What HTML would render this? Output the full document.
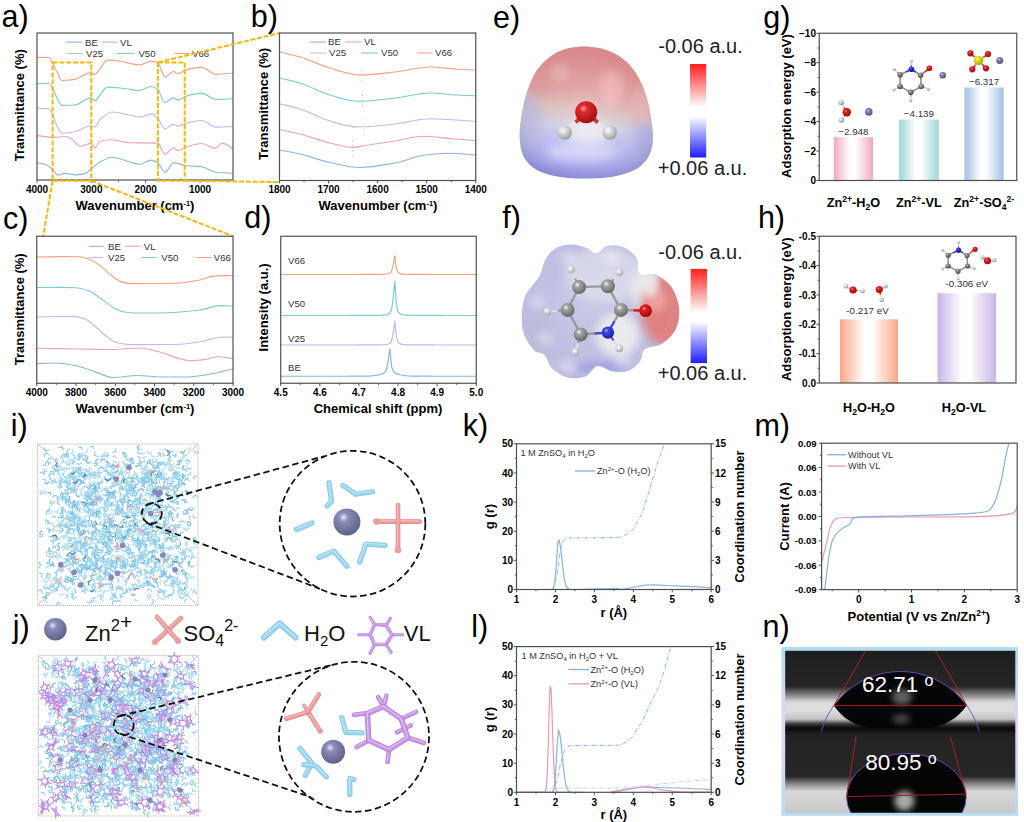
<!DOCTYPE html>
<html><head><meta charset="utf-8"><style>
html,body{margin:0;padding:0;background:#fff;}
svg{display:block;}
text{font-family:"Liberation Sans", sans-serif;}
</style></head><body>
<svg width="1024" height="822" viewBox="0 0 1024 822">
<defs><linearGradient id="eg" x1="0.1" y1="0" x2="0" y2="1"><stop offset="0" stop-color="#d88282"/><stop offset="0.3" stop-color="#dc9696"/><stop offset="0.45" stop-color="#d8bcbc"/><stop offset="0.56" stop-color="#cccce0"/><stop offset="0.7" stop-color="#b8b8f0"/><stop offset="0.86" stop-color="#a2a2ee"/><stop offset="1" stop-color="#8686de"/></linearGradient>
<radialGradient id="eshade" cx="0.5" cy="0.45" r="0.62"><stop offset="0" stop-color="#fff" stop-opacity="0.25"/><stop offset="0.65" stop-color="#fff" stop-opacity="0.05"/><stop offset="1" stop-color="#404060" stop-opacity="0.2"/></radialGradient>
<filter id="blur1" x="-30%" y="-30%" width="160%" height="160%"><feGaussianBlur stdDeviation="3"/></filter>
<filter id="soft" x="-5%" y="-5%" width="110%" height="110%"><feGaussianBlur stdDeviation="0.3"/></filter>
<filter id="blur2" x="-30%" y="-30%" width="160%" height="160%"><feGaussianBlur stdDeviation="5"/></filter>
<clipPath id="eclip"><path d="M584,46.5 C606,46.5 624,55 636,73 C646,89 650,108 652.5,128 C655,150 648,165 630,172 C614,178 600,178.5 585,178.5 C568,178.5 552,177 539,171 C524,164 518,150 520,128 C522,108 526,89 535,73 C547,55 562,46.5 584,46.5 Z"/></clipPath>
<radialGradient id="be4e4e49a9a9a" cx="0.38" cy="0.33" r="0.7"><stop offset="0" stop-color="#ffffff"/><stop offset="0.25" stop-color="#e4e4e4"/><stop offset="1" stop-color="#9a9a9a"/></radialGradient>
<radialGradient id="be02a2aa01010" cx="0.38" cy="0.33" r="0.7"><stop offset="0" stop-color="#ff9a9a"/><stop offset="0.25" stop-color="#e02a2a"/><stop offset="1" stop-color="#a01010"/></radialGradient>
<linearGradient id="cb1" x1="0" y1="0" x2="0" y2="1"><stop offset="0" stop-color="#ff1e1e"/><stop offset="0.4" stop-color="#ffe2e2"/><stop offset="0.46" stop-color="#ffffff"/><stop offset="0.56" stop-color="#ffffff"/><stop offset="0.62" stop-color="#e0e0ff"/><stop offset="1" stop-color="#1e1eff"/></linearGradient>
<clipPath id="fclip"><path d="M545.70,259.00 C548.25,254.58 551.07,250.92 555.30,248.50 C559.53,246.08 565.83,244.58 571.10,244.50 C576.37,244.42 582.75,246.50 586.90,248.00 C591.05,249.50 592.50,253.88 596.00,253.50 C599.50,253.12 603.28,246.75 607.90,245.70 C612.52,244.65 618.93,245.15 623.70,247.20 C628.47,249.25 633.87,253.45 636.50,258.00 C639.13,262.55 636.38,271.75 639.50,274.50 C642.62,277.25 649.95,272.50 655.20,274.50 C660.45,276.50 667.03,280.90 671.00,286.50 C674.97,292.10 678.23,301.00 679.00,308.10 C679.77,315.20 678.40,323.20 675.60,329.10 C672.80,335.00 667.38,340.10 662.20,343.50 C657.02,346.90 648.15,346.58 644.50,349.50 C640.85,352.42 642.90,357.50 640.30,361.00 C637.70,364.50 633.43,368.75 628.90,370.50 C624.37,372.25 618.35,372.25 613.10,371.50 C607.85,370.75 602.07,365.17 597.40,366.00 C592.73,366.83 590.07,374.58 585.10,376.50 C580.13,378.42 573.15,378.92 567.60,377.50 C562.05,376.08 555.65,371.75 551.80,368.00 C547.95,364.25 547.42,357.92 544.50,355.00 C541.58,352.08 537.62,353.65 534.30,350.50 C530.98,347.35 526.70,341.42 524.60,336.10 C522.50,330.78 521.70,325.02 521.70,318.60 C521.70,312.18 522.80,303.15 524.60,297.60 C526.40,292.05 529.93,289.07 532.50,285.30 C535.07,281.53 537.80,279.38 540.00,275.00 C542.20,270.62 543.15,263.42 545.70,259.00Z"/></clipPath>
<radialGradient id="fshade" cx="0.45" cy="0.45" r="0.62"><stop offset="0" stop-color="#fff" stop-opacity="0.15"/><stop offset="0.75" stop-color="#fff" stop-opacity="0.0"/><stop offset="1" stop-color="#505070" stop-opacity="0.18"/></radialGradient>
<radialGradient id="be8e8e8a8a8a8" cx="0.38" cy="0.33" r="0.7"><stop offset="0" stop-color="#ffffff"/><stop offset="0.25" stop-color="#e8e8e8"/><stop offset="1" stop-color="#a8a8a8"/></radialGradient>
<radialGradient id="ba6a6a6646464" cx="0.38" cy="0.33" r="0.7"><stop offset="0" stop-color="#ffffff"/><stop offset="0.25" stop-color="#a6a6a6"/><stop offset="1" stop-color="#646464"/></radialGradient>
<radialGradient id="b3a46e01a20a0" cx="0.38" cy="0.33" r="0.7"><stop offset="0" stop-color="#a8b0ff"/><stop offset="0.25" stop-color="#3a46e0"/><stop offset="1" stop-color="#1a20a0"/></radialGradient>
<radialGradient id="be02020a00808" cx="0.38" cy="0.33" r="0.7"><stop offset="0" stop-color="#ff9090"/><stop offset="0.25" stop-color="#e02020"/><stop offset="1" stop-color="#a00808"/></radialGradient>
<linearGradient id="cb2" x1="0" y1="0" x2="0" y2="1"><stop offset="0" stop-color="#ff1e1e"/><stop offset="0.4" stop-color="#ffe2e2"/><stop offset="0.46" stop-color="#ffffff"/><stop offset="0.56" stop-color="#ffffff"/><stop offset="0.62" stop-color="#e0e0ff"/><stop offset="1" stop-color="#1e1eff"/></linearGradient>
<linearGradient id="gb1" x1="0" y1="0" x2="1" y2="0"><stop offset="0" stop-color="#eeaabf"/><stop offset="0.42" stop-color="#ffffff"/><stop offset="0.55" stop-color="#ffffff"/><stop offset="1" stop-color="#eeaabf"/></linearGradient>
<linearGradient id="gb2" x1="0" y1="0" x2="1" y2="0"><stop offset="0" stop-color="#9ed6d8"/><stop offset="0.42" stop-color="#ffffff"/><stop offset="0.55" stop-color="#ffffff"/><stop offset="1" stop-color="#9ed6d8"/></linearGradient>
<linearGradient id="gb3" x1="0" y1="0" x2="1" y2="0"><stop offset="0" stop-color="#a2c0e2"/><stop offset="0.42" stop-color="#ffffff"/><stop offset="0.55" stop-color="#ffffff"/><stop offset="1" stop-color="#a2c0e2"/></linearGradient>
<radialGradient id="be0e0e0909090" cx="0.38" cy="0.33" r="0.7"><stop offset="0" stop-color="#fff"/><stop offset="0.25" stop-color="#e0e0e0"/><stop offset="1" stop-color="#909090"/></radialGradient>
<radialGradient id="b8486b4505080" cx="0.38" cy="0.33" r="0.7"><stop offset="0" stop-color="#d0d0f0"/><stop offset="0.25" stop-color="#8486b4"/><stop offset="1" stop-color="#505080"/></radialGradient>
<radialGradient id="bd8d8d8909090" cx="0.38" cy="0.33" r="0.7"><stop offset="0" stop-color="#ffffff"/><stop offset="0.25" stop-color="#d8d8d8"/><stop offset="1" stop-color="#909090"/></radialGradient>
<radialGradient id="b8a8a8a4a4a4a" cx="0.38" cy="0.33" r="0.7"><stop offset="0" stop-color="#dddddd"/><stop offset="0.25" stop-color="#8a8a8a"/><stop offset="1" stop-color="#4a4a4a"/></radialGradient>
<radialGradient id="b2a36e01010a0" cx="0.38" cy="0.33" r="0.7"><stop offset="0" stop-color="#9090ff"/><stop offset="0.25" stop-color="#2a36e0"/><stop offset="1" stop-color="#1010a0"/></radialGradient>
<radialGradient id="be8e020a0a000" cx="0.38" cy="0.33" r="0.7"><stop offset="0" stop-color="#ffffa0"/><stop offset="0.25" stop-color="#e8e020"/><stop offset="1" stop-color="#a0a000"/></radialGradient>
<linearGradient id="hb1" x1="0" y1="0" x2="1" y2="0"><stop offset="0" stop-color="#f6a888"/><stop offset="0.42" stop-color="#ffffff"/><stop offset="0.55" stop-color="#ffffff"/><stop offset="1" stop-color="#f6a888"/></linearGradient>
<linearGradient id="hb2" x1="0" y1="0" x2="1" y2="0"><stop offset="0" stop-color="#c8b6e6"/><stop offset="0.42" stop-color="#ffffff"/><stop offset="0.55" stop-color="#ffffff"/><stop offset="1" stop-color="#c8b6e6"/></linearGradient>
<radialGradient id="b8a8cb65e608a" cx="0.38" cy="0.33" r="0.7"><stop offset="0" stop-color="#e4e6f8"/><stop offset="0.25" stop-color="#8a8cb6"/><stop offset="1" stop-color="#5e608a"/></radialGradient>
<linearGradient id="nframe" x1="0" y1="0" x2="0" y2="1"><stop offset="0" stop-color="#b4dcf0"/><stop offset="0.5" stop-color="#e8d4f0"/><stop offset="1" stop-color="#b4dcf0"/></linearGradient>
<linearGradient id="n1bg" x1="0" y1="0" x2="0" y2="1"><stop offset="0" stop-color="#1e1e1e"/><stop offset="0.44" stop-color="#262626"/><stop offset="0.53" stop-color="#787878"/><stop offset="0.63" stop-color="#d8d8d8"/><stop offset="0.72" stop-color="#e0e0e0"/><stop offset="0.84" stop-color="#c4c4c4"/><stop offset="0.9" stop-color="#3a3a3a"/><stop offset="0.94" stop-color="#101010"/><stop offset="1" stop-color="#0c0c0c"/></linearGradient>
<linearGradient id="n2bg" x1="0" y1="0" x2="0" y2="1"><stop offset="0" stop-color="#1c1c1c"/><stop offset="0.1" stop-color="#242424"/><stop offset="0.55" stop-color="#262626"/><stop offset="0.67" stop-color="#a0a0a0"/><stop offset="0.74" stop-color="#d8d8d8"/><stop offset="1" stop-color="#c8c8c8"/></linearGradient></defs>
<path d="M37.00,162.90 C39.67,163.33 42.33,163.49 45.00,164.20 C47.53,164.87 50.07,167.36 52.60,169.50 C54.40,171.02 56.20,175.10 58.00,175.10 C60.33,175.10 62.67,173.30 65.00,173.30 C68.33,173.30 71.67,174.80 75.00,174.80 C78.33,174.80 81.67,174.33 85.00,173.60 C87.00,173.16 89.00,170.64 91.00,169.10 C94.00,166.80 97.00,163.62 100.00,162.00 C104.00,159.84 108.00,157.20 112.00,157.20 C118.00,157.20 124.00,160.51 130.00,162.00 C133.13,162.78 136.27,164.20 139.40,164.20 C143.50,164.20 147.60,160.10 151.70,160.10 C153.80,160.10 155.90,161.51 158.00,162.90 C160.33,164.44 162.67,172.30 165.00,172.30 C167.80,172.30 170.60,162.90 173.40,162.90 C177.77,162.90 182.13,165.25 186.50,165.70 C191.53,166.22 196.57,166.12 201.60,166.70 C206.33,167.24 211.07,171.81 215.80,172.30 C221.53,172.90 227.27,172.97 233.00,173.30" fill="none" stroke="#8cb6e0" stroke-width="1.15" />
<path d="M37.00,135.60 C43.00,136.20 49.00,137.40 55.00,137.40 C58.33,137.40 61.67,136.50 65.00,136.50 C67.33,136.50 69.67,138.02 72.00,139.30 C74.67,140.76 77.33,146.50 80.00,146.50 C82.50,146.50 85.00,144.48 87.50,144.00 C88.67,143.78 89.83,143.50 91.00,143.50 C92.33,143.50 93.67,147.80 95.00,147.80 C96.67,147.80 98.33,141.69 100.00,141.20 C103.33,140.21 106.67,139.70 110.00,139.70 C116.67,139.70 123.33,142.52 130.00,142.70 C139.33,142.96 148.67,142.77 158.00,143.10 C160.30,143.18 162.60,154.40 164.90,154.40 C167.73,154.40 170.57,147.80 173.40,147.80 C174.93,147.80 176.47,150.60 178.00,150.60 C180.83,150.60 183.67,147.77 186.50,146.90 C191.53,145.36 196.57,143.50 201.60,143.50 C206.33,143.50 211.07,148.40 215.80,148.40 C217.87,148.40 219.93,143.10 222.00,143.10 C225.67,143.10 229.33,146.90 233.00,148.80" fill="none" stroke="#f0a2b8" stroke-width="1.15" />
<path d="M37.00,108.20 C40.97,108.40 44.93,108.34 48.90,108.80 C50.13,108.94 51.37,112.37 52.60,114.80 C54.07,117.69 55.53,123.26 57.00,126.00 C58.67,129.11 60.33,133.30 62.00,133.30 C66.33,133.30 70.67,132.59 75.00,131.80 C79.17,131.04 83.33,127.56 87.50,126.50 C88.67,126.20 89.83,125.80 91.00,125.80 C92.33,125.80 93.67,127.10 95.00,127.10 C96.67,127.10 98.33,121.07 100.00,119.50 C104.00,115.74 108.00,112.00 112.00,112.00 C118.00,112.00 124.00,114.06 130.00,115.20 C133.13,115.80 136.27,117.10 139.40,117.10 C143.50,117.10 147.60,113.90 151.70,113.90 C153.80,113.90 155.90,116.51 158.00,118.60 C160.30,120.88 162.60,129.00 164.90,129.00 C167.73,129.00 170.57,124.30 173.40,124.30 C174.93,124.30 176.47,126.10 178.00,126.10 C180.83,126.10 183.67,123.99 186.50,123.30 C191.53,122.07 196.57,120.50 201.60,120.50 C206.33,120.50 211.07,127.10 215.80,127.10 C221.53,127.10 227.27,126.70 233.00,126.50" fill="none" stroke="#c6b8ec" stroke-width="1.15" />
<path d="M37.00,83.70 C40.97,83.53 44.93,83.20 48.90,83.20 C50.13,83.20 51.37,86.30 52.60,88.40 C54.07,90.89 55.53,95.40 57.00,98.00 C58.67,100.95 60.33,105.40 62.00,105.40 C66.33,105.40 70.67,105.25 75.00,105.00 C79.17,104.76 83.33,100.24 87.50,98.80 C88.67,98.40 89.83,97.80 91.00,97.80 C92.33,97.80 93.67,100.70 95.00,100.70 C96.67,100.70 98.33,96.85 100.00,95.00 C102.43,92.29 104.87,87.10 107.30,87.10 C111.53,87.10 115.77,87.60 120.00,88.00 C123.33,88.32 126.67,88.98 130.00,89.40 C133.13,89.80 136.27,90.50 139.40,90.50 C143.27,90.50 147.13,86.50 151.00,86.50 C153.33,86.50 155.67,87.78 158.00,89.40 C160.17,90.90 162.33,102.60 164.50,102.60 C167.47,102.60 170.43,97.90 173.40,97.90 C174.93,97.90 176.47,100.10 178.00,100.10 C180.83,100.10 183.67,96.81 186.50,96.00 C191.53,94.56 196.57,93.10 201.60,93.10 C206.33,93.10 211.07,99.40 215.80,99.40 C221.53,99.40 227.27,99.00 233.00,98.80" fill="none" stroke="#7ccccc" stroke-width="1.15" />
<path d="M37.00,57.30 C40.97,57.37 44.93,57.34 48.90,57.50 C50.13,57.55 51.37,60.89 52.60,63.00 C54.07,65.51 55.53,69.27 57.00,72.00 C58.67,75.10 60.33,80.50 62.00,80.50 C66.33,80.50 70.67,80.03 75.00,79.40 C79.17,78.80 83.33,74.61 87.50,73.40 C88.67,73.06 89.83,72.60 91.00,72.60 C92.33,72.60 93.67,74.30 95.00,74.30 C96.67,74.30 98.33,70.51 100.00,68.60 C102.43,65.81 104.87,60.20 107.30,60.20 C111.53,60.20 115.77,60.56 120.00,61.00 C123.33,61.34 126.67,62.88 130.00,63.50 C133.13,64.08 136.27,64.90 139.40,64.90 C143.50,64.90 147.60,61.10 151.70,61.10 C153.80,61.10 155.90,61.91 158.00,63.00 C160.30,64.20 162.60,77.10 164.90,77.10 C167.73,77.10 170.57,71.50 173.40,71.50 C174.93,71.50 176.47,73.70 178.00,73.70 C180.83,73.70 183.67,70.29 186.50,69.60 C191.53,68.38 196.57,67.30 201.60,67.30 C206.33,67.30 211.07,74.30 215.80,74.30 C221.53,74.30 227.27,73.43 233.00,73.00" fill="none" stroke="#f4a282" stroke-width="1.15" />
<line x1="66.00" y1="42.10" x2="82.00" y2="42.10" stroke="#8cb6e0" stroke-width="1.1"/>
<text x="85.00" y="45.50" font-size="9.60" text-anchor="start" font-weight="normal" fill="#333" >BE</text>
<line x1="102.00" y1="42.10" x2="117.50" y2="42.10" stroke="#f0a2b8" stroke-width="1.1"/>
<text x="120.00" y="45.50" font-size="9.60" text-anchor="start" font-weight="normal" fill="#333" >VL</text>
<line x1="66.00" y1="53.40" x2="82.00" y2="53.40" stroke="#c6b8ec" stroke-width="1.1"/>
<text x="86.00" y="56.80" font-size="9.60" text-anchor="start" font-weight="normal" fill="#333" >V25</text>
<line x1="117.00" y1="53.40" x2="134.60" y2="53.40" stroke="#7ccccc" stroke-width="1.1"/>
<text x="138.40" y="56.80" font-size="9.60" text-anchor="start" font-weight="normal" fill="#333" >V50</text>
<line x1="174.40" y1="53.40" x2="189.00" y2="53.40" stroke="#f4a282" stroke-width="1.1"/>
<text x="192.00" y="56.80" font-size="9.60" text-anchor="start" font-weight="normal" fill="#333" >V66</text>
<rect x="37.00" y="33.00" width="196.00" height="147.00" fill="none" stroke="#505050" stroke-width="1.2"/>
<line x1="37.00" y1="180.00" x2="37.00" y2="182.80" stroke="#505050" stroke-width="1"/>
<line x1="91.33" y1="180.00" x2="91.33" y2="182.80" stroke="#505050" stroke-width="1"/>
<line x1="145.67" y1="180.00" x2="145.67" y2="182.80" stroke="#505050" stroke-width="1"/>
<line x1="200.00" y1="180.00" x2="200.00" y2="182.80" stroke="#505050" stroke-width="1"/>
<line x1="64.17" y1="180.00" x2="64.17" y2="181.60" stroke="#505050" stroke-width="1"/>
<line x1="118.50" y1="180.00" x2="118.50" y2="181.60" stroke="#505050" stroke-width="1"/>
<line x1="172.83" y1="180.00" x2="172.83" y2="181.60" stroke="#505050" stroke-width="1"/>
<line x1="227.17" y1="180.00" x2="227.17" y2="181.60" stroke="#505050" stroke-width="1"/>
<text x="37.00" y="192.80" font-size="10.00" text-anchor="middle" font-weight="bold" fill="#000" >4000</text>
<text x="91.33" y="192.80" font-size="10.00" text-anchor="middle" font-weight="bold" fill="#000" >3000</text>
<text x="145.67" y="192.80" font-size="10.00" text-anchor="middle" font-weight="bold" fill="#000" >2000</text>
<text x="200.00" y="192.80" font-size="10.00" text-anchor="middle" font-weight="bold" fill="#000" >1000</text>
<text x="135.00" y="209.50" font-size="13.00" text-anchor="middle" font-weight="bold" fill="#000" >Wavenumber (cm<tspan font-size="7.5" dy="-4">-1</tspan><tspan dy="4">)</tspan></text>
<text x="0.00" y="0.00" font-size="13.00" text-anchor="middle" font-weight="bold" fill="#000" transform="translate(23.8,105.2) rotate(-90)">Transmittance (%)</text>
<text x="1.50" y="27.30" font-size="30.50" text-anchor="start" font-weight="normal" fill="#000" >a)</text>
<rect x="52.6" y="62.4" width="38.7" height="118.4" fill="none" stroke="#f2b80c" stroke-width="2" stroke-dasharray="5 1.8"/>
<rect x="157.9" y="62.4" width="26.8" height="118.4" fill="none" stroke="#f2b80c" stroke-width="2" stroke-dasharray="5 1.8"/>
<line x1="157.90" y1="62.40" x2="279.50" y2="33.00" stroke="#f2b80c" stroke-width="2.00" stroke-dasharray="5 1.8"/>
<line x1="184.70" y1="180.80" x2="279.50" y2="182.00" stroke="#f2b80c" stroke-width="2.00" stroke-dasharray="5 1.8"/>
<line x1="52.60" y1="180.80" x2="43.20" y2="236.20" stroke="#f2b80c" stroke-width="2.00" stroke-dasharray="5 1.8"/>
<line x1="91.30" y1="180.80" x2="233.00" y2="236.20" stroke="#f2b80c" stroke-width="2.00" stroke-dasharray="5 1.8"/>
<path d="M279.50,150.00 C286.33,151.33 293.17,152.44 300.00,154.00 C310.00,156.28 320.00,160.40 330.00,162.50 C340.00,164.60 350.00,167.50 360.00,167.50 C371.67,167.50 383.33,165.04 395.00,163.00 C405.00,161.25 415.00,156.17 425.00,155.00 C432.50,154.12 440.00,153.25 447.50,153.25 C456.92,153.25 466.33,154.42 475.75,155.00" fill="none" stroke="#8cb6e0" stroke-width="1.15" />
<path d="M279.50,129.50 C286.33,131.00 293.17,132.28 300.00,134.00 C310.00,136.51 320.00,140.62 330.00,143.00 C337.50,144.78 345.00,147.50 352.50,147.50 C356.67,147.50 360.83,146.15 365.00,145.50 C375.00,143.94 385.00,142.61 395.00,141.00 C404.17,139.53 413.33,136.25 422.50,136.25 C432.50,136.25 442.50,137.96 452.50,138.75 C460.25,139.36 468.00,139.92 475.75,140.50" fill="none" stroke="#f0a2b8" stroke-width="1.15" />
<path d="M279.50,103.75 C286.33,105.50 293.17,106.90 300.00,109.00 C310.00,112.08 320.00,118.19 330.00,121.00 C339.17,123.58 348.33,127.00 357.50,127.00 C370.00,127.00 382.50,125.31 395.00,124.00 C406.67,122.78 418.33,118.75 430.00,118.75 C438.33,118.75 446.67,119.54 455.00,120.00 C461.92,120.38 468.83,120.83 475.75,121.25" fill="none" stroke="#c6b8ec" stroke-width="1.15" />
<path d="M279.50,78.00 C286.33,79.67 293.17,80.96 300.00,83.00 C310.00,85.98 320.00,92.11 330.00,95.00 C339.17,97.65 348.33,101.25 357.50,101.25 C370.00,101.25 382.50,99.35 395.00,98.00 C406.67,96.74 418.33,93.00 430.00,93.00 C438.33,93.00 446.67,94.59 455.00,95.00 C461.92,95.34 468.83,95.50 475.75,95.75" fill="none" stroke="#7ccccc" stroke-width="1.15" />
<path d="M279.50,51.75 C286.33,53.50 293.17,54.96 300.00,57.00 C310.00,59.98 320.00,65.15 330.00,68.00 C340.00,70.85 350.00,75.00 360.00,75.00 C371.67,75.00 383.33,73.25 395.00,72.00 C406.67,70.75 418.33,67.00 430.00,67.00 C438.33,67.00 446.67,68.50 455.00,69.00 C461.92,69.41 468.83,69.67 475.75,70.00" fill="none" stroke="#f4a282" stroke-width="1.15" />
<line x1="361.75" y1="70.00" x2="361.75" y2="86.00" stroke="#f4a282" stroke-width="1" stroke-dasharray="1.2 4"/>
<line x1="362.50" y1="95.00" x2="362.50" y2="110.00" stroke="#7ccccc" stroke-width="1" stroke-dasharray="1.2 4"/>
<line x1="364.00" y1="118.00" x2="364.00" y2="136.00" stroke="#c6b8ec" stroke-width="1" stroke-dasharray="1.2 4"/>
<line x1="352.50" y1="140.00" x2="352.50" y2="157.00" stroke="#f0a2b8" stroke-width="1" stroke-dasharray="1.2 4"/>
<line x1="310.00" y1="42.00" x2="326.25" y2="42.00" stroke="#8cb6e0" stroke-width="1.1"/>
<text x="328.00" y="45.40" font-size="9.60" text-anchor="start" font-weight="normal" fill="#333" >BE</text>
<line x1="345.00" y1="42.00" x2="361.25" y2="42.00" stroke="#f0a2b8" stroke-width="1.1"/>
<text x="364.00" y="45.40" font-size="9.60" text-anchor="start" font-weight="normal" fill="#333" >VL</text>
<line x1="310.00" y1="53.00" x2="326.25" y2="53.00" stroke="#c6b8ec" stroke-width="1.1"/>
<text x="329.00" y="56.40" font-size="9.60" text-anchor="start" font-weight="normal" fill="#333" >V25</text>
<line x1="361.25" y1="53.00" x2="377.50" y2="53.00" stroke="#7ccccc" stroke-width="1.1"/>
<text x="381.00" y="56.40" font-size="9.60" text-anchor="start" font-weight="normal" fill="#333" >V50</text>
<line x1="417.50" y1="53.00" x2="432.50" y2="53.00" stroke="#f4a282" stroke-width="1.1"/>
<text x="435.00" y="56.40" font-size="9.60" text-anchor="start" font-weight="normal" fill="#333" >V66</text>
<rect x="279.50" y="33.00" width="196.25" height="147.50" fill="none" stroke="#505050" stroke-width="1.2"/>
<line x1="279.50" y1="180.50" x2="279.50" y2="183.30" stroke="#505050" stroke-width="1"/>
<line x1="328.56" y1="180.50" x2="328.56" y2="183.30" stroke="#505050" stroke-width="1"/>
<line x1="377.62" y1="180.50" x2="377.62" y2="183.30" stroke="#505050" stroke-width="1"/>
<line x1="426.69" y1="180.50" x2="426.69" y2="183.30" stroke="#505050" stroke-width="1"/>
<line x1="475.75" y1="180.50" x2="475.75" y2="183.30" stroke="#505050" stroke-width="1"/>
<line x1="304.03" y1="180.50" x2="304.03" y2="182.10" stroke="#505050" stroke-width="1"/>
<line x1="353.09" y1="180.50" x2="353.09" y2="182.10" stroke="#505050" stroke-width="1"/>
<line x1="402.16" y1="180.50" x2="402.16" y2="182.10" stroke="#505050" stroke-width="1"/>
<line x1="451.22" y1="180.50" x2="451.22" y2="182.10" stroke="#505050" stroke-width="1"/>
<text x="279.50" y="192.80" font-size="10.00" text-anchor="middle" font-weight="bold" fill="#000" >1800</text>
<text x="328.56" y="192.80" font-size="10.00" text-anchor="middle" font-weight="bold" fill="#000" >1700</text>
<text x="377.62" y="192.80" font-size="10.00" text-anchor="middle" font-weight="bold" fill="#000" >1600</text>
<text x="426.69" y="192.80" font-size="10.00" text-anchor="middle" font-weight="bold" fill="#000" >1500</text>
<text x="475.75" y="192.80" font-size="10.00" text-anchor="middle" font-weight="bold" fill="#000" >1400</text>
<text x="378.00" y="209.50" font-size="13.00" text-anchor="middle" font-weight="bold" fill="#000" >Wavenumber (cm<tspan font-size="7.5" dy="-4">-1</tspan><tspan dy="4">)</tspan></text>
<text x="0.00" y="0.00" font-size="13.00" text-anchor="middle" font-weight="bold" fill="#000" transform="translate(268,104) rotate(-90)">Transmittance (%)</text>
<text x="250.75" y="27.20" font-size="30.50" text-anchor="start" font-weight="normal" fill="#000" >b)</text>
<path d="M36.75,363.75 C42.83,363.50 48.92,363.00 55.00,363.00 C61.67,363.00 68.33,364.30 75.00,365.50 C80.00,366.40 85.00,368.32 90.00,370.00 C93.33,371.12 96.67,372.63 100.00,373.75 C104.17,375.14 108.33,377.50 112.50,377.50 C120.83,377.50 129.17,375.50 137.50,375.50 C145.83,375.50 154.17,377.00 162.50,377.00 C170.83,377.00 179.17,377.00 187.50,377.00 C195.83,377.00 204.17,375.18 212.50,373.75 C219.33,372.58 226.17,370.42 233.00,368.75" fill="none" stroke="#8cb6e0" stroke-width="1.15" />
<path d="M36.75,348.25 C51.17,348.50 65.58,348.77 80.00,349.00 C90.83,349.18 101.67,349.50 112.50,349.50 C121.67,349.50 130.83,348.00 140.00,348.00 C146.67,348.00 153.33,350.33 160.00,352.00 C166.67,353.67 173.33,357.12 180.00,358.75 C183.33,359.56 186.67,360.75 190.00,360.75 C195.00,360.75 200.00,360.10 205.00,359.50 C209.33,358.98 213.67,356.75 218.00,356.75 C223.00,356.75 228.00,358.08 233.00,358.75" fill="none" stroke="#f0a2b8" stroke-width="1.15" />
<path d="M36.75,317.00 C44.50,316.83 52.25,316.50 60.00,316.50 C65.33,316.50 70.67,316.53 76.00,316.60 C79.33,316.64 82.67,318.10 86.00,319.50 C89.67,321.04 93.33,325.01 97.00,328.00 C100.67,330.99 104.33,334.95 108.00,337.50 C111.00,339.59 114.00,342.10 117.00,342.80 C121.33,343.81 125.67,344.60 130.00,344.60 C145.00,344.60 160.00,344.57 175.00,344.50 C183.33,344.46 191.67,343.00 200.00,341.75 C206.67,340.75 213.33,337.38 220.00,337.20 C224.33,337.08 228.67,337.07 233.00,337.00" fill="none" stroke="#c6b8ec" stroke-width="1.15" />
<path d="M36.75,287.50 C44.50,287.47 52.25,287.40 60.00,287.40 C65.33,287.40 70.67,287.51 76.00,287.70 C80.00,287.84 84.00,289.15 88.00,290.50 C92.67,292.08 97.33,296.35 102.00,299.50 C106.00,302.20 110.00,305.91 114.00,308.00 C117.00,309.57 120.00,311.30 123.00,311.80 C127.00,312.47 131.00,313.00 135.00,313.00 C143.33,313.00 151.67,313.00 160.00,313.00 C173.33,313.00 186.67,311.58 200.00,310.00 C206.67,309.21 213.33,305.60 220.00,305.60 C224.33,305.60 228.67,306.03 233.00,306.25" fill="none" stroke="#7ccccc" stroke-width="1.15" />
<path d="M36.75,257.00 C44.50,256.87 52.25,256.60 60.00,256.60 C66.00,256.60 72.00,256.66 78.00,256.80 C81.33,256.88 84.67,257.83 88.00,258.80 C92.00,259.96 96.00,262.77 100.00,265.50 C104.00,268.23 108.00,273.11 112.00,276.00 C115.00,278.16 118.00,280.74 121.00,281.60 C124.67,282.65 128.33,283.60 132.00,283.60 C146.33,283.60 160.67,283.49 175.00,283.25 C183.33,283.11 191.67,281.51 200.00,280.00 C205.00,279.09 210.00,276.11 215.00,275.90 C221.00,275.65 227.00,275.63 233.00,275.50" fill="none" stroke="#f4a282" stroke-width="1.15" />
<line x1="88.75" y1="246.25" x2="103.75" y2="246.25" stroke="#8cb6e0" stroke-width="1.1"/>
<text x="108.00" y="249.65" font-size="9.60" text-anchor="start" font-weight="normal" fill="#333" >BE</text>
<line x1="125.00" y1="246.25" x2="140.00" y2="246.25" stroke="#f0a2b8" stroke-width="1.1"/>
<text x="143.75" y="249.65" font-size="9.60" text-anchor="start" font-weight="normal" fill="#333" >VL</text>
<line x1="88.75" y1="257.50" x2="103.75" y2="257.50" stroke="#c6b8ec" stroke-width="1.1"/>
<text x="108.00" y="260.90" font-size="9.60" text-anchor="start" font-weight="normal" fill="#333" >V25</text>
<line x1="141.25" y1="257.50" x2="156.25" y2="257.50" stroke="#7ccccc" stroke-width="1.1"/>
<text x="161.25" y="260.90" font-size="9.60" text-anchor="start" font-weight="normal" fill="#333" >V50</text>
<line x1="196.25" y1="257.50" x2="211.25" y2="257.50" stroke="#f4a282" stroke-width="1.1"/>
<text x="213.75" y="260.90" font-size="9.60" text-anchor="start" font-weight="normal" fill="#333" >V66</text>
<rect x="36.75" y="236.25" width="196.25" height="147.00" fill="none" stroke="#505050" stroke-width="1.2"/>
<line x1="36.75" y1="383.25" x2="36.75" y2="386.05" stroke="#505050" stroke-width="1"/>
<line x1="76.00" y1="383.25" x2="76.00" y2="386.05" stroke="#505050" stroke-width="1"/>
<line x1="115.25" y1="383.25" x2="115.25" y2="386.05" stroke="#505050" stroke-width="1"/>
<line x1="154.50" y1="383.25" x2="154.50" y2="386.05" stroke="#505050" stroke-width="1"/>
<line x1="193.75" y1="383.25" x2="193.75" y2="386.05" stroke="#505050" stroke-width="1"/>
<line x1="233.00" y1="383.25" x2="233.00" y2="386.05" stroke="#505050" stroke-width="1"/>
<line x1="56.38" y1="383.25" x2="56.38" y2="384.85" stroke="#505050" stroke-width="1"/>
<line x1="95.62" y1="383.25" x2="95.62" y2="384.85" stroke="#505050" stroke-width="1"/>
<line x1="134.88" y1="383.25" x2="134.88" y2="384.85" stroke="#505050" stroke-width="1"/>
<line x1="174.12" y1="383.25" x2="174.12" y2="384.85" stroke="#505050" stroke-width="1"/>
<line x1="213.38" y1="383.25" x2="213.38" y2="384.85" stroke="#505050" stroke-width="1"/>
<text x="36.75" y="396.00" font-size="10.00" text-anchor="middle" font-weight="bold" fill="#000" >4000</text>
<text x="76.00" y="396.00" font-size="10.00" text-anchor="middle" font-weight="bold" fill="#000" >3800</text>
<text x="115.25" y="396.00" font-size="10.00" text-anchor="middle" font-weight="bold" fill="#000" >3600</text>
<text x="154.50" y="396.00" font-size="10.00" text-anchor="middle" font-weight="bold" fill="#000" >3400</text>
<text x="193.75" y="396.00" font-size="10.00" text-anchor="middle" font-weight="bold" fill="#000" >3200</text>
<text x="233.00" y="396.00" font-size="10.00" text-anchor="middle" font-weight="bold" fill="#000" >3000</text>
<text x="135.00" y="413.00" font-size="13.00" text-anchor="middle" font-weight="bold" fill="#000" >Wavenumber (cm<tspan font-size="7.5" dy="-4">-1</tspan><tspan dy="4">)</tspan></text>
<text x="0.00" y="0.00" font-size="13.00" text-anchor="middle" font-weight="bold" fill="#000" transform="translate(23.8,309.3) rotate(-90)">Transmittance (%)</text>
<text x="3.10" y="228.70" font-size="30.50" text-anchor="start" font-weight="normal" fill="#000" >c)</text>
<path d="M280.75,274.50 L282.38,274.50 L284.01,274.50 L285.64,274.50 L287.27,274.50 L288.90,274.50 L290.52,274.50 L292.15,274.50 L293.78,274.50 L295.41,274.50 L297.04,274.50 L298.67,274.50 L300.30,274.50 L301.93,274.50 L303.56,274.50 L305.19,274.50 L306.82,274.50 L308.45,274.50 L310.07,274.50 L311.70,274.50 L313.33,274.50 L314.96,274.50 L316.59,274.49 L318.22,274.49 L319.85,274.49 L321.48,274.49 L323.11,274.49 L324.74,274.49 L326.37,274.49 L328.00,274.49 L329.62,274.49 L331.25,274.49 L332.88,274.49 L334.51,274.49 L336.14,274.49 L337.77,274.49 L339.40,274.49 L341.03,274.49 L342.66,274.49 L344.29,274.49 L345.92,274.49 L347.55,274.49 L349.18,274.48 L350.80,274.48 L352.43,274.48 L354.06,274.48 L355.69,274.48 L357.32,274.48 L358.95,274.48 L360.58,274.47 L362.21,274.47 L363.84,274.47 L365.47,274.46 L367.10,274.46 L368.73,274.45 L370.35,274.45 L371.98,274.44 L373.61,274.43 L375.24,274.42 L376.87,274.40 L378.50,274.38 L380.13,274.35 L381.76,274.31 L383.39,274.25 L385.02,274.16 L386.65,274.01 L388.27,273.72 L389.90,273.12 L391.53,271.48 L393.16,265.18 L394.79,255.53 L396.42,268.55 L398.05,272.29 L399.68,273.40 L401.31,273.85 L402.94,274.07 L404.57,274.20 L406.20,274.27 L407.82,274.33 L409.45,274.36 L411.08,274.39 L412.71,274.41 L414.34,274.42 L415.97,274.43 L417.60,274.44 L419.23,274.45 L420.86,274.46 L422.49,274.46 L424.12,274.46 L425.75,274.47 L427.38,274.47 L429.00,274.47 L430.63,274.48 L432.26,274.48 L433.89,274.48 L435.52,274.48 L437.15,274.48 L438.78,274.48 L440.41,274.49 L442.04,274.49 L443.67,274.49 L445.30,274.49 L446.93,274.49 L448.55,274.49 L450.18,274.49 L451.81,274.49 L453.44,274.49 L455.07,274.49 L456.70,274.49 L458.33,274.49 L459.96,274.49 L461.59,274.49 L463.22,274.49 L464.85,274.49 L466.48,274.49 L468.10,274.49 L469.73,274.49 L471.36,274.49 L472.99,274.49 L474.62,274.50 L476.25,274.50" fill="none" stroke="#f4a282" stroke-width="1.20" />
<text x="288.00" y="263.50" font-size="9.60" text-anchor="start" font-weight="normal" fill="#333" >V66</text>
<path d="M280.75,315.50 L282.38,315.50 L284.01,315.50 L285.64,315.50 L287.27,315.50 L288.90,315.49 L290.52,315.49 L292.15,315.49 L293.78,315.49 L295.41,315.49 L297.04,315.49 L298.67,315.49 L300.30,315.49 L301.93,315.49 L303.56,315.49 L305.19,315.49 L306.82,315.49 L308.45,315.49 L310.07,315.49 L311.70,315.49 L313.33,315.49 L314.96,315.49 L316.59,315.49 L318.22,315.49 L319.85,315.49 L321.48,315.49 L323.11,315.49 L324.74,315.49 L326.37,315.49 L328.00,315.49 L329.62,315.49 L331.25,315.49 L332.88,315.48 L334.51,315.48 L336.14,315.48 L337.77,315.48 L339.40,315.48 L341.03,315.48 L342.66,315.48 L344.29,315.48 L345.92,315.48 L347.55,315.47 L349.18,315.47 L350.80,315.47 L352.43,315.47 L354.06,315.47 L355.69,315.46 L357.32,315.46 L358.95,315.45 L360.58,315.45 L362.21,315.45 L363.84,315.44 L365.47,315.43 L367.10,315.42 L368.73,315.41 L370.35,315.40 L371.98,315.39 L373.61,315.37 L375.24,315.35 L376.87,315.32 L378.50,315.28 L380.13,315.23 L381.76,315.15 L383.39,315.04 L385.02,314.88 L386.65,314.60 L388.27,314.09 L389.90,312.99 L391.53,310.00 L393.16,298.48 L394.79,280.88 L396.42,304.64 L398.05,311.47 L399.68,313.49 L401.31,314.31 L402.94,314.72 L404.57,314.95 L406.20,315.09 L407.82,315.18 L409.45,315.25 L411.08,315.29 L412.71,315.33 L414.34,315.36 L415.97,315.38 L417.60,315.39 L419.23,315.41 L420.86,315.42 L422.49,315.43 L424.12,315.44 L425.75,315.44 L427.38,315.45 L429.00,315.45 L430.63,315.46 L432.26,315.46 L433.89,315.46 L435.52,315.47 L437.15,315.47 L438.78,315.47 L440.41,315.47 L442.04,315.47 L443.67,315.48 L445.30,315.48 L446.93,315.48 L448.55,315.48 L450.18,315.48 L451.81,315.48 L453.44,315.48 L455.07,315.48 L456.70,315.49 L458.33,315.49 L459.96,315.49 L461.59,315.49 L463.22,315.49 L464.85,315.49 L466.48,315.49 L468.10,315.49 L469.73,315.49 L471.36,315.49 L472.99,315.49 L474.62,315.49 L476.25,315.49" fill="none" stroke="#7ccccc" stroke-width="1.20" />
<text x="288.00" y="306.50" font-size="9.60" text-anchor="start" font-weight="normal" fill="#333" >V50</text>
<path d="M280.75,345.00 L282.38,345.00 L284.01,345.00 L285.64,345.00 L287.27,345.00 L288.90,345.00 L290.52,345.00 L292.15,345.00 L293.78,345.00 L295.41,345.00 L297.04,345.00 L298.67,345.00 L300.30,345.00 L301.93,345.00 L303.56,345.00 L305.19,345.00 L306.82,344.99 L308.45,344.99 L310.07,344.99 L311.70,344.99 L313.33,344.99 L314.96,344.99 L316.59,344.99 L318.22,344.99 L319.85,344.99 L321.48,344.99 L323.11,344.99 L324.74,344.99 L326.37,344.99 L328.00,344.99 L329.62,344.99 L331.25,344.99 L332.88,344.99 L334.51,344.99 L336.14,344.99 L337.77,344.99 L339.40,344.99 L341.03,344.99 L342.66,344.99 L344.29,344.98 L345.92,344.98 L347.55,344.98 L349.18,344.98 L350.80,344.98 L352.43,344.98 L354.06,344.98 L355.69,344.97 L357.32,344.97 L358.95,344.97 L360.58,344.97 L362.21,344.96 L363.84,344.96 L365.47,344.95 L367.10,344.95 L368.73,344.94 L370.35,344.93 L371.98,344.92 L373.61,344.91 L375.24,344.89 L376.87,344.87 L378.50,344.85 L380.13,344.81 L381.76,344.76 L383.39,344.68 L385.02,344.56 L386.65,344.37 L388.27,344.01 L389.90,343.24 L391.53,341.16 L393.16,333.11 L394.79,320.82 L396.42,337.41 L398.05,342.19 L399.68,343.60 L401.31,344.17 L402.94,344.45 L404.57,344.61 L406.20,344.71 L407.82,344.78 L409.45,344.82 L411.08,344.86 L412.71,344.88 L414.34,344.90 L415.97,344.91 L417.60,344.93 L419.23,344.94 L420.86,344.94 L422.49,344.95 L424.12,344.95 L425.75,344.96 L427.38,344.96 L429.00,344.97 L430.63,344.97 L432.26,344.97 L433.89,344.97 L435.52,344.98 L437.15,344.98 L438.78,344.98 L440.41,344.98 L442.04,344.98 L443.67,344.98 L445.30,344.98 L446.93,344.99 L448.55,344.99 L450.18,344.99 L451.81,344.99 L453.44,344.99 L455.07,344.99 L456.70,344.99 L458.33,344.99 L459.96,344.99 L461.59,344.99 L463.22,344.99 L464.85,344.99 L466.48,344.99 L468.10,344.99 L469.73,344.99 L471.36,344.99 L472.99,344.99 L474.62,344.99 L476.25,344.99" fill="none" stroke="#c6b8ec" stroke-width="1.20" />
<text x="288.00" y="341.50" font-size="9.60" text-anchor="start" font-weight="normal" fill="#333" >V25</text>
<path d="M280.75,376.25 L282.38,376.25 L284.01,376.25 L285.64,376.25 L287.27,376.25 L288.90,376.25 L290.52,376.25 L292.15,376.25 L293.78,376.25 L295.41,376.25 L297.04,376.24 L298.67,376.24 L300.30,376.24 L301.93,376.24 L303.56,376.24 L305.19,376.24 L306.82,376.24 L308.45,376.24 L310.07,376.24 L311.70,376.24 L313.33,376.24 L314.96,376.24 L316.59,376.24 L318.22,376.24 L319.85,376.24 L321.48,376.24 L323.11,376.24 L324.74,376.24 L326.37,376.24 L328.00,376.24 L329.62,376.24 L331.25,376.24 L332.88,376.24 L334.51,376.24 L336.14,376.23 L337.77,376.23 L339.40,376.23 L341.03,376.23 L342.66,376.23 L344.29,376.23 L345.92,376.23 L347.55,376.23 L349.18,376.22 L350.80,376.22 L352.43,376.22 L354.06,376.22 L355.69,376.21 L357.32,376.21 L358.95,376.20 L360.58,376.19 L362.21,376.18 L363.84,376.16 L365.47,376.13 L367.10,376.09 L368.73,376.03 L370.35,375.94 L371.98,375.81 L373.61,375.65 L375.24,375.43 L376.87,375.16 L378.50,374.82 L380.13,374.41 L381.76,373.90 L383.39,373.22 L385.02,372.09 L386.65,369.46 L388.27,359.75 L389.90,348.86 L391.53,366.28 L393.16,371.10 L394.79,372.74 L396.42,373.59 L398.05,374.17 L399.68,374.62 L401.31,375.00 L402.94,375.30 L404.57,375.55 L406.20,375.74 L407.82,375.88 L409.45,375.99 L411.08,376.06 L412.71,376.11 L414.34,376.15 L415.97,376.17 L417.60,376.19 L419.23,376.20 L420.86,376.20 L422.49,376.21 L424.12,376.21 L425.75,376.22 L427.38,376.22 L429.00,376.22 L430.63,376.22 L432.26,376.23 L433.89,376.23 L435.52,376.23 L437.15,376.23 L438.78,376.23 L440.41,376.23 L442.04,376.23 L443.67,376.24 L445.30,376.24 L446.93,376.24 L448.55,376.24 L450.18,376.24 L451.81,376.24 L453.44,376.24 L455.07,376.24 L456.70,376.24 L458.33,376.24 L459.96,376.24 L461.59,376.24 L463.22,376.24 L464.85,376.24 L466.48,376.24 L468.10,376.24 L469.73,376.24 L471.36,376.24 L472.99,376.24 L474.62,376.24 L476.25,376.24" fill="none" stroke="#8cb6e0" stroke-width="1.20" />
<text x="288.00" y="370.50" font-size="9.60" text-anchor="start" font-weight="normal" fill="#333" >BE</text>
<rect x="280.75" y="236.25" width="195.50" height="147.00" fill="none" stroke="#505050" stroke-width="1.2"/>
<line x1="280.75" y1="383.25" x2="280.75" y2="386.05" stroke="#505050" stroke-width="1"/>
<line x1="319.85" y1="383.25" x2="319.85" y2="386.05" stroke="#505050" stroke-width="1"/>
<line x1="358.95" y1="383.25" x2="358.95" y2="386.05" stroke="#505050" stroke-width="1"/>
<line x1="398.05" y1="383.25" x2="398.05" y2="386.05" stroke="#505050" stroke-width="1"/>
<line x1="437.15" y1="383.25" x2="437.15" y2="386.05" stroke="#505050" stroke-width="1"/>
<line x1="476.25" y1="383.25" x2="476.25" y2="386.05" stroke="#505050" stroke-width="1"/>
<line x1="300.30" y1="383.25" x2="300.30" y2="384.85" stroke="#505050" stroke-width="1"/>
<line x1="339.40" y1="383.25" x2="339.40" y2="384.85" stroke="#505050" stroke-width="1"/>
<line x1="378.50" y1="383.25" x2="378.50" y2="384.85" stroke="#505050" stroke-width="1"/>
<line x1="417.60" y1="383.25" x2="417.60" y2="384.85" stroke="#505050" stroke-width="1"/>
<line x1="456.70" y1="383.25" x2="456.70" y2="384.85" stroke="#505050" stroke-width="1"/>
<text x="280.75" y="396.00" font-size="10.00" text-anchor="middle" font-weight="bold" fill="#000" >4.5</text>
<text x="319.85" y="396.00" font-size="10.00" text-anchor="middle" font-weight="bold" fill="#000" >4.6</text>
<text x="358.95" y="396.00" font-size="10.00" text-anchor="middle" font-weight="bold" fill="#000" >4.7</text>
<text x="398.05" y="396.00" font-size="10.00" text-anchor="middle" font-weight="bold" fill="#000" >4.8</text>
<text x="437.15" y="396.00" font-size="10.00" text-anchor="middle" font-weight="bold" fill="#000" >4.9</text>
<text x="476.25" y="396.00" font-size="10.00" text-anchor="middle" font-weight="bold" fill="#000" >5.0</text>
<text x="378.00" y="413.00" font-size="13.00" text-anchor="middle" font-weight="bold" fill="#000" >Chemical shift (ppm)</text>
<text x="0.00" y="0.00" font-size="13.00" text-anchor="middle" font-weight="bold" fill="#000" transform="translate(268,307.4) rotate(-90)">Intensity (a.u.)</text>
<text x="244.30" y="228.40" font-size="30.50" text-anchor="start" font-weight="normal" fill="#000" >d)</text>
<text x="493.10" y="27.50" font-size="30.50" text-anchor="start" font-weight="normal" fill="#000" >e)</text>
<path d="M584,46.5 C606,46.5 624,55 636,73 C646,89 650,108 652.5,128 C655,150 648,165 630,172 C614,178 600,178.5 585,178.5 C568,178.5 552,177 539,171 C524,164 518,150 520,128 C522,108 526,89 535,73 C547,55 562,46.5 584,46.5 Z" fill="url(#eg)"/>
<g clip-path="url(#eclip)">
<ellipse cx="528" cy="120" rx="14" ry="26" fill="#b4b4d8" opacity="0.7" filter="url(#blur2)"/>
<ellipse cx="640" cy="108" rx="12" ry="22" fill="#e4b4b8" opacity="0.6" filter="url(#blur2)"/>
<ellipse cx="645" cy="140" rx="12" ry="18" fill="#a8a8e8" opacity="0.7" filter="url(#blur2)"/>
<ellipse cx="588" cy="132" rx="22" ry="12" fill="#f6f0f2" opacity="0.75" filter="url(#blur2)"/>
<ellipse cx="582" cy="152" rx="36" ry="10" fill="#e8e8fc" opacity="0.6" filter="url(#blur2)"/>
<ellipse cx="560" cy="72" rx="10" ry="9" fill="#ffffff" opacity="0.2" filter="url(#blur1)"/>
<ellipse cx="612" cy="88" rx="12" ry="18" fill="#ffc8c8" opacity="0.45" filter="url(#blur2)"/>
</g>
<path d="M584,46.5 C606,46.5 624,55 636,73 C646,89 650,108 652.5,128 C655,150 648,165 630,172 C614,178 600,178.5 585,178.5 C568,178.5 552,177 539,171 C524,164 518,150 520,128 C522,108 526,89 535,73 C547,55 562,46.5 584,46.5 Z" fill="url(#eshade)"/>
<line x1="586.20" y1="112.30" x2="575.45" y2="122.45" stroke="#d83030" stroke-width="3.80"/>
<line x1="575.45" y1="122.45" x2="564.70" y2="132.60" stroke="#e6e6e6" stroke-width="3.80"/>
<line x1="586.20" y1="112.30" x2="597.95" y2="122.45" stroke="#d83030" stroke-width="3.80"/>
<line x1="597.95" y1="122.45" x2="609.70" y2="132.60" stroke="#e6e6e6" stroke-width="3.80"/>
<circle cx="564.70" cy="132.60" r="7.20" fill="url(#be4e4e49a9a9a)"/>
<circle cx="609.70" cy="132.60" r="7.20" fill="url(#be4e4e49a9a9a)"/>
<circle cx="586.20" cy="112.30" r="11.00" fill="url(#be02a2aa01010)"/>
<rect x="690.00" y="64.00" width="16.20" height="93.50" fill="url(#cb1)"/>
<text x="700.50" y="52.80" font-size="20.00" text-anchor="middle" font-weight="normal" fill="#222" >-0.06 a.u.</text>
<text x="702.50" y="175.30" font-size="20.00" text-anchor="middle" font-weight="normal" fill="#222" >+0.06 a.u.</text>
<text x="502.30" y="228.10" font-size="30.50" text-anchor="start" font-weight="normal" fill="#000" >f)</text>
<path d="M545.70,259.00 C548.25,254.58 551.07,250.92 555.30,248.50 C559.53,246.08 565.83,244.58 571.10,244.50 C576.37,244.42 582.75,246.50 586.90,248.00 C591.05,249.50 592.50,253.88 596.00,253.50 C599.50,253.12 603.28,246.75 607.90,245.70 C612.52,244.65 618.93,245.15 623.70,247.20 C628.47,249.25 633.87,253.45 636.50,258.00 C639.13,262.55 636.38,271.75 639.50,274.50 C642.62,277.25 649.95,272.50 655.20,274.50 C660.45,276.50 667.03,280.90 671.00,286.50 C674.97,292.10 678.23,301.00 679.00,308.10 C679.77,315.20 678.40,323.20 675.60,329.10 C672.80,335.00 667.38,340.10 662.20,343.50 C657.02,346.90 648.15,346.58 644.50,349.50 C640.85,352.42 642.90,357.50 640.30,361.00 C637.70,364.50 633.43,368.75 628.90,370.50 C624.37,372.25 618.35,372.25 613.10,371.50 C607.85,370.75 602.07,365.17 597.40,366.00 C592.73,366.83 590.07,374.58 585.10,376.50 C580.13,378.42 573.15,378.92 567.60,377.50 C562.05,376.08 555.65,371.75 551.80,368.00 C547.95,364.25 547.42,357.92 544.50,355.00 C541.58,352.08 537.62,353.65 534.30,350.50 C530.98,347.35 526.70,341.42 524.60,336.10 C522.50,330.78 521.70,325.02 521.70,318.60 C521.70,312.18 522.80,303.15 524.60,297.60 C526.40,292.05 529.93,289.07 532.50,285.30 C535.07,281.53 537.80,279.38 540.00,275.00 C542.20,270.62 543.15,263.42 545.70,259.00Z" fill="#bebee2"/>
<g clip-path="url(#fclip)">
<ellipse cx="605" cy="275" rx="40" ry="28" fill="#dadaea" opacity="0.85" filter="url(#blur2)"/>
<ellipse cx="618" cy="335" rx="22" ry="22" fill="#eeeeee" opacity="0.9" filter="url(#blur2)"/>
<ellipse cx="645" cy="290" rx="14" ry="20" fill="#ececec" opacity="0.9" filter="url(#blur2)"/>
<ellipse cx="668" cy="311" rx="27" ry="36" fill="#e08080" filter="url(#blur2)"/>
<ellipse cx="657" cy="300" rx="10" ry="12" fill="#f2a8a8" opacity="0.7" filter="url(#blur1)"/>
<ellipse cx="600" cy="368" rx="24" ry="7" fill="#9a9ae8" opacity="0.7" filter="url(#blur1)"/>
<ellipse cx="540" cy="330" rx="12" ry="25" fill="#b8b8d8" opacity="0.6" filter="url(#blur1)"/>
<ellipse cx="568" cy="258" rx="9" ry="7" fill="#ffffff" opacity="0.3" filter="url(#blur1)"/>
<ellipse cx="612" cy="258" rx="9" ry="7" fill="#ffffff" opacity="0.3" filter="url(#blur1)"/>
<ellipse cx="538" cy="302" rx="9" ry="7" fill="#ffffff" opacity="0.3" filter="url(#blur1)"/>
<ellipse cx="545" cy="338" rx="9" ry="7" fill="#ffffff" opacity="0.3" filter="url(#blur1)"/>
<ellipse cx="568" cy="366" rx="9" ry="7" fill="#ffffff" opacity="0.3" filter="url(#blur1)"/>
<ellipse cx="622" cy="360" rx="9" ry="7" fill="#ffffff" opacity="0.3" filter="url(#blur1)"/>
<ellipse cx="650" cy="285" rx="9" ry="12" fill="#eeeeee" opacity="0.8" filter="url(#blur1)"/>
</g>
<path d="M545.70,259.00 C548.25,254.58 551.07,250.92 555.30,248.50 C559.53,246.08 565.83,244.58 571.10,244.50 C576.37,244.42 582.75,246.50 586.90,248.00 C591.05,249.50 592.50,253.88 596.00,253.50 C599.50,253.12 603.28,246.75 607.90,245.70 C612.52,244.65 618.93,245.15 623.70,247.20 C628.47,249.25 633.87,253.45 636.50,258.00 C639.13,262.55 636.38,271.75 639.50,274.50 C642.62,277.25 649.95,272.50 655.20,274.50 C660.45,276.50 667.03,280.90 671.00,286.50 C674.97,292.10 678.23,301.00 679.00,308.10 C679.77,315.20 678.40,323.20 675.60,329.10 C672.80,335.00 667.38,340.10 662.20,343.50 C657.02,346.90 648.15,346.58 644.50,349.50 C640.85,352.42 642.90,357.50 640.30,361.00 C637.70,364.50 633.43,368.75 628.90,370.50 C624.37,372.25 618.35,372.25 613.10,371.50 C607.85,370.75 602.07,365.17 597.40,366.00 C592.73,366.83 590.07,374.58 585.10,376.50 C580.13,378.42 573.15,378.92 567.60,377.50 C562.05,376.08 555.65,371.75 551.80,368.00 C547.95,364.25 547.42,357.92 544.50,355.00 C541.58,352.08 537.62,353.65 534.30,350.50 C530.98,347.35 526.70,341.42 524.60,336.10 C522.50,330.78 521.70,325.02 521.70,318.60 C521.70,312.18 522.80,303.15 524.60,297.60 C526.40,292.05 529.93,289.07 532.50,285.30 C535.07,281.53 537.80,279.38 540.00,275.00 C542.20,270.62 543.15,263.42 545.70,259.00Z" fill="url(#fshade)"/>
<line x1="579.00" y1="287.10" x2="593.45" y2="286.65" stroke="#9a9a9a" stroke-width="2.40"/>
<line x1="593.45" y1="286.65" x2="607.90" y2="286.20" stroke="#9a9a9a" stroke-width="2.40"/>
<line x1="607.90" y1="286.20" x2="614.45" y2="298.05" stroke="#9a9a9a" stroke-width="2.40"/>
<line x1="614.45" y1="298.05" x2="621.00" y2="309.90" stroke="#9a9a9a" stroke-width="2.40"/>
<line x1="621.00" y1="309.90" x2="614.45" y2="321.25" stroke="#9a9a9a" stroke-width="2.40"/>
<line x1="614.45" y1="321.25" x2="607.90" y2="332.60" stroke="#4048d8" stroke-width="2.40"/>
<line x1="607.90" y1="332.60" x2="594.30" y2="333.50" stroke="#4048d8" stroke-width="2.40"/>
<line x1="594.30" y1="333.50" x2="580.70" y2="334.40" stroke="#9a9a9a" stroke-width="2.40"/>
<line x1="580.70" y1="334.40" x2="574.15" y2="322.15" stroke="#9a9a9a" stroke-width="2.40"/>
<line x1="574.15" y1="322.15" x2="567.60" y2="309.90" stroke="#9a9a9a" stroke-width="2.40"/>
<line x1="567.60" y1="309.90" x2="573.30" y2="298.50" stroke="#9a9a9a" stroke-width="2.40"/>
<line x1="573.30" y1="298.50" x2="579.00" y2="287.10" stroke="#9a9a9a" stroke-width="2.40"/>
<line x1="621.00" y1="309.90" x2="633.30" y2="310.30" stroke="#9a9a9a" stroke-width="2.40"/>
<line x1="633.30" y1="310.30" x2="645.60" y2="310.70" stroke="#d02020" stroke-width="2.40"/>
<line x1="579.00" y1="287.10" x2="575.05" y2="278.30" stroke="#9a9a9a" stroke-width="2.00"/>
<line x1="575.05" y1="278.30" x2="571.10" y2="269.50" stroke="#dddddd" stroke-width="2.00"/>
<line x1="607.90" y1="286.20" x2="613.60" y2="279.20" stroke="#9a9a9a" stroke-width="2.00"/>
<line x1="613.60" y1="279.20" x2="619.30" y2="272.20" stroke="#dddddd" stroke-width="2.00"/>
<line x1="567.60" y1="309.90" x2="557.50" y2="310.75" stroke="#9a9a9a" stroke-width="2.00"/>
<line x1="557.50" y1="310.75" x2="547.40" y2="311.60" stroke="#dddddd" stroke-width="2.00"/>
<line x1="580.70" y1="334.40" x2="578.10" y2="343.15" stroke="#9a9a9a" stroke-width="2.00"/>
<line x1="578.10" y1="343.15" x2="575.50" y2="351.90" stroke="#dddddd" stroke-width="2.00"/>
<line x1="607.90" y1="332.60" x2="613.60" y2="340.50" stroke="#4048d8" stroke-width="2.00"/>
<line x1="613.60" y1="340.50" x2="619.30" y2="348.40" stroke="#dddddd" stroke-width="2.00"/>
<circle cx="571.10" cy="269.50" r="3.80" fill="url(#be8e8e8a8a8a8)"/>
<circle cx="619.30" cy="272.20" r="3.80" fill="url(#be8e8e8a8a8a8)"/>
<circle cx="547.40" cy="311.60" r="3.80" fill="url(#be8e8e8a8a8a8)"/>
<circle cx="575.50" cy="351.90" r="3.80" fill="url(#be8e8e8a8a8a8)"/>
<circle cx="619.30" cy="348.40" r="3.80" fill="url(#be8e8e8a8a8a8)"/>
<circle cx="579.00" cy="287.10" r="7.00" fill="url(#ba6a6a6646464)"/>
<circle cx="607.90" cy="286.20" r="7.00" fill="url(#ba6a6a6646464)"/>
<circle cx="621.00" cy="309.90" r="7.00" fill="url(#ba6a6a6646464)"/>
<circle cx="580.70" cy="334.40" r="7.00" fill="url(#ba6a6a6646464)"/>
<circle cx="567.60" cy="309.90" r="7.00" fill="url(#ba6a6a6646464)"/>
<circle cx="607.90" cy="332.60" r="6.20" fill="url(#b3a46e01a20a0)"/>
<circle cx="645.60" cy="310.70" r="6.40" fill="url(#be02020a00808)"/>
<rect x="690.60" y="268.90" width="16.40" height="94.20" fill="url(#cb2)"/>
<text x="700.50" y="258.80" font-size="20.00" text-anchor="middle" font-weight="normal" fill="#222" >-0.06 a.u.</text>
<text x="702.50" y="379.80" font-size="20.00" text-anchor="middle" font-weight="normal" fill="#222" >+0.06 a.u.</text>
<rect x="833.70" y="137.09" width="39.40" height="43.41" fill="url(#gb1)"/>
<text x="853.40" y="134.79" font-size="9.80" text-anchor="middle" font-weight="normal" fill="#333" >−2.948</text>
<rect x="899.10" y="119.55" width="39.65" height="60.95" fill="url(#gb2)"/>
<text x="918.92" y="117.25" font-size="9.80" text-anchor="middle" font-weight="normal" fill="#333" >−4.139</text>
<rect x="964.50" y="87.48" width="39.10" height="93.02" fill="url(#gb3)"/>
<text x="984.05" y="85.18" font-size="9.80" text-anchor="middle" font-weight="normal" fill="#333" >−6.317</text>
<rect x="819.25" y="33.25" width="197.50" height="147.25" fill="none" stroke="#505050" stroke-width="1.2"/>
<line x1="816.45" y1="180.50" x2="819.25" y2="180.50" stroke="#505050" stroke-width="1"/>
<line x1="816.45" y1="151.05" x2="819.25" y2="151.05" stroke="#505050" stroke-width="1"/>
<line x1="816.45" y1="121.60" x2="819.25" y2="121.60" stroke="#505050" stroke-width="1"/>
<line x1="816.45" y1="92.15" x2="819.25" y2="92.15" stroke="#505050" stroke-width="1"/>
<line x1="816.45" y1="62.70" x2="819.25" y2="62.70" stroke="#505050" stroke-width="1"/>
<line x1="816.45" y1="33.25" x2="819.25" y2="33.25" stroke="#505050" stroke-width="1"/>
<line x1="817.65" y1="165.78" x2="819.25" y2="165.78" stroke="#505050" stroke-width="1"/>
<line x1="817.65" y1="136.32" x2="819.25" y2="136.32" stroke="#505050" stroke-width="1"/>
<line x1="817.65" y1="106.88" x2="819.25" y2="106.88" stroke="#505050" stroke-width="1"/>
<line x1="817.65" y1="77.42" x2="819.25" y2="77.42" stroke="#505050" stroke-width="1"/>
<line x1="817.65" y1="47.97" x2="819.25" y2="47.97" stroke="#505050" stroke-width="1"/>
<text x="816.00" y="184.10" font-size="10.00" text-anchor="end" font-weight="bold" fill="#000" >0</text>
<text x="816.00" y="154.65" font-size="10.00" text-anchor="end" font-weight="bold" fill="#000" >−2</text>
<text x="816.00" y="125.20" font-size="10.00" text-anchor="end" font-weight="bold" fill="#000" >−4</text>
<text x="816.00" y="95.75" font-size="10.00" text-anchor="end" font-weight="bold" fill="#000" >−6</text>
<text x="816.00" y="66.30" font-size="10.00" text-anchor="end" font-weight="bold" fill="#000" >−8</text>
<text x="816.00" y="36.85" font-size="10.00" text-anchor="end" font-weight="bold" fill="#000" >−10</text>
<text x="0.00" y="0.00" font-size="13.00" text-anchor="middle" font-weight="bold" fill="#000" transform="translate(791,106) rotate(-90)">Adsorption energy (eV)</text>
<text x="763.30" y="27.50" font-size="30.50" text-anchor="start" font-weight="normal" fill="#000" >g)</text>
<text x="853.40" y="206.50" font-size="12.70" text-anchor="middle" font-weight="bold" fill="#000" >Zn<tspan font-size="8.6" dy="-4.8">2+</tspan><tspan dy="4.8">-H</tspan><tspan font-size="8.6" dy="3">2</tspan><tspan dy="-3">O</tspan></text>
<text x="918.90" y="206.50" font-size="12.70" text-anchor="middle" font-weight="bold" fill="#000" >Zn<tspan font-size="8.6" dy="-4.8">2+</tspan><tspan dy="4.8">-VL</tspan></text>
<text x="984.00" y="206.50" font-size="12.70" text-anchor="middle" font-weight="bold" fill="#000" >Zn<tspan font-size="8.6" dy="-4.8">2+</tspan><tspan dy="4.8">-SO</tspan><tspan font-size="8.6" dy="3">4</tspan><tspan font-size="8.6" dy="-7.8">2-</tspan></text>
<line x1="846.80" y1="112.30" x2="843.95" y2="107.40" stroke="#e02020" stroke-width="1.60"/>
<line x1="843.95" y1="107.40" x2="841.10" y2="102.50" stroke="#d8d8d8" stroke-width="1.60"/>
<line x1="846.80" y1="112.30" x2="844.15" y2="116.15" stroke="#e02020" stroke-width="1.60"/>
<line x1="844.15" y1="116.15" x2="841.50" y2="120.00" stroke="#d8d8d8" stroke-width="1.60"/>
<circle cx="841.10" cy="102.50" r="2.80" fill="url(#be0e0e0909090)"/>
<circle cx="841.50" cy="120.00" r="2.80" fill="url(#be0e0e0909090)"/>
<circle cx="846.80" cy="112.30" r="4.20" fill="url(#be02020a00808)"/>
<circle cx="868.80" cy="111.90" r="3.80" fill="url(#b8486b4505080)"/>
<line x1="911.40" y1="69.30" x2="916.00" y2="72.25" stroke="#3030d0" stroke-width="1.60"/>
<line x1="916.00" y1="72.25" x2="920.60" y2="75.20" stroke="#8a8a8a" stroke-width="1.60"/>
<line x1="920.60" y1="75.20" x2="920.90" y2="80.85" stroke="#8a8a8a" stroke-width="1.60"/>
<line x1="920.90" y1="80.85" x2="921.20" y2="86.50" stroke="#8a8a8a" stroke-width="1.60"/>
<line x1="921.20" y1="86.50" x2="916.00" y2="89.40" stroke="#8a8a8a" stroke-width="1.60"/>
<line x1="916.00" y1="89.40" x2="910.80" y2="92.30" stroke="#8a8a8a" stroke-width="1.60"/>
<line x1="910.80" y1="92.30" x2="905.45" y2="89.40" stroke="#8a8a8a" stroke-width="1.60"/>
<line x1="905.45" y1="89.40" x2="900.10" y2="86.50" stroke="#8a8a8a" stroke-width="1.60"/>
<line x1="900.10" y1="86.50" x2="900.10" y2="80.65" stroke="#8a8a8a" stroke-width="1.60"/>
<line x1="900.10" y1="80.65" x2="900.10" y2="74.80" stroke="#8a8a8a" stroke-width="1.60"/>
<line x1="900.10" y1="74.80" x2="905.75" y2="72.05" stroke="#8a8a8a" stroke-width="1.60"/>
<line x1="905.75" y1="72.05" x2="911.40" y2="69.30" stroke="#3030d0" stroke-width="1.60"/>
<line x1="920.60" y1="75.20" x2="925.00" y2="71.75" stroke="#8a8a8a" stroke-width="1.60"/>
<line x1="925.00" y1="71.75" x2="929.40" y2="68.30" stroke="#e02020" stroke-width="1.60"/>
<line x1="911.40" y1="69.30" x2="911.40" y2="65.15" stroke="#3030d0" stroke-width="1.10"/>
<line x1="911.40" y1="65.15" x2="911.40" y2="61.00" stroke="#cccccc" stroke-width="1.10"/>
<line x1="900.10" y1="74.80" x2="897.15" y2="72.05" stroke="#8a8a8a" stroke-width="1.10"/>
<line x1="897.15" y1="72.05" x2="894.20" y2="69.30" stroke="#cccccc" stroke-width="1.10"/>
<line x1="900.10" y1="86.50" x2="896.95" y2="88.15" stroke="#8a8a8a" stroke-width="1.10"/>
<line x1="896.95" y1="88.15" x2="893.80" y2="89.80" stroke="#cccccc" stroke-width="1.10"/>
<line x1="910.80" y1="92.30" x2="910.80" y2="96.40" stroke="#8a8a8a" stroke-width="1.10"/>
<line x1="910.80" y1="96.40" x2="910.80" y2="100.50" stroke="#cccccc" stroke-width="1.10"/>
<line x1="921.20" y1="86.50" x2="924.80" y2="87.85" stroke="#8a8a8a" stroke-width="1.10"/>
<line x1="924.80" y1="87.85" x2="928.40" y2="89.20" stroke="#cccccc" stroke-width="1.10"/>
<circle cx="911.40" cy="61.00" r="1.60" fill="url(#bd8d8d8909090)"/>
<circle cx="894.20" cy="69.30" r="1.60" fill="url(#bd8d8d8909090)"/>
<circle cx="893.80" cy="89.80" r="1.60" fill="url(#bd8d8d8909090)"/>
<circle cx="910.80" cy="100.50" r="1.60" fill="url(#bd8d8d8909090)"/>
<circle cx="928.40" cy="89.20" r="1.60" fill="url(#bd8d8d8909090)"/>
<circle cx="920.60" cy="75.20" r="2.80" fill="url(#b8a8a8a4a4a4a)"/>
<circle cx="921.20" cy="86.50" r="2.80" fill="url(#b8a8a8a4a4a4a)"/>
<circle cx="910.80" cy="92.30" r="2.80" fill="url(#b8a8a8a4a4a4a)"/>
<circle cx="900.10" cy="86.50" r="2.80" fill="url(#b8a8a8a4a4a4a)"/>
<circle cx="900.10" cy="74.80" r="2.80" fill="url(#b8a8a8a4a4a4a)"/>
<circle cx="911.40" cy="69.30" r="2.80" fill="url(#b2a36e01010a0)"/>
<circle cx="929.40" cy="68.30" r="2.80" fill="url(#be02020a00808)"/>
<circle cx="942.70" cy="75.20" r="3.30" fill="url(#b8486b4505080)"/>
<line x1="978.60" y1="60.50" x2="974.50" y2="56.90" stroke="#d8d820" stroke-width="1.60"/>
<line x1="974.50" y1="56.90" x2="970.40" y2="53.30" stroke="#e02020" stroke-width="1.60"/>
<line x1="978.60" y1="60.50" x2="983.30" y2="57.30" stroke="#d8d820" stroke-width="1.60"/>
<line x1="983.30" y1="57.30" x2="988.00" y2="54.10" stroke="#e02020" stroke-width="1.60"/>
<line x1="978.60" y1="60.50" x2="975.45" y2="64.90" stroke="#d8d820" stroke-width="1.60"/>
<line x1="975.45" y1="64.90" x2="972.30" y2="69.30" stroke="#e02020" stroke-width="1.60"/>
<line x1="978.60" y1="60.50" x2="982.30" y2="64.40" stroke="#d8d820" stroke-width="1.60"/>
<line x1="982.30" y1="64.40" x2="986.00" y2="68.30" stroke="#e02020" stroke-width="1.60"/>
<circle cx="978.60" cy="60.50" r="4.60" fill="url(#be8e020a0a000)"/>
<circle cx="970.40" cy="53.30" r="3.10" fill="url(#be02020a00808)"/>
<circle cx="988.00" cy="54.10" r="3.10" fill="url(#be02020a00808)"/>
<circle cx="972.30" cy="69.30" r="3.10" fill="url(#be02020a00808)"/>
<circle cx="986.00" cy="68.30" r="3.10" fill="url(#be02020a00808)"/>
<circle cx="999.70" cy="60.50" r="3.50" fill="url(#b8486b4505080)"/>
<rect x="840.00" y="319.31" width="58.00" height="63.69" fill="url(#hb1)"/>
<rect x="937.50" y="293.19" width="58.50" height="89.81" fill="url(#hb2)"/>
<text x="867.50" y="313.50" font-size="9.80" text-anchor="middle" font-weight="normal" fill="#333" >-0.217 eV</text>
<text x="966.75" y="286.50" font-size="9.80" text-anchor="middle" font-weight="normal" fill="#333" >-0.306 eV</text>
<rect x="819.25" y="236.25" width="196.75" height="146.75" fill="none" stroke="#505050" stroke-width="1.2"/>
<line x1="816.45" y1="383.00" x2="819.25" y2="383.00" stroke="#505050" stroke-width="1"/>
<line x1="816.45" y1="353.65" x2="819.25" y2="353.65" stroke="#505050" stroke-width="1"/>
<line x1="816.45" y1="324.30" x2="819.25" y2="324.30" stroke="#505050" stroke-width="1"/>
<line x1="816.45" y1="294.95" x2="819.25" y2="294.95" stroke="#505050" stroke-width="1"/>
<line x1="816.45" y1="265.60" x2="819.25" y2="265.60" stroke="#505050" stroke-width="1"/>
<line x1="816.45" y1="236.25" x2="819.25" y2="236.25" stroke="#505050" stroke-width="1"/>
<line x1="817.65" y1="368.32" x2="819.25" y2="368.32" stroke="#505050" stroke-width="1"/>
<line x1="817.65" y1="338.98" x2="819.25" y2="338.98" stroke="#505050" stroke-width="1"/>
<line x1="817.65" y1="309.62" x2="819.25" y2="309.62" stroke="#505050" stroke-width="1"/>
<line x1="817.65" y1="280.27" x2="819.25" y2="280.27" stroke="#505050" stroke-width="1"/>
<line x1="817.65" y1="250.92" x2="819.25" y2="250.92" stroke="#505050" stroke-width="1"/>
<text x="816.00" y="386.60" font-size="10.00" text-anchor="end" font-weight="bold" fill="#000" >0.0</text>
<text x="816.00" y="357.25" font-size="10.00" text-anchor="end" font-weight="bold" fill="#000" >-0.1</text>
<text x="816.00" y="327.90" font-size="10.00" text-anchor="end" font-weight="bold" fill="#000" >-0.2</text>
<text x="816.00" y="298.55" font-size="10.00" text-anchor="end" font-weight="bold" fill="#000" >-0.3</text>
<text x="816.00" y="269.20" font-size="10.00" text-anchor="end" font-weight="bold" fill="#000" >-0.4</text>
<text x="816.00" y="239.85" font-size="10.00" text-anchor="end" font-weight="bold" fill="#000" >-0.5</text>
<text x="0.00" y="0.00" font-size="13.00" text-anchor="middle" font-weight="bold" fill="#000" transform="translate(790.5,309.2) rotate(-90)">Adsorption energy (eV)</text>
<text x="757.90" y="228.10" font-size="30.50" text-anchor="start" font-weight="normal" fill="#000" >h)</text>
<text x="869.00" y="411.50" font-size="12.70" text-anchor="middle" font-weight="bold" fill="#000" >H<tspan font-size="8.6" dy="3">2</tspan><tspan dy="-3">O-H</tspan><tspan font-size="8.6" dy="3">2</tspan><tspan dy="-3">O</tspan></text>
<text x="964.00" y="411.50" font-size="12.70" text-anchor="middle" font-weight="bold" fill="#000" >H<tspan font-size="8.6" dy="3">2</tspan><tspan dy="-3">O-VL</tspan></text>
<line x1="853.00" y1="290.00" x2="849.50" y2="288.12" stroke="#e02020" stroke-width="1.40"/>
<line x1="849.50" y1="288.12" x2="846.00" y2="286.25" stroke="#d8d8d8" stroke-width="1.40"/>
<line x1="853.00" y1="290.00" x2="857.75" y2="290.62" stroke="#e02020" stroke-width="1.40"/>
<line x1="857.75" y1="290.62" x2="862.50" y2="291.25" stroke="#d8d8d8" stroke-width="1.40"/>
<circle cx="846.00" cy="286.25" r="2.30" fill="url(#be0e0e0909090)"/>
<circle cx="862.50" cy="291.25" r="2.30" fill="url(#be0e0e0909090)"/>
<circle cx="853.00" cy="290.00" r="3.60" fill="url(#be02020a00808)"/>
<line x1="879.25" y1="289.50" x2="882.38" y2="287.88" stroke="#e02020" stroke-width="1.40"/>
<line x1="882.38" y1="287.88" x2="885.50" y2="286.25" stroke="#d8d8d8" stroke-width="1.40"/>
<line x1="879.25" y1="289.50" x2="880.50" y2="294.75" stroke="#e02020" stroke-width="1.40"/>
<line x1="880.50" y1="294.75" x2="881.75" y2="300.00" stroke="#d8d8d8" stroke-width="1.40"/>
<circle cx="885.50" cy="286.25" r="2.30" fill="url(#be0e0e0909090)"/>
<circle cx="881.75" cy="300.00" r="2.30" fill="url(#be0e0e0909090)"/>
<circle cx="879.25" cy="289.50" r="3.60" fill="url(#be02020a00808)"/>
<line x1="987.50" y1="260.75" x2="985.00" y2="259.12" stroke="#e02020" stroke-width="1.40"/>
<line x1="985.00" y1="259.12" x2="982.50" y2="257.50" stroke="#d8d8d8" stroke-width="1.40"/>
<line x1="987.50" y1="260.75" x2="990.88" y2="260.38" stroke="#e02020" stroke-width="1.40"/>
<line x1="990.88" y1="260.38" x2="994.25" y2="260.00" stroke="#d8d8d8" stroke-width="1.40"/>
<circle cx="982.50" cy="257.50" r="2.30" fill="url(#be0e0e0909090)"/>
<circle cx="994.25" cy="260.00" r="2.30" fill="url(#be0e0e0909090)"/>
<circle cx="987.50" cy="260.75" r="3.60" fill="url(#be02020a00808)"/>
<line x1="958.55" y1="250.20" x2="962.78" y2="252.91" stroke="#3030d0" stroke-width="1.47"/>
<line x1="962.78" y1="252.91" x2="967.02" y2="255.62" stroke="#8a8a8a" stroke-width="1.47"/>
<line x1="967.02" y1="255.62" x2="967.29" y2="260.82" stroke="#8a8a8a" stroke-width="1.47"/>
<line x1="967.29" y1="260.82" x2="967.57" y2="266.02" stroke="#8a8a8a" stroke-width="1.47"/>
<line x1="967.57" y1="266.02" x2="962.78" y2="268.69" stroke="#8a8a8a" stroke-width="1.47"/>
<line x1="962.78" y1="268.69" x2="958.00" y2="271.36" stroke="#8a8a8a" stroke-width="1.47"/>
<line x1="958.00" y1="271.36" x2="953.08" y2="268.69" stroke="#8a8a8a" stroke-width="1.47"/>
<line x1="953.08" y1="268.69" x2="948.16" y2="266.02" stroke="#8a8a8a" stroke-width="1.47"/>
<line x1="948.16" y1="266.02" x2="948.16" y2="260.64" stroke="#8a8a8a" stroke-width="1.47"/>
<line x1="948.16" y1="260.64" x2="948.16" y2="255.26" stroke="#8a8a8a" stroke-width="1.47"/>
<line x1="948.16" y1="255.26" x2="953.35" y2="252.73" stroke="#8a8a8a" stroke-width="1.47"/>
<line x1="953.35" y1="252.73" x2="958.55" y2="250.20" stroke="#3030d0" stroke-width="1.47"/>
<line x1="967.02" y1="255.62" x2="971.06" y2="252.45" stroke="#8a8a8a" stroke-width="1.47"/>
<line x1="971.06" y1="252.45" x2="975.11" y2="249.28" stroke="#e02020" stroke-width="1.47"/>
<line x1="958.55" y1="250.20" x2="958.55" y2="246.38" stroke="#3030d0" stroke-width="1.01"/>
<line x1="958.55" y1="246.38" x2="958.55" y2="242.56" stroke="#cccccc" stroke-width="1.01"/>
<line x1="948.16" y1="255.26" x2="945.44" y2="252.73" stroke="#8a8a8a" stroke-width="1.01"/>
<line x1="945.44" y1="252.73" x2="942.73" y2="250.20" stroke="#cccccc" stroke-width="1.01"/>
<line x1="948.16" y1="266.02" x2="945.26" y2="267.54" stroke="#8a8a8a" stroke-width="1.01"/>
<line x1="945.26" y1="267.54" x2="942.36" y2="269.06" stroke="#cccccc" stroke-width="1.01"/>
<line x1="958.00" y1="271.36" x2="958.00" y2="275.13" stroke="#8a8a8a" stroke-width="1.01"/>
<line x1="958.00" y1="275.13" x2="958.00" y2="278.90" stroke="#cccccc" stroke-width="1.01"/>
<line x1="967.57" y1="266.02" x2="970.88" y2="267.26" stroke="#8a8a8a" stroke-width="1.01"/>
<line x1="970.88" y1="267.26" x2="974.19" y2="268.50" stroke="#cccccc" stroke-width="1.01"/>
<circle cx="958.55" cy="242.56" r="1.47" fill="url(#bd8d8d8909090)"/>
<circle cx="942.73" cy="250.20" r="1.47" fill="url(#bd8d8d8909090)"/>
<circle cx="942.36" cy="269.06" r="1.47" fill="url(#bd8d8d8909090)"/>
<circle cx="958.00" cy="278.90" r="1.47" fill="url(#bd8d8d8909090)"/>
<circle cx="974.19" cy="268.50" r="1.47" fill="url(#bd8d8d8909090)"/>
<circle cx="967.02" cy="255.62" r="2.58" fill="url(#b8a8a8a4a4a4a)"/>
<circle cx="967.57" cy="266.02" r="2.58" fill="url(#b8a8a8a4a4a4a)"/>
<circle cx="958.00" cy="271.36" r="2.58" fill="url(#b8a8a8a4a4a4a)"/>
<circle cx="948.16" cy="266.02" r="2.58" fill="url(#b8a8a8a4a4a4a)"/>
<circle cx="948.16" cy="255.26" r="2.58" fill="url(#b8a8a8a4a4a4a)"/>
<circle cx="958.55" cy="250.20" r="2.58" fill="url(#b2a36e01010a0)"/>
<circle cx="975.11" cy="249.28" r="2.58" fill="url(#be02020a00808)"/>
<text x="10.80" y="436.00" font-size="30.50" text-anchor="start" font-weight="normal" fill="#000" >i)</text>
<rect x="37.60" y="444.00" width="160.40" height="161.50" fill="none" stroke="#9a9a9a" stroke-width="0.8" stroke-dasharray="1 1"/>
<line x1="37.6" y1="444.0" x2="63.6" y2="469.0" stroke="#b0b0b0" stroke-width="0.8"/>
<line x1="198.0" y1="444.0" x2="172.0" y2="469.0" stroke="#b0b0b0" stroke-width="0.8"/>
<line x1="37.6" y1="605.5" x2="63.6" y2="580.5" stroke="#b0b0b0" stroke-width="0.8"/>
<line x1="198.0" y1="605.5" x2="172.0" y2="580.5" stroke="#b0b0b0" stroke-width="0.8"/>
<g fill="none" stroke-width="1.1" stroke-linecap="round" stroke-linejoin="round" filter="url(#soft)"><path stroke="#8ccdee" d="M69.1 532.4L67.4 534.1 65.4 532.9M115.0 479.1L114.8 482.3 111.7 482.9M127.8 566.3L125.7 567.0 124.5 565.0M148.0 478.3L146.8 475.8 149.0 474.0M45.6 595.0L46.7 592.5 49.4 592.9M96.2 546.1L97.3 549.0 94.8 550.7M149.9 575.3L150.7 572.4 153.7 572.4M170.9 547.0L169.4 549.0 167.1 548.0M180.2 535.3L180.8 532.3 183.8 532.3M77.5 547.7L76.4 550.7 73.3 550.3M62.1 510.1L61.7 507.9 63.8 507.0M150.4 552.3L153.1 550.9 155.0 553.2M179.4 452.8L181.9 452.0 183.2 454.2M153.5 462.3L151.2 464.6 148.3 462.9M65.4 461.7L67.3 462.7 66.8 464.8M153.5 539.7L155.9 540.7 155.5 543.2M151.0 473.2L151.1 470.7 153.5 470.1M95.8 517.2L98.7 516.5 100.1 519.2M83.3 487.1L85.4 485.8 87.2 487.6M133.8 539.8L135.4 542.6 133.1 544.9M53.0 590.5L49.8 590.0 49.4 586.8M127.7 543.4L129.4 545.5 127.8 547.7M45.5 520.0L48.2 520.6 48.2 523.3M96.3 563.0L94.8 565.5 91.9 564.7M175.8 453.9L174.5 455.9 172.2 455.1M90.4 484.0L89.9 486.8 87.0 487.0M43.9 474.3L44.3 471.5 47.1 471.2M164.3 593.5L164.5 591.1 166.8 590.7M183.9 481.1L186.2 478.9 188.9 480.5M168.4 464.8L165.4 465.1 164.4 462.3M192.9 497.6L194.7 495.2 197.5 496.4M119.0 488.0L121.6 487.9 122.3 490.3M76.9 505.3L77.8 507.9 75.4 509.4M74.9 477.3L71.9 478.3 70.3 475.6M122.8 565.6L125.4 567.0 124.7 569.9M107.2 506.5L108.2 509.2 105.9 510.8M130.5 489.9L127.4 490.7 125.8 487.9M84.5 556.4L87.1 555.7 88.4 558.1M101.4 539.9L104.2 539.4 105.4 542.0M65.9 594.5L67.8 595.9 66.8 598.1M84.2 574.5L86.1 575.8 85.3 577.9M186.9 546.1L185.4 543.8 187.3 541.8M86.6 560.8L88.3 558.5 91.0 559.6M58.2 546.3L58.0 543.8 60.3 543.0M105.5 534.2L106.4 537.1 103.8 538.6M72.7 546.6L72.2 543.8 74.8 542.6M158.1 566.8L158.8 569.9 155.9 571.3M162.9 480.2L160.7 478.5 161.8 476.0M137.2 546.5L139.9 547.8 139.3 550.7M68.8 481.0L70.6 483.4 68.7 485.8M144.4 500.5L141.3 501.0 140.1 498.2M122.8 519.5L125.9 519.6 126.6 522.6M178.2 528.0L177.9 525.7 180.1 524.8M67.3 505.2L65.2 502.6 67.2 500.0M65.1 543.3L65.4 546.5 62.3 547.6M83.2 495.3L80.7 494.2 81.2 491.5M87.4 537.0L90.1 537.6 90.0 540.4M143.3 481.3L141.0 482.5 139.2 480.6M108.7 559.6L107.0 561.9 104.4 560.9M91.4 532.8L94.0 530.9 96.5 533.0M101.6 582.9L102.7 585.6 100.4 587.4M116.1 563.7L115.6 566.8 112.4 567.1M118.7 501.1L116.1 501.3 115.3 498.8M111.0 580.5L111.6 578.0 114.3 578.0M60.1 482.0L62.0 479.4 65.0 480.7M95.8 592.3L93.8 590.4 95.2 588.0M73.4 589.1L75.9 590.3 75.3 593.1M137.2 524.3L136.6 522.0 138.6 520.9M171.1 555.2L169.1 557.0 166.9 555.5M95.6 494.9L93.9 492.8 95.5 490.7M108.1 518.9L110.9 518.9 111.5 521.5M119.0 567.6L121.0 566.3 122.7 567.8M177.1 479.7L180.0 479.0 181.3 481.6M68.7 580.1L65.9 580.0 65.3 577.3M140.7 543.3L138.5 542.8 138.4 540.5M169.1 574.5L169.9 576.8 167.9 578.2M51.8 516.9L54.2 515.7 56.1 517.8M131.8 585.0L133.8 586.6 132.8 589.0M118.5 477.3L116.4 478.7 114.6 477.1M144.0 480.0L142.6 481.9 140.3 481.0M125.8 564.5L125.0 566.6 122.8 566.4M94.2 526.4L96.4 528.1 95.3 530.6M122.3 503.5L120.3 501.7 121.7 499.3M175.9 495.6L177.1 498.3 174.7 500.1M54.3 588.2L56.9 588.2 57.5 590.7M60.5 457.9L61.9 455.6 64.5 456.5M155.8 491.2L155.9 494.2 153.0 495.1M178.7 562.1L176.8 560.1 178.3 557.8M134.7 519.5L133.4 516.9 135.6 515.0M66.0 452.8L67.2 455.3 65.0 457.1M131.5 503.0L133.9 502.8 134.7 505.1M104.5 470.7L106.8 470.0 108.1 472.1M59.8 498.8L62.0 498.6 62.7 500.8M59.4 569.6L61.6 570.3 61.5 572.6M78.7 471.1L78.5 468.3 81.2 467.4M188.4 478.5L185.3 478.0 185.0 474.9M96.0 533.7L94.5 530.9 96.9 528.7M163.3 542.5L162.8 545.6 159.6 545.9M178.5 495.1L178.8 497.5 176.5 498.4M97.5 505.5L96.3 502.5 98.9 500.6M100.5 524.0L98.2 524.8 96.8 522.8M127.0 558.8L128.2 561.2 126.1 562.9M114.2 494.1L113.2 496.5 110.7 496.1M158.1 490.3L159.6 492.8 157.5 495.0M188.9 594.2L187.0 596.2 184.5 594.8M129.8 470.3L129.2 473.0 126.5 472.9M84.3 551.3L87.2 551.7 87.5 554.6M76.2 469.0L76.7 471.5 74.3 472.5M106.5 541.1L106.3 543.9 103.5 544.3M112.3 532.5L109.2 532.1 108.9 528.9M142.7 515.9L144.9 517.0 144.4 519.3M156.5 491.9L156.5 488.9 159.3 488.2M150.3 541.1L147.6 540.2 147.9 537.3M98.6 535.9L100.9 537.4 100.1 540.0M104.9 523.0L106.9 521.5 108.8 523.0M55.2 540.9L57.4 538.5 60.2 540.0M47.8 461.5L48.3 458.6 51.2 458.5M84.1 483.8L82.8 480.9 85.3 479.0M132.8 584.7L135.5 583.8 137.1 586.2M173.8 532.8L171.1 533.1 170.2 530.5M97.6 550.9L95.3 549.0 96.6 546.3M148.9 561.9L148.6 564.5 146.0 564.8M174.2 582.8L176.6 582.2 177.9 584.4M97.3 456.4L94.4 454.9 95.1 451.7M133.4 485.7L132.6 488.7 129.5 488.6M69.3 548.2L70.9 545.8 73.5 546.8M77.0 494.6L75.2 492.5 76.8 490.3M158.7 560.3L160.2 563.2 157.7 565.3M93.6 483.1L93.3 485.5 90.8 485.8"/><path stroke="#a8dcf4" d="M155.1 456.8L152.3 456.8 151.5 454.1M142.1 475.4L141.5 478.3 138.5 478.3M176.5 468.4L178.4 467.1 180.1 468.6M103.1 592.6L104.8 590.4 107.4 591.5M176.0 511.3L173.3 510.4 173.5 507.6M137.1 531.8L136.8 528.8 139.7 527.7M106.5 511.8L103.9 511.5 103.6 508.8M77.6 506.5L75.1 507.2 73.8 504.9M174.7 559.6L176.7 560.6 176.2 562.8M132.9 501.6L133.1 504.1 130.7 505.0M110.9 525.2L110.9 522.7 113.3 522.0M115.5 472.4L118.4 471.3 120.2 473.7M108.0 550.8L107.3 554.0 104.1 554.1M113.1 492.6L113.7 495.4 111.2 496.7M99.9 498.8L97.7 498.0 98.0 495.6M95.2 557.6L96.8 555.3 99.4 556.2M146.3 482.7L145.2 479.7 147.9 477.9M175.6 539.3L175.4 536.5 178.0 535.5M75.3 481.9L75.3 484.5 72.8 485.1M50.4 556.2L47.5 556.6 46.3 553.8M126.4 525.0L125.2 527.6 122.4 527.0M76.6 508.2L79.3 509.5 78.6 512.4M59.9 521.0L61.5 523.3 59.7 525.4M111.5 547.6L109.4 546.4 110.1 544.0M81.8 525.4L79.0 524.4 79.2 521.4M112.4 456.6L114.6 455.7 115.9 457.6M47.1 587.4L45.0 586.0 45.9 583.6M138.7 568.0L136.1 568.4 134.9 566.0M154.8 517.3L156.3 519.4 154.6 521.3M153.5 560.5L152.4 557.8 154.7 556.1M162.7 475.5L164.7 476.6 164.1 478.7M123.6 475.7L121.1 473.7 122.5 470.8M172.0 582.8L171.1 586.0 167.9 585.9M62.3 468.8L59.9 470.0 58.1 467.9M144.8 561.3L144.9 563.6 142.7 564.2M141.3 529.7L139.2 531.2 137.2 529.5M177.0 491.8L174.5 491.9 173.8 489.4M84.8 523.9L86.9 525.1 86.2 527.4M129.5 516.1L126.6 514.7 127.3 511.5M47.8 523.8L45.2 522.3 46.1 519.4M119.3 571.0L116.7 571.4 115.7 568.9M160.9 584.3L159.7 582.1 161.6 580.4M166.9 541.7L164.1 540.5 164.6 537.5M107.5 579.8L105.5 578.8 106.0 576.7M95.8 548.2L97.1 550.1 95.5 551.8M158.9 488.2L158.6 490.9 155.9 491.3M79.2 516.0L80.3 518.0 78.7 519.5M149.7 480.1L152.6 481.5 152.0 484.7M74.0 532.3L74.1 529.0 77.3 528.3M115.8 512.7L115.9 515.0 113.7 515.6M137.3 534.5L138.5 536.4 136.9 538.0M58.0 471.9L57.0 468.8 59.7 467.1M71.9 591.1L73.1 593.3 71.2 595.0M101.9 588.7L100.3 591.5 97.2 590.6M143.1 532.8L139.9 533.0 139.0 530.0M109.3 549.1L108.7 551.9 105.9 552.0M117.4 525.5L120.1 526.5 119.8 529.4M135.2 588.6L133.3 587.1 134.3 584.9M177.0 533.9L176.3 536.0 174.1 535.8M95.6 569.9L97.9 568.8 99.5 570.8M106.0 534.1L108.4 534.8 108.3 537.3M99.1 538.0L100.3 540.1 98.6 541.8M130.4 574.9L130.4 571.7 133.5 571.0M151.0 472.0L149.7 474.6 146.9 473.9M60.7 537.5L62.1 535.6 64.2 536.4M159.1 587.8L160.1 590.2 158.0 591.8M140.4 555.0L141.1 557.6 138.7 558.9M138.6 479.4L141.2 477.4 143.6 479.5M74.8 516.1L74.0 518.4 71.5 518.2M188.3 514.8L190.6 516.6 189.4 519.3"/><path stroke="#a8dcf4" d="M68.7 529.2L68.5 526.6 70.9 525.8M183.3 583.3L180.5 583.2 179.9 580.4M122.7 561.4L120.4 560.0 121.3 557.4M141.2 516.6L144.1 517.7 143.6 520.8M108.9 526.0L106.4 526.6 105.2 524.2M141.7 584.7L143.7 582.5 146.4 583.9M97.6 501.5L96.5 499.1 98.6 497.5M188.5 573.7L190.4 575.8 188.8 578.2M152.2 475.4L150.0 474.0 150.9 471.6M81.8 512.2L79.0 512.3 78.2 509.5M47.4 563.2L48.5 566.3 45.8 568.0M144.5 504.6L147.4 503.3 149.3 505.8M65.3 563.0L66.3 559.9 69.6 560.2M154.9 494.1L153.3 496.3 150.8 495.3M76.1 506.1L75.0 503.4 77.5 501.7M158.0 562.1L158.6 559.8 161.0 559.8M70.0 562.6L68.3 561.1 69.3 559.1M160.2 497.1L158.4 499.0 156.0 497.7M103.6 524.2L104.3 527.2 101.5 528.6M77.8 481.9L75.1 480.9 75.4 478.0M178.4 594.3L177.6 591.5 180.2 590.0M133.5 494.9L135.4 492.6 138.1 493.9M76.2 541.3L78.4 542.4 77.9 544.9M44.4 490.5L46.2 492.3 44.9 494.5M70.1 536.8L71.5 539.6 69.1 541.7M165.8 597.6L163.4 599.8 160.7 598.0M123.6 558.5L126.5 558.5 127.2 561.3M144.0 543.9L146.7 545.2 146.1 548.1M110.3 466.9L107.0 466.9 106.2 463.8M174.7 486.7L171.9 486.3 171.6 483.6M92.3 504.2L94.5 503.2 96.0 505.1M64.4 471.5L63.7 473.9 61.2 473.8M147.3 482.8L148.7 484.7 147.1 486.5M68.4 547.4L67.3 544.6 69.7 542.8M145.8 547.7L147.0 550.6 144.4 552.3M73.1 560.8L74.4 563.2 72.4 565.0M141.4 570.4L139.7 572.6 137.1 571.5M88.3 539.1L85.4 540.3 83.6 537.8M137.1 495.3L133.8 495.3 133.0 492.1M79.7 485.1L78.2 486.9 76.1 485.9M73.8 525.5L76.3 524.2 78.2 526.4M113.9 561.3L115.9 559.8 117.9 561.3M142.9 575.3L140.4 575.0 140.2 572.5M181.8 527.2L178.8 527.3 178.0 524.4M39.8 490.4L41.8 492.5 40.3 494.9M106.4 559.6L105.4 562.6 102.2 562.3M87.8 526.7L90.4 526.0 91.7 528.3M157.9 547.9L160.1 546.9 161.5 548.8M88.1 477.9L86.9 475.4 89.0 473.7M122.6 495.3L125.6 494.0 127.6 496.6M164.0 574.0L162.4 571.5 164.5 569.3M174.2 477.8L172.9 475.6 174.8 473.8M75.2 506.0L77.3 508.0 75.8 510.5M123.0 537.8L121.0 538.9 119.4 537.2M68.4 460.1L70.5 462.2 69.0 464.8M68.8 496.5L69.0 498.9 66.7 499.6M141.1 563.1L142.4 560.4 145.3 560.9M60.3 585.6L63.4 585.0 64.7 587.9M143.8 484.0L141.8 481.4 143.7 478.8M146.5 472.1L143.7 473.8 141.3 471.6M173.9 545.2L174.1 548.2 171.3 549.1M149.5 496.2L151.2 494.0 153.7 495.1M155.2 458.2L157.1 460.0 155.9 462.2M74.5 489.2L74.7 491.8 72.2 492.7M187.7 464.9L186.7 462.3 188.9 460.7M150.1 517.8L151.9 516.3 153.9 517.7M105.7 467.5L107.3 465.1 110.0 466.0M143.5 552.4L145.9 554.5 144.4 557.5M54.6 585.9L51.8 587.3 49.9 584.9M121.4 474.1L123.9 472.1 126.4 474.1"/><path stroke="#4a7896" d="M125.5 537.3L122.9 537.6 122.0 535.2M95.0 521.1L96.7 523.9 94.4 526.2M116.0 533.7L115.4 536.7 112.2 536.9M173.2 563.7L174.6 561.4 177.1 562.3"/><path stroke="#6eb6dc" d="M73.2 514.3L70.6 513.9 70.4 511.3M89.0 496.5L86.4 497.2 85.1 494.8M106.7 547.1L105.2 545.5 106.4 543.6M79.4 570.6L81.8 571.3 81.7 573.8M184.9 586.3L184.6 589.6 181.4 590.1M96.6 501.8L96.6 504.1 94.3 504.7M149.3 572.9L146.2 573.3 145.1 570.4M132.4 561.1L135.0 561.6 135.1 564.2M126.6 522.6L124.0 522.9 123.0 520.4M116.7 543.5L118.5 545.4 117.2 547.6M151.1 557.9L151.9 555.6 154.2 555.9M109.9 519.8L108.2 517.2 110.3 515.0M169.7 578.3L167.4 578.8 166.3 576.6M144.8 560.3L143.5 563.2 140.3 562.5M161.0 500.4L158.2 499.1 158.8 496.1M94.2 569.2L96.6 567.3 99.0 569.2M109.0 562.1L111.5 559.9 114.2 561.8M184.5 510.3L187.6 510.6 188.0 513.7M80.0 495.9L77.8 496.7 76.5 494.7M82.3 530.3L84.2 531.8 83.2 534.0M109.9 551.7L107.3 550.8 107.5 548.1M125.0 567.6L123.3 566.0 124.5 564.0M158.0 452.9L160.4 453.7 160.2 456.3M150.3 463.4L149.0 461.3 150.7 459.6M128.3 535.2L125.9 536.2 124.4 534.1M159.7 538.8L159.6 541.5 156.9 542.0M169.0 559.1L168.1 557.0 169.9 555.6M106.9 496.2L106.5 493.1 109.4 491.9"/><path stroke="#4a7896" d="M68.9 553.0L68.7 555.3 66.4 555.7M95.9 490.1L94.2 488.4 95.4 486.3M107.7 502.0L107.2 499.1 109.9 497.9M103.3 525.9L106.1 526.0 106.7 528.7"/><path stroke="#a8dcf4" d="M147.1 595.5L149.2 597.6 147.7 600.2M164.2 475.5L164.7 473.2 167.1 473.2M160.2 569.0L159.6 566.5 161.9 565.4M150.2 472.0L150.4 474.3 148.2 475.1M117.0 506.3L118.2 508.5 116.4 510.2M69.5 485.7L66.4 486.1 65.2 483.3M95.4 583.1L93.8 585.6 91.0 584.7M90.9 560.1L92.0 562.8 89.6 564.5M90.9 558.2L93.8 556.8 95.8 559.3M172.3 496.5L169.7 497.7 167.9 495.4M73.5 480.4L73.8 477.4 76.8 476.9M133.9 504.8L136.4 504.2 137.6 506.5M156.8 456.5L159.4 455.0 161.5 457.1M95.7 516.4L93.0 515.3 93.4 512.4M116.0 526.3L117.8 524.7 119.8 526.0M192.7 548.3L194.7 546.4 197.0 547.9M90.8 562.6L89.7 560.0 91.9 558.4M139.7 523.1L140.6 520.5 143.4 520.7M111.1 476.1L111.9 478.3 110.0 479.6M96.0 475.9L95.3 478.1 93.0 477.9M121.8 470.4L121.5 473.1 118.8 473.4M159.6 480.1L159.6 482.9 156.9 483.6M131.1 519.7L133.6 521.2 132.8 524.0M128.7 553.9L131.2 552.2 133.4 554.1M74.6 519.3L75.0 522.5 72.0 523.6M107.0 468.1L106.8 470.8 104.2 471.4M130.0 508.8L132.0 511.2 130.2 513.7M70.2 525.8L68.2 527.6 66.0 526.1M51.8 506.7L51.6 503.5 54.7 502.5M159.1 474.5L157.4 471.9 159.5 469.6M82.7 568.4L81.3 571.0 78.4 570.3M82.8 487.5L82.0 489.9 79.5 489.7M99.6 533.3L102.2 533.9 102.3 536.5M127.9 592.4L126.7 590.3 128.5 588.6M179.0 463.0L180.1 460.6 182.6 461.1M154.5 563.2L157.1 561.3 159.6 563.4M81.8 575.1L79.5 576.5 77.5 574.6M117.6 556.4L115.6 557.8 113.7 556.2M87.2 543.9L84.1 543.9 83.4 540.9M56.3 530.9L59.2 530.2 60.6 532.9M188.6 592.3L186.2 592.1 185.8 589.7M88.1 473.3L91.0 474.3 90.8 477.4M134.2 528.3L136.5 530.3 135.1 533.0M70.0 543.6L73.2 543.5 74.1 546.5M115.1 483.7L115.7 480.6 118.8 480.4M183.6 590.1L180.7 589.0 181.1 585.9M153.3 472.6L150.8 472.3 150.4 469.8M180.5 571.0L178.1 571.2 177.3 569.0M129.0 578.6L127.2 581.1 124.2 579.9M103.1 557.6L101.1 559.0 99.2 557.5M115.5 520.4L113.3 520.6 112.5 518.6M177.8 501.2L178.3 503.6 176.2 504.6M147.0 512.5L146.1 509.8 148.5 508.2M160.3 507.6L157.5 508.4 156.0 506.0M142.0 482.2L143.3 485.1 140.8 487.1M105.9 519.2L105.1 516.2 107.8 514.6M181.0 586.7L179.2 588.2 177.4 586.9M87.7 562.7L87.9 560.0 90.5 559.5M160.2 551.6L162.7 550.6 164.3 552.8M63.5 593.9L61.1 595.7 58.8 593.8M123.4 511.7L125.6 512.4 125.5 514.8M157.0 497.4L155.3 499.7 152.6 498.6M120.6 489.7L121.9 487.9 124.0 488.7M167.3 506.7L167.4 509.1 165.0 509.8M140.5 540.5L138.4 539.3 139.0 537.0M112.0 547.2L109.2 547.3 108.5 544.6M165.5 478.9L168.0 478.6 169.0 481.0M136.2 558.6L135.3 560.7 132.9 560.3M138.4 532.3L139.3 530.1 141.7 530.5"/><path stroke="#6eb6dc" d="M146.6 475.4L145.7 477.9 143.0 477.6M129.3 536.6L127.3 534.3 129.1 531.7M146.2 580.5L148.2 582.1 147.2 584.5M93.4 524.5L91.0 523.0 91.9 520.3M52.2 551.3L49.7 551.1 49.3 548.6M116.9 465.4L115.1 466.8 113.3 465.4M47.8 492.5L50.1 492.5 50.7 494.7M78.0 532.8L77.6 530.3 79.9 529.3M152.6 551.3L155.4 550.3 157.2 552.8M127.0 538.8L124.6 539.1 123.7 536.9M151.7 464.7L153.9 465.5 153.7 467.8M163.6 547.7L160.7 548.2 159.5 545.5M135.4 514.1L134.2 516.0 132.1 515.3M169.1 515.2L168.3 512.5 170.7 511.0M74.0 525.3L71.9 526.1 70.6 524.1M63.4 482.4L66.4 481.6 67.9 484.3M96.3 512.2L97.9 514.3 96.2 516.5M162.2 574.6L161.3 577.1 158.7 576.8M166.9 561.6L167.0 559.1 169.4 558.5M108.8 497.5L110.3 494.6 113.4 495.4M58.3 545.7L59.5 548.8 56.9 550.7M82.3 563.5L81.3 565.8 78.9 565.4M181.8 567.2L178.9 565.8 179.5 562.7M108.0 532.6L105.7 532.2 105.6 529.8M154.2 538.1L155.2 540.4 153.2 541.9M135.1 594.6L133.1 595.6 131.6 594.0M113.5 549.8L110.3 549.9 109.5 546.8M143.9 543.4L146.8 544.7 146.2 547.8"/><path stroke="#4a7896" d="M122.9 524.9L122.1 527.2 119.7 527.0M189.4 564.9L188.2 563.0 189.7 561.4M85.1 554.7L85.7 557.5 83.1 558.8M75.9 505.4L73.4 503.8 74.3 501.0M113.4 526.4L115.3 524.4 117.7 525.7"/><path stroke="#8ccdee" d="M159.0 467.5L158.2 464.6 160.8 463.0M102.6 561.5L100.4 561.8 99.6 559.6M185.9 556.6L185.5 559.8 182.3 560.2M184.4 596.9L182.1 598.5 180.1 596.7M77.4 509.0L79.7 509.2 80.0 511.5M134.6 568.9L137.2 567.1 139.5 569.1M80.2 479.3L78.0 480.7 76.1 478.9M93.3 552.2L95.9 554.2 94.5 557.2M144.2 461.5L141.4 462.7 139.5 460.3M173.9 502.3L170.7 501.8 170.3 498.5M76.2 597.0L73.4 598.9 71.0 596.7M89.9 510.8L88.4 512.8 86.1 511.8M80.8 548.0L80.6 551.2 77.4 551.8M143.9 479.2L144.3 482.4 141.3 483.6M155.5 497.4L157.5 494.8 160.4 496.1M104.1 572.5L106.0 575.2 103.9 577.6M86.3 570.8L85.6 568.5 87.6 567.1M117.6 529.8L117.4 527.3 119.8 526.5M152.3 485.4L153.3 487.7 151.3 489.2M173.6 590.3L173.9 593.3 171.1 594.2M153.9 518.9L155.6 520.9 154.0 523.0M174.7 586.7L173.0 584.9 174.4 582.8M142.6 551.5L141.2 553.3 139.1 552.4M89.7 557.7L90.4 560.4 87.9 561.7M132.8 463.1L130.8 461.0 132.3 458.6M59.2 475.6L61.6 477.8 60.0 480.6M107.5 494.3L105.4 496.0 103.2 494.5M169.3 507.4L171.5 506.8 172.6 508.8M111.4 488.9L111.9 486.5 114.3 486.4M152.6 491.7L154.8 493.7 153.4 496.4M79.8 551.0L82.4 551.9 82.1 554.6M147.3 464.2L147.6 461.3 150.5 461.0M169.0 526.7L169.0 529.9 165.9 530.6M141.8 453.3L138.5 453.6 137.5 450.5M51.7 483.9L52.9 481.9 55.1 482.6M93.2 483.9L92.0 486.1 89.6 485.5M77.0 566.9L78.4 568.9 76.9 570.7M160.4 557.6L160.4 554.7 163.2 553.9M92.2 506.1L92.0 503.0 94.9 502.0M134.8 525.4L135.8 523.2 138.2 523.7M97.3 564.6L96.3 561.7 98.9 560.1M95.4 539.6L97.8 540.6 97.3 543.2M124.2 532.5L125.6 530.1 128.2 530.9M61.9 486.8L59.4 488.3 57.3 486.1M173.9 476.0L172.9 473.6 175.1 472.1M137.7 519.2L135.2 519.1 134.8 516.6M56.2 466.8L57.7 465.0 59.7 466.0M148.2 477.9L146.1 476.4 147.0 474.0M64.9 489.9L65.7 492.9 63.0 494.4M73.8 569.3L76.4 568.4 77.9 570.7M123.4 566.1L122.6 568.5 120.1 568.3M148.1 527.8L148.4 525.0 151.1 524.6M120.9 471.0L120.7 473.9 117.8 474.5M74.2 480.7L72.3 479.1 73.3 476.9M145.7 472.6L148.6 471.8 150.1 474.5M129.7 478.5L132.4 477.1 134.4 479.5M123.7 562.3L125.6 563.8 124.6 566.0M132.2 463.2L130.0 465.5 127.1 463.9M153.4 522.8L155.8 525.0 154.3 527.8M182.6 569.7L184.6 572.1 182.7 574.6M157.3 486.9L158.6 488.9 156.9 490.6M164.3 568.6L163.0 571.1 160.2 570.5M84.6 526.2L81.5 526.7 80.3 523.8M156.6 534.8L155.7 531.6 158.6 530.0M91.9 534.9L92.7 537.9 90.0 539.3M134.2 501.6L135.1 498.5 138.3 498.6M170.8 510.4L170.0 513.0 167.3 512.9M77.5 527.6L77.2 530.0 74.8 530.2M143.8 569.8L146.1 570.0 146.5 572.4M127.4 572.2L128.8 569.7 131.5 570.5M105.1 501.0L106.3 502.9 104.7 504.6M158.6 520.7L159.5 517.8 162.5 518.0M169.4 462.6L170.7 464.7 169.1 466.5M39.3 572.8L42.2 574.1 41.6 577.2M52.4 522.8L49.4 523.9 47.5 521.2M83.2 469.9L85.9 469.2 87.2 471.6M103.9 488.8L106.4 487.7 108.0 489.9M158.1 584.0L157.8 586.8 155.0 587.2M79.9 550.2L81.3 547.8 84.0 548.5M186.6 512.4L185.3 514.4 183.0 513.7M112.7 586.9L112.1 589.9 109.2 590.0M49.6 474.9L52.0 473.2 54.2 475.2M160.7 504.8L157.9 506.3 155.8 504.0M82.7 478.2L83.2 475.1 86.3 474.9M137.3 561.2L138.3 563.9 135.9 565.6M105.1 461.7L107.7 461.7 108.4 464.3M120.9 541.8L122.1 539.4 124.7 540.0M130.3 501.0L127.7 499.0 129.0 496.0M141.9 505.7L141.6 503.4 143.8 502.6M61.0 477.2L61.4 480.3 58.5 481.4M59.7 483.3L61.3 481.5 63.4 482.7M69.1 580.9L72.2 581.3 72.6 584.4M174.1 489.3L171.5 490.9 169.4 488.7M145.4 478.6L142.6 480.4 140.2 478.2M162.5 531.5L164.5 530.2 166.1 531.8M84.4 592.5L85.4 589.8 88.3 590.1M134.2 484.3L131.8 486.5 129.2 484.7M80.9 582.9L83.1 582.3 84.2 584.2M134.7 552.5L132.0 553.4 130.4 551.1M79.1 566.8L81.5 567.6 81.3 570.2M187.2 511.0L189.3 508.7 192.1 510.3M116.4 505.3L113.2 504.9 112.9 501.7M138.6 465.1L137.2 466.9 135.2 465.9M162.1 489.7L161.7 487.2 164.1 486.2M144.6 483.6L145.4 481.1 148.0 481.2M90.3 525.1L92.5 525.5 92.7 527.8M94.0 543.0L96.1 544.6 95.1 547.0M59.8 505.3L57.4 503.1 59.0 500.3M163.3 576.3L162.8 573.4 165.5 572.1M52.4 535.0L51.4 536.9 49.3 536.4M114.0 485.9L116.4 483.8 119.0 485.6M70.0 507.3L68.8 504.7 71.1 503.0M98.6 552.1L95.7 552.2 95.0 549.4M158.1 530.8L156.9 527.9 159.4 526.1M77.8 488.7L75.6 490.0 73.8 488.2M158.9 508.9L156.0 510.4 153.9 508.0M92.1 540.9L91.6 544.0 88.5 544.2M123.6 555.0L122.5 557.0 120.3 556.4M75.3 505.9L74.9 503.7 76.9 502.7M93.7 511.7L94.6 514.2 92.3 515.7M54.5 572.2L57.0 574.2 55.6 577.0M125.7 564.9L128.4 564.1 129.8 566.6M50.6 558.7L51.4 556.6 53.6 557.0M56.2 605.1L57.9 602.4 61.0 603.5M153.7 518.6L154.8 520.8 153.0 522.4M184.7 594.0L181.7 594.1 180.9 591.3M154.1 585.5L151.1 585.1 150.7 582.2M93.6 570.9L94.5 568.6 96.9 568.9M178.9 593.1L178.3 590.0 181.2 588.8"/><path stroke="#a8dcf4" d="M51.0 537.5L53.7 537.8 54.1 540.5M137.9 565.8L135.7 565.1 135.9 562.8M116.3 497.0L114.1 496.0 114.6 493.7M81.8 584.8L80.2 582.9 81.6 580.9M82.0 538.1L80.8 535.5 83.1 533.6M120.0 598.5L121.0 595.9 123.9 596.2M104.7 466.9L105.6 469.7 103.2 471.4M57.7 499.8L58.4 497.0 61.3 497.0M85.8 546.2L83.3 547.4 81.6 545.2M63.2 550.1L65.7 548.2 68.1 550.2M148.2 480.4L148.7 482.8 146.4 483.8M161.3 532.6L163.2 531.1 165.2 532.5M84.5 476.8L82.3 475.5 83.0 473.1M155.6 534.5L156.4 537.2 153.9 538.6M98.2 578.1L99.5 575.7 102.1 576.4M158.0 584.3L155.4 582.4 156.7 579.5M81.9 517.0L85.0 517.8 85.0 521.0M85.5 560.0L83.1 560.8 81.7 558.7M167.9 578.3L167.7 581.1 164.9 581.7M152.7 532.1L151.8 529.0 154.5 527.4M129.0 485.8L132.1 486.9 131.8 490.1M119.3 476.2L119.3 474.0 121.5 473.4M81.9 589.7L84.4 587.6 87.0 589.5M141.1 482.0L138.1 482.2 137.1 479.4M173.5 476.6L173.3 479.5 170.5 480.0M59.1 517.1L61.1 514.9 63.7 516.3M172.0 470.2L169.7 470.8 168.6 468.6M105.8 506.0L108.5 504.3 110.8 506.6M91.9 492.3L91.3 494.5 88.9 494.5M43.8 601.1L46.3 601.1 46.8 603.6M164.8 530.4L167.0 530.6 167.4 532.9M127.9 514.3L127.5 517.0 124.8 517.3M168.3 595.2L165.7 597.0 163.3 594.9M102.5 457.1L104.4 455.6 106.4 457.0M147.1 531.7L148.2 533.7 146.5 535.2M133.6 512.9L132.7 516.1 129.5 516.0M107.9 558.3L106.1 559.9 104.1 558.5M110.4 513.2L113.4 514.3 113.1 517.5M113.5 501.9L111.7 503.8 109.4 502.5M69.4 566.3L70.8 564.0 73.4 564.8M62.4 557.6L59.4 556.3 59.9 553.2M75.3 503.7L77.7 502.3 79.7 504.3M175.0 540.6L177.5 538.8 179.9 540.8M136.7 563.9L135.2 565.9 132.9 564.8M88.0 506.3L89.8 508.5 88.2 510.8M149.5 566.1L146.7 566.7 145.4 564.1M107.8 561.5L105.5 562.6 103.8 560.6M146.3 578.0L149.0 578.7 149.1 581.5M122.3 481.3L122.9 478.6 125.6 478.6M173.6 580.7L171.4 579.3 172.2 576.8M152.6 475.1L151.2 477.2 148.8 476.3M173.4 565.2L171.1 566.1 169.7 564.0M58.3 484.3L61.4 484.9 61.5 488.0M116.5 563.2L117.7 566.1 115.2 568.0M113.6 543.8L111.6 542.2 112.7 539.9M168.1 595.1L171.1 593.9 173.0 596.5M108.0 455.4L105.1 454.9 104.9 451.9M46.4 469.0L44.6 470.3 42.9 468.9M96.7 560.7L97.4 558.2 100.0 558.4M137.7 600.2L135.6 600.8 134.4 598.9M75.8 518.2L78.0 518.6 78.2 520.8M150.1 540.6L147.3 541.3 146.0 538.8M110.0 564.7L107.3 562.8 108.4 559.8M127.8 486.4L130.3 487.2 130.2 489.8M104.3 490.7L106.3 489.3 108.2 490.9M123.2 536.9L120.8 535.6 121.5 533.0M66.7 527.6L64.1 526.7 64.4 524.0M85.0 575.5L84.3 572.9 86.7 571.7M139.4 542.5L136.6 543.2 135.2 540.7M63.7 539.1L64.3 536.9 66.5 536.9"/><path stroke="#8ccdee" d="M137.5 466.0L140.3 464.4 142.6 466.7M133.9 495.5L130.8 495.8 129.7 492.9M185.3 460.7L188.0 459.5 189.9 461.9M118.3 538.1L120.1 535.6 123.0 536.7M102.8 530.2L105.4 529.0 107.2 531.2M185.9 513.6L183.6 513.4 183.3 511.1M129.8 591.4L130.9 589.2 133.3 589.8M133.5 492.6L136.0 491.7 137.4 493.9M137.1 474.3L137.7 477.2 135.0 478.4M108.4 526.7L108.5 529.2 106.1 529.9M73.0 483.9L75.6 485.9 74.2 488.8M100.6 507.9L103.0 506.9 104.5 508.9M74.3 550.7L75.3 553.1 73.2 554.7M56.6 496.1L58.4 498.0 57.0 500.2M120.2 510.9L118.2 509.5 119.1 507.3M147.8 555.0L148.3 551.9 151.5 551.6M46.7 514.8L46.8 511.5 49.9 510.9M140.7 533.2L143.8 532.3 145.4 535.1M86.2 526.3L83.0 526.2 82.3 523.1M131.0 568.3L130.3 565.3 133.0 563.9M112.5 505.8L110.6 504.6 111.2 502.4M104.5 531.6L106.3 533.4 104.9 535.6M71.1 581.5L74.2 582.3 74.1 585.5M168.2 503.9L169.2 505.9 167.4 507.3M80.3 549.4L82.2 551.1 81.1 553.3M181.2 553.9L183.1 552.2 185.2 553.6M158.9 544.0L160.7 545.7 159.5 547.8M141.4 585.1L139.4 586.5 137.6 584.9M179.7 522.5L181.9 520.6 184.3 522.3M78.6 563.4L78.0 561.2 80.0 560.1M174.0 451.2L171.1 452.6 169.1 450.1M120.1 491.2L119.4 488.3 122.0 487.0M73.8 475.2L74.6 477.4 72.6 478.6M81.0 550.5L79.8 547.9 82.1 546.1M136.5 503.6L136.8 506.6 133.9 507.6M165.6 487.0L167.6 489.4 165.8 491.9M110.0 570.0L110.4 567.1 113.3 566.7M140.6 492.8L141.5 495.4 139.1 496.9M38.6 562.5L40.8 564.8 39.1 567.4M82.1 472.5L81.3 475.3 78.4 475.3M119.6 492.1L121.4 494.0 120.0 496.2M125.0 477.7L123.7 479.5 121.6 478.7M103.2 550.3L101.6 553.1 98.4 552.2M70.9 564.5L72.3 562.2 74.9 563.0M155.2 534.5L152.3 535.3 150.8 532.6M178.8 581.8L176.4 579.6 178.0 576.8M123.9 559.7L122.5 562.5 119.5 561.8M174.3 527.9L173.9 525.2 176.4 524.3M92.6 471.7L93.8 474.2 91.7 476.0M131.7 530.7L128.9 529.9 129.1 527.0M69.9 533.0L67.5 532.1 67.8 529.6M66.6 560.1L65.8 562.4 63.3 562.2M160.1 472.1L162.3 474.4 160.6 477.2M126.8 551.5L128.0 549.1 130.7 549.7M70.8 567.4L69.5 569.3 67.4 568.6M152.2 521.1L153.6 523.2 152.0 525.1M129.2 488.1L127.8 485.7 129.8 483.9M54.3 584.1L53.0 586.1 50.8 585.3M127.4 481.3L125.9 479.7 127.1 477.8M69.4 489.8L71.6 489.8 72.2 491.9M169.2 538.6L172.3 537.9 173.7 540.7M102.4 528.4L105.6 528.7 106.2 531.8M107.4 453.2L108.5 455.5 106.5 457.1M144.2 534.4L146.8 532.9 148.9 535.1M72.2 518.9L71.8 516.5 74.1 515.5M140.9 569.0L141.7 571.1 139.9 572.3M53.6 552.4L55.8 551.8 56.9 553.8M164.4 486.5L163.9 489.1 161.3 489.3M118.0 537.3L117.1 534.6 119.6 533.0M72.2 507.2L73.3 504.7 76.0 505.1M66.4 515.5L66.7 518.2 64.1 519.1M71.9 488.7L74.4 489.8 74.0 492.5M127.1 490.4L128.2 492.6 126.4 494.2M145.7 580.2L147.0 582.2 145.4 583.9M100.7 482.5L98.8 484.2 96.6 482.9M65.8 500.9L68.6 499.5 70.7 501.9M131.0 561.6L133.3 559.9 135.5 561.8M120.1 549.6L120.3 546.5 123.4 545.9M140.6 462.6L139.5 465.5 136.4 465.2M102.5 600.6L100.2 598.6 101.6 595.8M86.0 479.5L84.7 477.0 86.7 475.1M66.8 501.8L66.3 499.7 68.3 498.7M80.1 525.8L77.9 525.1 78.1 522.8M108.9 474.5L112.1 474.9 112.5 478.1M112.5 604.5L112.4 601.2 115.6 600.4M104.1 525.0L100.9 524.7 100.5 521.5M82.4 457.6L81.1 455.5 82.8 453.7M188.6 494.6L188.7 492.2 191.0 491.6M96.5 490.3L94.0 492.4 91.4 490.4M178.5 547.5L175.9 546.7 176.1 544.0M168.4 486.5L169.1 488.9 166.9 490.1M173.4 470.3L176.1 472.1 175.0 475.1M103.2 530.9L100.6 531.7 99.2 529.5M178.0 474.2L180.0 476.2 178.5 478.6M77.1 545.6L76.7 548.8 73.5 549.2M114.7 572.4L113.8 569.4 116.5 567.8M102.6 547.6L104.9 546.3 106.7 548.3M75.3 506.3L78.1 507.6 77.5 510.6M162.1 502.4L162.1 505.0 159.7 505.6M187.3 512.5L186.7 510.0 189.1 508.9M55.9 536.8L56.4 540.0 53.4 541.2M145.7 511.7L144.2 509.9 145.6 507.9M104.2 565.0L107.1 563.6 109.2 566.1M118.0 586.0L120.8 586.6 120.9 589.5M82.3 525.0L85.4 525.0 86.1 528.0M124.2 539.5L122.7 541.9 120.0 540.9M128.6 499.0L128.8 501.2 126.7 502.0M62.4 458.3L63.8 461.0 61.6 463.0M120.1 547.2L117.7 549.4 115.0 547.6M175.9 529.9L175.6 527.6 177.8 526.8M101.3 501.1L101.0 498.9 103.2 498.0M185.5 549.5L188.3 548.6 189.8 551.1M171.8 561.2L173.2 563.2 171.6 565.1M114.1 565.8L115.9 567.8 114.4 570.0M115.8 496.5L114.0 498.3 111.8 496.9M152.1 599.2L153.9 601.9 151.7 604.3M136.4 494.3L135.4 496.3 133.2 495.8M114.0 533.9L116.0 531.9 118.5 533.3M153.6 513.1L153.5 510.8 155.7 510.0M99.5 511.0L99.2 513.5 96.7 513.8M165.3 456.0L163.1 455.4 163.1 453.1M141.5 469.1L144.5 468.3 146.0 471.0M167.3 482.5L168.2 485.0 166.0 486.4M116.3 484.6L113.8 485.7 112.1 483.6M109.3 580.2L111.5 581.1 111.1 583.4M181.0 483.6L183.6 482.6 185.3 485.0M117.3 578.4L119.1 580.2 117.8 582.4M146.3 529.6L148.4 528.4 150.1 530.2M134.7 560.2L137.4 559.9 138.3 562.5"/><path stroke="#a8dcf4" d="M118.8 545.4L120.8 546.8 119.8 549.2M137.8 509.1L137.3 506.2 140.0 505.1M137.0 529.1L139.5 528.3 140.8 530.6M95.5 485.9L95.8 488.8 93.0 489.7M87.1 586.9L84.7 587.3 83.8 585.1M127.9 591.1L128.2 588.3 131.0 587.9M78.4 509.2L80.6 507.9 82.5 509.7M91.2 563.0L91.8 565.6 89.5 566.8M61.0 548.2L62.8 546.0 65.4 547.2M54.4 500.9L53.4 503.3 50.9 502.9M154.6 536.2L157.3 537.3 156.9 540.2M78.5 518.8L76.1 517.3 76.9 514.7M149.0 570.8L146.8 571.6 145.4 569.6M110.1 464.4L108.0 466.1 105.9 464.6M115.3 529.9L112.9 529.3 112.9 526.9M99.1 456.4L99.2 459.6 96.1 460.5M166.2 553.5L168.5 553.7 168.9 556.0M56.2 458.8L58.1 461.1 56.4 463.4M85.3 516.5L88.0 515.1 90.0 517.4M170.1 567.5L167.1 567.3 166.6 564.3M189.2 528.3L188.6 525.7 191.0 524.4M135.9 566.4L135.9 569.3 133.1 570.0M109.6 544.7L106.7 545.6 105.2 543.0M143.4 461.5L146.2 462.5 145.9 465.4M55.4 588.7L55.7 591.3 53.3 592.3M92.3 468.8L90.1 469.4 88.9 467.4M99.8 487.6L98.3 489.9 95.7 489.0M81.1 539.7L78.7 537.8 80.0 535.0M150.7 576.4L148.5 577.9 146.5 576.2M164.9 467.1L164.2 469.2 162.0 469.1M99.6 498.7L98.0 496.5 99.8 494.3M88.4 491.8L88.8 489.5 91.2 489.3M105.3 532.4L104.7 529.9 107.0 528.7M110.1 536.2L110.7 533.0 114.0 532.8M130.0 521.1L133.1 520.7 134.1 523.6M116.7 546.7L116.6 544.2 118.9 543.5M146.2 556.8L147.0 554.1 149.8 554.3M161.2 462.4L160.6 465.5 157.4 465.7M190.6 578.8L191.9 576.7 194.3 577.5M142.9 475.0L141.9 472.2 144.4 470.5M158.9 487.0L159.5 490.1 156.7 491.5M128.0 562.9L125.4 564.2 123.6 562.0M176.5 502.9L173.6 502.9 172.9 500.0M144.7 460.6L143.5 458.0 145.8 456.3M92.6 578.3L91.2 575.8 93.3 573.9M104.2 520.0L106.2 518.5 108.2 520.1M96.0 554.9L98.3 553.7 100.1 555.7M67.2 575.4L67.3 577.8 64.9 578.4M185.2 575.4L186.5 573.4 188.7 574.1M95.3 501.9L97.6 503.1 97.0 505.6M175.0 496.6L172.8 496.0 172.9 493.8M58.7 509.8L57.1 512.4 54.2 511.5M103.6 559.6L104.5 562.7 101.7 564.3M88.5 508.7L88.1 511.7 85.1 512.0M89.7 542.9L89.0 545.0 86.8 544.9M143.2 541.6L141.1 543.9 138.3 542.3M118.9 541.5L121.4 539.9 123.6 541.9M172.4 468.4L171.3 465.5 173.8 463.6M68.7 516.0L67.9 513.4 70.2 512.0M117.6 492.0L120.6 493.0 120.3 496.1M134.5 471.2L135.6 473.4 133.8 475.0M97.1 472.5L96.4 474.7 94.1 474.6M163.7 570.2L166.3 570.5 166.7 573.1M87.3 553.2L85.8 555.8 82.9 555.0M122.8 472.3L120.7 469.8 122.6 467.2M111.3 551.8L109.6 553.3 107.8 552.0M101.6 493.1L101.7 490.0 104.8 489.4M146.3 522.8L145.2 524.9 142.9 524.3M142.6 512.3L144.5 511.3 146.0 512.8M115.4 477.9L113.8 476.3 115.0 474.3"/><path stroke="#6eb6dc" d="M131.2 468.8L129.1 466.7 130.6 464.2M160.4 477.1L157.4 475.9 157.8 472.8M84.8 534.0L83.3 532.3 84.5 530.5M112.6 463.7L112.6 466.3 110.0 466.9M168.4 496.2L167.0 493.8 169.0 491.9M169.2 455.2L170.3 457.7 168.0 459.4M147.2 540.6L144.1 541.5 142.4 538.6M97.9 558.6L94.9 558.2 94.7 555.2M107.5 532.1L110.0 531.8 111.0 534.2M146.5 581.6L149.3 583.0 148.6 586.0M184.9 450.4L183.7 452.6 181.3 451.9M154.5 469.8L156.1 467.1 159.1 468.0M140.3 495.1L141.1 497.9 138.5 499.4M126.3 513.8L125.6 516.4 122.9 516.4M163.2 517.3L166.0 518.6 165.4 521.6M79.0 457.9L77.9 455.2 80.2 453.5M74.6 514.8L75.8 517.3 73.7 519.1M135.2 486.9L135.7 484.7 137.9 484.6M98.6 468.5L101.3 466.7 103.7 468.8M182.5 572.8L181.3 570.8 183.0 569.2M179.9 484.8L178.1 482.1 180.2 479.7M146.8 481.8L144.4 481.8 143.7 479.4M171.4 558.2L173.4 559.9 172.2 562.3M159.7 514.1L157.7 516.5 154.8 515.2M92.0 488.5L95.2 489.4 95.1 492.6M172.3 541.7L170.6 539.9 172.0 537.9M148.4 531.2L148.5 533.9 145.9 534.7M187.6 521.9L190.0 522.0 190.5 524.3"/><path stroke="#6eb6dc" d="M151.9 556.9L154.9 556.8 155.7 559.7M72.3 515.4L71.6 512.9 73.7 511.6M110.3 562.3L111.8 564.2 110.3 566.1M101.1 541.6L103.2 542.4 102.9 544.6M95.8 572.1L93.3 570.7 94.0 567.9M69.5 496.3L69.8 498.9 67.4 499.8M104.3 574.7L105.8 572.3 108.4 573.2M74.3 541.8L76.4 543.2 75.5 545.5M67.5 579.8L67.9 577.4 70.3 577.2M95.5 561.0L97.3 563.3 95.5 565.6M157.7 466.0L157.8 462.9 160.9 462.2M186.2 576.3L184.8 574.1 186.5 572.3M144.7 487.6L142.8 485.0 144.8 482.4M132.2 457.6L131.8 460.1 129.3 460.3M110.0 526.6L112.0 524.8 114.1 526.3M102.6 544.8L104.6 542.3 107.5 543.7M129.5 490.9L131.8 491.1 132.2 493.4M85.9 520.4L84.8 522.4 82.6 521.8M158.1 503.5L159.6 505.7 157.8 507.8M122.5 452.9L124.9 452.8 125.5 455.0M83.9 532.0L82.3 534.7 79.2 533.8M87.8 457.6L86.1 460.5 83.0 459.6M153.8 474.1L156.5 475.0 156.3 477.8M69.1 562.7L67.0 560.6 68.4 558.1M138.7 449.7L137.2 447.3 139.1 445.3M123.4 538.9L124.0 536.4 126.6 536.5M157.3 582.6L155.5 580.5 157.2 578.2M81.6 571.0L82.5 568.7 84.9 569.0"/><path stroke="#a8dcf4" d="M72.7 511.4L72.6 508.1 75.7 507.2M74.3 466.6L76.7 468.2 75.8 470.9M165.6 537.4L164.9 534.7 167.3 533.3M119.3 531.6L116.8 530.6 117.1 528.0M111.6 471.0L112.8 468.5 115.5 469.0M129.0 546.4L126.6 547.6 124.8 545.5M72.6 449.4L73.3 452.4 70.6 453.9M85.8 509.6L84.0 507.7 85.3 505.4M119.1 484.4L116.4 482.9 117.2 479.9M114.8 497.9L112.3 495.8 113.8 492.9M118.1 507.1L120.9 507.2 121.6 510.0M89.7 502.2L92.1 500.6 94.2 502.5M74.0 546.8L75.4 548.9 73.6 550.8M169.9 575.5L168.0 577.9 165.3 576.6M57.5 544.1L55.4 546.3 52.8 544.8M121.8 503.0L123.4 505.1 121.6 507.1M128.1 539.4L126.3 537.7 127.5 535.5M95.6 510.7L98.2 510.7 98.8 513.2M102.1 532.9L104.1 532.0 105.4 533.8M77.4 481.0L80.2 480.4 81.5 483.0M125.8 468.3L126.2 471.1 123.5 472.2M75.3 477.6L77.4 475.5 79.9 477.0M115.5 478.4L112.7 478.4 112.0 475.7M155.3 543.4L156.6 540.6 159.6 541.2M137.2 484.0L134.1 483.7 133.6 480.7M99.7 580.6L96.7 579.4 97.1 576.2M86.5 511.6L84.4 509.2 86.2 506.6M111.9 493.6L112.2 496.8 109.2 497.9M149.3 537.6L147.4 536.5 148.1 534.3M190.9 552.0L192.9 553.7 191.7 556.2M125.9 535.2L127.2 532.6 130.1 533.3M144.4 499.1L146.3 501.4 144.5 503.8M74.4 574.7L73.9 572.4 76.1 571.5M97.4 493.2L97.1 496.0 94.4 496.4M70.4 533.6L73.6 533.3 74.6 536.4M163.1 566.7L164.2 569.2 162.0 570.8M163.5 567.1L162.7 564.2 165.3 562.7M106.3 537.4L104.1 537.6 103.3 535.5M147.7 516.3L150.0 514.9 151.9 516.8M57.3 521.0L59.0 522.8 57.7 524.9M82.7 579.0L85.0 579.5 85.1 582.0M70.9 504.5L71.4 506.7 69.4 507.7M107.8 567.7L105.3 566.2 106.1 563.4M80.8 479.0L77.7 479.3 76.6 476.3M190.8 546.9L192.2 549.8 189.8 551.9M113.7 527.9L115.8 527.3 116.9 529.2M60.3 482.3L61.2 484.6 59.2 486.0M77.5 532.1L80.4 531.6 81.6 534.3M59.7 470.4L62.4 469.0 64.4 471.2M138.9 539.7L140.6 541.7 139.1 543.8M105.5 565.9L102.8 566.3 101.7 563.9M85.9 520.7L83.9 522.0 82.2 520.3M107.8 515.0L105.1 514.1 105.3 511.2M148.3 496.1L148.3 493.3 151.0 492.6M97.2 543.4L97.0 546.5 94.0 547.0M154.4 553.9L154.3 551.6 156.5 550.9M87.2 449.1L87.4 451.8 84.8 452.7M89.5 482.6L89.7 485.4 87.1 486.3M110.5 544.4L108.4 545.2 107.1 543.3M137.7 524.5L135.2 525.4 133.8 523.2M119.6 577.2L122.0 575.9 123.9 577.9M147.6 491.8L146.0 490.0 147.5 488.0M101.0 517.2L98.4 515.6 99.4 512.7M146.2 528.3L145.2 530.6 142.7 530.1M136.3 573.2L138.8 571.3 141.3 573.2M168.5 549.2L170.0 546.4 173.1 547.1M73.9 599.8L72.1 597.9 73.5 595.7M89.6 493.1L87.5 492.4 87.6 490.1M118.1 461.7L115.3 463.0 113.4 460.6M157.1 594.4L159.1 596.5 157.5 599.0"/><path stroke="#6eb6dc" d="M73.5 563.3L76.0 562.7 77.2 564.9M115.9 479.1L113.5 478.5 113.6 476.1M145.6 544.3L142.3 544.1 141.7 540.9M157.8 486.8L160.8 486.9 161.5 489.9M109.5 463.2L107.2 462.8 107.2 460.5M40.3 534.7L39.8 532.3 42.0 531.1M86.3 562.8L84.9 565.6 81.8 565.0M80.3 531.3L82.1 533.7 80.1 535.9M152.6 478.9L150.0 480.3 148.0 478.0M108.8 540.1L108.8 537.1 111.6 536.4M87.4 475.9L84.8 475.7 84.4 473.1M99.7 530.8L97.1 530.8 96.4 528.3M66.7 582.5L64.7 581.3 65.4 579.1M59.2 447.3L61.9 446.7 63.2 449.3M90.4 462.1L88.0 463.3 86.3 461.3M142.8 557.5L140.0 558.4 138.4 555.8M49.6 559.0L49.6 562.1 46.7 562.8M89.7 565.9L87.9 568.5 84.9 567.4M179.7 461.6L179.9 464.2 177.4 465.1M164.1 525.3L163.6 522.8 165.9 521.7M175.4 536.5L172.5 536.1 172.1 533.2M76.4 576.6L73.4 577.0 72.3 574.1M62.7 515.1L61.5 518.0 58.5 517.5M182.5 473.5L184.2 475.5 182.7 477.6M175.1 474.8L176.5 472.5 179.2 473.4M109.6 584.1L112.2 584.2 112.7 586.6M67.3 453.4L65.4 455.3 63.1 454.0M177.9 517.4L176.8 515.4 178.5 513.8"/><path stroke="#8ccdee" d="M151.0 498.6L150.3 495.7 153.0 494.3M91.8 601.2L89.5 603.4 86.8 601.6M152.8 471.9L151.3 474.2 148.7 473.3M107.1 507.5L107.9 505.2 110.3 505.4M144.6 538.0L142.8 535.7 144.6 533.4M93.1 566.4L93.4 563.3 96.4 562.8M176.3 487.7L177.4 490.3 175.1 492.0M86.0 493.0L88.3 494.9 87.0 497.6M160.6 550.4L163.1 550.0 164.1 552.4M97.8 538.9L95.4 538.2 95.4 535.7M164.4 485.8L163.4 483.5 165.4 482.0M101.1 481.3L101.2 483.5 99.1 484.2M93.3 486.5L90.5 485.9 90.5 483.1M165.8 505.8L164.2 507.8 161.9 506.7M67.6 452.8L67.1 450.2 69.5 449.1M154.0 505.6L154.8 502.8 157.6 502.8M56.7 573.1L57.0 570.3 59.8 570.0M158.5 524.2L156.8 522.8 157.8 520.8M131.0 534.6L128.4 532.9 129.5 530.0M129.3 464.6L127.4 467.2 124.4 466.1M159.4 500.4L162.0 499.3 163.7 501.5M175.8 535.9L177.8 537.5 176.8 539.9M106.3 511.5L104.4 510.1 105.3 507.9M81.7 544.5L80.2 542.6 81.6 540.7M69.5 502.5L66.4 501.9 66.2 498.8M73.0 513.5L73.5 516.4 70.9 517.6M90.2 446.6L92.7 446.2 93.7 448.5M173.7 488.0L174.9 485.2 177.9 485.6M158.6 537.0L159.8 539.1 158.1 540.8M149.9 571.3L152.8 570.5 154.3 573.2M152.7 549.4L153.1 552.1 150.6 553.3M109.4 587.8L111.9 587.3 113.0 589.7M74.4 478.8L76.1 480.8 74.5 483.0M129.3 512.5L128.7 510.2 130.7 509.1M84.1 539.3L85.5 536.5 88.5 537.2M136.5 487.4L133.7 488.6 131.9 486.1M55.1 530.0L52.8 531.4 50.8 529.6M141.9 534.6L139.1 534.8 138.2 532.2M143.9 473.6L146.4 474.1 146.6 476.7M90.8 547.9L93.3 549.1 92.7 551.9M156.8 474.5L158.4 472.5 160.6 473.6M109.1 490.2L107.2 491.5 105.4 490.0M155.2 504.3L155.4 501.3 158.3 500.8M52.9 497.6L53.8 495.5 56.0 495.9M196.0 544.3L193.6 542.5 194.8 539.7M90.8 496.9L88.9 498.3 87.2 496.7M154.4 476.6L155.6 478.5 154.0 480.1M109.9 530.8L111.5 533.5 109.3 535.7M148.8 552.4L151.4 551.1 153.3 553.3M72.6 579.2L72.6 581.6 70.3 582.1M139.0 500.1L140.1 502.8 137.8 504.5M95.5 528.1L93.2 527.2 93.5 524.8M112.5 574.3L110.3 574.7 109.4 572.6M174.1 528.1L173.7 530.5 171.2 530.7M88.9 502.7L88.6 505.0 86.4 505.2M82.2 524.1L82.5 521.8 84.8 521.6M71.6 467.0L74.0 469.2 72.5 472.0M106.5 584.8L108.5 583.5 110.2 585.2M98.7 483.8L98.7 486.7 95.9 487.3M53.7 563.3L50.9 564.9 48.6 562.6M108.3 529.0L109.6 526.7 112.1 527.4M98.8 496.4L96.1 498.3 93.6 496.2M104.9 552.4L107.6 552.4 108.3 555.1M76.3 542.7L79.1 541.7 80.7 544.1M118.7 549.4L117.9 551.7 115.5 551.5M85.0 495.4L88.2 496.0 88.4 499.2M190.7 559.9L191.9 556.9 195.0 557.4M153.7 561.9L151.0 560.5 151.7 557.6M131.4 505.6L129.1 507.4 126.8 505.6M161.6 590.0L164.5 591.4 163.7 594.6M140.8 545.2L141.1 547.4 139.0 548.3M156.5 480.7L157.3 477.6 160.5 477.6M106.3 516.9L103.7 515.8 104.1 513.1M128.9 547.8L131.2 549.7 129.9 552.4M119.9 557.6L118.3 560.3 115.3 559.4M121.6 535.6L121.4 538.7 118.3 539.3M111.6 576.1L112.6 578.3 110.7 579.8M127.0 552.3L128.7 553.8 127.7 555.8M82.4 569.5L83.0 567.0 85.5 566.9M74.9 579.7L72.4 580.7 70.7 578.4M151.2 543.3L154.2 542.6 155.7 545.4M181.4 500.4L183.8 499.3 185.5 501.3M110.8 465.5L113.9 464.6 115.5 467.3M102.4 499.8L104.9 500.6 104.7 503.1M38.9 590.1L41.7 590.3 42.2 593.1M145.9 506.7L147.7 504.6 150.2 505.9M79.4 477.0L81.1 474.9 83.5 476.0M198.6 452.1L195.7 453.1 194.0 450.5M93.2 516.2L90.4 515.1 90.8 512.0M97.7 469.9L99.8 471.9 98.4 474.4M94.8 539.5L92.4 539.9 91.5 537.7M78.1 501.8L81.3 501.6 82.4 504.6M152.2 506.2L150.9 508.8 148.1 508.2M176.2 529.6L174.3 528.3 175.1 526.1M144.1 556.3L143.5 559.3 140.4 559.4M158.1 544.2L159.7 546.7 157.7 548.9M120.2 511.8L119.8 514.4 117.2 514.7M170.7 583.1L172.4 580.3 175.5 581.3M143.3 484.5L144.7 481.6 147.8 482.3M91.7 498.4L90.1 496.4 91.6 494.3M140.8 481.2L142.2 479.0 144.6 479.8M176.0 539.3L174.6 541.9 171.8 541.2M167.4 562.2L166.4 560.0 168.3 558.4M144.4 582.8L143.8 585.8 140.8 586.0M50.6 540.9L52.9 541.1 53.3 543.4M80.7 471.2L79.3 468.9 81.1 467.1M156.1 490.5L158.8 492.3 157.7 495.4M128.4 507.7L129.9 505.2 132.6 506.0M92.8 500.1L90.0 498.7 90.6 495.7M149.7 477.5L152.3 478.9 151.5 481.7M87.8 470.2L90.1 472.0 89.0 474.6M176.1 548.7L178.7 547.2 180.7 549.5M170.7 486.3L170.8 483.6 173.4 483.1M122.6 513.8L120.9 511.6 122.7 509.5M122.2 474.0L124.1 476.4 122.2 478.9M141.8 553.7L143.9 555.3 142.9 557.8M118.0 509.6L120.2 509.2 121.1 511.2M82.5 545.6L79.8 544.3 80.4 541.4M87.6 565.3L86.0 563.3 87.6 561.4M181.7 562.6L179.8 564.2 177.8 562.7M174.8 499.2L172.8 501.4 170.1 500.1M168.0 562.3L164.9 561.7 164.7 558.5M124.0 501.0L121.0 501.6 119.7 498.8M100.0 583.3L101.4 586.1 99.1 588.2M112.8 472.3L111.4 475.1 108.4 474.4M126.0 457.0L123.6 456.0 124.0 453.4M119.6 523.8L121.9 521.6 124.5 523.3M190.7 472.3L189.7 475.0 186.8 474.7M89.3 517.1L89.5 520.3 86.5 521.3"/><path stroke="#6eb6dc" d="M104.4 579.2L102.2 579.3 101.6 577.2M140.4 541.9L139.5 544.3 136.9 543.9M154.6 493.5L153.1 495.3 151.0 494.3M137.1 502.3L139.4 501.8 140.4 503.8M173.5 520.8L171.9 519.2 173.0 517.3M117.9 470.0L117.0 472.3 114.5 472.0M110.6 540.9L107.7 539.9 107.9 536.8M116.3 597.9L114.1 595.8 115.5 593.1M147.7 559.8L147.9 562.7 145.1 563.6M183.8 469.5L182.5 467.5 184.1 465.8M153.6 527.1L150.4 527.3 149.4 524.3M87.1 570.3L88.0 568.1 90.4 568.4M94.6 471.7L95.8 474.3 93.7 476.0M124.5 499.3L124.1 496.8 126.5 495.7M130.9 504.4L133.0 506.3 131.6 508.9M71.8 559.2L70.2 556.4 72.6 554.1M167.5 495.7L169.6 494.9 170.9 496.8M133.0 525.6L130.3 526.6 128.8 524.2M62.4 528.0L63.0 530.4 60.8 531.5M86.0 562.2L83.9 561.3 84.3 559.1M180.2 542.0L180.6 545.1 177.7 546.2M183.5 495.8L181.5 494.1 182.6 491.8M161.5 472.8L160.6 475.1 158.1 474.9M49.0 481.6L47.4 483.8 44.8 482.8M71.6 557.1L73.7 558.9 72.4 561.4M83.3 568.1L86.2 566.8 88.2 569.2M131.7 536.8L133.5 539.1 131.7 541.5M71.3 488.5L68.3 489.3 66.8 486.6"/><path stroke="#8ccdee" d="M140.8 540.9L141.9 543.0 140.2 544.5M81.1 591.9L83.4 590.5 85.3 592.4M195.4 517.5L193.2 517.3 192.9 515.0M75.3 551.9L75.1 554.2 72.9 554.6M66.7 519.5L68.0 517.5 70.2 518.2M106.6 546.4L106.1 544.2 108.2 543.2M105.0 571.6L108.1 572.5 108.0 575.7M91.6 533.9L93.1 532.2 95.1 533.3M75.7 473.9L75.0 470.7 77.9 469.3M156.9 496.7L157.2 494.0 159.9 493.7M150.7 538.3L151.4 536.2 153.6 536.3M175.9 476.0L174.5 478.2 172.0 477.5M114.1 474.8L113.9 472.3 116.4 471.4M91.0 476.2L90.4 474.0 92.4 472.9M48.4 589.0L49.7 586.6 52.3 587.2M171.8 576.7L174.9 577.3 175.0 580.5M155.6 570.9L153.9 568.2 156.1 565.9M46.4 575.1L47.4 577.6 45.2 579.1M149.3 505.6L147.4 507.1 145.5 505.7M66.8 531.4L68.5 529.0 71.3 529.9M74.3 550.9L76.9 549.1 79.3 551.1M157.6 511.8L158.9 509.1 161.8 509.6M159.2 496.8L160.7 498.5 159.4 500.4M107.6 520.2L110.8 520.6 111.2 523.8M84.0 522.3L81.0 523.0 79.5 520.2M143.8 554.2L146.5 554.9 146.5 557.8M147.3 590.2L150.1 589.0 151.9 591.5M87.5 506.6L85.8 503.9 87.9 501.6M56.7 462.7L54.8 460.6 56.4 458.3M184.4 577.7L187.0 577.9 187.4 580.4M178.2 504.8L177.1 502.7 178.7 501.2M145.7 548.5L145.3 550.8 143.0 550.8M89.9 565.3L91.1 567.5 89.3 569.2M167.9 478.5L165.6 480.0 163.7 478.2M149.5 480.0L152.3 481.5 151.5 484.5M107.0 546.4L109.7 546.4 110.4 549.0M70.7 521.1L70.9 523.4 68.8 524.2M153.6 472.3L155.2 470.6 157.2 471.7M79.2 517.8L79.6 520.1 77.4 521.0M99.6 574.1L100.5 576.3 98.6 577.7M68.8 565.0L72.0 564.2 73.4 567.2M92.9 555.8L92.5 552.8 95.4 551.7M126.9 485.5L126.1 482.8 128.5 481.3M93.7 526.3L93.2 523.4 95.9 522.3M178.6 479.0L176.3 479.1 175.6 476.9M56.5 590.8L56.1 588.0 58.6 586.9M150.5 540.3L153.8 540.4 154.5 543.6M164.2 449.1L167.3 449.7 167.4 452.8M132.6 489.2L130.9 487.7 132.0 485.7M94.3 527.2L96.3 529.1 95.0 531.5M121.1 501.9L123.2 503.2 122.4 505.6M42.6 479.3L45.7 479.8 46.0 483.0M99.2 512.6L96.9 511.0 97.9 508.4M109.3 527.8L109.3 524.9 112.1 524.2M163.7 465.1L161.9 463.5 162.9 461.4M110.2 522.2L111.4 520.0 113.8 520.7M151.0 562.3L148.1 560.9 148.7 557.7M63.1 517.0L64.0 520.1 61.2 521.7M123.2 481.2L122.3 483.3 120.1 482.9M137.9 497.6L137.8 500.6 134.9 501.3M75.5 579.5L78.1 578.3 79.9 580.5M72.2 580.8L69.7 581.4 68.5 579.1M57.8 578.0L55.5 579.3 53.7 577.4M70.6 479.1L68.2 478.3 68.4 475.7M188.9 562.8L189.8 565.0 187.8 566.3M95.5 487.0L96.8 489.8 94.5 491.8M72.2 464.4L72.8 462.1 75.2 462.0M99.0 499.8L98.4 496.9 101.1 495.7M152.4 572.1L151.2 570.0 153.0 568.3M55.9 583.8L55.8 580.9 58.5 580.1M108.5 580.2L110.1 578.2 112.4 579.3M116.5 590.7L117.4 588.2 120.1 588.4M186.8 579.2L187.5 581.4 185.6 582.6M90.4 502.0L92.9 502.1 93.4 504.6M135.6 560.0L134.4 557.0 137.0 555.1M111.1 562.7L112.4 564.7 110.8 566.5M154.1 510.7L156.7 509.5 158.5 511.7M147.9 559.8L150.4 559.1 151.7 561.3M139.2 537.9L138.7 540.5 136.2 540.6M62.8 510.4L65.4 510.5 65.9 513.1M68.4 527.4L70.0 529.6 68.2 531.6M149.8 482.4L148.6 480.1 150.5 478.4M44.5 456.8L44.3 454.3 46.7 453.5M89.8 569.9L92.1 569.3 93.2 571.3M144.1 468.6L145.1 466.3 147.6 466.8M48.1 464.9L49.0 462.7 51.4 463.0M111.9 543.7L110.4 541.6 112.1 539.7M177.4 461.8L179.4 460.0 181.6 461.5M81.3 481.2L81.4 483.8 78.9 484.6M71.8 538.9L70.4 541.1 67.9 540.4M63.5 513.9L62.2 511.9 63.9 510.2M106.2 583.1L104.4 585.3 101.8 584.0M69.1 525.7L68.1 527.8 65.8 527.4M101.6 534.6L104.6 534.7 105.2 537.7M88.3 538.4L90.6 538.3 91.2 540.5M179.4 573.7L176.8 574.2 175.7 571.8M129.4 554.7L131.6 553.5 133.3 555.3M145.3 575.0L146.3 577.2 144.5 578.7M72.5 454.8L75.0 456.3 74.1 459.1M124.3 498.4L125.5 501.1 123.2 503.0M160.9 524.8L157.9 523.9 158.0 520.8M88.8 530.3L86.2 531.8 84.1 529.7M193.0 538.5L195.5 539.1 195.5 541.6M151.5 538.9L154.6 539.8 154.5 543.1M62.6 500.3L62.9 497.0 66.2 496.5M106.7 571.9L104.9 569.3 107.0 566.9M92.9 572.6L92.9 575.6 90.1 576.4M163.2 505.7L161.5 507.6 159.2 506.4M80.2 539.9L77.7 541.8 75.3 539.8M45.6 462.2L45.5 464.9 42.9 465.4M104.6 470.6L107.1 471.0 107.4 473.6M173.6 488.4L175.9 487.3 177.5 489.2M168.2 576.5L165.8 576.0 165.7 573.5M66.6 582.2L68.8 580.3 71.2 581.9M91.6 560.0L93.1 562.8 90.7 564.9M94.4 576.0L95.5 574.0 97.7 574.6M100.4 496.3L100.8 499.0 98.2 500.0M144.5 476.0L144.7 473.6 147.2 473.2M119.8 594.2L121.5 596.1 120.1 598.2M48.9 450.0L45.8 450.7 44.3 447.8M182.7 500.3L185.3 499.8 186.4 502.3M182.2 470.1L185.2 469.1 187.0 471.7M120.9 502.6L120.0 499.5 122.8 497.9M95.1 564.9L97.4 565.4 97.5 567.7M70.7 516.7L69.4 519.4 66.6 518.8M62.2 587.1L64.7 587.5 65.0 590.0M141.2 544.8L144.0 544.8 144.7 547.5M83.2 548.2L80.9 546.1 82.4 543.4M72.0 474.4L69.9 475.8 67.9 474.1M80.9 457.1L79.3 459.7 76.4 458.8"/><path stroke="#4a7896" d="M151.3 475.9L151.0 472.8 154.0 471.7M82.3 502.1L84.9 502.6 85.1 505.3M57.4 467.0L55.6 465.3 56.9 463.2M124.2 483.0L123.2 481.0 124.9 479.5"/><path stroke="#8ccdee" d="M66.7 482.5L69.3 484.1 68.5 487.1M149.4 540.8L147.7 538.0 149.9 535.8M148.2 479.6L146.7 477.4 148.5 475.4M152.4 467.7L153.9 465.3 156.5 466.3M140.2 511.9L138.0 509.7 139.7 507.1M143.6 531.0L145.4 532.7 144.1 534.8M176.9 485.0L179.5 485.1 180.0 487.7M163.4 560.8L164.2 558.3 166.8 558.5M93.3 508.2L91.4 510.9 88.3 509.8M90.6 509.4L87.5 508.3 87.8 505.1M119.3 513.7L117.2 514.5 115.9 512.6M156.8 560.5L159.4 559.9 160.5 562.3M49.1 507.0L49.4 509.7 46.9 510.7M58.0 555.6L55.6 557.0 53.7 555.0M116.2 514.0L115.3 511.3 117.7 509.8M92.7 492.7L92.7 495.7 89.8 496.4M186.1 584.6L187.3 587.1 185.2 588.8M72.7 459.9L74.4 461.6 73.1 463.7M128.4 477.9L131.2 477.8 132.0 480.6M103.9 519.4L104.9 522.5 102.1 524.2M70.5 480.4L68.5 482.6 65.9 481.1M163.6 526.6L164.6 524.6 166.7 525.1M131.3 486.5L130.4 484.0 132.6 482.6M146.6 513.1L144.2 514.5 142.2 512.5M75.1 557.1L72.6 556.8 72.4 554.4M135.0 538.5L132.2 537.7 132.3 534.8M64.1 508.6L62.1 509.6 60.6 507.9M113.7 491.2L113.2 493.4 110.9 493.4M167.6 463.6L168.7 460.5 171.9 460.9M101.4 472.5L99.3 473.8 97.5 472.1M164.6 532.0L162.4 533.6 160.3 531.9M154.7 545.5L154.0 542.7 156.7 541.4M194.2 541.5L193.2 538.8 195.5 537.2M156.2 583.3L155.2 580.4 157.8 578.8M129.2 483.8L126.0 483.2 125.9 479.9M113.5 490.0L115.9 491.4 115.1 493.9M133.0 566.3L131.3 564.3 132.9 562.1M68.4 454.0L68.5 456.7 65.9 457.5M81.1 462.9L79.2 464.7 77.0 463.2M163.2 529.8L161.8 528.0 163.2 526.2M179.7 581.5L179.8 584.3 177.0 585.1M161.4 548.1L162.0 545.9 164.3 545.9M85.7 455.1L87.9 456.6 87.0 459.2M191.1 468.3L188.6 469.5 186.8 467.3M136.9 479.5L139.0 481.8 137.3 484.4M116.6 512.8L118.8 510.7 121.4 512.3M135.0 509.5L137.1 507.4 139.7 508.9M93.5 564.9L95.5 566.7 94.3 569.1M132.5 524.9L135.1 526.5 134.2 529.5M70.5 593.5L72.9 594.5 72.5 597.1M90.9 486.9L89.2 488.8 87.0 487.5M136.4 499.4L135.1 502.0 132.2 501.4M74.7 519.5L76.0 516.8 79.0 517.4M137.7 492.4L137.6 490.1 139.8 489.4M83.5 498.6L86.4 497.9 87.8 500.5M125.4 489.7L124.7 486.6 127.6 485.2M134.8 577.4L136.6 575.3 139.1 576.5M150.9 487.2L150.5 484.5 153.0 483.5M86.5 474.5L85.1 472.5 86.8 470.6M177.1 555.6L177.5 558.4 174.9 559.4M78.7 534.7L78.8 531.6 81.9 531.0M113.7 526.6L111.8 524.1 113.8 521.6M122.2 533.4L120.0 534.5 118.4 532.7M181.1 474.7L183.3 476.5 182.0 479.1M51.0 478.3L48.6 476.1 50.2 473.2M94.6 562.9L96.0 560.2 99.0 560.8M104.4 455.6L102.7 457.2 100.8 455.9M69.8 476.5L72.4 476.1 73.4 478.6M119.7 484.7L122.6 486.0 122.1 489.2M85.6 549.4L82.6 548.3 83.0 545.2M172.0 577.6L170.0 576.5 170.6 574.3M163.2 548.7L161.6 546.1 163.7 544.0M106.2 499.2L108.2 500.7 107.3 503.0M70.9 488.0L72.6 490.4 70.8 492.6M102.2 514.5L100.0 513.5 100.5 511.1M151.2 573.9L153.4 574.2 153.7 576.4M99.8 569.6L100.1 566.7 102.9 566.3M100.7 497.6L97.7 498.8 95.8 496.3M144.6 569.3L146.1 571.6 144.3 573.6M125.0 562.8L122.5 560.9 123.7 557.9M141.7 528.5L141.5 526.2 143.6 525.5M110.3 579.5L112.5 579.7 112.8 581.9M45.9 461.8L48.4 462.1 48.7 464.7M51.9 561.8L53.0 564.5 50.7 566.2M52.5 525.0L54.4 526.4 53.5 528.5M108.1 568.6L110.6 568.4 111.3 570.8M125.2 563.8L123.9 562.0 125.3 560.3M74.3 523.0L72.7 521.4 73.9 519.4M189.1 528.6L186.4 530.4 183.9 528.2M111.9 465.0L113.7 467.5 111.6 469.8M78.9 565.0L81.1 564.6 82.0 566.7M59.0 582.6L61.5 583.3 61.4 586.0M79.0 447.4L81.7 447.3 82.3 449.9M52.9 553.2L50.0 554.2 48.4 551.6M121.7 480.3L120.6 482.7 118.0 482.2M92.1 499.3L89.2 499.2 88.6 496.3M64.4 526.6L62.5 525.2 63.3 523.0M110.7 573.1L109.4 575.3 107.1 574.5M123.2 591.1L121.4 589.4 122.6 587.2M64.1 559.6L66.8 558.5 68.5 560.9M108.6 475.0L108.7 472.5 111.1 472.0M106.1 536.6L103.4 538.3 101.1 536.1M182.7 553.2L183.1 550.3 186.0 550.0M129.3 531.7L129.4 529.5 131.6 529.1M91.7 600.9L92.6 598.0 95.6 598.2M126.6 464.4L123.3 463.9 123.0 460.7M154.4 541.8L156.6 544.2 154.8 546.9M175.3 453.8L176.4 455.9 174.7 457.4M70.1 571.7L73.0 572.1 73.4 575.0M93.6 502.1L93.1 499.6 95.4 498.5M95.9 587.4L93.2 585.6 94.3 582.5M119.6 466.4L117.8 464.5 119.2 462.3M144.9 585.6L142.9 587.9 140.3 586.6M170.4 484.2L171.7 481.2 174.9 481.8M116.4 601.4L118.6 600.0 120.5 601.9M107.3 567.5L107.0 570.5 104.1 571.0M50.1 472.0L52.8 470.9 54.5 473.2M98.3 578.4L100.9 580.3 99.8 583.2M151.2 481.0L151.9 483.8 149.3 485.2M165.3 505.7L167.1 508.0 165.3 510.3M103.7 504.0L105.5 505.3 104.8 507.4M97.6 463.0L97.2 465.6 94.5 465.9M140.1 512.4L137.4 512.9 136.3 510.4M138.1 456.7L140.1 457.9 139.5 460.1M130.5 525.2L129.0 522.5 131.2 520.5M61.7 568.8L62.2 566.4 64.6 566.3M92.4 512.7L93.2 510.6 95.4 510.8M181.3 559.2L183.0 561.7 181.0 564.0M167.7 480.7L168.2 477.9 171.1 477.8"/><path stroke="#a8dcf4" d="M147.6 487.4L149.8 486.5 151.2 488.4M100.8 537.0L98.5 535.6 99.4 533.0M138.5 543.4L138.3 546.6 135.3 547.2M168.3 461.7L168.2 459.0 170.8 458.2M115.6 509.1L113.1 510.8 110.8 508.8M78.7 514.4L76.4 515.4 74.9 513.4M96.7 533.9L96.3 536.7 93.4 537.1M166.5 561.3L163.5 561.8 162.3 559.0M159.4 535.0L160.2 532.5 162.8 532.6M110.3 537.0L110.2 533.9 113.3 533.1M154.0 516.3L151.7 514.2 153.2 511.4M120.5 528.2L122.0 531.1 119.6 533.3M172.6 531.8L174.5 530.3 176.4 531.8M163.5 510.5L165.7 512.2 164.5 514.7M142.9 543.2L144.3 544.9 143.0 546.7M136.6 492.4L137.9 490.1 140.5 490.8M65.4 468.0L63.2 469.5 61.2 467.7M69.5 462.7L69.6 464.9 67.4 465.5M97.6 598.3L98.3 595.4 101.3 595.4M82.1 585.8L84.5 586.0 84.9 588.4M75.6 544.1L78.1 542.8 80.0 544.9M139.9 515.8L136.9 516.1 135.8 513.2M152.9 526.3L152.7 524.0 154.8 523.3M161.2 490.3L158.8 488.2 160.3 485.4M120.0 571.1L117.7 572.3 116.0 570.3M90.8 526.1L88.6 526.1 88.1 523.9M66.6 590.2L64.6 589.0 65.3 586.8M177.9 551.5L180.6 552.7 180.1 555.6M128.3 526.7L125.7 525.7 126.0 522.9M167.5 527.6L166.8 530.1 164.1 530.0M64.4 492.6L67.1 492.6 67.7 495.3M143.2 559.3L140.5 559.2 139.9 556.6M57.9 478.2L60.9 478.3 61.6 481.2M168.0 519.8L165.6 521.9 163.0 520.0M71.7 478.7L73.9 478.0 75.1 480.0M135.2 503.9L133.6 506.7 130.5 505.7M51.3 581.2L53.1 579.5 55.1 580.9M163.6 494.0L161.3 495.2 159.6 493.4M157.6 538.2L158.9 540.3 157.2 542.0M109.4 505.7L107.3 503.3 109.2 500.6M69.1 459.7L71.7 459.5 72.4 462.0M175.7 510.4L177.1 507.6 180.2 508.3M183.4 454.3L183.3 456.9 180.6 457.5M115.5 561.4L117.0 563.8 115.1 565.8M130.6 528.2L128.3 528.8 127.2 526.7M157.1 514.4L155.9 516.8 153.3 516.1M131.0 531.4L133.7 532.4 133.3 535.2M80.8 476.1L78.8 474.4 80.0 472.0M55.3 573.6L57.1 575.3 55.9 577.4M170.9 467.0L171.4 469.6 168.9 470.7M116.7 555.0L119.7 556.1 119.4 559.3M67.0 527.6L69.7 527.5 70.5 530.0M112.4 526.6L110.1 527.9 108.4 526.0M108.5 583.7L111.0 582.9 112.3 585.2M85.3 542.8L85.2 545.5 82.5 546.1M49.9 578.3L47.4 577.5 47.6 574.9M150.6 540.6L147.4 541.1 146.2 538.1M168.7 517.4L168.3 520.5 165.2 521.0M133.4 474.5L135.9 474.3 136.7 476.7M126.7 512.4L126.6 515.6 123.4 516.3M110.2 492.2L112.4 494.0 111.3 496.6M72.9 516.0L70.0 517.5 67.8 515.1M104.3 457.2L102.7 455.2 104.4 453.2M95.5 487.1L95.9 484.6 98.4 484.5M55.3 581.5L54.7 584.1 52.0 584.2M168.2 567.9L169.0 565.0 171.9 565.1M68.3 493.7L66.3 494.8 64.7 493.1M86.0 476.3L89.2 476.9 89.3 480.1M128.5 483.7L130.0 486.3 127.8 488.4M151.5 452.3L148.7 453.5 147.0 451.0"/><path stroke="#8ccdee" d="M108.7 531.8L110.4 534.2 108.5 536.3M135.9 513.9L134.0 512.4 135.0 510.1M70.1 512.0L73.1 511.2 74.6 513.9M84.8 519.7L81.7 520.5 80.2 517.7M156.6 496.2L159.2 497.5 158.6 500.3M110.6 480.7L110.9 478.1 113.5 477.7M149.9 488.7L148.1 490.6 145.9 489.3M69.2 564.7L66.6 565.3 65.3 562.9M91.7 579.2L91.5 576.2 94.3 575.3M122.7 516.9L121.7 514.1 124.2 512.5M117.3 483.4L116.1 480.8 118.3 479.0M75.1 521.9L73.1 519.7 74.9 517.3M98.7 500.2L99.6 497.7 102.2 497.9M95.6 492.7L97.4 491.0 99.5 492.4M80.6 483.1L82.5 481.8 84.1 483.3M81.2 573.3L78.8 573.1 78.4 570.8M74.1 502.8L72.4 504.3 70.5 502.9M94.7 512.4L97.1 513.6 96.5 516.2M56.6 582.4L58.9 583.6 58.3 586.2M48.5 547.7L49.2 551.0 46.3 552.4M69.4 468.5L67.1 469.6 65.4 467.7M55.0 479.3L52.3 481.1 49.9 479.0M115.5 509.4L116.5 506.6 119.6 506.9M107.6 496.7L110.5 495.7 112.1 498.3M81.4 472.9L78.7 474.0 76.9 471.6M140.0 554.5L142.7 555.1 142.8 557.8M125.9 591.9L124.3 594.0 121.9 593.0M116.7 510.5L115.3 508.7 116.7 506.9M108.1 539.3L110.5 540.3 110.1 542.8M110.2 551.6L110.8 553.9 108.7 555.0M84.4 491.4L86.0 492.9 84.8 494.8M172.3 576.0L170.3 578.0 168.0 576.5M168.9 522.3L167.6 524.2 165.5 523.4M138.0 572.9L140.2 572.1 141.5 574.1M91.0 502.7L90.3 505.7 87.1 505.8M68.0 527.0L65.6 526.5 65.5 524.1M79.6 505.8L77.1 504.6 77.6 502.0M104.5 567.5L106.1 569.4 104.7 571.4M85.7 553.7L84.8 551.0 87.3 549.5M123.2 563.7L121.6 565.4 119.7 564.2M138.5 544.7L136.9 546.3 134.9 545.0M122.6 502.8L122.7 499.6 125.8 499.0M179.7 478.9L182.3 480.8 181.1 483.8M150.7 491.7L153.1 490.1 155.2 492.0M109.1 488.2L110.6 485.8 113.3 486.8M175.9 474.2L177.8 476.6 176.0 479.0M115.1 571.0L112.8 571.9 111.3 569.8M146.9 531.7L149.2 532.6 148.9 535.0M143.1 526.3L145.9 527.3 145.6 530.2M113.4 596.3L112.9 598.9 110.3 599.1M135.7 490.2L133.2 490.6 132.2 488.4M139.8 513.5L142.0 513.8 142.2 516.1M129.2 461.6L128.9 459.0 131.4 458.1M74.1 550.6L72.0 551.7 70.5 549.9M79.0 525.5L80.1 523.0 82.8 523.5M97.5 463.8L95.3 461.6 96.9 459.0M66.0 576.1L68.7 577.8 67.7 580.7M87.0 531.5L84.4 532.3 83.0 530.0M127.1 549.6L129.3 550.9 128.6 553.3M164.8 574.0L163.0 576.8 159.9 575.7M46.4 573.6L49.6 573.9 50.0 577.1M67.9 592.0L67.5 589.0 70.3 587.8M71.8 483.2L74.2 481.4 76.5 483.2M77.3 467.9L80.5 467.8 81.4 470.9M193.9 479.1L194.1 476.5 196.7 476.1M93.9 491.0L91.9 492.6 89.8 491.0M69.5 474.1L71.5 472.8 73.2 474.4M137.2 478.3L134.2 478.2 133.5 475.3M55.2 469.5L52.5 467.7 53.6 464.7M59.7 474.6L57.8 473.2 58.6 471.1M137.8 539.4L140.3 541.0 139.3 543.8M162.9 542.8L162.4 545.3 159.8 545.4M187.4 502.3L185.2 502.9 184.1 500.8M175.4 474.7L176.3 471.8 179.4 472.0M75.4 560.2L73.7 557.9 75.6 555.7M179.2 486.8L177.6 488.5 175.6 487.3M65.0 501.3L67.3 499.3 69.9 501.1M184.5 558.6L182.4 559.2 181.2 557.3M49.9 500.0L51.2 501.8 49.8 503.6M131.0 511.2L133.0 513.5 131.2 516.0M61.7 486.6L59.7 485.3 60.4 483.0M79.5 459.2L78.8 456.9 80.8 455.7M93.3 463.7L95.4 462.8 96.8 464.6M177.0 527.8L177.9 524.8 181.1 525.0M70.2 560.2L70.5 557.7 73.0 557.4M135.1 578.5L133.2 577.1 134.0 574.8M95.8 590.9L92.8 590.3 92.7 587.2M168.2 483.1L170.9 483.5 171.2 486.2M100.5 488.9L98.7 487.5 99.6 485.4M130.3 493.3L127.2 493.3 126.3 490.3M67.0 565.9L64.7 567.1 63.0 565.1M124.0 542.8L121.9 541.4 122.7 539.0M84.0 547.1L85.2 545.2 87.3 546.0M104.4 479.5L107.1 480.1 107.2 482.8M56.7 526.4L58.9 524.9 60.9 526.6M85.4 506.5L83.1 506.4 82.7 504.2M121.8 562.8L123.2 565.2 121.2 567.2M132.6 459.9L134.2 461.4 133.2 463.4M166.2 541.4L166.4 539.1 168.7 538.7M60.6 528.3L58.9 526.6 60.1 524.5M135.1 481.7L132.1 480.6 132.5 477.4M109.7 502.6L111.5 504.7 109.9 507.0M140.5 542.6L137.9 542.8 137.1 540.2M160.6 589.0L160.7 592.1 157.7 592.8M67.4 536.9L69.6 538.2 68.8 540.7M178.0 483.3L177.9 485.8 175.5 486.3M145.7 521.7L146.1 524.5 143.5 525.6M182.7 584.3L184.8 582.8 186.7 584.5M167.8 534.4L168.9 532.4 171.2 533.0M69.5 528.5L72.7 528.6 73.4 531.7M87.8 568.2L86.2 566.6 87.3 564.7M76.9 537.8L74.2 539.3 72.1 537.0M79.7 583.8L78.8 586.0 76.5 585.7M193.5 509.3L190.6 510.5 188.8 508.1M153.3 544.3L150.4 543.7 150.3 540.8M168.4 490.1L167.5 487.9 169.4 486.4M120.0 488.3L123.0 487.9 124.1 490.8M116.0 531.8L118.6 529.9 121.1 531.9M128.4 575.6L128.5 578.3 125.9 579.1M46.3 597.8L46.3 595.0 49.1 594.4M117.6 514.2L118.4 511.1 121.7 511.1M57.6 482.1L55.2 482.1 54.7 479.7M65.0 478.4L66.8 479.9 65.7 482.0M162.8 591.4L159.8 592.8 157.7 590.3M155.0 505.5L152.5 505.4 152.0 503.0M193.6 566.4L190.9 567.2 189.5 564.8M159.5 547.0L162.0 546.1 163.5 548.2M107.8 479.0L105.5 479.4 104.6 477.2M110.2 562.9L112.7 561.9 114.2 564.1M67.3 523.1L68.8 520.3 71.8 521.1"/><path stroke="#6eb6dc" d="M177.5 474.2L175.1 474.8 174.0 472.6M157.0 482.3L154.4 483.5 152.6 481.3M132.8 479.7L131.9 482.1 129.4 481.7M108.7 542.1L109.5 539.5 112.2 539.6M92.5 531.9L93.9 534.1 92.1 536.0M115.3 524.9L113.0 526.6 110.7 524.8M88.8 548.6L90.3 546.7 92.6 547.7M133.2 556.2L131.3 558.3 128.8 557.0M125.8 572.2L123.2 573.7 121.2 571.5M177.8 556.2L175.8 557.7 174.0 556.1M154.1 564.8L155.0 562.5 157.4 562.7M123.8 511.9L121.8 509.7 123.5 507.2M80.2 483.7L82.1 482.0 84.2 483.3M87.4 500.4L88.1 503.2 85.6 504.5M137.8 538.1L136.9 540.6 134.1 540.3M151.9 531.4L153.9 530.3 155.5 532.1M150.9 586.0L153.1 585.7 153.9 587.7M94.2 484.8L96.2 487.0 94.6 489.4M139.3 489.5L142.4 488.6 144.0 491.4M58.2 470.4L55.6 471.1 54.3 468.7M167.0 540.3L167.2 537.9 169.7 537.5M155.0 485.5L156.4 488.0 154.3 489.9M154.1 492.8L152.6 490.6 154.3 488.6M72.0 508.4L73.1 505.5 76.2 505.8M108.2 532.5L110.7 533.0 110.9 535.6M181.8 485.5L183.2 483.5 185.4 484.4M113.8 495.8L112.6 493.1 115.0 491.2M100.8 461.9L102.2 459.0 105.4 459.7"/><path stroke="#8ccdee" d="M70.8 487.5L73.0 486.7 74.3 488.5M148.8 594.2L150.8 595.6 150.0 598.0M129.2 475.4L129.2 477.7 127.1 478.2M196.7 593.5L194.5 592.0 195.4 589.4M128.6 492.7L127.3 490.7 129.0 488.9M145.0 495.4L146.8 493.1 149.4 494.3M75.2 561.2L76.4 559.0 78.8 559.6M102.8 549.2L100.9 551.0 98.8 549.7M127.5 460.4L125.3 458.0 127.1 455.3M80.8 571.1L78.8 572.5 76.9 570.9M72.4 503.0L73.3 500.7 75.7 501.0M74.1 545.1L76.3 545.6 76.3 547.9M77.4 520.9L77.0 523.7 74.2 524.1M147.2 534.1L148.1 532.0 150.4 532.4M143.6 509.2L143.7 512.1 141.0 512.8M139.2 554.8L141.3 556.4 140.2 558.8M119.8 586.7L117.9 588.4 115.9 587.0M125.9 588.4L127.2 591.3 124.8 593.2M136.0 528.6L134.9 531.6 131.7 531.3M119.6 501.0L121.9 498.8 124.6 500.5M67.4 502.8L68.5 500.7 70.8 501.3M169.2 527.6L171.2 525.2 174.0 526.6M77.2 570.5L79.9 570.6 80.3 573.3M101.4 549.9L98.2 549.5 97.7 546.3M125.1 503.0L127.4 502.0 128.9 504.0M118.1 509.4L116.6 506.5 119.0 504.3M133.2 529.1L133.7 526.2 136.5 526.0M174.4 502.6L176.9 501.6 178.5 503.7M150.2 566.5L152.2 568.2 151.0 570.6M143.1 500.0L145.1 498.9 146.7 500.5M155.0 564.3L156.4 566.9 154.3 568.9M55.6 538.9L53.6 537.6 54.4 535.4M150.9 513.1L148.1 511.6 148.9 508.6M64.6 566.3L61.8 564.9 62.5 561.9M126.6 548.4L125.4 551.1 122.4 550.5M40.0 472.7L42.7 472.0 44.0 474.4M181.1 554.3L183.8 554.3 184.4 556.9M65.5 523.1L67.5 525.4 65.6 527.9M67.2 496.1L67.3 493.9 69.5 493.5M113.1 566.6L112.5 563.6 115.1 562.3M81.5 547.6L81.3 544.7 84.1 543.8M171.5 514.4L171.2 516.7 168.9 516.9M82.1 543.7L85.2 542.8 86.8 545.5M114.9 535.9L113.3 537.6 111.3 536.5M93.6 512.8L91.6 515.0 89.0 513.6M137.4 545.6L139.8 545.2 140.8 547.5M173.6 562.5L172.7 565.2 169.8 565.0M109.2 523.8L110.1 521.5 112.5 521.8M140.8 461.6L139.6 463.8 137.2 463.2M149.7 581.2L149.8 584.4 146.7 585.2M133.2 561.2L134.1 563.6 132.0 565.0M63.0 496.9L60.4 495.4 61.2 492.5M126.4 491.4L128.3 493.6 126.5 495.9M137.0 579.9L139.2 580.8 138.8 583.1M119.5 504.9L117.1 504.0 117.4 501.4M106.9 492.1L109.2 492.4 109.4 494.7M106.8 479.9L104.4 478.5 105.2 475.8M163.4 471.9L160.3 472.8 158.7 470.0M166.2 585.5L164.0 583.2 165.7 580.4M87.7 493.1L89.8 493.8 89.7 496.1M164.0 476.4L162.8 479.2 159.9 478.7M52.0 548.7L53.6 546.7 56.0 547.7M48.0 587.6L45.4 589.1 43.4 586.9M86.8 577.2L83.7 578.3 81.9 575.5M147.3 501.9L149.8 501.0 151.3 503.3M144.1 533.6L142.7 530.7 145.1 528.7M124.0 518.8L125.3 516.2 128.1 516.8M88.9 505.4L90.0 503.3 92.2 503.9M164.0 488.6L166.8 487.3 168.7 489.6M99.4 556.5L96.6 555.5 96.9 552.5M103.7 523.3L106.2 521.6 108.5 523.7M172.7 502.8L170.3 501.3 171.2 498.6M151.7 509.3L152.6 512.2 150.1 513.8M144.9 484.1L143.8 486.5 141.2 486.0M58.1 566.6L59.3 569.2 57.1 571.0M85.2 548.0L87.9 549.4 87.2 552.3M61.5 498.5L64.0 497.3 65.7 499.3M104.3 524.5L106.1 521.7 109.2 522.7M185.1 557.6L186.8 555.5 189.2 556.6M96.3 522.0L95.5 525.2 92.2 525.2M88.6 524.6L87.9 522.2 90.1 520.8M129.0 553.4L126.2 552.8 126.1 549.9M73.9 507.3L76.0 506.7 77.1 508.6M83.2 472.0L80.5 473.7 78.3 471.5M134.3 517.0L134.9 520.2 132.0 521.5M107.1 574.0L104.0 574.7 102.6 572.0M91.2 533.8L88.5 533.7 88.0 531.1M125.5 545.9L128.5 547.2 128.0 550.4M173.3 579.8L173.7 583.1 170.6 584.2M101.9 481.0L100.2 483.0 97.9 481.8M148.3 508.9L146.1 507.9 146.6 505.5M87.4 501.6L85.8 499.9 87.1 498.0M69.7 570.5L71.7 572.0 70.8 574.4M73.6 559.5L75.6 558.1 77.4 559.7M163.7 463.1L161.0 464.9 158.7 462.8M43.1 533.6L41.9 536.5 38.8 536.1M72.4 521.6L71.0 519.4 72.8 517.4M189.8 525.5L187.4 525.2 187.2 522.9M67.4 476.6L64.2 476.9 63.1 473.8M167.8 597.7L168.9 595.1 171.7 595.5M65.9 496.6L66.0 498.8 63.9 499.5M100.8 568.0L101.9 570.8 99.5 572.5M148.8 523.9L151.1 522.1 153.4 523.9M101.7 542.7L99.0 543.1 98.0 540.5M65.3 489.4L67.8 490.8 67.1 493.6M102.9 560.9L101.5 558.8 103.2 556.8M86.1 555.7L88.3 557.0 87.5 559.5M183.2 550.7L185.4 551.9 184.8 554.3M125.0 580.7L126.8 582.7 125.3 585.0M154.2 562.6L156.1 565.1 154.1 567.6M92.5 499.5L90.0 499.6 89.4 497.2M91.5 579.3L93.9 579.5 94.3 581.8M139.2 560.9L138.7 558.0 141.4 556.7M83.1 455.0L85.8 456.0 85.5 458.7M111.5 592.1L113.3 594.7 111.2 597.0M63.9 498.7L66.4 499.7 66.0 502.5M156.2 461.5L153.5 462.0 152.4 459.5M164.1 479.4L165.3 481.5 163.5 483.2M100.7 503.1L99.6 500.5 101.9 498.8M74.5 471.8L72.8 473.3 71.0 472.0M71.7 556.7L68.4 556.7 67.6 553.5M94.7 552.0L94.0 554.6 91.3 554.4M123.7 571.0L121.1 572.8 118.7 570.8M125.2 498.9L123.6 496.9 125.2 495.0M112.4 560.5L114.0 562.8 112.3 564.9M115.4 448.6L115.7 451.6 112.8 452.6M83.5 545.7L82.9 543.3 85.0 542.0M58.5 525.4L60.7 524.6 62.0 526.6M125.7 532.1L127.9 533.7 127.0 536.3"/><path stroke="#4a7896" d="M130.1 517.3L127.8 518.1 126.5 516.1M138.1 525.9L135.4 525.6 135.0 522.9M93.6 590.2L92.1 591.9 90.1 590.8M155.4 559.3L158.2 558.8 159.3 561.4"/><path stroke="#6eb6dc" d="M164.2 574.8L161.3 574.3 161.0 571.4M72.0 547.8L71.2 545.6 73.1 544.3M103.9 559.5L102.5 557.1 104.6 555.1M128.0 504.2L128.1 500.9 131.3 500.2M115.5 541.1L115.7 538.6 118.2 538.2M117.5 563.8L116.1 561.8 117.7 560.0M134.3 491.4L133.3 488.7 135.6 487.0M99.5 570.7L99.1 568.0 101.6 566.9M139.9 551.1L138.4 549.2 139.9 547.3M47.2 528.1L49.9 529.7 49.0 532.7M93.7 505.8L91.1 504.0 92.3 501.0M176.7 495.1L174.3 493.8 175.0 491.3M183.8 478.8L181.9 477.0 183.2 474.8M96.5 514.8L95.8 512.3 98.2 511.0M149.5 524.7L152.1 524.9 152.6 527.4M62.0 510.5L61.9 513.0 59.3 513.5M169.6 515.2L170.6 513.0 173.0 513.4M61.1 492.5L63.3 494.1 62.3 496.7M70.6 581.5L71.1 578.9 73.8 578.7M42.8 597.4L45.2 596.7 46.4 598.8M127.5 532.5L128.0 529.4 131.1 529.2M161.8 571.6L164.8 572.0 165.1 575.0M108.6 495.5L109.3 492.4 112.4 492.4M135.3 564.3L133.8 567.1 130.7 566.3M76.0 526.6L79.0 527.1 79.2 530.2M76.8 481.5L78.9 479.3 81.5 480.9M164.6 524.6L165.0 527.0 162.7 528.0M50.6 565.3L52.9 564.4 54.3 566.4"/><path stroke="#4a7896" d="M134.4 590.4L136.1 588.0 138.8 589.1M110.2 478.4L108.3 480.7 105.6 479.5M169.8 495.3L167.0 495.9 165.7 493.4M84.9 474.0L85.0 476.2 82.9 476.9"/><path stroke="#4a7896" d="M52.5 536.0L55.6 535.1 57.2 537.8M74.1 472.6L72.8 474.4 70.7 473.6M185.2 490.7L187.8 492.0 187.2 494.8M77.4 481.5L75.8 483.4 73.6 482.4"/><path stroke="#4a7896" d="M88.7 585.0L88.1 581.8 91.0 580.4M167.6 450.6L169.5 453.0 167.6 455.4M165.5 533.5L168.6 533.0 169.9 535.9M74.8 552.6L72.3 554.4 69.8 552.4"/><path stroke="#a8dcf4" d="M195.1 507.4L192.9 508.6 191.3 506.7M151.6 537.9L150.4 535.9 152.1 534.2M173.9 589.6L171.8 587.8 173.0 585.4M99.0 473.8L100.2 476.7 97.7 478.6M139.8 494.0L142.6 494.5 142.8 497.3M50.7 483.2L52.0 481.2 54.2 481.9M51.4 583.0L52.6 585.0 51.0 586.6M149.8 546.7L150.2 544.1 152.8 543.8M119.9 533.1L118.6 535.4 116.0 534.7M178.1 593.9L180.0 595.6 178.9 597.9M190.8 588.8L193.4 590.4 192.6 593.3M190.7 447.4L189.3 449.8 186.6 449.0M162.3 571.2L159.8 569.7 160.7 566.9M147.0 564.3L144.6 562.7 145.6 560.0M43.3 490.9L43.1 493.4 40.6 493.8M68.6 465.9L69.5 463.7 71.8 464.0M170.7 498.0L168.5 500.2 165.8 498.6M149.6 537.0L149.5 540.2 146.4 540.9M87.6 511.4L85.3 512.0 84.3 509.9M63.7 538.5L64.3 535.3 67.5 535.1M52.1 509.8L52.0 512.9 48.9 513.6M110.2 533.7L113.3 533.1 114.7 536.0M176.1 471.1L176.2 474.3 173.1 475.2M166.8 526.8L163.9 527.2 162.7 524.5M68.2 476.4L68.8 474.1 71.3 474.1M144.4 452.5L142.8 454.2 140.8 453.1M75.8 550.4L73.6 549.6 73.9 547.3M134.8 528.1L136.2 525.9 138.7 526.8M100.3 530.3L99.5 532.6 97.0 532.4M80.7 550.9L80.9 548.5 83.3 548.0M67.3 543.8L69.0 546.2 67.1 548.5M142.0 449.5L139.5 449.6 138.8 447.2M92.4 483.0L94.7 482.1 96.2 484.2M111.4 559.4L110.8 556.9 113.0 555.7M128.1 514.1L125.1 514.5 124.0 511.6M156.6 484.4L154.4 482.0 156.1 479.3M109.4 544.9L108.4 541.9 111.1 540.2M145.3 468.7L147.6 469.5 147.4 472.0M165.1 590.3L163.3 592.7 160.6 591.5M171.7 550.2L169.2 549.0 169.6 546.3M166.3 516.4L166.7 518.7 164.6 519.7M169.2 568.1L171.3 566.2 173.6 567.8M75.8 571.8L74.8 569.4 76.9 567.9M66.8 518.3L69.7 517.1 71.6 519.7M165.5 554.8L168.2 556.1 167.7 559.0M91.8 602.7L93.6 600.5 96.2 601.6M145.6 519.1L143.6 516.8 145.3 514.2M87.1 498.4L84.7 498.4 84.1 496.2M162.8 462.7L165.8 463.6 165.7 466.7M95.5 585.7L92.8 587.1 90.8 584.9M184.8 603.0L184.6 600.2 187.3 599.3M109.3 500.4L108.2 497.6 110.6 495.8M113.1 551.0L110.4 551.0 109.8 548.3M94.4 532.3L92.4 534.0 90.3 532.4M155.8 550.7L155.0 548.2 157.3 546.8M67.2 513.3L68.5 510.8 71.2 511.4M164.3 549.9L166.3 548.0 168.6 549.4M143.6 469.5L140.9 468.7 141.1 465.9M103.5 597.8L101.9 595.0 104.3 592.8M168.7 516.4L166.5 517.0 165.3 515.0M107.1 560.4L108.4 558.5 110.6 559.3M100.9 510.2L98.9 509.1 99.5 506.9M48.7 579.5L46.5 582.0 43.6 580.4M102.3 479.0L103.1 482.2 100.1 483.7M77.3 563.3L78.6 560.4 81.7 561.1M57.9 554.3L59.6 557.0 57.4 559.2M99.2 476.2L96.0 476.2 95.1 473.1M128.9 504.6L128.9 502.1 131.3 501.6M186.1 455.8L183.7 454.9 184.0 452.3M111.5 467.7L114.0 468.6 113.8 471.2"/></g>
<path stroke="#ec9a9a" stroke-width="1.1" fill="none" d="M117.5 468.3L114.6 465.5M117.5 468.3L117.3 464.3M117.5 468.3L118.6 464.5M163.5 489.2L167.2 487.8M163.5 489.2L163.2 485.2M163.5 489.2L167.0 487.3M158.4 512.2L162.3 512.9M158.4 512.2L154.5 513.1M158.4 512.2L162.1 510.8M61.3 568.4L58.9 565.2M61.3 568.4L64.5 566.1M61.3 568.4L64.3 571.0M120.0 558.2L116.1 559.0M120.0 558.2L120.1 562.2M120.0 558.2L116.1 557.1M153.3 578.6L149.7 576.8M153.3 578.6L157.3 578.9M153.3 578.6L154.1 582.5M127.7 507.0L127.0 510.9M127.7 507.0L131.2 505.0M127.7 507.0L128.1 503.0M85.0 540.0L87.2 543.4M85.0 540.0L86.2 536.2M85.0 540.0L87.6 543.1M140.0 530.0L137.0 527.3M140.0 530.0L142.8 532.9M140.0 530.0L144.0 530.0M110.0 520.0L112.8 517.1M110.0 520.0L111.0 523.9M110.0 520.0L110.9 523.9M95.0 500.0L99.0 499.5M95.0 500.0L97.8 497.1M95.0 500.0L94.0 503.9M170.0 530.0L173.9 529.0M170.0 530.0L166.1 529.0M170.0 530.0L168.2 526.4M75.0 560.0L76.1 563.8M75.0 560.0L78.7 558.5M75.0 560.0L73.5 556.3M130.0 575.0L133.9 574.2M130.0 575.0L133.1 572.5M130.0 575.0L128.8 578.8M150.0 470.0L147.4 473.1M150.0 470.0L152.0 473.5M150.0 470.0L152.4 473.2M100.0 585.0L103.7 586.6M100.0 585.0L98.7 588.8M100.0 585.0L96.8 582.6M165.0 560.0L169.0 560.1M165.0 560.0L163.2 556.4M165.0 560.0L162.9 563.4M60.0 580.0L58.5 583.7M60.0 580.0L61.7 576.4M60.0 580.0L56.0 580.5M118.0 546.0L116.4 549.7M118.0 546.0L114.0 546.5M118.0 546.0L116.9 542.2"/>
<circle cx="129.0" cy="467.5" r="2.8" fill="#8a86ba" filter="url(#soft)"/>
<circle cx="158.4" cy="494.3" r="2.8" fill="#8a86ba" filter="url(#soft)"/>
<circle cx="150.7" cy="513.5" r="2.8" fill="#8a86ba" filter="url(#soft)"/>
<circle cx="60.8" cy="564.6" r="2.8" fill="#8a86ba" filter="url(#soft)"/>
<circle cx="74.1" cy="572.2" r="2.8" fill="#8a86ba" filter="url(#soft)"/>
<circle cx="80.5" cy="585.0" r="2.8" fill="#8a86ba" filter="url(#soft)"/>
<circle cx="111.1" cy="577.3" r="2.8" fill="#8a86ba" filter="url(#soft)"/>
<circle cx="117.5" cy="573.5" r="2.8" fill="#8a86ba" filter="url(#soft)"/>
<circle cx="163.0" cy="555.1" r="2.8" fill="#8a86ba" filter="url(#soft)"/>
<circle cx="175.0" cy="569.7" r="2.8" fill="#8a86ba" filter="url(#soft)"/>
<circle cx="122.6" cy="545.4" r="2.8" fill="#8a86ba" filter="url(#soft)"/>
<circle cx="116.2" cy="479.0" r="2.8" fill="#8a86ba" filter="url(#soft)"/>
<circle cx="155.0" cy="492.0" r="2.8" fill="#8a86ba" filter="url(#soft)"/>
<circle cx="160.0" cy="492.5" r="2.8" fill="#8a86ba" filter="url(#soft)"/>
<circle cx="151.8" cy="513.5" r="10" stroke="#111" stroke-width="1.8" stroke-dasharray="6.5 3.5" fill="none"/>
<line x1="147.5" y1="504.3" x2="325" y2="456" stroke="#111" stroke-width="1.8" stroke-dasharray="6.5 3.5" fill="none"/>
<line x1="146.5" y1="522.8" x2="320" y2="588.8" stroke="#111" stroke-width="1.8" stroke-dasharray="6.5 3.5" fill="none"/>
<circle cx="352.5" cy="523.7" r="72.8" stroke="#111" stroke-width="1.8" stroke-dasharray="6.5 3.5" fill="none"/>
<circle cx="352.5" cy="523.7" r="71.5" fill="#fff"/>
<path d="M329.0,482.8 L331.5,501.4 L327.0,506.0" stroke="#86c6e4" stroke-width="5.2" stroke-linecap="round" stroke-linejoin="round" fill="none"/>
<path d="M329.0,482.8 L331.5,501.4 L327.0,506.0" stroke="#9ad6f0" stroke-width="3.7" stroke-linecap="round" stroke-linejoin="round" fill="none"/>
<path d="M329.0,482.8 L331.5,501.4 L327.0,506.0" stroke="#d8f2ff" stroke-width="1.1" stroke-linecap="round" stroke-linejoin="round" fill="none" opacity="0.6" transform="translate(-0.4,-0.8)"/>
<path d="M343.0,485.4 L355.8,494.3 L372.4,491.7" stroke="#86c6e4" stroke-width="5.2" stroke-linecap="round" stroke-linejoin="round" fill="none"/>
<path d="M343.0,485.4 L355.8,494.3 L372.4,491.7" stroke="#9ad6f0" stroke-width="3.7" stroke-linecap="round" stroke-linejoin="round" fill="none"/>
<path d="M343.0,485.4 L355.8,494.3 L372.4,491.7" stroke="#d8f2ff" stroke-width="1.1" stroke-linecap="round" stroke-linejoin="round" fill="none" opacity="0.6" transform="translate(-0.4,-0.8)"/>
<path d="M296.5,529.5 L312.0,523.0" stroke="#86c6e4" stroke-width="5.2" stroke-linecap="round" stroke-linejoin="round" fill="none"/>
<path d="M296.5,529.5 L312.0,523.0" stroke="#9ad6f0" stroke-width="3.7" stroke-linecap="round" stroke-linejoin="round" fill="none"/>
<path d="M296.5,529.5 L312.0,523.0" stroke="#d8f2ff" stroke-width="1.1" stroke-linecap="round" stroke-linejoin="round" fill="none" opacity="0.6" transform="translate(-0.4,-0.8)"/>
<path d="M318.8,557.6 L334.0,551.2 L346.9,566.3" stroke="#86c6e4" stroke-width="5.2" stroke-linecap="round" stroke-linejoin="round" fill="none"/>
<path d="M318.8,557.6 L334.0,551.2 L346.9,566.3" stroke="#9ad6f0" stroke-width="3.7" stroke-linecap="round" stroke-linejoin="round" fill="none"/>
<path d="M318.8,557.6 L334.0,551.2 L346.9,566.3" stroke="#d8f2ff" stroke-width="1.1" stroke-linecap="round" stroke-linejoin="round" fill="none" opacity="0.6" transform="translate(-0.4,-0.8)"/>
<path d="M359.6,562.0 L366.0,544.1 L385.2,545.4" stroke="#86c6e4" stroke-width="5.2" stroke-linecap="round" stroke-linejoin="round" fill="none"/>
<path d="M359.6,562.0 L366.0,544.1 L385.2,545.4" stroke="#9ad6f0" stroke-width="3.7" stroke-linecap="round" stroke-linejoin="round" fill="none"/>
<path d="M359.6,562.0 L366.0,544.1 L385.2,545.4" stroke="#d8f2ff" stroke-width="1.1" stroke-linecap="round" stroke-linejoin="round" fill="none" opacity="0.6" transform="translate(-0.4,-0.8)"/>
<path d="M376.2,521.6 L419.7,521.6" stroke="#de8a8a" stroke-width="4.6" stroke-linecap="round" stroke-linejoin="round" fill="none"/>
<path d="M376.2,521.6 L419.7,521.6" stroke="#ee9c9c" stroke-width="3.3" stroke-linecap="round" stroke-linejoin="round" fill="none"/>
<path d="M376.2,521.6 L419.7,521.6" stroke="#ffd8d8" stroke-width="1.0" stroke-linecap="round" stroke-linejoin="round" fill="none" opacity="0.6" transform="translate(-0.4,-0.8)"/>
<path d="M398.0,505.0 L398.0,550.5" stroke="#de8a8a" stroke-width="4.6" stroke-linecap="round" stroke-linejoin="round" fill="none"/>
<path d="M398.0,505.0 L398.0,550.5" stroke="#ee9c9c" stroke-width="3.3" stroke-linecap="round" stroke-linejoin="round" fill="none"/>
<path d="M398.0,505.0 L398.0,550.5" stroke="#ffd8d8" stroke-width="1.0" stroke-linecap="round" stroke-linejoin="round" fill="none" opacity="0.6" transform="translate(-0.4,-0.8)"/>
<circle cx="376.5" cy="521.6" r="3.3" fill="#ee9c9c"/>
<circle cx="398" cy="550" r="3.3" fill="#ee9c9c"/>
<circle cx="346.90" cy="521.90" r="13.50" fill="url(#b8a8cb65e608a)"/>
<text x="12.80" y="637.00" font-size="30.50" text-anchor="start" font-weight="normal" fill="#000" >j)</text>
<circle cx="55.40" cy="629.20" r="11.30" fill="url(#b8a8cb65e608a)"/>
<text x="85.00" y="640.50" font-size="22.00" text-anchor="start" font-weight="normal" fill="#111" >Zn<tspan font-size="16.5" dy="-9.5">2</tspan><tspan font-size="21" dy="-2">+</tspan></text>
<path d="M155.0,642.0 L181.0,618.0" stroke="#de8a8a" stroke-width="4.6" stroke-linecap="round" stroke-linejoin="round" fill="none"/>
<path d="M155.0,642.0 L181.0,618.0" stroke="#ee9c9c" stroke-width="3.3" stroke-linecap="round" stroke-linejoin="round" fill="none"/>
<path d="M155.0,642.0 L181.0,618.0" stroke="#ffd8d8" stroke-width="1.0" stroke-linecap="round" stroke-linejoin="round" fill="none" opacity="0.6" transform="translate(-0.4,-0.8)"/>
<path d="M157.0,617.0 L178.0,641.0" stroke="#de8a8a" stroke-width="4.6" stroke-linecap="round" stroke-linejoin="round" fill="none"/>
<path d="M157.0,617.0 L178.0,641.0" stroke="#ee9c9c" stroke-width="3.3" stroke-linecap="round" stroke-linejoin="round" fill="none"/>
<path d="M157.0,617.0 L178.0,641.0" stroke="#ffd8d8" stroke-width="1.0" stroke-linecap="round" stroke-linejoin="round" fill="none" opacity="0.6" transform="translate(-0.4,-0.8)"/>
<circle cx="155" cy="642" r="3" fill="#ee9c9c"/>
<circle cx="178" cy="641" r="3" fill="#ee9c9c"/>
<text x="183.50" y="640.50" font-size="22.00" text-anchor="start" font-weight="normal" fill="#111" >SO<tspan font-size="16" dy="5">4</tspan><tspan font-size="16" dy="-15">2-</tspan></text>
<path d="M264.0,637.5 L279.6,623.5 L295.5,637.5" stroke="#86c6e4" stroke-width="6.0" stroke-linecap="round" stroke-linejoin="round" fill="none"/>
<path d="M264.0,637.5 L279.6,623.5 L295.5,637.5" stroke="#9ad6f0" stroke-width="4.3" stroke-linecap="round" stroke-linejoin="round" fill="none"/>
<path d="M264.0,637.5 L279.6,623.5 L295.5,637.5" stroke="#d8f2ff" stroke-width="1.3" stroke-linecap="round" stroke-linejoin="round" fill="none" opacity="0.6" transform="translate(-0.4,-0.8)"/>
<text x="304.00" y="640.50" font-size="22.00" text-anchor="start" font-weight="normal" fill="#111" >H<tspan font-size="15" dy="5">2</tspan><tspan dy="-5">O</tspan></text>
<path d="M374.5,624.3 L370.0,617.3" stroke="#b47cd8" stroke-width="3.0" stroke-linecap="round" stroke-linejoin="round" fill="none"/>
<path d="M374.5,624.3 L370.0,617.3" stroke="#c896e8" stroke-width="2.2" stroke-linecap="round" stroke-linejoin="round" fill="none"/>
<path d="M374.5,624.3 L370.0,617.3" stroke="#f0d8ff" stroke-width="0.7" stroke-linecap="round" stroke-linejoin="round" fill="none" opacity="0.6" transform="translate(-0.4,-0.8)"/>
<path d="M386.0,625.2 L390.3,618.2" stroke="#b47cd8" stroke-width="3.0" stroke-linecap="round" stroke-linejoin="round" fill="none"/>
<path d="M386.0,625.2 L390.3,618.2" stroke="#c896e8" stroke-width="2.2" stroke-linecap="round" stroke-linejoin="round" fill="none"/>
<path d="M386.0,625.2 L390.3,618.2" stroke="#f0d8ff" stroke-width="0.7" stroke-linecap="round" stroke-linejoin="round" fill="none" opacity="0.6" transform="translate(-0.4,-0.8)"/>
<path d="M392.0,634.8 L402.6,634.8" stroke="#b47cd8" stroke-width="3.0" stroke-linecap="round" stroke-linejoin="round" fill="none"/>
<path d="M392.0,634.8 L402.6,634.8" stroke="#c896e8" stroke-width="2.2" stroke-linecap="round" stroke-linejoin="round" fill="none"/>
<path d="M392.0,634.8 L402.6,634.8" stroke="#f0d8ff" stroke-width="0.7" stroke-linecap="round" stroke-linejoin="round" fill="none" opacity="0.6" transform="translate(-0.4,-0.8)"/>
<path d="M386.0,644.5 L391.2,652.4" stroke="#b47cd8" stroke-width="3.0" stroke-linecap="round" stroke-linejoin="round" fill="none"/>
<path d="M386.0,644.5 L391.2,652.4" stroke="#c896e8" stroke-width="2.2" stroke-linecap="round" stroke-linejoin="round" fill="none"/>
<path d="M386.0,644.5 L391.2,652.4" stroke="#f0d8ff" stroke-width="0.7" stroke-linecap="round" stroke-linejoin="round" fill="none" opacity="0.6" transform="translate(-0.4,-0.8)"/>
<path d="M374.5,644.5 L370.0,653.3" stroke="#b47cd8" stroke-width="3.0" stroke-linecap="round" stroke-linejoin="round" fill="none"/>
<path d="M374.5,644.5 L370.0,653.3" stroke="#c896e8" stroke-width="2.2" stroke-linecap="round" stroke-linejoin="round" fill="none"/>
<path d="M374.5,644.5 L370.0,653.3" stroke="#f0d8ff" stroke-width="0.7" stroke-linecap="round" stroke-linejoin="round" fill="none" opacity="0.6" transform="translate(-0.4,-0.8)"/>
<path d="M370.1,634.8 L358.7,634.8" stroke="#b47cd8" stroke-width="3.0" stroke-linecap="round" stroke-linejoin="round" fill="none"/>
<path d="M370.1,634.8 L358.7,634.8" stroke="#c896e8" stroke-width="2.2" stroke-linecap="round" stroke-linejoin="round" fill="none"/>
<path d="M370.1,634.8 L358.7,634.8" stroke="#f0d8ff" stroke-width="0.7" stroke-linecap="round" stroke-linejoin="round" fill="none" opacity="0.6" transform="translate(-0.4,-0.8)"/>
<path d="M374.5,624.3 L386.0,625.2 L392.0,634.8 L386.0,644.5 L374.5,644.5 L370.1,634.8 L374.5,624.3" stroke="#b47cd8" stroke-width="3.4" stroke-linecap="round" stroke-linejoin="round" fill="none"/>
<path d="M374.5,624.3 L386.0,625.2 L392.0,634.8 L386.0,644.5 L374.5,644.5 L370.1,634.8 L374.5,624.3" stroke="#c896e8" stroke-width="2.4" stroke-linecap="round" stroke-linejoin="round" fill="none"/>
<path d="M374.5,624.3 L386.0,625.2 L392.0,634.8 L386.0,644.5 L374.5,644.5 L370.1,634.8 L374.5,624.3" stroke="#f0d8ff" stroke-width="0.7" stroke-linecap="round" stroke-linejoin="round" fill="none" opacity="0.6" transform="translate(-0.4,-0.8)"/>
<text x="403.80" y="640.50" font-size="22.00" text-anchor="start" font-weight="normal" fill="#111" >VL</text>
<rect x="38.30" y="655.40" width="160.20" height="160.60" fill="none" stroke="#9a9a9a" stroke-width="0.8" stroke-dasharray="1 1"/>
<line x1="38.3" y1="655.4" x2="64.3" y2="680.4" stroke="#b0b0b0" stroke-width="0.8"/>
<line x1="198.5" y1="655.4" x2="172.5" y2="680.4" stroke="#b0b0b0" stroke-width="0.8"/>
<line x1="38.3" y1="816.0" x2="64.3" y2="791.0" stroke="#b0b0b0" stroke-width="0.8"/>
<line x1="198.5" y1="816.0" x2="172.5" y2="791.0" stroke="#b0b0b0" stroke-width="0.8"/>
<g fill="none" stroke-width="1.1" stroke-linecap="round" stroke-linejoin="round" filter="url(#soft)"><path stroke="#8ccdee" d="M90.9 787.4L90.8 785.2 93.0 784.5M148.7 730.0L149.6 732.6 147.2 734.1M196.3 809.7L193.6 811.2 191.5 809.0M119.2 781.0L119.5 784.2 116.4 785.2M99.5 708.9L98.9 706.7 100.9 705.6M116.9 754.5L119.3 755.3 119.2 757.8M91.2 707.8L94.0 707.4 95.1 710.0M93.5 778.6L93.8 781.1 91.4 781.9M79.4 743.6L76.5 742.1 77.2 739.0M128.8 764.5L126.3 765.7 124.6 763.6M149.4 680.2L150.5 683.1 148.0 684.9M62.7 789.4L63.5 786.7 66.2 786.8M148.9 738.0L150.6 735.2 153.7 736.2M91.5 706.2L89.1 704.4 90.2 701.7M70.8 746.3L73.2 747.2 72.8 749.8M132.8 694.3L135.4 695.3 135.1 698.1M142.9 791.4L142.5 793.6 140.3 793.7M140.4 723.5L140.2 720.4 143.1 719.4M144.1 721.9L144.0 724.2 141.7 724.7M84.7 748.8L84.3 746.6 86.3 745.7M89.4 733.9L88.7 736.2 86.2 736.1M135.0 709.8L136.8 707.1 139.9 708.3M62.8 732.4L63.6 735.1 61.3 736.5M63.9 746.0L61.6 748.1 59.1 746.3M177.6 744.4L179.3 742.8 181.4 744.0M108.2 715.1L111.1 716.2 110.7 719.3M183.1 671.8L180.8 672.7 179.4 670.6M146.7 747.6L146.3 745.2 148.6 744.2M106.1 800.0L104.5 798.2 105.9 796.2M112.4 765.0L115.5 764.1 117.1 766.9M87.1 741.4L88.4 743.7 86.5 745.6M144.2 666.1L145.9 668.5 143.9 670.7M164.1 729.5L166.6 729.3 167.4 731.6M69.5 750.5L72.3 749.5 74.0 751.9M182.8 751.8L185.4 750.6 187.2 752.8M51.8 711.3L51.0 713.6 48.6 713.4M139.1 770.1L141.2 770.7 141.2 772.9M96.1 701.4L95.8 703.6 93.5 703.9M178.9 708.7L181.3 706.9 183.6 708.8M135.1 759.5L134.3 756.5 137.0 754.9M126.3 732.3L127.2 729.3 130.3 729.4M96.0 677.5L94.4 675.2 96.1 673.2M115.7 804.4L117.8 803.7 119.1 805.5M152.4 713.8L150.0 713.0 150.2 710.6M159.9 684.4L157.1 683.1 157.7 680.0M159.2 671.9L159.5 669.0 162.5 668.5M116.0 717.0L116.3 714.7 118.7 714.4M54.9 778.2L56.4 776.2 58.7 777.2M158.6 695.4L156.1 695.6 155.3 693.2M146.0 774.1L149.0 774.2 149.8 777.2M164.7 757.1L166.9 756.7 167.9 758.8M96.0 779.1L94.1 777.0 95.8 774.7M75.2 711.6L78.1 711.7 78.7 714.5M176.7 804.3L178.8 803.5 180.2 805.4M112.4 681.4L114.4 682.9 113.4 685.2M142.5 735.9L140.4 738.5 137.4 737.1M178.1 694.5L177.8 692.1 180.1 691.3M96.7 726.8L95.0 724.3 97.1 722.1M124.5 698.0L124.1 700.2 121.9 700.4M85.7 753.5L84.4 751.5 86.0 749.8M150.5 761.1L149.0 762.9 146.9 761.9M85.5 788.8L86.1 791.0 84.1 792.1M94.7 672.5L97.7 673.7 97.3 677.0M70.3 781.1L68.8 783.5 66.1 782.6M189.6 672.7L187.1 673.7 185.5 671.5M88.5 773.3L85.8 772.4 86.0 769.5M138.6 786.9L136.7 784.4 138.7 781.9M51.1 716.6L49.4 714.3 51.3 712.2M166.3 742.2L168.3 740.8 170.0 742.4M150.6 693.0L153.5 692.8 154.4 695.6M115.4 749.4L114.8 746.8 117.1 745.6M155.0 778.6L158.0 779.6 157.8 782.8M160.2 757.2L161.9 755.1 164.4 756.2M137.4 682.1L138.7 680.0 140.9 680.7M126.9 707.8L127.2 710.0 125.1 710.8M73.3 756.1L75.3 754.1 77.7 755.5M112.0 777.6L112.5 780.0 110.2 781.0M161.7 768.3L160.6 770.5 158.2 770.0M100.0 799.5L98.9 802.7 95.6 802.4"/><path stroke="#a8dcf4" d="M116.3 767.8L113.5 768.4 112.3 765.9M154.1 774.2L155.1 772.0 157.5 772.5M156.9 710.5L154.6 710.6 154.0 708.4M191.0 811.8L189.8 809.7 191.6 808.1M116.6 719.2L118.6 720.3 118.0 722.5M47.7 805.4L45.2 806.3 43.8 804.0M119.2 765.9L121.1 764.4 123.0 765.9M104.1 717.9L105.2 715.7 107.6 716.2M130.8 663.1L133.4 661.4 135.8 663.4M68.3 704.8L65.6 704.9 64.8 702.3M167.8 798.1L168.5 795.8 170.9 795.9M150.5 718.9L150.2 716.1 152.9 715.2M91.3 789.9L89.7 787.3 91.9 785.2M111.1 699.8L110.2 697.4 112.3 696.0M159.5 742.7L158.5 744.7 156.2 744.2M178.7 705.1L177.3 702.5 179.6 700.5M178.4 684.3L175.9 682.2 177.4 679.3M122.2 722.0L119.6 722.9 118.1 720.5M128.8 729.0L127.6 725.9 130.2 724.0M148.9 805.8L146.7 805.4 146.6 803.1M39.9 760.1L41.4 762.5 39.3 764.4M135.2 707.1L137.6 706.5 138.7 708.7M54.8 689.3L57.4 688.6 58.7 690.9M54.7 673.0L52.7 674.2 51.0 672.6M136.1 798.0L137.3 795.7 139.8 796.4M145.8 759.9L142.9 758.9 143.1 755.9M118.8 721.0L121.5 720.4 122.8 722.9M89.8 720.1L86.6 720.4 85.6 717.3M120.9 699.3L122.1 702.1 119.6 703.9M141.7 700.1L142.1 703.1 139.2 704.2M168.4 728.1L165.8 729.3 164.0 727.1M106.3 716.9L104.6 714.2 106.9 711.9M137.6 716.3L138.9 714.1 141.4 714.8M53.7 767.7L53.4 764.9 55.9 763.9M138.5 761.9L141.5 760.5 143.5 763.0M63.9 756.2L61.3 757.2 59.7 754.9M149.9 734.3L148.9 731.3 151.6 729.7M85.0 687.1L87.3 687.0 88.0 689.3M186.6 782.7L186.8 785.3 184.4 786.1M115.0 705.1L115.9 707.2 114.1 708.6"/><path stroke="#a8dcf4" d="M76.7 701.0L77.5 703.6 75.1 705.1M145.5 702.9L144.7 700.1 147.2 698.7M128.3 698.4L126.2 696.1 128.0 693.6M189.0 794.8L190.7 793.0 192.8 794.2M138.2 751.7L140.0 750.0 142.1 751.3M66.8 704.9L65.6 702.8 67.3 701.0M87.2 771.6L88.3 769.4 90.7 770.0M81.5 735.6L80.8 738.8 77.5 738.9M104.9 785.1L107.6 786.0 107.3 788.8M129.2 704.7L131.6 706.4 130.6 709.2M97.8 694.7L95.1 696.4 92.8 694.3M168.5 685.3L166.1 687.3 163.5 685.5M79.0 806.2L80.3 808.5 78.5 810.4M76.7 696.6L79.4 698.2 78.6 701.2M136.8 761.4L136.1 759.1 138.2 757.8M161.0 753.3L162.4 755.6 160.5 757.6M100.4 714.6L97.2 713.7 97.3 710.5M128.6 703.9L126.3 706.1 123.6 704.4M101.8 662.8L104.4 662.4 105.5 664.7M146.3 693.7L144.0 691.5 145.7 688.7M111.7 761.8L109.3 760.8 109.7 758.2M167.7 757.9L165.2 759.8 162.8 757.9M145.6 760.1L145.9 763.2 143.0 764.2M168.2 766.4L167.4 768.9 164.7 768.8M142.0 761.9L140.0 759.6 141.8 757.0M192.0 766.7L193.1 768.8 191.4 770.4M145.7 704.3L146.5 701.1 149.7 701.1M171.8 658.8L171.6 661.3 169.1 661.6M115.2 742.1L113.7 743.9 111.7 743.0M133.2 710.0L132.0 712.4 129.4 711.7M98.0 781.8L101.2 781.4 102.4 784.5M151.2 710.0L151.9 707.1 154.8 707.0M78.5 703.8L78.7 700.7 81.8 700.1M175.0 759.5L172.3 758.0 173.2 755.1M92.0 775.3L93.7 773.5 95.9 774.7M116.9 658.5L115.6 661.0 112.9 660.4M128.7 734.9L128.6 732.4 131.0 731.7M146.7 660.4L143.6 660.3 142.9 657.2M167.8 730.9L169.1 733.0 167.5 734.7M118.0 759.0L120.0 761.4 118.1 764.0M132.8 755.2L130.0 756.0 128.6 753.5"/><path stroke="#6eb6dc" d="M51.8 763.6L49.9 761.2 51.8 758.7M117.4 743.7L119.8 742.7 121.4 744.8M84.2 692.7L86.8 694.6 85.6 697.6M141.8 799.7L139.7 800.8 138.1 798.9M176.3 718.1L177.9 715.6 180.7 716.5M100.5 740.8L98.3 742.8 95.9 741.1M58.8 758.1L60.9 760.4 59.2 763.0M167.8 694.2L169.1 691.9 171.6 692.6M100.0 781.7L100.5 784.4 98.1 785.6M181.2 737.7L182.0 735.1 184.8 735.3M59.4 748.6L61.6 749.4 61.3 751.8M173.9 703.7L176.0 704.5 175.7 706.7M81.0 789.5L78.0 789.7 77.1 786.9M124.5 684.1L122.8 681.4 125.0 679.1M113.8 688.3L113.0 690.5 110.7 690.2M75.6 760.5L78.0 760.5 78.6 762.8M150.3 762.2L153.0 760.6 155.3 762.9"/><path stroke="#a8dcf4" d="M183.0 764.6L180.1 765.1 179.0 762.4M141.0 724.2L143.5 724.8 143.6 727.4M168.3 788.2L165.3 788.8 164.0 786.1M107.8 695.3L108.9 693.4 111.1 694.0M62.7 710.5L62.4 712.8 60.1 713.1M175.5 669.6L177.2 667.3 179.8 668.4M157.7 789.7L156.2 787.4 158.1 785.4M69.2 754.4L69.0 752.3 71.1 751.5M90.4 744.4L92.2 742.4 94.6 743.7M64.4 690.9L66.7 691.7 66.5 694.3M57.5 658.9L55.3 659.4 54.3 657.5M72.8 771.4L72.7 773.9 70.2 774.4M189.3 776.4L186.7 774.3 188.1 771.4M97.0 666.0L99.2 666.5 99.2 668.7M146.1 779.1L148.5 780.1 148.1 782.8M160.4 751.2L162.2 753.2 160.7 755.3M118.3 756.4L119.8 754.7 121.8 755.8M110.5 732.0L112.2 730.0 114.6 731.1M143.3 800.8L141.2 799.4 142.1 797.0M56.3 663.6L53.5 663.0 53.4 660.1M117.1 748.3L117.6 751.3 114.8 752.5M153.8 670.1L155.5 667.6 158.3 668.7M148.9 806.8L146.1 805.7 146.5 802.7M119.0 660.2L117.2 658.1 118.8 655.9M128.8 725.6L129.3 723.2 131.8 723.2M82.6 728.9L83.0 731.7 80.3 732.7M100.6 691.7L100.8 688.6 103.9 688.0M79.8 698.8L80.9 696.3 83.5 696.7M164.8 693.5L164.2 691.0 166.5 689.8M68.4 693.9L70.9 693.3 72.1 695.5M163.2 718.4L164.2 720.4 162.4 721.8M155.4 769.3L156.5 771.6 154.6 773.3M47.7 781.9L46.9 779.6 48.8 778.2M69.5 727.2L72.3 726.6 73.5 729.2M115.6 737.1L117.5 738.4 116.7 740.6M104.9 693.4L107.0 692.8 108.1 694.6M123.7 774.7L123.1 772.4 125.2 771.3M126.4 779.2L124.1 780.7 122.1 778.8M153.7 694.3L152.5 696.4 150.3 695.7M137.5 767.2L137.5 770.3 134.5 771.0M124.3 683.8L126.0 686.1 124.2 688.3"/><path stroke="#a8dcf4" d="M151.3 752.0L152.4 749.9 154.8 750.5M144.5 724.0L145.1 727.2 142.1 728.5M159.3 744.2L158.9 746.6 156.5 746.7M159.6 700.3L156.9 701.6 155.0 699.3M161.2 718.2L162.6 715.9 165.3 716.7M111.0 749.8L113.7 749.0 115.2 751.4M152.0 729.5L148.8 730.1 147.4 727.2M87.7 792.0L85.5 793.3 83.7 791.5M66.1 692.7L64.6 690.7 66.1 688.8M160.7 759.5L163.1 759.7 163.5 762.1M117.0 777.4L116.2 774.6 118.6 773.2M144.3 691.0L144.3 688.0 147.1 687.3M133.9 701.2L133.1 704.3 129.9 704.3M88.2 767.4L87.1 764.6 89.5 762.8M64.4 808.9L62.2 807.5 63.0 804.9M147.2 737.3L150.3 736.1 152.1 738.8M86.8 728.1L87.5 725.5 90.1 725.5M77.1 710.5L74.7 710.8 73.8 708.6M114.5 754.6L116.8 755.1 116.8 757.4M154.1 695.5L152.3 698.1 149.4 696.9M118.0 698.0L121.2 698.4 121.6 701.6M85.9 788.1L86.5 785.8 89.0 785.7M110.3 804.1L112.5 802.7 114.4 804.4M105.3 735.2L107.8 736.0 107.6 738.6M139.6 740.6L140.0 743.4 137.5 744.4M150.1 773.3L152.6 771.3 155.2 773.3M130.5 700.4L129.2 698.1 131.1 696.3M132.2 659.7L132.9 662.5 130.4 663.8M95.4 681.6L92.5 681.2 92.2 678.1M181.0 684.3L179.9 687.2 176.8 686.7M124.5 720.0L127.0 719.1 128.4 721.4M84.3 709.6L82.7 707.3 84.5 705.2M159.2 755.4L161.3 753.0 164.1 754.5M102.5 669.4L104.5 670.4 104.0 672.6M77.0 768.5L76.5 766.2 78.6 765.1M116.2 701.1L118.2 703.1 116.7 705.5M91.4 773.6L89.9 771.2 91.9 769.3M107.8 726.3L110.2 728.4 108.8 731.2M127.1 771.6L128.3 769.0 131.2 769.6M137.1 703.3L134.7 703.2 134.2 700.9M99.7 786.6L101.7 787.5 101.3 789.7"/><path stroke="#a8dcf4" d="M182.1 688.9L182.7 686.0 185.7 685.9M85.2 747.4L82.8 747.1 82.5 744.7M170.3 702.8L172.6 700.4 175.4 702.0M46.2 786.7L45.3 783.8 47.9 782.2M69.8 748.6L73.0 748.0 74.4 751.0M144.6 684.3L142.6 685.4 141.0 683.7M69.7 670.6L67.3 669.5 67.8 666.9M117.5 723.4L115.8 721.2 117.5 719.0M157.6 777.2L159.0 779.2 157.3 781.0M175.1 784.9L174.9 782.0 177.6 781.1M113.4 740.1L115.7 741.7 114.7 744.2M96.5 739.5L96.4 741.8 94.1 742.3M159.6 706.5L158.7 703.8 161.1 702.3M89.9 779.3L90.0 776.7 92.5 776.2M129.3 766.0L127.7 767.8 125.5 766.7M139.5 760.9L138.2 763.5 135.4 762.8M164.7 774.1L166.3 776.7 164.2 778.9M157.8 728.2L154.7 727.3 154.9 724.1M95.1 703.7L93.8 706.5 90.9 705.9M161.0 708.1L158.1 707.0 158.4 703.9M108.4 713.1L105.5 713.1 104.8 710.3M128.4 799.5L126.5 801.3 124.2 799.9M114.1 756.4L116.2 757.8 115.4 760.1M78.8 706.9L80.7 704.3 83.7 705.4M94.2 811.3L96.3 812.3 95.8 814.6M149.4 744.2L147.9 746.1 145.6 745.1M151.3 670.1L149.8 667.3 152.1 665.2M195.7 658.7L192.8 658.0 192.8 655.1M129.2 717.9L128.2 715.6 130.2 714.1M93.5 756.8L96.1 756.5 97.0 759.0M102.5 677.8L104.3 679.2 103.5 681.3M51.5 762.9L53.7 761.0 56.1 762.8M107.3 682.6L104.9 684.4 102.5 682.6M48.9 708.4L48.4 705.8 50.8 704.6M114.9 764.3L112.8 766.3 110.4 764.8M127.9 757.9L127.5 761.0 124.4 761.4M125.0 767.1L124.3 769.3 122.0 769.1M103.7 764.5L106.1 765.8 105.5 768.5M95.3 753.7L96.7 751.6 99.1 752.5M151.4 789.5L150.4 787.5 152.1 786.0"/><path stroke="#4a7896" d="M166.3 745.7L163.8 745.4 163.4 742.9"/><path stroke="#4a7896" d="M151.3 705.4L153.1 703.3 155.6 704.6"/><path stroke="#4a7896" d="M66.7 796.6L65.0 794.4 66.7 792.2"/><path stroke="#6eb6dc" d="M54.2 731.7L52.2 730.4 53.0 728.1M164.1 695.5L163.1 692.5 165.8 690.8M110.5 738.4L108.3 738.5 107.7 736.4M106.9 727.4L109.1 725.9 111.1 727.7M92.7 746.0L95.4 747.1 94.9 750.0M93.7 803.1L93.7 805.7 91.1 806.4M143.2 719.9L144.0 717.3 146.7 717.3M94.9 800.5L93.8 802.6 91.5 802.1M170.0 761.7L167.2 760.3 167.9 757.2M114.8 800.4L118.1 800.1 119.1 803.2M78.3 669.2L75.0 668.9 74.5 665.6M175.0 789.2L172.1 789.5 171.2 786.8M107.9 684.0L105.3 685.7 103.1 683.5M135.0 766.0L135.7 768.4 133.6 769.7M151.5 746.2L152.6 748.1 151.0 749.7M78.7 677.6L77.0 676.1 78.1 674.0M134.6 769.5L133.8 771.7 131.5 771.4"/><path stroke="#6eb6dc" d="M93.8 760.2L96.8 759.4 98.4 762.1M65.8 795.9L62.7 796.6 61.3 793.8M138.2 685.4L135.6 686.5 133.9 684.3M68.3 721.3L69.9 718.6 72.9 719.4M143.5 773.8L145.7 776.1 144.1 778.8M159.3 681.4L157.1 679.5 158.4 677.0M67.2 698.8L65.2 700.3 63.3 698.6M112.9 742.3L115.2 741.2 116.9 743.2M134.3 683.4L131.9 683.1 131.6 680.8M90.9 718.5L88.0 719.5 86.3 716.9M107.3 773.2L105.7 775.6 103.0 774.5M106.1 752.3L103.3 753.7 101.2 751.4M151.2 779.6L148.5 778.6 148.8 775.7M66.9 778.4L64.3 778.9 63.2 776.4M112.4 708.1L112.9 705.5 115.6 705.3M124.1 718.5L124.0 715.4 126.9 714.5M131.9 738.3L132.6 741.0 130.2 742.3"/><path stroke="#4a7896" d="M140.1 753.1L142.4 751.5 144.5 753.3M78.5 739.7L75.4 739.3 75.0 736.3"/><path stroke="#8ccdee" d="M98.2 749.7L97.9 747.0 100.4 746.0M70.0 763.1L72.1 764.1 71.7 766.3M109.6 707.1L106.9 707.0 106.3 704.4M72.2 786.1L72.8 783.3 75.6 783.3M107.1 793.2L106.7 796.2 103.7 796.5M120.5 782.3L119.7 784.3 117.5 784.0M179.5 757.4L178.2 754.7 180.5 752.8M149.2 761.4L146.5 760.1 147.2 757.2M164.1 682.4L162.8 680.3 164.5 678.5M118.2 753.6L115.8 752.1 116.6 749.4M126.1 756.3L123.8 758.2 121.4 756.4M130.5 732.0L131.7 734.8 129.3 736.7M59.3 690.8L60.0 688.2 62.7 688.2M47.9 743.2L50.4 745.0 49.2 747.8M153.4 778.9L155.4 780.7 154.2 783.1M66.9 713.4L65.5 715.4 63.1 714.5M134.8 672.2L134.6 675.0 131.8 675.4M94.6 772.6L93.4 770.5 95.1 768.8M62.1 762.7L61.3 764.9 59.0 764.7M67.7 778.4L68.4 775.7 71.2 775.7M71.7 694.6L72.0 697.3 69.5 698.2M81.6 771.2L79.7 772.3 78.1 770.8M170.7 752.4L168.6 753.9 166.7 752.3M113.1 767.0L114.3 769.7 112.0 771.5M194.8 673.3L192.3 673.2 191.7 670.7M134.7 718.1L135.0 715.6 137.5 715.2M102.9 790.1L104.7 791.7 103.6 793.8M156.4 753.8L155.3 751.6 157.2 750.1M111.5 711.3L110.9 714.4 107.7 714.5M138.0 690.8L138.0 688.5 140.2 688.1M119.3 667.8L121.6 666.7 123.1 668.6M121.4 734.7L124.0 733.2 126.2 735.4M91.2 715.6L92.6 717.5 91.1 719.3M123.0 751.8L126.0 752.2 126.3 755.2M100.2 732.6L100.0 729.8 102.6 728.9M157.2 690.1L159.9 689.9 160.8 692.5M147.3 728.8L145.0 729.5 143.8 727.4M106.7 727.9L107.5 729.9 105.8 731.2M102.6 735.2L103.3 737.5 101.2 738.8M134.5 722.3L136.7 723.4 136.1 725.8M48.9 752.9L46.2 753.7 44.7 751.3M84.4 735.3L82.5 738.0 79.4 736.8M182.5 794.3L180.3 794.4 179.7 792.2M150.8 743.9L151.5 746.2 149.4 747.5M60.2 800.0L58.0 799.3 58.1 797.0M154.5 758.3L156.5 757.1 158.2 758.8M145.1 753.5L146.8 752.0 148.7 753.3M132.9 792.3L131.7 794.2 129.6 793.4M119.2 732.7L118.3 730.0 120.6 728.5M84.4 689.9L83.0 692.7 79.9 692.0M141.9 748.2L143.3 745.4 146.3 746.0M84.9 767.7L82.7 765.3 84.5 762.6M140.6 669.8L142.4 672.0 140.7 674.4M138.2 741.1L140.7 740.3 142.2 742.6M182.0 789.8L179.0 789.9 178.1 787.0M75.3 756.9L77.4 758.8 76.1 761.2M153.9 673.6L153.8 676.6 150.8 677.1M108.8 766.3L108.7 769.4 105.6 770.1M151.6 733.9L152.1 736.9 149.2 738.0M95.3 736.6L98.2 736.3 99.3 739.0M149.9 712.4L147.3 712.1 147.0 709.6M168.2 779.4L171.0 779.9 171.2 782.8M148.9 791.1L146.4 790.5 146.4 787.9M123.9 659.0L126.6 660.0 126.2 662.9M81.3 718.2L83.2 715.6 86.1 716.8M164.1 811.7L161.6 810.9 161.8 808.2M107.2 799.5L105.3 797.2 107.1 794.9M73.8 764.7L73.0 767.0 70.6 766.8M76.7 743.2L76.4 740.6 78.9 739.6M145.5 754.5L147.7 756.9 145.9 759.6M143.3 762.7L141.3 761.1 142.3 758.7M103.5 763.3L105.8 764.2 105.6 766.6M125.9 784.4L123.1 785.0 121.8 782.5M95.3 685.1L93.8 683.2 95.4 681.3M72.2 776.4L69.9 775.1 70.6 772.6M189.3 753.4L186.9 754.6 185.1 752.5M72.1 706.1L74.5 705.0 76.2 707.0M78.9 767.6L77.7 765.0 79.9 763.3M146.2 707.7L143.1 708.0 142.0 705.1"/><path stroke="#4a7896" d="M193.2 664.5L191.5 666.5 189.0 665.3"/><path stroke="#6eb6dc" d="M89.6 798.3L86.8 798.1 86.3 795.4M100.8 748.7L102.3 747.0 104.3 748.0M145.5 769.4L148.1 770.1 148.1 772.7M72.5 715.0L74.1 712.9 76.6 713.9M173.4 731.7L170.2 732.0 169.1 728.9M116.5 756.1L115.4 753.5 117.7 751.9M177.9 765.4L180.5 763.5 182.9 765.6M171.1 763.9L169.3 766.6 166.2 765.5M77.8 737.5L78.9 735.3 81.2 735.8M57.7 697.1L55.4 698.2 53.7 696.2M104.6 706.5L103.3 704.7 104.8 703.0M136.0 717.6L136.2 714.9 138.8 714.5M90.4 760.5L88.1 760.6 87.5 758.5M63.8 695.6L66.4 694.5 68.1 696.7M40.5 732.1L41.4 734.2 39.6 735.6M150.0 707.6L147.2 708.5 145.6 706.0M135.3 747.8L137.3 750.2 135.4 752.7"/><path stroke="#4a7896" d="M177.1 744.7L177.5 747.7 174.6 748.8M130.1 791.4L132.3 789.9 134.3 791.7"/><path stroke="#4a7896" d="M115.1 690.3L112.5 689.8 112.4 687.2M98.6 748.3L100.6 746.4 102.9 747.8"/><path stroke="#6eb6dc" d="M55.6 732.1L53.0 733.4 51.1 731.2M96.9 697.4L96.7 700.2 94.0 700.6M113.6 728.4L111.4 726.4 112.8 723.8M111.0 688.4L112.8 690.6 111.2 692.9M105.8 753.1L104.8 750.4 107.2 748.8M107.9 803.9L107.3 806.7 104.3 806.8M106.8 704.8L109.1 703.1 111.3 704.9M143.8 679.5L146.2 680.0 146.3 682.5M116.9 713.7L117.7 711.0 120.6 711.2M177.6 684.6L180.2 682.7 182.7 684.7M185.1 750.8L183.8 753.1 181.2 752.4M114.5 782.4L112.2 782.0 112.1 779.7M126.2 739.7L127.2 737.4 129.7 737.8M149.9 782.7L151.1 785.7 148.5 787.7M151.7 737.7L154.8 737.1 156.1 740.0M112.8 778.3L109.8 779.0 108.5 776.3"/><path stroke="#8ccdee" d="M107.0 740.6L106.1 737.7 108.7 736.1M94.1 746.3L92.2 745.0 93.0 742.9M135.1 708.6L132.7 708.6 132.1 706.2M167.3 713.6L164.8 712.8 164.9 710.2M100.6 710.8L103.2 710.5 104.1 712.9M81.3 780.3L82.5 778.3 84.7 779.0M146.0 706.4L146.6 709.0 144.2 710.3M164.5 769.1L166.2 767.6 168.0 768.8M135.3 720.4L137.2 721.8 136.3 724.0M78.4 774.8L76.5 776.8 74.2 775.5M121.7 744.0L120.5 741.9 122.3 740.2M123.7 735.9L121.2 734.7 121.7 731.9M168.4 777.2L165.4 778.3 163.6 775.7M109.7 725.9L111.4 723.9 113.7 725.1M144.4 732.7L145.6 729.8 148.6 730.3M84.2 698.2L85.0 700.9 82.6 702.4M124.0 764.0L126.0 762.8 127.7 764.4M91.4 732.4L90.4 735.2 87.5 734.9M110.7 755.3L108.4 753.4 109.7 750.7M58.4 684.3L59.7 681.7 62.6 682.3M51.3 791.5L53.7 793.0 52.9 795.7M96.4 677.9L94.4 680.3 91.6 678.9M153.9 696.8L151.7 696.5 151.5 694.3M115.4 666.0L114.4 668.6 111.7 668.3M164.8 725.6L164.5 723.0 167.0 722.1M79.8 695.0L81.2 696.9 79.7 698.8M115.1 722.6L117.0 721.1 119.0 722.6M76.6 656.8L77.3 659.5 74.8 660.8M133.0 660.3L130.5 661.2 129.0 659.0M145.9 721.4L146.9 718.7 149.8 719.1M183.4 761.5L183.3 759.0 185.7 758.4M78.0 675.6L76.6 672.8 79.0 670.8M114.2 724.5L116.7 725.8 116.1 728.6M140.0 715.5L138.2 713.3 139.9 710.9M174.4 712.6L172.5 713.8 170.9 712.3M158.5 680.8L157.8 677.9 160.4 676.6M69.5 739.3L72.3 738.7 73.5 741.3M86.7 772.0L89.3 771.2 90.6 773.6M166.6 733.8L164.0 733.5 163.7 730.9M117.0 688.1L114.6 689.9 112.4 688.0M163.3 731.0L160.6 731.7 159.2 729.2M166.7 720.4L167.7 717.4 170.8 717.7M82.8 662.6L83.9 664.8 82.0 666.5M77.5 727.1L78.7 729.4 76.7 731.1M149.2 691.4L147.2 690.2 147.9 688.0M123.3 698.1L124.5 695.4 127.4 695.8M102.9 712.4L104.4 714.6 102.6 716.6M73.5 748.8L72.3 751.4 69.4 750.8M92.2 784.5L90.1 786.2 87.9 784.6M126.5 779.6L127.1 777.4 129.4 777.5M91.7 701.2L91.3 703.9 88.6 704.2M154.5 762.9L153.8 760.5 156.0 759.3M72.6 762.3L72.6 759.4 75.4 758.7M99.7 706.8L99.2 704.6 101.2 703.6M71.3 715.4L68.8 714.4 69.1 711.7M173.7 773.4L171.6 771.9 172.6 769.6M63.8 672.8L61.5 672.1 61.6 669.6M147.6 680.2L150.0 680.4 150.5 682.8M137.0 686.9L139.2 686.4 140.1 688.4M164.3 740.8L165.6 738.7 168.0 739.4M171.8 663.4L169.4 661.9 170.3 659.3M189.7 664.7L187.5 665.3 186.3 663.3M164.0 717.3L164.3 720.1 161.6 721.1M140.5 768.3L138.5 770.1 136.1 768.6M196.5 691.8L194.7 693.7 192.5 692.4M104.5 759.1L104.8 756.2 107.8 755.8M113.2 704.0L115.2 703.0 116.6 704.7M61.6 709.8L59.2 708.5 59.8 705.8M81.2 699.5L83.0 702.2 80.9 704.6M166.1 784.1L168.9 785.8 168.0 788.9M74.9 714.5L72.6 714.6 72.0 712.4M174.2 663.8L177.4 664.5 177.4 667.8M147.5 679.1L148.1 681.4 146.0 682.6M93.9 717.8L96.1 716.0 98.3 717.6M165.6 734.9L168.3 735.9 168.0 738.7M84.6 746.4L82.8 749.1 79.7 748.0M80.4 672.7L77.9 670.6 79.3 667.7M93.3 751.2L95.7 752.4 95.0 755.0M120.8 701.4L120.0 698.3 122.8 696.7"/><path stroke="#8ccdee" d="M87.9 782.2L87.9 779.2 90.9 778.5M100.0 720.8L100.8 723.1 98.7 724.4M105.1 787.9L107.1 786.3 109.1 787.8M95.5 670.9L93.1 671.9 91.5 669.8M166.4 694.8L166.3 697.5 163.6 698.0M189.0 698.1L186.0 698.0 185.3 695.0M167.9 683.1L168.4 685.8 166.0 687.0M72.1 665.4L74.8 665.8 75.1 668.5M85.4 730.6L83.3 728.4 84.9 725.8M74.2 724.9L73.4 727.8 70.4 727.6M135.7 684.3L133.8 682.6 135.0 680.4M127.6 768.6L125.7 766.5 127.3 764.2M129.0 768.6L131.4 770.1 130.5 772.8M60.2 755.1L62.5 754.3 63.8 756.4M94.0 762.0L96.4 763.5 95.6 766.3M114.4 716.2L116.2 718.1 114.9 720.3M126.3 770.1L127.4 767.2 130.5 767.5M95.9 729.1L93.3 728.7 93.1 726.0M135.3 675.9L132.7 676.9 131.1 674.6M52.1 754.1L51.4 756.4 49.0 756.2M152.5 760.2L152.2 763.3 149.0 763.8M182.0 732.2L181.6 729.9 183.8 729.0M49.0 782.3L47.8 784.4 45.4 783.7M124.1 713.4L123.4 715.9 120.7 715.8M159.6 730.1L157.6 731.6 155.6 730.0M122.7 722.0L121.0 724.0 118.7 722.8M184.4 796.9L185.5 794.0 188.6 794.3M85.1 675.7L85.3 677.9 83.2 678.7M147.2 729.8L150.3 729.7 151.1 732.6M135.4 795.7L137.7 794.2 139.8 796.1M81.8 753.6L79.1 755.3 76.8 753.2M146.3 697.9L144.2 695.7 145.8 693.0M71.5 727.6L73.6 729.7 72.1 732.3M168.4 719.2L170.8 718.1 172.5 720.1M116.4 751.8L115.5 749.4 117.6 748.0M112.1 681.3L114.1 680.2 115.6 681.9M125.2 669.3L126.7 667.1 129.2 668.0M101.4 698.9L98.6 698.2 98.6 695.4M121.8 715.5L120.9 713.4 122.7 712.0M160.2 748.4L160.4 750.7 158.3 751.5M128.3 721.2L131.4 720.8 132.5 723.7M169.3 713.5L167.1 714.2 165.9 712.2M73.5 746.8L72.3 749.7 69.3 749.2M177.9 693.5L179.4 695.9 177.5 698.0M134.0 792.5L131.5 792.8 130.7 790.5M72.8 770.4L71.0 768.3 72.7 766.0M60.3 779.0L63.0 778.1 64.5 780.6M86.0 667.0L86.5 670.1 83.6 671.3M155.0 705.2L154.7 708.2 151.8 708.6M197.8 714.7L195.2 713.7 195.5 711.0M92.1 771.0L89.3 769.3 90.3 766.3M113.4 662.7L114.6 664.9 112.8 666.6M188.5 728.2L187.1 726.3 188.6 724.6M91.8 717.9L94.9 718.0 95.4 721.0M152.0 758.3L151.0 761.0 148.2 760.7M63.5 758.3L63.1 761.1 60.4 761.4M130.9 755.0L133.1 757.3 131.3 760.0M137.6 783.6L135.0 784.6 133.4 782.3M171.7 760.3L172.1 763.3 169.2 764.4M165.7 758.8L168.2 757.8 169.7 760.0M88.6 698.5L87.6 696.0 89.7 694.4M48.5 699.3L51.0 698.5 52.3 700.8M116.9 808.4L114.1 807.5 114.3 804.6M133.6 713.5L130.9 714.0 129.8 711.4M159.7 703.2L159.7 700.2 162.7 699.4M130.7 692.5L128.1 690.9 129.0 687.9M42.8 806.5L40.8 803.8 42.9 801.3M108.5 718.9L110.7 718.1 112.0 720.2M139.3 722.6L136.8 721.7 137.1 719.1M61.8 678.5L62.8 676.3 65.2 676.8M67.3 801.7L64.6 803.2 62.5 800.9M124.6 671.9L124.5 674.3 122.2 674.8M70.2 689.5L70.3 692.3 67.6 693.0M41.5 792.4L43.8 792.7 44.1 795.0M61.7 751.1L59.4 748.9 61.1 746.2M137.7 769.4L139.0 771.7 137.0 773.5M98.7 810.3L95.6 809.8 95.3 806.6M87.0 703.4L84.2 704.6 82.2 702.1"/><path stroke="#a8dcf4" d="M50.6 719.7L49.0 722.6 45.9 721.7M127.1 756.2L124.1 755.0 124.6 751.7M173.7 667.1L173.6 670.2 170.6 670.8M173.0 789.0L172.0 786.5 174.2 784.9M169.4 709.6L167.0 711.2 164.8 709.3M95.1 718.7L96.0 716.0 98.8 716.2M122.5 711.9L122.3 708.9 125.2 707.9M169.0 793.0L170.6 795.2 168.9 797.3M130.0 769.8L132.8 770.7 132.5 773.7M139.2 761.8L141.8 763.1 141.2 766.0M126.9 772.9L124.2 772.7 123.8 770.0M182.5 781.3L182.7 778.3 185.6 777.7M114.6 696.5L116.9 695.9 117.9 698.0M104.2 798.9L104.4 796.3 106.9 795.9M95.3 674.7L97.0 673.1 99.0 674.4M93.3 782.4L91.5 781.1 92.3 779.1M122.3 754.6L123.4 757.2 121.1 759.0M146.6 723.3L145.5 721.2 147.3 719.7M100.1 698.3L100.6 700.8 98.3 702.0M130.1 744.1L131.4 746.4 129.5 748.3M152.7 685.6L150.2 687.1 148.1 685.0M84.5 717.1L81.9 717.1 81.3 714.6M161.5 739.3L163.3 737.6 165.3 738.9M80.8 727.0L83.5 725.4 85.8 727.6M138.6 761.0L140.7 759.3 142.9 761.0M158.4 690.0L156.8 688.2 158.1 686.2M92.7 733.5L93.4 730.3 96.6 730.2M122.7 755.4L124.0 752.9 126.8 753.6M107.0 667.8L108.1 665.9 110.3 666.6M63.0 712.2L62.6 709.7 65.0 708.8M181.0 723.0L180.0 726.1 176.7 725.9M107.5 784.7L110.1 785.5 110.0 788.1M160.3 750.8L157.4 749.9 157.5 746.8M164.0 716.4L162.9 719.5 159.7 719.1M122.2 730.8L121.2 733.2 118.6 732.7M190.4 673.2L192.0 675.0 190.6 677.0M99.4 762.8L101.9 762.2 103.1 764.4M100.4 755.6L101.3 753.0 104.0 753.3M101.2 711.9L99.6 714.8 96.5 713.9M98.9 680.2L99.4 683.0 96.9 684.2M125.2 768.2L123.2 766.5 124.3 764.3"/><path stroke="#a8dcf4" d="M54.9 728.2L57.5 729.9 56.6 732.9M131.8 800.1L129.3 798.5 130.2 795.7M46.3 800.8L48.6 802.7 47.3 805.4M77.7 676.8L79.0 679.3 77.0 681.1M148.5 710.9L146.9 712.8 144.7 711.6M103.4 710.8L102.0 712.6 99.9 711.6M96.2 744.1L96.6 746.8 94.1 747.9M67.6 676.3L69.1 674.1 71.7 675.1M145.1 696.7L147.9 696.3 148.9 698.9M88.2 801.6L90.9 801.1 92.0 803.7M147.5 704.6L150.7 705.4 150.6 708.7M67.0 784.7L65.2 786.6 62.8 785.3M120.8 775.2L118.2 776.0 116.8 773.7M78.8 772.7L80.9 771.4 82.7 773.2M159.7 692.9L158.6 690.9 160.3 689.4M162.2 698.5L164.1 699.8 163.3 702.0M86.2 685.8L83.7 687.4 81.6 685.3M61.8 807.3L64.7 807.6 65.1 810.5M104.2 772.8L106.2 774.6 104.9 776.9M92.0 671.2L91.6 669.0 93.7 668.1M70.0 726.0L70.5 728.5 68.3 729.6M95.9 684.4L96.3 682.2 98.5 682.1M135.5 805.0L136.9 802.8 139.3 803.7M149.1 721.8L146.2 721.2 146.0 718.1M117.3 698.2L116.7 701.3 113.6 701.4M132.1 778.1L132.0 780.8 129.2 781.3M88.7 684.3L87.3 682.5 88.7 680.7M182.1 781.6L182.8 778.4 186.1 778.4M107.4 665.9L104.8 664.8 105.3 662.1M125.9 696.4L127.8 694.4 130.2 695.7M128.4 710.6L128.7 712.8 126.6 713.7M71.5 725.3L72.3 722.7 75.0 722.8M152.5 771.2L153.4 768.9 155.8 769.2M154.0 774.5L150.8 774.1 150.4 771.0M86.5 660.1L88.9 662.1 87.5 664.9M51.2 803.0L48.1 803.3 47.1 800.3M136.2 772.3L134.0 772.6 133.1 770.6M175.8 761.8L178.5 763.6 177.3 766.7M157.4 794.2L155.1 795.7 153.0 793.8M84.6 665.2L81.9 665.4 81.1 662.9M152.7 715.6L152.2 718.7 149.1 719.0"/><path stroke="#a8dcf4" d="M126.1 740.5L128.1 742.2 126.8 744.6M140.5 703.1L140.5 705.9 137.8 706.5M157.5 679.8L155.3 681.3 153.3 679.5M105.1 711.6L104.5 708.4 107.4 707.2M113.6 772.7L116.8 772.8 117.5 776.0M169.3 790.0L166.5 790.8 165.0 788.3M86.4 722.2L88.8 720.1 91.4 721.9M99.5 694.6L102.8 694.8 103.3 698.1M110.6 714.6L108.2 713.7 108.4 711.3M124.3 681.8L126.0 684.6 123.7 687.0M129.8 745.4L129.5 742.9 131.8 742.1M81.9 729.9L79.3 728.3 80.2 725.4M184.5 767.0L182.8 765.5 183.9 763.5M51.7 700.9L49.7 703.4 46.7 702.0M55.6 660.7L55.0 663.2 52.4 663.3M75.7 781.7L74.6 779.1 76.9 777.5M91.8 773.6L91.7 771.0 94.3 770.3M86.4 682.4L85.7 679.6 88.3 678.2M57.6 708.3L59.1 711.1 56.7 713.3M77.4 697.7L74.7 696.5 75.3 693.6M82.6 696.2L83.8 698.6 81.7 700.4M139.4 696.7L138.2 699.3 135.4 698.8M125.9 744.5L123.8 742.4 125.3 739.8M73.1 778.1L74.0 775.2 77.0 775.4M85.4 744.6L86.5 741.8 89.5 742.1M78.9 735.3L80.2 732.6 83.2 733.2M107.0 765.3L104.2 763.8 105.0 760.7M90.1 713.0L87.8 714.6 85.7 712.7M129.5 681.0L129.1 683.8 126.3 684.1M148.7 787.0L151.0 784.8 153.7 786.5M113.4 733.5L112.8 735.8 110.4 735.8M122.9 737.0L124.8 738.4 123.9 740.6M117.0 766.7L114.6 766.0 114.6 763.5M150.7 752.4L152.8 753.1 152.7 755.3M88.3 715.2L86.8 712.8 88.8 710.7M75.5 679.1L74.4 676.1 77.1 674.4M167.4 669.7L164.8 668.2 165.6 665.3M81.2 745.1L80.9 742.3 83.6 741.3M133.2 733.5L135.0 731.9 137.0 733.2M129.0 736.6L127.9 739.2 125.1 738.8M71.8 731.6L73.3 728.8 76.5 729.5"/><path stroke="#8ccdee" d="M80.8 746.9L83.3 747.1 83.7 749.6M159.1 763.4L161.7 762.8 162.8 765.2M159.5 743.6L158.7 741.2 160.9 739.9M186.5 800.7L189.0 800.7 189.5 803.1M94.3 744.8L92.3 746.8 89.8 745.3M120.6 695.3L120.3 692.5 123.0 691.5M184.8 681.6L187.4 680.9 188.7 683.3M97.9 728.9L98.9 726.2 101.8 726.5M76.3 758.4L77.3 760.6 75.3 762.2M136.4 719.4L139.7 719.5 140.4 722.6M138.3 729.5L137.8 731.9 135.3 732.0M101.5 798.6L103.7 800.5 102.4 803.2M154.4 674.3L154.0 677.5 150.7 677.8M126.5 745.2L126.5 747.6 124.1 748.2M53.7 741.2L53.8 738.3 56.6 737.7M138.6 761.3L136.1 761.6 135.3 759.3M103.0 758.4L102.0 760.7 99.5 760.2M135.9 792.1L138.6 790.8 140.5 793.0M80.4 808.6L77.6 807.9 77.5 805.0M71.1 791.5L69.5 789.0 71.5 786.9M103.3 761.5L105.5 759.1 108.4 760.6M71.9 676.6L74.4 674.5 77.0 676.4M95.3 699.6L97.1 698.2 98.8 699.6M109.2 751.5L108.7 748.5 111.5 747.3M159.9 689.9L157.3 690.1 156.5 687.6M153.8 724.8L151.6 726.4 149.5 724.7M143.4 762.7L145.5 764.3 144.6 766.7M145.9 754.7L143.6 755.5 142.2 753.5M116.2 796.3L116.4 798.5 114.3 799.3M99.4 766.2L99.3 768.9 96.7 769.5M161.2 767.2L159.1 768.0 157.8 766.2M55.6 723.4L55.7 720.7 58.3 720.1M86.7 741.3L84.5 741.9 83.4 739.9M62.9 797.7L64.9 799.6 63.5 802.1M128.6 727.2L131.0 728.5 130.3 731.1M66.8 691.6L69.0 693.3 67.8 695.9M119.3 749.3L121.9 751.0 120.8 754.0M70.6 696.0L71.8 699.0 69.2 701.0M102.8 776.0L102.0 778.1 99.7 777.8M104.7 713.0L102.5 713.9 101.0 712.0M156.9 684.6L154.6 686.1 152.7 684.3M142.0 782.1L142.2 779.3 145.0 778.8M141.7 687.8L144.0 687.3 145.1 689.3M73.6 767.2L72.0 765.1 73.7 763.1M136.3 801.8L138.1 799.1 141.2 800.2M63.2 671.5L64.4 674.4 61.8 676.3M95.8 760.2L94.5 758.3 96.0 756.6M54.0 728.6L53.8 725.8 56.5 724.9M125.0 748.9L121.8 749.0 120.9 745.9M148.7 734.6L151.1 734.3 152.0 736.5M110.0 778.3L107.4 777.6 107.4 774.8M91.8 746.1L94.8 744.8 96.8 747.4M92.9 749.5L92.7 752.6 89.6 753.1M81.9 743.9L84.2 743.2 85.4 745.3M117.6 729.4L116.1 727.8 117.3 725.9M131.5 676.6L130.5 674.6 132.2 673.1M145.3 783.5L147.0 786.4 144.6 788.7M69.3 786.9L72.5 787.5 72.7 790.8M91.7 795.3L91.1 797.6 88.8 797.5M131.6 737.9L131.8 734.8 134.9 734.3M85.7 765.0L84.9 761.9 87.6 760.3M187.7 793.0L186.9 795.9 183.8 795.9M187.0 772.7L184.7 770.5 186.3 767.7M195.5 791.1L192.9 791.3 192.1 788.8M166.2 788.2L163.7 787.4 163.8 784.8M148.0 799.7L151.1 798.9 152.7 801.7M80.2 755.2L83.1 755.9 83.1 758.9M81.8 740.1L82.2 742.4 80.1 743.3M188.0 695.9L186.5 697.6 184.5 696.6M159.6 730.0L158.8 727.7 160.8 726.5M111.7 667.1L109.4 668.6 107.4 666.8M99.2 720.5L98.2 718.0 100.4 716.4M191.7 695.0L193.5 693.5 195.5 695.0M72.9 675.0L74.5 672.5 77.2 673.5M112.9 792.2L110.0 791.7 109.7 788.8M78.5 795.0L76.3 793.8 76.9 791.3M162.2 741.8L163.4 743.8 161.7 745.4M153.5 747.2L154.3 749.3 152.5 750.6"/><path stroke="#4a7896" d="M160.8 769.9L161.0 767.0 163.8 766.5"/><path stroke="#8ccdee" d="M153.4 788.3L150.8 787.2 151.2 784.3M86.5 671.3L83.7 671.4 83.0 668.7M118.9 740.8L120.7 742.4 119.5 744.4M147.6 716.8L144.4 716.3 144.1 713.1M165.3 677.6L163.7 675.5 165.3 673.5M121.5 692.0L124.1 693.9 122.8 696.9M137.1 684.3L134.5 685.5 132.7 683.3M69.5 695.4L71.7 693.9 73.8 695.7M107.9 794.1L110.9 793.9 111.9 796.8M45.6 692.7L48.2 694.5 47.0 697.4M79.0 712.2L81.2 710.3 83.7 712.0M162.9 743.9L165.3 741.7 168.0 743.4M150.4 748.1L151.9 750.2 150.2 752.2M129.3 693.0L131.9 691.4 134.1 693.6M95.3 810.9L93.9 808.7 95.6 806.8M190.2 721.3L189.4 724.2 186.3 724.0M92.0 706.6L89.1 706.8 88.2 704.1M117.0 791.5L115.8 794.1 112.9 793.7M172.5 778.3L170.8 776.4 172.3 774.3M51.3 809.0L53.7 809.5 53.7 811.9M94.7 705.9L91.9 707.1 90.0 704.6M123.3 749.2L123.9 751.7 121.7 752.9M142.9 745.8L143.9 743.3 146.6 743.7M94.2 678.4L96.1 675.8 99.2 677.0M81.5 762.3L82.1 764.6 80.1 765.8M102.3 766.8L105.2 766.8 105.9 769.6M160.2 729.9L159.4 732.2 156.9 732.0M142.7 718.0L140.8 716.9 141.4 714.8M112.5 695.5L115.1 697.3 114.0 700.2M81.7 789.1L79.2 790.5 77.2 788.5M112.4 780.7L109.9 780.2 109.7 777.7M70.9 698.8L68.8 696.8 70.2 694.4M167.1 780.2L165.0 779.1 165.6 776.8M168.0 696.3L168.6 693.8 171.1 693.7M142.7 728.5L145.2 729.1 145.3 731.8M178.4 781.3L176.2 780.7 176.3 778.3M138.9 696.2L140.4 698.2 138.9 700.1M166.4 708.3L164.8 710.7 162.1 709.9M64.7 800.4L61.8 799.3 62.2 796.2M58.4 692.9L60.3 695.2 58.6 697.6M118.5 753.8L119.9 750.9 123.0 751.5M150.7 682.8L147.6 682.4 147.2 679.4M94.0 692.1L91.5 692.0 90.9 689.5M154.7 807.0L153.9 804.6 156.0 803.2M101.7 717.9L104.6 719.4 103.9 722.6M132.0 704.8L134.9 706.0 134.5 709.1M165.7 781.6L165.6 779.0 168.1 778.3M73.1 778.8L70.1 777.6 70.6 774.4M74.6 722.3L73.3 724.5 70.9 723.8M176.5 800.7L177.2 803.5 174.7 804.8M160.6 780.8L158.8 778.4 160.7 776.1M45.3 664.0L48.1 663.9 48.8 666.6M69.1 686.4L68.8 688.7 66.4 689.0M116.9 775.3L115.0 773.4 116.4 771.1M156.7 748.8L157.8 751.2 155.8 752.9M160.1 756.1L157.8 753.9 159.3 751.1M110.5 746.1L109.9 748.7 107.2 748.8M174.5 671.6L175.3 669.5 177.6 669.8M154.2 787.5L153.9 790.4 151.0 790.7M134.5 755.7L131.8 756.3 130.5 753.8M92.2 735.8L91.9 733.5 94.1 732.6M150.4 696.0L153.4 695.8 154.4 698.7M95.4 749.0L95.8 746.8 98.0 746.6M55.2 670.0L53.8 667.0 56.3 664.9M110.6 723.8L111.1 726.6 108.4 727.8M122.3 701.1L120.0 700.4 120.1 698.1M144.8 780.0L142.6 779.2 142.8 776.9M112.0 741.1L109.8 740.4 110.0 738.1M171.5 699.1L173.6 696.8 176.4 698.2M105.6 760.8L103.5 759.2 104.6 756.8M136.3 766.0L138.1 768.4 136.2 770.8M152.5 754.2L149.4 753.9 148.9 750.8M83.5 685.5L84.0 687.8 81.9 688.9M66.5 728.0L64.2 727.3 64.4 724.9M87.8 715.3L89.0 718.0 86.6 719.8M164.8 719.8L165.6 722.6 163.0 724.1M92.4 773.2L89.7 774.3 88.0 772.0M98.4 759.3L97.8 761.8 95.2 761.8"/><path stroke="#8ccdee" d="M121.3 679.8L123.1 677.8 125.5 679.1M109.2 799.2L106.2 798.5 106.1 795.4M156.2 722.5L155.6 719.4 158.6 718.1M60.4 785.8L57.6 787.0 55.9 784.5M139.5 752.8L137.3 754.7 135.0 753.1M75.1 768.7L73.4 770.2 71.6 769.0M165.2 726.1L167.5 727.9 166.4 730.6M63.6 726.4L63.8 723.4 66.8 722.9M171.6 788.3L169.2 789.3 167.6 787.2M93.2 709.9L91.9 707.8 93.7 706.0M135.3 776.9L137.3 775.4 139.2 777.0M162.0 795.5L163.2 792.7 166.2 793.2M136.6 714.7L138.3 712.6 140.8 713.9M191.9 785.0L189.9 783.4 190.9 781.1M57.1 722.8L60.3 722.6 61.4 725.7M172.3 708.6L173.9 710.2 172.7 712.1M175.9 782.6L177.3 784.6 175.7 786.4M140.6 755.1L139.5 752.3 141.8 750.5M182.0 685.7L180.9 683.4 182.9 681.7M69.2 779.6L69.8 777.1 72.2 777.1M145.6 665.5L144.8 663.4 146.7 662.1M166.4 754.8L164.2 756.7 161.8 755.1M84.4 682.6L86.7 685.0 84.8 687.8M117.7 743.3L117.9 741.1 120.1 740.8M195.8 723.1L194.0 725.1 191.6 723.8M80.4 733.9L78.3 731.4 80.2 728.7M181.3 714.3L183.1 716.8 181.1 719.2M68.9 719.6L71.7 719.3 72.6 721.9M160.4 746.3L160.8 749.5 157.8 750.6M145.3 744.7L144.7 742.0 147.2 740.7M68.6 802.1L71.2 802.3 71.6 804.9M162.5 684.1L161.6 680.9 164.4 679.3M121.9 711.3L124.1 712.7 123.2 715.2M127.5 716.4L124.9 718.2 122.5 716.1M122.9 714.7L126.0 715.9 125.5 719.2M94.2 758.3L93.5 761.0 90.7 761.0M115.0 694.3L118.2 694.8 118.5 698.0M151.6 720.1L151.3 722.5 148.9 722.9M176.1 712.1L177.5 709.8 180.2 710.6M191.0 682.2L194.2 681.9 195.3 685.0M142.0 716.1L144.3 714.3 146.7 716.1M105.1 759.3L103.5 761.7 100.7 760.7M65.0 788.5L65.0 785.8 67.6 785.1M92.6 688.1L94.3 686.5 96.3 687.9M154.4 791.0L151.5 790.6 151.1 787.7M74.0 803.2L74.1 806.3 71.1 807.0M96.4 691.4L96.8 689.1 99.1 688.8M74.7 795.0L77.2 795.1 77.7 797.6M40.4 734.6L42.8 734.1 44.0 736.3M140.3 703.4L140.5 706.3 137.8 707.2M164.8 776.9L163.3 779.6 160.3 778.7M155.1 789.8L154.1 792.2 151.4 791.8M156.9 746.5L156.6 744.0 159.0 743.1M124.0 710.8L122.3 708.7 123.9 706.5M171.1 782.1L168.2 782.6 167.0 779.9M59.1 782.9L60.0 785.4 57.8 786.8M157.1 721.6L154.4 722.6 152.7 720.3M88.7 693.9L91.2 693.7 92.0 696.0M179.8 769.1L179.3 771.8 176.6 772.0M124.9 756.7L123.9 759.3 121.1 759.0M147.6 714.0L149.0 715.9 147.6 717.7M105.1 698.7L102.2 699.2 101.0 696.5M150.3 769.4L152.5 770.8 151.7 773.3M91.1 793.2L91.4 790.4 94.3 790.1M51.7 753.4L52.4 755.9 50.2 757.2M90.5 787.6L90.7 790.3 88.1 791.2M148.3 737.4L146.8 734.8 148.9 732.7M86.1 686.5L87.0 688.9 84.9 690.3M162.4 671.0L161.7 673.9 158.7 673.9M86.8 716.1L89.1 715.2 90.5 717.3M99.9 767.8L101.6 770.1 99.8 772.4M61.4 700.1L64.0 699.6 65.1 702.1M113.7 768.5L114.6 770.7 112.6 772.2M165.8 681.4L167.9 680.3 169.4 682.1M137.1 774.3L137.8 771.9 140.3 771.9M64.4 703.5L63.5 706.1 60.8 705.8M116.3 739.0L115.4 737.0 117.2 735.6M63.3 801.7L64.3 798.8 67.4 799.0M95.9 685.7L96.0 683.0 98.6 682.4"/><path stroke="#6eb6dc" d="M129.3 760.3L132.3 760.4 132.9 763.4M172.4 764.6L172.1 767.2 169.6 767.5M90.4 764.4L92.3 766.8 90.4 769.2M54.6 777.6L53.3 780.6 50.1 780.0M110.7 765.4L111.2 763.2 113.5 763.1M145.1 729.7L146.8 731.9 145.0 734.1M153.1 766.7L150.9 768.7 148.4 767.0M89.6 786.4L91.9 788.2 90.7 790.9M63.2 780.7L59.9 780.8 59.0 777.6M133.1 695.4L131.3 693.9 132.3 691.7M47.9 697.6L49.4 699.3 48.2 701.2M146.6 805.1L149.6 806.0 149.4 809.1M99.6 751.9L98.0 749.3 100.1 747.1M174.0 771.1L172.4 768.7 174.2 766.5M104.3 758.7L106.0 760.4 104.7 762.4M161.5 699.7L163.7 701.7 162.4 704.3M162.5 770.4L161.2 768.3 162.9 766.5"/><path stroke="#6eb6dc" d="M53.9 694.8L55.8 696.2 54.8 698.4M166.2 701.2L167.7 703.2 166.1 705.2M151.5 700.6L154.3 700.1 155.4 702.7M150.9 750.2L150.9 747.5 153.6 746.9M174.9 756.8L176.0 753.8 179.3 754.1M56.8 779.2L56.1 782.3 53.0 782.3M84.0 719.9L81.3 718.2 82.2 715.2M85.2 693.4L87.5 691.9 89.6 693.8M120.0 750.8L119.5 754.0 116.3 754.3M109.7 687.5L107.8 686.1 108.8 683.9M82.1 702.3L84.8 701.5 86.3 703.9M113.4 719.1L116.4 720.0 116.3 723.1M103.9 740.8L103.7 738.5 105.9 737.8M121.5 686.7L119.8 684.9 121.2 682.8M157.4 694.8L157.8 692.2 160.5 691.9M139.1 741.4L139.9 743.8 137.8 745.3M58.4 767.1L58.1 764.3 60.7 763.4"/><path stroke="#6eb6dc" d="M81.2 788.4L80.8 790.6 78.6 790.8M121.8 736.8L120.9 739.6 118.0 739.5M43.2 772.6L45.4 770.3 48.2 771.9M136.3 784.4L135.3 786.5 133.0 786.0M120.3 670.7L121.9 668.7 124.2 669.8M169.4 769.0L171.8 768.0 173.5 770.1M69.6 764.3L70.0 767.4 67.0 768.5M95.8 681.9L94.5 680.0 96.0 678.3M130.4 720.6L133.0 720.7 133.6 723.2M90.6 774.2L88.2 774.9 86.9 772.7M171.4 688.4L172.9 685.6 175.9 686.4M110.6 739.3L113.3 739.0 114.2 741.5M75.6 686.1L76.3 689.2 73.4 690.6M144.4 814.4L143.5 811.4 146.1 809.8M61.8 677.6L64.4 677.2 65.4 679.6M85.7 760.7L88.0 762.2 87.0 764.8M49.0 770.4L51.6 769.9 52.7 772.4"/><path stroke="#8ccdee" d="M58.9 739.6L56.5 740.2 55.3 738.1M168.7 700.3L166.4 700.6 165.6 698.4M84.6 700.9L82.3 701.9 80.7 699.9M65.1 705.8L62.8 704.1 63.8 701.4M138.8 705.6L139.9 703.5 142.3 703.9M134.0 743.5L131.1 744.5 129.4 741.9M54.9 770.4L54.7 772.6 52.4 772.9M162.4 667.6L159.6 666.9 159.6 664.0M176.1 680.9L175.5 678.6 177.6 677.5M131.6 663.1L130.2 666.1 127.0 665.5M62.1 702.5L60.1 703.8 58.4 702.2M121.7 681.8L122.9 683.8 121.2 685.4M90.8 670.2L90.5 667.6 92.9 666.6M83.0 810.9L85.1 809.2 87.3 810.9M191.7 687.8L190.8 685.1 193.1 683.6M38.8 746.8L40.8 745.6 42.4 747.2M148.1 761.8L150.1 760.5 151.9 762.1M100.1 767.1L97.8 767.3 97.0 765.1M141.4 787.1L138.7 788.3 136.8 785.9M194.0 664.8L194.3 667.6 191.6 668.6M94.2 756.3L96.7 755.4 98.1 757.6M66.2 713.8L68.2 715.8 66.8 718.3M154.8 763.5L151.9 763.4 151.2 760.5M53.0 672.9L53.8 670.4 56.4 670.7M107.6 698.9L105.3 699.5 104.1 697.5M126.1 728.2L123.8 728.1 123.2 725.8M140.1 799.4L138.1 798.1 138.8 795.8M77.7 757.5L79.7 759.1 78.7 761.4M100.6 750.6L102.8 751.2 102.8 753.4M96.5 767.4L99.0 768.7 98.4 771.4M103.3 752.3L102.9 755.1 100.0 755.4M87.9 720.2L90.4 721.6 89.6 724.4M100.6 762.7L102.7 760.3 105.6 761.8M73.6 798.4L76.0 796.3 78.6 798.2M134.1 780.6L136.4 778.9 138.7 780.7M87.2 711.8L88.7 714.6 86.3 716.6M78.0 760.6L75.7 761.4 74.4 759.3M106.4 740.0L109.0 738.4 111.2 740.5M67.2 735.6L70.1 734.9 71.5 737.5M86.8 762.0L89.0 761.8 89.7 763.9M123.7 765.4L121.1 766.1 119.8 763.7M134.7 705.2L132.1 705.9 130.7 703.5M52.3 696.8L54.0 699.0 52.2 701.2M127.7 768.3L125.9 766.0 127.6 763.7M158.9 775.0L159.3 777.7 156.7 778.7M144.4 778.7L147.1 777.4 149.0 779.7M90.8 697.8L88.8 696.2 89.9 693.9M114.4 728.8L112.7 726.7 114.3 724.6M177.1 762.3L175.7 764.2 173.6 763.2M182.6 772.9L184.8 771.4 186.9 773.2M116.7 750.3L113.5 749.9 113.0 746.7M158.5 739.2L156.9 741.7 154.1 740.8M84.8 693.8L86.3 691.3 89.1 692.1M187.6 770.8L188.9 772.7 187.4 774.5M73.7 728.6L71.6 726.6 73.1 724.0M125.4 771.3L124.2 768.5 126.7 766.7M98.4 748.8L95.8 748.4 95.6 745.8M164.3 689.4L161.9 689.4 161.2 687.1M165.7 730.3L163.0 729.9 162.8 727.2M65.3 765.3L66.6 767.2 65.1 768.9M63.9 718.4L65.4 715.8 68.4 716.6M109.4 719.8L107.2 718.5 107.9 716.0M86.8 695.2L86.6 692.8 88.9 692.0M118.5 683.8L116.7 685.3 114.8 683.9M81.2 692.7L78.8 691.1 79.8 688.4M44.0 667.5L42.4 664.6 44.9 662.4M158.9 723.9L161.1 726.3 159.4 729.1M81.4 674.8L80.5 677.2 77.9 677.0M159.4 795.6L161.9 793.6 164.4 795.5M158.4 789.1L158.0 786.0 160.9 784.9M125.8 777.1L128.6 777.6 128.8 780.5M117.0 689.3L116.1 692.1 113.1 691.9M133.8 760.0L133.2 762.4 130.8 762.4M72.3 672.1L75.3 670.9 77.1 673.6M63.3 736.9L61.8 734.2 64.0 732.1M156.4 694.0L157.3 697.1 154.5 698.7M113.1 789.2L110.0 788.6 109.8 785.5M178.5 808.1L180.4 805.6 183.3 806.9"/></g>
<g fill="none" stroke="#c584e4" stroke-width="1.15" stroke-linecap="round" stroke-linejoin="round" filter="url(#soft)"><path d="M116.1,718.7 L116.7,714.6 L113.5,712.0 L109.6,713.5 L109.0,717.6 L112.2,720.3ZM116.1,718.7L118.5,720.7M116.7,714.6L119.6,713.5M113.5,712.0L114.0,708.9M109.6,713.5L107.2,711.6M109.0,717.6L106.0,718.7M112.2,720.3L111.7,723.3M57.4,742.4 L55.1,741.1 L53.7,744.2 L51.3,745.2 L53.6,746.5 L55.0,743.4ZM57.4,742.4L59.6,741.2M55.1,741.1L55.8,739.1M53.7,744.2L53.2,744.4M51.3,745.2L49.1,746.4M53.6,746.5L52.9,748.5M55.0,743.4L55.5,743.2M155.7,685.2 L152.7,685.7 L149.8,684.7 L150.1,680.9 L153.2,680.4 L156.0,681.4ZM155.7,685.2L157.8,686.7M152.7,685.7L152.5,687.7M149.8,684.7L147.5,685.9M150.1,680.9L148.0,679.4M153.2,680.4L153.4,678.4M156.0,681.4L158.3,680.2M159.8,717.0 L158.1,719.8 L160.9,721.1 L161.1,718.4 L162.8,715.6 L160.0,714.3ZM159.8,717.0L159.2,716.4M158.1,719.8L156.4,721.4M160.9,721.1L161.2,723.6M161.1,718.4L161.7,719.0M162.8,715.6L164.5,714.0M160.0,714.3L159.7,711.8M105.9,673.4 L105.2,669.8 L108.3,669.3 L107.1,671.4 L107.8,675.1 L104.8,675.6ZM105.9,673.4L105.3,674.1M105.2,669.8L104.4,667.8M108.3,669.3L109.4,666.9M107.1,671.4L107.7,670.7M107.8,675.1L108.7,677.0M104.8,675.6L103.6,678.0M180.8,791.6 L180.8,795.5 L177.6,797.0 L174.4,795.5 L174.4,791.6 L177.6,790.0ZM180.8,791.6L183.2,790.1M180.8,795.5L183.2,796.9M177.6,797.0L177.6,799.7M174.4,795.5L172.1,797.0M174.4,791.6L172.0,790.2M177.6,790.0L177.6,787.4M180.8,673.9 L183.9,675.1 L183.1,678.7 L180.6,678.4 L177.4,677.2 L178.3,673.6ZM180.8,673.9L180.9,672.1M183.9,675.1L186.3,674.3M183.1,678.7L184.9,680.6M180.6,678.4L180.5,680.2M177.4,677.2L175.0,678.0M178.3,673.6L176.5,671.7M186.4,721.4 L182.5,720.1 L179.8,720.8 L179.4,725.2 L183.3,726.5 L186.0,725.7ZM186.4,721.4L189.0,720.0M182.5,720.1L182.3,717.6M179.8,720.8L177.5,719.0M179.4,725.2L176.8,726.6M183.3,726.5L183.5,728.9M186.0,725.7L188.3,727.5M137.4,803.5 L138.0,807.7 L137.2,808.0 L132.9,807.7 L132.3,803.5 L133.1,803.2ZM137.4,803.5L139.0,802.0M138.0,807.7L140.2,809.2M137.2,808.0L138.7,809.9M132.9,807.7L131.3,809.2M132.3,803.5L130.1,802.1M133.1,803.2L131.6,801.4M191.5,813.4 L194.5,810.2 L198.1,811.4 L196.9,810.0 L194.0,813.2 L190.4,812.0ZM191.5,813.4L189.5,814.5M194.5,810.2L194.7,809.3M198.1,811.4L200.9,811.0M196.9,810.0L199.0,808.9M194.0,813.2L193.7,814.1M190.4,812.0L187.5,812.4M129.0,779.2 L132.5,781.2 L134.8,778.6 L135.7,775.8 L132.1,773.8 L129.8,776.4ZM129.0,779.2L126.5,780.5M132.5,781.2L132.6,784.0M134.8,778.6L136.7,779.5M135.7,775.8L138.1,774.5M132.1,773.8L132.0,771.0M129.8,776.4L127.9,775.5M47.2,779.0 L44.5,777.6 L41.2,780.1 L42.5,783.6 L45.2,785.1 L48.4,782.5ZM47.2,779.0L49.0,777.3M44.5,777.6L44.1,774.8M41.2,780.1L38.5,779.1M42.5,783.6L40.7,785.3M45.2,785.1L45.5,787.8M48.4,782.5L51.1,783.5M57.3,753.8 L59.4,756.8 L58.2,755.3 L53.9,756.8 L51.7,753.8 L53.0,755.3ZM57.3,753.8L58.5,752.9M59.4,756.8L62.3,757.8M58.2,755.3L60.1,755.5M53.9,756.8L52.6,757.8M51.7,753.8L48.8,752.8M53.0,755.3L51.0,755.1M114.2,768.5 L115.9,769.4 L118.5,765.7 L122.0,766.6 L120.2,765.7 L117.7,769.4ZM114.2,768.5L111.3,769.4M115.9,769.4L114.3,770.6M118.5,765.7L118.8,764.5M122.0,766.6L124.9,765.7M120.2,765.7L121.9,764.5M117.7,769.4L117.3,770.6M101.8,714.6 L100.9,713.2 L104.6,713.5 L104.9,717.5 L105.8,718.9 L102.1,718.7ZM101.8,714.6L100.5,713.6M100.9,713.2L99.2,711.0M104.6,713.5L105.4,711.6M104.9,717.5L106.2,718.5M105.8,718.9L107.5,721.1M102.1,718.7L101.3,720.5M132.2,663.0 L133.9,663.4 L137.6,662.5 L137.4,658.6 L135.7,658.2 L132.0,659.1ZM132.2,663.0L130.2,664.6M133.9,663.4L133.3,665.4M137.6,662.5L139.7,663.7M137.4,658.6L139.5,657.0M135.7,658.2L136.3,656.2M132.0,659.1L129.9,657.9M93.8,682.3 L96.7,684.0 L99.6,681.5 L98.6,678.8 L95.8,677.0 L92.9,679.5ZM93.8,682.3L92.0,683.6M96.7,684.0L97.1,686.6M99.6,681.5L102.1,682.3M98.6,678.8L100.5,677.4M95.8,677.0L95.4,674.4M92.9,679.5L90.4,678.7M157.2,715.4 L159.2,714.1 L158.4,716.9 L160.6,719.8 L158.7,721.1 L159.5,718.3ZM157.2,715.4L156.1,713.7M159.2,714.1L159.2,711.6M158.4,716.9L158.1,716.4M160.6,719.8L161.8,721.5M158.7,721.1L158.6,723.6M159.5,718.3L159.8,718.8M121.0,676.2 L119.3,673.3 L117.9,670.3 L114.3,672.2 L115.9,675.1 L117.4,678.1ZM121.0,676.2L123.4,677.7M119.3,673.3L120.7,672.5M117.9,670.3L118.0,667.5M114.3,672.2L111.9,670.6M115.9,675.1L114.6,675.8M117.4,678.1L117.3,680.9M164.6,694.6 L164.1,690.8 L161.2,690.1 L158.2,691.4 L158.6,695.3 L161.5,696.0ZM164.6,694.6L167.0,695.8M164.1,690.8L166.2,689.2M161.2,690.1L161.0,687.9M158.2,691.4L155.8,690.3M158.6,695.3L156.5,696.9M161.5,696.0L161.7,698.2M72.1,731.4 L71.5,734.8 L68.1,736.7 L64.9,734.1 L65.5,730.7 L68.9,728.8ZM72.1,731.4L74.7,730.3M71.5,734.8L73.7,736.4M68.1,736.7L67.8,739.6M64.9,734.1L62.2,735.2M65.5,730.7L63.2,729.1M68.9,728.8L69.2,725.9M174.7,741.6 L177.2,738.4 L181.1,740.1 L181.3,743.0 L178.8,746.1 L174.9,744.4ZM174.7,741.6L172.2,741.0M177.2,738.4L176.7,735.6M181.1,740.1L183.4,738.5M181.3,743.0L183.8,743.6M178.8,746.1L179.4,749.0M174.9,744.4L172.6,746.1M122.7,701.6 L121.5,704.6 L125.5,705.7 L127.2,708.3 L128.4,705.3 L124.4,704.2ZM122.7,701.6L120.9,699.2M121.5,704.6L119.0,704.3M125.5,705.7L125.9,706.4M127.2,708.3L129.0,710.7M128.4,705.3L130.9,705.6M124.4,704.2L124.0,703.5M115.2,755.3 L117.5,752.5 L120.8,755.1 L118.8,757.6 L116.5,760.3 L113.2,757.7ZM115.2,755.3L113.7,754.3M117.5,752.5L117.9,749.7M120.8,755.1L123.6,754.0M118.8,757.6L120.3,758.5M116.5,760.3L116.1,763.2M113.2,757.7L110.5,758.8M164.5,771.5 L167.8,774.7 L171.7,772.0 L171.4,769.7 L168.1,766.6 L164.2,769.2ZM164.5,771.5L161.9,772.3M167.8,774.7L167.7,777.6M171.7,772.0L174.4,773.2M171.4,769.7L174.0,769.0M168.1,766.6L168.1,763.7M164.2,769.2L161.4,768.1M144.1,718.1 L145.8,720.5 L149.0,721.7 L147.4,724.3 L145.6,722.0 L142.5,720.8ZM144.1,718.1L142.8,715.9M145.8,720.5L146.0,719.8M149.0,721.7L151.3,722.1M147.4,724.3L148.7,726.5M145.6,722.0L145.5,722.7M142.5,720.8L140.2,720.3M98.7,730.7 L96.6,727.8 L96.3,728.4 L93.8,731.2 L96.0,734.1 L96.3,733.5ZM98.7,730.7L100.4,730.4M96.6,727.8L96.9,725.5M96.3,728.4L96.2,726.5M93.8,731.2L92.1,731.5M96.0,734.1L95.6,736.4M96.3,733.5L96.4,735.4M58.0,715.8 L58.3,711.6 L55.7,709.2 L58.5,708.9 L58.2,713.1 L60.8,715.5ZM58.0,715.8L57.9,718.4M58.3,711.6L58.1,711.1M55.7,709.2L54.0,706.8M58.5,708.9L58.6,706.4M58.2,713.1L58.4,713.6M60.8,715.5L62.6,717.9M101.1,774.8 L101.7,770.6 L101.1,769.6 L96.8,769.9 L96.3,774.2 L96.9,775.2ZM101.1,774.8L102.7,776.6M101.7,770.6L103.7,769.3M101.1,769.6L102.6,767.5M96.8,769.9L95.3,768.2M96.3,774.2L94.2,775.4M96.9,775.2L95.4,777.3M84.8,739.4 L82.0,741.7 L78.5,740.9 L77.6,737.0 L80.4,734.7 L83.9,735.6ZM84.8,739.4L87.5,740.3M82.0,741.7L82.6,744.3M78.5,740.9L76.5,742.9M77.6,737.0L74.9,736.2M80.4,734.7L79.8,732.1M83.9,735.6L85.9,733.6M162.1,664.4 L163.7,667.7 L167.9,668.6 L166.7,671.2 L165.1,668.0 L160.9,667.0ZM162.1,664.4L160.3,662.0M163.7,667.7L163.3,667.4M167.9,668.6L170.4,669.4M166.7,671.2L168.4,673.7M165.1,668.0L165.5,668.3M160.9,667.0L158.4,666.3M82.9,700.7 L87.4,702.1 L86.8,705.9 L85.3,709.2 L80.8,707.7 L81.4,703.9ZM82.9,700.7L82.2,697.5M87.4,702.1L89.9,700.0M86.8,705.9L88.9,706.7M85.3,709.2L86.0,712.3M80.8,707.7L78.3,709.9M81.4,703.9L79.3,703.1M54.3,705.0 L52.6,708.7 L54.6,708.9 L58.6,710.2 L60.3,706.5 L58.3,706.3ZM54.3,705.0L52.7,703.2M52.6,708.7L49.7,709.3M54.6,708.9L53.3,709.9M58.6,710.2L60.2,712.0M60.3,706.5L63.2,705.9M58.3,706.3L59.6,705.3M104.7,694.5 L106.9,690.9 L104.6,688.3 L101.4,687.5 L99.2,691.0 L101.6,693.6ZM104.7,694.5L106.0,697.1M106.9,690.9L109.8,690.9M104.6,688.3L105.7,686.3M101.4,687.5L100.2,684.9M99.2,691.0L96.3,691.0M101.6,693.6L100.4,695.6M71.2,721.2 L67.6,721.5 L67.6,718.5 L69.8,719.9 L73.4,719.6 L73.4,722.6ZM71.2,721.2L71.7,721.8M67.6,721.5L65.5,722.1M67.6,718.5L65.4,717.1M69.8,719.9L69.4,719.2M73.4,719.6L75.5,719.0M73.4,722.6L75.6,724.0M141.8,678.0 L139.1,679.4 L140.7,683.1 L143.8,682.1 L146.5,680.7 L144.9,677.0ZM141.8,678.0L141.0,676.4M139.1,679.4L136.4,679.0M140.7,683.1L139.0,685.3M143.8,682.1L144.6,683.8M146.5,680.7L149.2,681.1M144.9,677.0L146.6,674.8M180.0,768.7 L180.9,772.6 L177.8,774.9 L174.4,773.8 L173.5,769.9 L176.6,767.5ZM180.0,768.7L182.1,766.8M180.9,772.6L183.6,773.6M177.8,774.9L178.2,777.7M174.4,773.8L172.2,775.7M173.5,769.9L170.7,768.9M176.6,767.5L176.2,764.7M114.6,794.4 L110.7,794.2 L110.2,789.6 L113.4,788.9 L117.3,789.1 L117.8,793.6ZM114.6,794.4L115.1,796.5M110.7,794.2L108.2,796.0M110.2,789.6L107.4,788.2M113.4,788.9L112.9,786.7M117.3,789.1L119.8,787.2M117.8,793.6L120.6,795.0M88.6,742.1 L85.7,743.6 L82.9,742.7 L82.5,739.1 L85.4,737.6 L88.2,738.6ZM88.6,742.1L90.9,743.3M85.7,743.6L85.8,745.9M82.9,742.7L80.9,744.2M82.5,739.1L80.2,738.0M85.4,737.6L85.3,735.3M88.2,738.6L90.2,737.0M178.6,734.8 L181.2,734.0 L178.3,733.8 L177.3,738.1 L174.6,738.9 L177.6,739.1ZM178.6,734.8L179.2,733.6M181.2,734.0L183.6,732.1M178.3,733.8L178.7,731.9M177.3,738.1L176.7,739.3M174.6,738.9L172.2,740.8M177.6,739.1L177.2,741.0M100.8,691.0 L97.2,688.9 L97.4,684.7 L101.0,682.8 L104.6,684.9 L104.4,689.2ZM100.8,691.0L100.7,694.1M97.2,688.9L94.4,690.4M97.4,684.7L94.8,683.0M101.0,682.8L101.1,679.7M104.6,684.9L107.4,683.4M104.4,689.2L107.1,690.8M80.9,681.3 L84.0,684.4 L84.2,684.4 L86.5,680.7 L83.5,677.6 L83.3,677.5ZM80.9,681.3L79.0,681.4M84.0,684.4L84.1,687.0M84.2,684.4L84.7,687.0M86.5,680.7L88.5,680.5M83.5,677.6L83.4,675.0M83.3,677.5L82.8,675.0M96.0,750.4 L99.4,750.1 L98.0,753.5 L94.3,751.4 L91.0,751.8 L92.3,748.4ZM96.0,750.4L96.7,749.9M99.4,750.1L102.5,749.6M98.0,753.5L100.2,755.2M94.3,751.4L93.7,752.0M91.0,751.8L87.9,752.3M92.3,748.4L90.2,746.6M144.3,671.4 L147.5,672.1 L147.2,676.0 L144.5,676.2 L141.2,675.4 L141.5,671.5ZM144.3,671.4L144.2,669.5M147.5,672.1L149.9,671.0M147.2,676.0L149.4,677.6M144.5,676.2L144.5,678.1M141.2,675.4L138.9,676.6M141.5,671.5L139.4,669.9M72.1,759.8 L76.1,761.7 L77.0,764.7 L73.9,768.1 L70.0,766.1 L69.1,763.2ZM72.1,759.8L71.4,756.8M76.1,761.7L78.4,760.0M77.0,764.7L80.0,765.3M73.9,768.1L74.6,771.1M70.0,766.1L67.7,767.8M69.1,763.2L66.1,762.6M98.6,729.8 L101.4,725.9 L105.2,727.5 L107.3,730.1 L104.6,734.0 L100.8,732.3ZM98.6,729.8L95.4,729.6M101.4,725.9L100.1,722.9M105.2,727.5L106.9,725.7M107.3,730.1L110.6,730.3M104.6,734.0L105.8,736.9M100.8,732.3L99.1,734.2M159.0,810.8 L162.6,809.6 L162.8,805.4 L159.9,803.8 L156.2,805.0 L156.1,809.1ZM159.0,810.8L158.7,813.4M162.6,809.6L165.0,811.3M162.8,805.4L165.3,804.0M159.9,803.8L160.2,801.1M156.2,805.0L153.8,803.3M156.1,809.1L153.5,810.5M189.3,684.6 L187.0,684.4 L190.3,682.7 L193.0,686.4 L195.3,686.7 L192.0,688.4ZM189.3,684.6L187.9,684.1M187.0,684.4L184.0,683.4M190.3,682.7L189.7,680.7M193.0,686.4L194.5,687.0M195.3,686.7L198.3,687.7M192.0,688.4L192.7,690.4M88.4,677.6 L87.2,677.2 L85.5,680.5 L82.4,680.1 L83.6,680.5 L85.2,677.2ZM88.4,677.6L90.6,676.6M87.2,677.2L88.6,676.0M85.5,680.5L85.6,681.6M82.4,680.1L80.2,681.1M83.6,680.5L82.2,681.7M85.2,677.2L85.2,676.1M191.1,666.3 L187.3,666.2 L186.9,663.1 L188.1,664.5 L191.9,664.6 L192.3,667.7ZM191.1,666.3L192.1,667.0M187.3,666.2L185.6,666.7M186.9,663.1L184.8,661.5M188.1,664.5L187.1,663.8M191.9,664.6L193.6,664.2M192.3,667.7L194.4,669.3M120.6,751.4 L117.9,748.4 L120.5,747.0 L123.5,744.3 L126.2,747.4 L123.6,748.7ZM120.6,751.4L119.4,754.0M117.9,748.4L114.8,748.9M120.5,747.0L119.3,746.3M123.5,744.3L124.7,741.7M126.2,747.4L129.3,746.9M123.6,748.7L124.8,749.5M190.1,716.4 L190.6,720.3 L191.6,722.6 L187.8,723.0 L187.2,719.1 L186.3,716.8ZM190.1,716.4L190.9,714.0M190.6,720.3L192.0,720.7M191.6,722.6L193.5,724.8M187.8,723.0L187.0,725.4M187.2,719.1L185.9,718.8M186.3,716.8L184.4,714.6M84.1,754.3 L81.4,753.1 L77.8,754.1 L77.5,751.2 L80.3,752.4 L83.8,751.4ZM84.1,754.3L86.6,755.4M81.4,753.1L81.7,753.5M77.8,754.1L75.6,755.0M77.5,751.2L75.1,750.1M80.3,752.4L79.9,752.0M83.8,751.4L86.0,750.5M125.6,704.7 L122.3,703.1 L119.6,705.6 L120.2,708.6 L123.4,710.2 L126.2,707.7ZM125.6,704.7L127.6,703.2M122.3,703.1L121.9,700.4M119.6,705.6L117.1,704.8M120.2,708.6L118.1,710.1M123.4,710.2L123.8,712.9M126.2,707.7L128.6,708.5M88.2,697.0 L91.4,694.7 L93.5,693.1 L90.7,690.0 L87.6,692.3 L85.5,693.9ZM88.2,697.0L87.3,699.6M91.4,694.7L92.9,695.6M93.5,693.1L96.5,692.7M90.7,690.0L91.7,687.4M87.6,692.3L86.1,691.4M85.5,693.9L82.5,694.3M92.3,795.8 L91.4,798.2 L92.9,801.4 L90.6,802.2 L91.5,799.8 L89.9,796.6ZM92.3,795.8L92.9,793.3M91.4,798.2L91.5,797.7M92.9,801.4L93.9,803.1M90.6,802.2L90.0,804.7M91.5,799.8L91.4,800.3M89.9,796.6L88.9,794.9M95.4,741.4 L96.3,741.7 L95.3,745.3 L98.1,747.2 L97.2,746.9 L98.2,743.3ZM95.4,741.4L94.5,739.2M96.3,741.7L95.9,739.8M95.3,745.3L94.4,746.0M98.1,747.2L99.0,749.4M97.2,746.9L97.7,748.8M98.2,743.3L99.2,742.6M48.6,748.8 L48.5,749.4 L53.0,749.0 L53.5,744.4 L53.6,743.7 L49.1,744.2ZM48.6,748.8L46.6,750.4M48.5,749.4L46.7,751.7M53.0,749.0L54.4,750.7M53.5,744.4L55.5,742.8M53.6,743.7L55.4,741.5M49.1,744.2L47.7,742.5M92.3,738.8 L93.0,738.4 L96.5,739.7 L98.5,736.9 L97.7,737.3 L94.2,736.0ZM92.3,738.8L89.9,739.4M93.0,738.4L91.3,738.9M96.5,739.7L97.4,741.0M98.5,736.9L100.8,736.3M97.7,737.3L99.4,736.8M94.2,736.0L93.4,734.7M89.4,779.4 L88.9,783.9 L86.8,783.8 L82.6,782.7 L83.1,778.2 L85.2,778.3ZM89.4,779.4L91.9,778.3M88.9,783.9L91.2,785.9M86.8,783.8L87.3,786.0M82.6,782.7L80.1,783.8M83.1,778.2L80.8,776.2M85.2,778.3L84.7,776.1M142.5,693.4 L143.6,690.5 L147.4,689.5 L149.6,692.8 L148.6,695.7 L144.7,696.7ZM142.5,693.4L139.8,693.7M143.6,690.5L141.7,688.5M147.4,689.5L148.4,686.8M149.6,692.8L152.3,692.5M148.6,695.7L150.5,697.6M144.7,696.7L143.8,699.4M160.8,757.6 L162.7,760.6 L165.5,759.2 L167.6,757.7 L165.7,754.6 L162.9,756.0ZM160.8,757.6L158.3,757.6M162.7,760.6L161.6,762.8M165.5,759.2L166.6,760.5M167.6,757.7L170.2,757.6M165.7,754.6L166.8,752.4M162.9,756.0L161.9,754.7M70.7,661.9 L67.4,660.7 L65.3,661.5 L64.9,665.2 L68.3,666.4 L70.4,665.6ZM70.7,661.9L72.9,660.7M67.4,660.7L67.1,658.6M65.3,661.5L63.4,660.0M64.9,665.2L62.8,666.4M68.3,666.4L68.6,668.5M70.4,665.6L72.3,667.0M135.0,712.9 L136.9,715.0 L139.4,718.5 L135.9,721.6 L134.0,719.5 L131.5,716.0ZM135.0,712.9L134.5,709.6M136.9,715.0L138.1,713.3M139.4,718.5L142.3,719.5M135.9,721.6L136.4,724.8M134.0,719.5L132.7,721.2M131.5,716.0L128.6,715.0M139.3,679.9 L140.6,683.9 L144.3,685.2 L147.6,682.2 L146.2,678.2 L142.6,676.9ZM139.3,679.9L136.2,679.1M140.6,683.9L138.5,686.0M144.3,685.2L144.9,688.2M147.6,682.2L150.7,683.0M146.2,678.2L148.4,676.1M142.6,676.9L141.9,673.8M115.4,777.6 L116.1,776.1 L112.9,773.7 L113.9,770.5 L113.1,772.0 L116.3,774.4ZM115.4,777.6L116.1,780.2M116.1,776.1L117.1,777.7M112.9,773.7L111.8,773.4M113.9,770.5L113.2,768.0M113.1,772.0L112.1,770.4M116.3,774.4L117.5,774.7M133.6,757.0 L129.9,757.2 L130.0,758.4 L131.1,755.2 L134.8,755.0 L134.6,753.8ZM133.6,757.0L134.4,757.5M129.9,757.2L128.1,758.0M130.0,758.4L128.2,760.0M131.1,755.2L130.2,754.7M134.8,755.0L136.5,754.2M134.6,753.8L136.4,752.2M51.5,732.0 L52.8,735.7 L56.5,734.5 L55.2,732.3 L53.9,728.6 L50.2,729.8ZM51.5,732.0L50.0,731.9M52.8,735.7L52.5,738.2M56.5,734.5L58.8,736.3M55.2,732.3L56.7,732.4M53.9,728.6L54.2,726.1M50.2,729.8L47.9,728.0M163.2,684.5 L160.9,681.9 L156.8,681.3 L154.9,685.5 L157.2,688.1 L161.3,688.7ZM163.2,684.5L166.4,684.1M160.9,681.9L162.3,679.5M156.8,681.3L155.1,678.6M154.9,685.5L151.7,685.9M157.2,688.1L155.8,690.5M161.3,688.7L163.0,691.4M157.9,714.3 L156.2,717.1 L157.6,716.4 L161.2,717.7 L162.9,714.9 L161.5,715.6ZM157.9,714.3L156.6,713.2M156.2,717.1L153.7,717.8M157.6,716.4L156.1,716.8M161.2,717.7L162.4,718.8M162.9,714.9L165.4,714.1M161.5,715.6L163.0,715.2M116.8,797.0 L113.1,797.5 L110.9,793.7 L113.2,790.7 L116.9,790.2 L119.1,794.0ZM116.8,797.0L118.2,799.4M113.1,797.5L111.7,800.2M110.9,793.7L107.8,793.7M113.2,790.7L111.8,788.3M116.9,790.2L118.3,787.5M119.1,794.0L122.1,794.0M160.8,750.1 L160.7,753.8 L163.1,755.2 L166.4,754.2 L166.5,750.5 L164.1,749.1ZM160.8,750.1L158.7,748.6M160.7,753.8L158.5,754.9M163.1,755.2L162.7,757.5M166.4,754.2L168.5,755.7M166.5,750.5L168.7,749.3M164.1,749.1L164.5,746.8M112.3,661.3 L109.1,663.0 L106.9,666.0 L110.0,669.5 L113.3,667.9 L115.4,664.8ZM112.3,661.3L113.3,658.3M109.1,663.0L107.4,661.1M106.9,666.0L103.8,666.5M110.0,669.5L109.0,672.5M113.3,667.9L114.9,669.8M115.4,664.8L118.5,664.3M163.5,792.0 L161.8,795.1 L157.7,794.4 L157.1,791.1 L158.7,788.0 L162.9,788.6ZM163.5,792.0L166.0,792.3M161.8,795.1L163.0,797.8M157.7,794.4L155.8,796.6M157.1,791.1L154.6,790.7M158.7,788.0L157.6,785.3M162.9,788.6L164.8,786.5M76.3,715.6 L78.4,717.4 L82.0,714.8 L84.5,716.3 L82.3,714.5 L78.7,717.1ZM76.3,715.6L73.2,715.5M78.4,717.4L77.0,718.4M82.0,714.8L83.3,714.1M84.5,716.3L87.5,716.4M82.3,714.5L83.8,713.5M78.7,717.1L77.4,717.8M126.2,721.3 L123.8,718.3 L124.4,718.4 L122.2,721.6 L124.6,724.6 L124.1,724.5ZM126.2,721.3L127.6,721.1M123.8,718.3L123.7,715.9M124.4,718.4L124.3,716.1M122.2,721.6L120.8,721.7M124.6,724.6L124.7,726.9M124.1,724.5L124.1,726.7M196.3,771.7 L193.1,773.3 L191.1,770.4 L190.1,768.8 L193.3,767.2 L195.3,770.2ZM196.3,771.7L198.5,772.8M193.1,773.3L193.1,775.5M191.1,770.4L189.5,770.5M190.1,768.8L187.9,767.7M193.3,767.2L193.4,765.0M195.3,770.2L197.0,770.0M135.7,785.7 L131.6,785.9 L131.7,783.8 L131.9,779.7 L136.0,779.5 L135.9,781.6ZM135.7,785.7L137.0,787.8M131.6,785.9L130.0,788.4M131.7,783.8L130.0,784.6M131.9,779.7L130.6,777.6M136.0,779.5L137.6,777.0M135.9,781.6L137.6,780.8M162.8,712.2 L163.2,713.5 L165.2,716.7 L168.6,715.3 L168.2,714.1 L166.3,710.9ZM162.8,712.2L160.7,711.0M163.2,713.5L161.3,713.3M165.2,716.7L164.8,718.7M168.6,715.3L170.8,716.6M168.2,714.1L170.1,714.3M166.3,710.9L166.6,708.8M96.7,689.4 L94.6,693.6 L95.3,694.9 L99.8,696.1 L101.9,691.9 L101.2,690.6ZM96.7,689.4L95.5,687.0M94.6,693.6L91.8,694.1M95.3,694.9L93.1,696.6M99.8,696.1L100.9,698.5M101.9,691.9L104.7,691.4M101.2,690.6L103.4,688.9M132.0,684.9 L131.7,687.3 L128.2,685.1 L130.2,681.2 L130.5,678.9 L134.0,681.1ZM132.0,684.9L132.8,686.3M131.7,687.3L132.1,690.4M128.2,685.1L126.2,686.7M130.2,681.2L129.4,679.9M130.5,678.9L130.2,675.8M134.0,681.1L136.0,679.5M60.7,691.0 L61.3,694.6 L63.9,697.5 L60.7,699.3 L60.1,695.8 L57.5,692.8ZM60.7,691.0L60.6,688.0M61.3,694.6L61.9,694.1M63.9,697.5L66.2,699.4M60.7,699.3L60.9,702.4M60.1,695.8L59.5,696.3M57.5,692.8L55.2,691.0M149.7,751.6 L149.2,747.7 L149.2,745.5 L145.5,746.4 L146.0,750.2 L145.9,752.4ZM149.7,751.6L151.1,753.6M149.2,747.7L150.5,746.8M149.2,745.5L150.4,742.9M145.5,746.4L144.0,744.4M146.0,750.2L144.7,751.1M145.9,752.4L144.8,755.0M117.8,698.7 L114.8,695.2 L111.0,697.6 L112.2,698.9 L115.1,702.4 L119.0,700.0ZM117.8,698.7L119.9,698.6M114.8,695.2L114.6,692.7M111.0,697.6L108.0,696.5M112.2,698.9L110.0,699.1M115.1,702.4L115.3,705.0M119.0,700.0L121.9,701.1M153.8,736.3 L157.8,734.9 L157.5,737.1 L158.5,741.6 L154.5,742.9 L154.8,740.7ZM153.8,736.3L152.2,734.3M157.8,734.9L158.9,731.9M157.5,737.1L158.6,735.7M158.5,741.6L160.2,743.5M154.5,742.9L153.4,746.0M154.8,740.7L153.7,742.1M47.2,692.7 L48.0,696.0 L45.5,698.2 L42.4,697.3 L41.6,694.0 L44.1,691.8ZM47.2,692.7L49.0,691.0M48.0,696.0L50.3,696.7M45.5,698.2L46.1,700.6M42.4,697.3L40.6,699.0M41.6,694.0L39.2,693.2M44.1,691.8L43.5,689.4M173.1,765.0 L173.0,769.4 L174.7,771.4 L171.2,771.2 L171.3,766.8 L169.6,764.8ZM173.1,765.0L173.7,762.8M173.0,769.4L173.8,770.3M174.7,771.4L176.4,773.9M171.2,771.2L170.6,773.4M171.3,766.8L170.5,765.9M169.6,764.8L167.8,762.3M128.4,725.1 L125.2,726.0 L123.5,728.6 L122.1,726.3 L125.4,725.5 L127.0,722.8ZM128.4,725.1L130.7,724.5M125.2,726.0L125.1,726.3M123.5,728.6L122.1,730.7M122.1,726.3L119.8,726.9M125.4,725.5L125.4,725.2M127.0,722.8L128.4,720.7M66.5,746.2 L68.4,749.7 L71.4,750.0 L74.0,747.1 L72.1,743.7 L69.2,743.4ZM66.5,746.2L63.8,745.9M68.4,749.7L67.0,751.9M71.4,750.0L72.2,752.4M74.0,747.1L76.8,747.5M72.1,743.7L73.6,741.4M69.2,743.4L68.4,740.9M154.1,681.2 L158.1,679.3 L157.6,677.3 L157.8,680.7 L153.8,682.6 L154.4,684.7ZM154.1,681.2L152.8,681.5M158.1,679.3L159.6,678.0M157.6,677.3L158.9,674.6M157.8,680.7L159.1,680.5M153.8,682.6L152.4,684.0M154.4,684.7L153.0,687.3M186.8,798.2 L183.1,797.9 L181.3,799.5 L182.0,803.3 L185.7,803.5 L187.6,801.9ZM186.8,798.2L188.6,796.3M183.1,797.9L182.2,795.8M181.3,799.5L178.9,798.6M182.0,803.3L180.2,805.1M185.7,803.5L186.6,805.6M187.6,801.9L190.0,802.8M95.2,673.5 L97.5,671.0 L95.3,667.8 L95.5,666.7 L93.2,669.3 L95.5,672.4ZM95.2,673.5L95.2,676.1M97.5,671.0L99.0,671.6M95.3,667.8L95.4,666.1M95.5,666.7L95.5,664.2M93.2,669.3L91.8,668.6M95.5,672.4L95.4,674.1M88.2,767.6 L91.9,767.0 L94.4,769.9 L93.0,773.4 L89.3,774.1 L86.9,771.2ZM88.2,767.6L86.4,765.4M91.9,767.0L92.9,764.3M94.4,769.9L97.2,769.4M93.0,773.4L94.9,775.6M89.3,774.1L88.4,776.7M86.9,771.2L84.1,771.7M116.3,690.9 L117.0,688.2 L116.1,690.7 L111.9,690.7 L111.2,693.3 L112.1,690.9ZM116.3,690.9L117.9,690.8M117.0,688.2L119.3,686.5M116.1,690.7L117.6,690.5M111.9,690.7L110.3,690.8M111.2,693.3L108.9,695.1M112.1,690.9L110.6,691.1M138.6,763.5 L141.5,762.4 L138.8,763.2 L136.0,759.6 L133.1,760.7 L135.8,759.9ZM138.6,763.5L139.7,764.8M141.5,762.4L144.5,763.1M138.8,763.2L140.1,764.3M136.0,759.6L134.9,758.3M133.1,760.7L130.1,759.9M135.8,759.9L134.5,758.7M57.7,702.1 L61.3,699.1 L64.5,701.3 L62.8,700.3 L59.1,703.3 L55.9,701.1ZM57.7,702.1L55.7,702.6M61.3,699.1L62.2,697.7M64.5,701.3L67.7,701.2M62.8,700.3L64.7,699.8M59.1,703.3L58.3,704.7M55.9,701.1L52.8,701.2M171.4,740.1 L168.3,740.7 L165.6,738.8 L166.5,735.1 L169.5,734.6 L172.3,736.5ZM171.4,740.1L173.3,742.0M168.3,740.7L167.9,743.0M165.6,738.8L163.1,739.7M166.5,735.1L164.6,733.3M169.5,734.6L170.0,732.3M172.3,736.5L174.8,735.6M149.9,747.5 L148.6,749.9 L151.7,753.5 L155.7,751.4 L156.9,749.0 L153.8,745.4ZM149.9,747.5L147.6,745.9M148.6,749.9L145.6,750.4M151.7,753.5L150.9,756.5M155.7,751.4L157.9,753.0M156.9,749.0L160.0,748.5M153.8,745.4L154.7,742.4M174.7,757.7 L172.4,760.7 L174.5,763.7 L177.2,763.9 L179.5,760.9 L177.4,757.9ZM174.7,757.7L173.7,755.3M172.4,760.7L169.8,760.6M174.5,763.7L173.4,765.8M177.2,763.9L178.2,766.3M179.5,760.9L182.1,761.0M177.4,757.9L178.5,755.8M49.0,697.1 L45.9,698.6 L47.1,702.3 L49.7,701.8 L52.8,700.3 L51.6,696.5ZM49.0,697.1L48.6,695.2M45.9,698.6L43.3,698.0M47.1,702.3L45.3,704.4M49.7,701.8L50.0,703.7M52.8,700.3L55.4,700.9M51.6,696.5L53.3,694.4M57.7,663.8 L54.6,666.1 L55.1,669.6 L58.4,671.3 L61.5,669.0 L61.0,665.5ZM57.7,663.8L57.5,660.9M54.6,666.1L52.0,665.0M55.1,669.6L52.8,671.1M58.4,671.3L58.6,674.1M61.5,669.0L64.0,670.1M61.0,665.5L63.3,663.9M42.8,733.6 L45.0,734.9 L48.2,732.8 L47.0,729.4 L44.9,728.1 L41.6,730.2ZM42.8,733.6L41.2,735.2M45.0,734.9L45.1,737.5M48.2,732.8L50.6,733.8M47.0,729.4L48.7,727.8M44.9,728.1L44.8,725.5M41.6,730.2L39.2,729.2M127.5,767.0 L123.8,768.8 L125.7,772.5 L126.2,775.6 L129.9,773.8 L128.0,770.0ZM127.5,767.0L127.9,763.8M123.8,768.8L121.6,766.9M125.7,772.5L124.8,773.5M126.2,775.6L125.8,778.8M129.9,773.8L132.1,775.7M128.0,770.0L128.9,769.1M43.8,684.2 L42.0,687.4 L41.3,689.9 L45.0,691.4 L46.8,688.1 L47.5,685.6ZM43.8,684.2L43.4,681.5M42.0,687.4L40.2,687.1M41.3,689.9L39.0,691.6M45.0,691.4L45.4,694.0M46.8,688.1L48.6,688.5M47.5,685.6L49.8,684.0M91.9,732.6 L91.4,734.1 L95.4,736.6 L98.6,733.1 L99.0,731.7 L95.1,729.2ZM91.9,732.6L89.3,732.4M91.4,734.1L88.6,735.1M95.4,736.6L95.4,739.2M98.6,733.1L101.1,733.4M99.0,731.7L101.9,730.7M95.1,729.2L95.0,726.5M61.8,700.8 L63.0,703.3 L61.0,706.7 L57.3,705.8 L56.0,703.3 L58.1,699.9ZM61.8,700.8L63.4,698.9M63.0,703.3L65.7,703.4M61.0,706.7L62.1,709.2M57.3,705.8L55.6,707.6M56.0,703.3L53.4,703.2M58.1,699.9L57.0,697.4M122.4,707.2 L122.7,710.7 L118.8,712.4 L116.4,709.8 L116.1,706.3 L120.0,704.6ZM122.4,707.2L124.6,706.2M122.7,710.7L125.1,712.4M118.8,712.4L118.4,715.3M116.4,709.8L114.2,710.8M116.1,706.3L113.7,704.7M120.0,704.6L120.4,701.7M167.4,708.0 L166.2,709.9 L167.0,713.5 L170.8,713.5 L172.0,711.7 L171.2,708.1ZM167.4,708.0L166.2,705.9M166.2,709.9L163.9,709.2M167.0,713.5L165.5,715.4M170.8,713.5L172.0,715.6M172.0,711.7L174.2,712.3M171.2,708.1L172.7,706.1M149.5,747.3 L145.4,748.2 L142.9,750.0 L141.9,746.1 L146.1,745.3 L148.6,743.5ZM149.5,747.3L152.3,747.7M145.4,748.2L145.1,749.4M142.9,750.0L140.7,752.3M141.9,746.1L139.2,745.8M146.1,745.3L146.3,744.1M148.6,743.5L150.8,741.2M140.3,762.5 L140.5,759.2 L141.8,755.4 L146.4,756.2 L146.2,759.6 L144.9,763.4ZM140.3,762.5L138.1,764.9M140.5,759.2L138.2,759.0M141.8,755.4L140.7,752.4M146.4,756.2L148.6,753.8M146.2,759.6L148.4,759.8M144.9,763.4L146.0,766.4M164.3,777.3 L163.6,774.3 L159.6,775.7 L160.8,779.4 L161.5,782.4 L165.5,781.1ZM164.3,777.3L165.7,776.5M163.6,774.3L164.3,771.3M159.6,775.7L157.5,773.7M160.8,779.4L159.4,780.2M161.5,782.4L160.8,785.5M165.5,781.1L167.6,783.1M174.3,655.3 L177.7,657.3 L177.7,661.3 L174.3,663.3 L170.9,661.3 L170.8,657.3ZM174.3,655.3L174.3,652.4M177.7,657.3L180.3,655.8M177.7,661.3L180.3,662.7M174.3,663.3L174.3,666.2M170.9,661.3L168.3,662.7M170.8,657.3L168.3,655.9M69.4,695.6 L70.9,692.6 L69.8,689.8 L66.2,689.5 L64.7,692.5 L65.8,695.3ZM69.4,695.6L70.6,697.8M70.9,692.6L73.3,692.7M69.8,689.8L71.2,687.8M66.2,689.5L65.0,687.3M64.7,692.5L62.4,692.4M65.8,695.3L64.4,697.3M95.8,784.9 L93.1,788.3 L95.0,792.1 L98.9,792.6 L101.6,789.2 L99.7,785.4ZM95.8,784.9L94.6,782.1M93.1,788.3L90.0,788.0M95.0,792.1L93.2,794.6M98.9,792.6L100.1,795.4M101.6,789.2L104.7,789.6M99.7,785.4L101.5,782.9M147.7,740.3 L144.8,738.6 L141.9,740.4 L142.0,743.7 L144.9,745.4 L147.8,743.6ZM147.7,740.3L149.9,739.0M144.8,738.6L144.8,736.1M141.9,740.4L139.7,739.1M142.0,743.7L139.8,745.0M144.9,745.4L144.9,747.9M147.8,743.6L150.0,744.9M59.1,770.4 L55.9,769.6 L55.2,766.2 L57.6,764.1 L60.8,764.9 L61.5,768.3ZM59.1,770.4L59.7,772.8M55.9,769.6L54.0,771.4M55.2,766.2L52.8,765.4M57.6,764.1L57.0,761.8M60.8,764.9L62.7,763.1M61.5,768.3L63.9,769.1M71.2,750.6 L73.5,749.9 L76.8,752.8 L79.4,750.7 L77.1,751.4 L73.7,748.5ZM71.2,750.6L68.2,750.4M73.5,749.9L72.1,749.5M76.8,752.8L78.0,754.3M79.4,750.7L82.4,750.9M77.1,751.4L78.5,751.9M73.7,748.5L72.5,747.1M46.2,695.4 L49.2,693.0 L52.8,695.8 L54.4,695.1 L51.4,697.5 L47.8,694.7ZM46.2,695.4L43.2,695.4M49.2,693.0L48.3,691.5M52.8,695.8L54.7,696.0M54.4,695.1L57.5,695.2M51.4,697.5L52.3,699.0M47.8,694.7L45.9,694.5M90.3,672.4 L88.3,672.2 L89.9,669.3 L93.1,670.8 L95.1,671.0 L93.4,673.9ZM90.3,672.4L89.2,673.1M88.3,672.2L85.8,672.5M89.9,669.3L88.6,667.7M93.1,670.8L94.2,670.1M95.1,671.0L97.6,670.7M93.4,673.9L94.8,675.5M154.9,698.2 L155.3,696.2 L152.2,692.7 L148.2,695.1 L147.7,697.1 L150.9,700.6ZM154.9,698.2L157.4,699.5M155.3,696.2L158.2,695.7M152.2,692.7L152.7,689.9M148.2,695.1L145.7,693.8M147.7,697.1L144.9,697.6M150.9,700.6L150.4,703.4M157.6,675.5 L157.7,680.0 L162.0,680.7 L161.8,679.6 L161.7,675.1 L157.4,674.4ZM157.6,675.5L155.8,674.0M157.7,680.0L156.3,681.8M162.0,680.7L163.6,683.2M161.8,679.6L163.6,681.1M161.7,675.1L163.1,673.3M157.4,674.4L155.8,672.0M69.3,785.7 L71.4,786.8 L74.8,787.0 L75.7,783.3 L73.7,782.1 L70.2,782.0ZM69.3,785.7L66.9,786.5M71.4,786.8L70.5,788.7M74.8,787.0L76.6,788.8M75.7,783.3L78.2,782.5M73.7,782.1L74.5,780.3M70.2,782.0L68.5,780.2M124.0,799.8 L124.7,803.7 L121.1,804.6 L118.4,805.2 L117.6,801.3 L121.2,800.4ZM124.0,799.8L126.1,797.8M124.7,803.7L127.3,804.6M121.1,804.6L121.1,806.3M118.4,805.2L116.2,807.2M117.6,801.3L115.0,800.4M121.2,800.4L121.2,798.7M56.1,808.5 L56.3,811.9 L58.5,814.4 L55.7,815.4 L55.5,812.0 L53.3,809.6ZM56.1,808.5L56.1,806.0M56.3,811.9L56.8,811.8M58.5,814.4L60.4,816.2M55.7,815.4L55.7,818.0M55.5,812.0L55.0,812.1M53.3,809.6L51.4,807.7M113.3,733.6 L109.6,732.3 L110.7,731.9 L110.9,736.0 L114.7,737.3 L113.6,737.7ZM113.3,733.6L114.1,732.7M109.6,732.3L107.8,730.4M110.7,731.9L109.5,729.8M110.9,736.0L110.1,736.9M114.7,737.3L116.5,739.2M113.6,737.7L114.7,739.8M47.6,808.9 L48.4,805.2 L47.3,801.9 L42.7,802.0 L41.9,805.8 L43.0,809.1ZM47.6,808.9L49.3,811.5M48.4,805.2L50.9,804.9M47.3,801.9L48.8,799.1M42.7,802.0L41.0,799.5M41.9,805.8L39.4,806.0M43.0,809.1L41.5,811.8M78.8,688.0 L75.1,690.4 L76.0,694.5 L79.1,696.0 L82.8,693.7 L81.9,689.6ZM78.8,688.0L78.7,685.0M75.1,690.4L72.3,689.1M76.0,694.5L73.8,696.3M79.1,696.0L79.2,699.0M82.8,693.7L85.6,694.9M81.9,689.6L84.1,687.8M162.9,802.6 L164.0,806.5 L162.0,809.3 L157.8,808.9 L156.7,805.0 L158.7,802.3ZM162.9,802.6L164.8,800.3M164.0,806.5L166.7,807.1M162.0,809.3L163.2,811.9M157.8,808.9L155.9,811.2M156.7,805.0L154.0,804.4M158.7,802.3L157.5,799.6M111.8,751.2 L108.0,752.2 L105.0,750.0 L105.6,745.8 L109.4,744.9 L112.4,747.0ZM111.8,751.2L114.1,753.2M108.0,752.2L107.4,754.9M105.0,750.0L102.2,751.2M105.6,745.8L103.3,743.8M109.4,744.9L110.0,742.1M112.4,747.0L115.2,745.9M159.4,747.6 L163.4,747.2 L164.7,743.0 L162.0,740.5 L158.0,740.8 L156.7,745.1ZM159.4,747.6L158.5,750.3M163.4,747.2L165.5,749.6M164.7,743.0L167.7,742.3M162.0,740.5L163.0,737.8M158.0,740.8L156.0,738.5M156.7,745.1L153.8,745.8M143.3,771.9 L143.9,768.3 L140.5,767.2 L140.4,768.6 L139.8,772.2 L143.2,773.3ZM143.3,771.9L144.5,773.2M143.9,768.3L145.4,766.8M140.5,767.2L139.6,764.8M140.4,768.6L139.2,767.3M139.8,772.2L138.3,773.7M143.2,773.3L144.1,775.7M62.0,792.0 L65.0,793.2 L65.8,797.6 L68.6,797.1 L65.7,795.8 L64.8,791.5ZM62.0,792.0L59.7,790.0M65.0,793.2L64.6,792.3M65.8,797.6L66.3,799.8M68.6,797.1L71.0,799.1M65.7,795.8L66.1,796.7M64.8,791.5L64.3,789.3M42.7,811.1 L41.7,807.8 L44.3,805.3 L43.0,804.8 L44.0,808.1 L41.4,810.5ZM42.7,811.1L42.4,813.4M41.7,807.8L40.9,807.7M44.3,805.3L45.3,803.4M43.0,804.8L43.3,802.4M44.0,808.1L44.8,808.1M41.4,810.5L40.4,812.5M143.9,687.8 L143.0,692.1 L138.8,692.4 L139.4,692.4 L140.3,688.0 L144.5,687.7ZM143.9,687.8L145.6,686.1M143.0,692.1L143.8,693.5M138.8,692.4L136.7,694.3M139.4,692.4L137.7,694.0M140.3,688.0L139.5,686.6M144.5,687.7L146.6,685.9M92.8,724.0 L96.8,726.1 L96.6,730.1 L93.5,732.5 L89.5,730.4 L89.7,726.4ZM92.8,724.0L92.6,720.8M96.8,726.1L99.6,724.4M96.6,730.1L99.2,731.4M93.5,732.5L93.7,735.7M89.5,730.4L86.8,732.1M89.7,726.4L87.1,725.1M174.3,704.9 L172.4,707.3 L168.2,708.3 L166.0,704.2 L167.9,701.8 L172.1,700.8ZM174.3,704.9L177.4,705.1M172.4,707.3L174.0,709.4M168.2,708.3L166.7,711.0M166.0,704.2L162.9,704.0M167.9,701.8L166.2,699.7M172.1,700.8L173.6,698.0M59.4,798.4 L56.2,800.2 L54.1,801.1 L52.6,797.5 L55.7,795.7 L57.8,794.8ZM59.4,798.4L61.9,798.6M56.2,800.2L56.5,802.0M54.1,801.1L52.6,803.3M52.6,797.5L50.1,797.3M55.7,795.7L55.4,793.9M57.8,794.8L59.3,792.5M64.9,786.3 L61.9,786.5 L58.0,787.2 L57.1,783.0 L60.2,782.9 L64.1,782.1ZM64.9,786.3L67.9,787.4M61.9,786.5L62.5,788.0M58.0,787.2L55.6,789.0M57.1,783.0L54.2,781.9M60.2,782.9L59.5,781.4M64.1,782.1L66.4,780.4M124.9,735.3 L127.6,735.8 L129.7,739.6 L126.5,742.6 L123.8,742.1 L121.7,738.3ZM124.9,735.3L124.2,732.6M127.6,735.8L129.1,733.4M129.7,739.6L132.6,740.1M126.5,742.6L127.2,745.3M123.8,742.1L122.3,744.5M121.7,738.3L118.8,737.8M184.7,702.8 L186.2,703.3 L185.5,699.4 L181.2,699.3 L179.8,698.9 L180.4,702.8ZM184.7,702.8L186.0,704.3M186.2,703.3L188.6,704.9M185.5,699.4L187.4,698.2M181.2,699.3L180.0,697.9M179.8,698.9L177.4,697.3M180.4,702.8L178.6,704.0M87.1,671.8 L86.9,672.5 L84.6,676.1 L80.7,674.6 L80.9,673.9 L83.2,670.3ZM87.1,671.8L89.5,670.7M86.9,672.5L89.2,672.1M84.6,676.1L85.1,678.1M80.7,674.6L78.3,675.8M80.9,673.9L78.6,674.3M83.2,670.3L82.7,668.3M157.3,777.0 L157.1,778.2 L159.7,775.4 L157.3,771.9 L157.5,770.7 L154.9,773.5ZM157.3,777.0L157.2,778.9M157.1,778.2L157.1,780.9M159.7,775.4L161.3,776.1M157.3,771.9L157.4,770.0M157.5,770.7L157.5,768.0M154.9,773.5L153.3,772.8M129.3,724.8 L132.3,726.8 L135.3,728.0 L133.3,731.5 L130.3,729.5 L127.3,728.3ZM129.3,724.8L127.7,722.4M132.3,726.8L133.0,725.7M135.3,728.0L138.3,728.1M133.3,731.5L134.9,733.9M130.3,729.5L129.6,730.6M127.3,728.3L124.3,728.3M176.0,722.3 L175.4,723.8 L171.0,724.1 L169.9,719.9 L170.5,718.4 L174.8,718.1ZM176.0,722.3L178.3,723.1M175.4,723.8L177.1,725.9M171.0,724.1L169.7,726.3M169.9,719.9L167.5,719.1M170.5,718.4L168.7,716.3M174.8,718.1L176.2,716.0M143.1,799.2 L140.8,803.2 L143.8,806.4 L147.0,806.4 L149.3,802.4 L146.2,799.2ZM143.1,799.2L141.5,796.6M140.8,803.2L137.7,803.5M143.8,806.4L142.9,809.0M147.0,806.4L148.5,809.0M149.3,802.4L152.4,802.1M146.2,799.2L147.2,796.6M117.3,688.2 L114.8,685.5 L114.2,682.5 L117.9,680.4 L120.5,683.1 L121.1,686.1ZM117.3,688.2L117.2,691.1M114.8,685.5L112.6,686.5M114.2,682.5L111.7,681.1M117.9,680.4L118.1,677.5M120.5,683.1L122.7,682.1M121.1,686.1L123.6,687.5M160.8,739.3 L156.8,740.1 L156.6,742.1 L158.1,745.8 L162.1,744.9 L162.3,742.9ZM160.8,739.3L161.7,737.0M156.8,740.1L154.9,738.3M156.6,742.1L154.4,741.9M158.1,745.8L157.2,748.1M162.1,744.9L164.0,746.8M162.3,742.9L164.5,743.2M135.1,714.2 L138.1,712.3 L138.8,709.4 L135.8,706.9 L132.8,708.8 L132.1,711.7ZM135.1,714.2L134.8,716.8M138.1,712.3L140.1,713.6M138.8,709.4L141.3,708.5M135.8,706.9L136.1,704.3M132.8,708.8L130.8,707.5M132.1,711.7L129.6,712.6M126.1,731.6 L128.1,732.1 L124.3,732.2 L123.1,727.7 L121.1,727.2 L124.9,727.1ZM126.1,731.6L127.4,732.9M128.1,732.1L130.6,734.0M124.3,732.2L124.3,734.1M123.1,727.7L121.8,726.3M121.1,727.2L118.6,725.2M124.9,727.1L124.9,725.2M50.5,703.7 L54.4,702.6 L54.2,699.3 L52.7,696.5 L48.7,697.6 L48.9,700.8ZM50.5,703.7L49.7,706.4M54.4,702.6L56.5,704.5M54.2,699.3L56.3,698.7M52.7,696.5L53.5,693.8M48.7,697.6L46.7,695.7M48.9,700.8L46.8,701.4"/></g>
<g fill="none" stroke-width="1.1" stroke-linecap="round" stroke-linejoin="round" filter="url(#soft)"><path stroke="#8ccdee" d="M153.8 759.6L156.0 761.1 155.1 763.6M71.7 728.7L69.0 728.6 68.4 726.1M122.6 789.3L121.4 791.8 118.7 791.2M166.7 796.0L168.0 793.6 170.6 794.2M128.5 724.5L127.2 727.2 124.2 726.6M88.5 718.1L88.4 721.1 85.4 721.7M177.8 732.2L179.9 734.8 177.9 737.4M129.2 806.8L132.2 806.0 133.7 808.8M119.1 770.5L117.8 772.6 115.4 771.8M154.6 762.9L152.4 765.1 149.8 763.5M133.2 688.6L132.7 686.0 135.0 684.9M74.1 726.4L76.5 728.4 75.2 731.3M99.5 753.7L100.6 756.1 98.6 757.7M130.7 768.8L133.2 766.7 135.9 768.6M145.2 739.3L147.6 737.2 150.2 739.0M135.6 774.4L133.8 772.0 135.8 769.7M158.1 696.4L155.7 696.2 155.3 693.8M108.3 806.0L111.3 806.3 111.7 809.3M161.3 699.6L162.4 701.6 160.7 703.2M101.5 743.8L103.3 745.2 102.4 747.3M75.1 682.8L78.3 682.9 79.0 686.1M73.6 741.4L73.8 744.3 71.0 745.2M85.7 735.6L82.9 734.0 83.8 730.9M136.1 768.3L138.3 769.5 137.7 771.9M169.1 691.6L167.3 693.7 164.9 692.4M143.7 750.0L145.9 747.8 148.5 749.4M134.7 692.4L136.1 690.1 138.6 690.9M156.2 688.8L157.8 686.1 160.8 687.0M84.5 700.7L82.2 701.4 81.0 699.4M97.2 792.9L98.3 795.5 96.1 797.2M67.1 751.1L64.1 751.6 62.8 748.8M115.1 715.8L117.7 715.1 119.1 717.5M131.9 695.0L129.6 695.4 128.7 693.3M103.9 763.9L105.8 766.5 103.8 769.0M105.1 691.6L103.9 689.8 105.3 688.1M151.2 718.6L152.6 720.7 150.9 722.6M91.8 748.9L94.1 747.5 96.2 749.4M110.4 739.0L110.9 736.7 113.3 736.6M97.3 729.7L100.1 729.4 101.1 732.0M157.1 758.1L160.1 759.1 159.8 762.2M56.2 724.4L58.5 722.0 61.3 723.7M68.5 764.2L69.4 761.5 72.2 761.8M65.3 661.5L64.5 659.0 66.7 657.7M145.5 690.6L143.9 688.7 145.4 686.6M133.7 692.0L131.5 693.2 129.9 691.4M177.6 745.9L176.1 743.2 178.3 741.2M128.8 763.1L126.7 764.4 125.0 762.7M161.4 675.7L159.7 674.0 160.9 671.8M146.5 714.2L146.6 712.0 148.9 711.5M100.4 746.8L102.9 744.9 105.3 746.9M139.6 709.4L141.8 711.2 140.5 713.8M125.3 754.8L122.8 753.9 123.1 751.2M130.8 726.3L133.3 725.3 134.9 727.5M160.9 797.7L159.5 795.4 161.4 793.5M172.0 684.7L174.4 685.5 174.3 688.1"/><path stroke="#6eb6dc" d="M149.8 750.3L150.7 753.0 148.4 754.6M186.0 681.5L186.0 684.1 183.5 684.7M90.8 792.3L87.7 791.4 87.8 788.1M88.2 784.3L86.6 786.2 84.4 785.2M77.8 746.6L75.3 747.1 74.2 744.8M154.2 768.3L152.6 770.8 149.8 770.0M123.1 701.6L121.6 699.7 123.0 697.8M97.5 744.0L95.3 745.6 93.2 743.8M96.6 733.9L99.6 734.8 99.5 737.8M84.8 755.8L85.0 758.9 82.1 759.8M153.9 667.6L150.9 667.5 150.3 664.5M71.3 806.8L73.8 808.8 72.5 811.8M50.5 727.1L53.0 727.2 53.5 729.8"/><path stroke="#a8dcf4" d="M157.5 787.6L155.1 786.9 155.1 784.5M133.4 714.7L132.7 711.6 135.6 710.1M139.5 775.6L140.4 778.6 137.7 780.2M149.4 773.6L151.8 771.6 154.3 773.4M69.2 712.6L69.8 709.7 72.7 709.5M128.3 682.0L130.3 679.7 133.1 681.1M78.5 694.6L78.5 697.1 76.0 697.7M149.6 673.9L147.2 672.1 148.3 669.3M167.1 752.3L169.5 751.4 170.9 753.5M153.8 732.4L152.0 730.5 153.4 728.4M195.0 673.0L192.9 674.3 191.2 672.6M134.6 762.8L132.7 761.0 134.0 758.7M79.5 754.3L77.2 754.5 76.5 752.4M158.3 772.2L155.4 772.7 154.1 770.0M187.2 767.5L189.7 766.4 191.4 768.6M100.8 784.1L102.8 785.8 101.6 788.2M107.0 674.1L106.2 676.4 103.8 676.1M145.8 734.5L149.0 733.8 150.5 736.8M60.7 689.6L61.3 686.8 64.2 686.8M117.2 698.6L114.5 697.2 115.3 694.2M173.2 758.3L171.9 760.6 169.3 760.0M153.3 754.1L151.5 751.5 153.6 749.1M117.6 779.9L114.5 778.7 114.8 775.5M82.8 778.2L85.6 778.2 86.2 780.9M149.6 705.2L152.2 706.7 151.3 709.6M122.2 678.4L123.5 681.4 121.0 683.3M85.6 728.2L85.1 730.4 82.9 730.4M138.5 759.1L139.9 757.2 142.0 758.0M125.0 684.6L122.9 687.0 120.0 685.6M129.7 707.0L127.4 708.2 125.7 706.3M159.4 768.5L156.7 767.2 157.3 764.2"/><path stroke="#4a7896" d="M115.9 713.1L118.7 714.6 117.9 717.7"/><path stroke="#6eb6dc" d="M149.8 669.2L148.9 672.4 145.6 672.3M78.7 760.4L76.7 758.6 77.9 756.2M48.4 786.9L51.6 787.2 52.1 790.4M179.6 760.3L180.8 757.3 184.0 757.8M86.7 774.1L87.5 771.8 90.0 772.0M76.2 778.2L75.0 776.2 76.7 774.6M145.7 786.7L143.9 788.2 142.1 786.9M178.8 810.0L176.0 810.1 175.2 807.4M165.8 770.2L167.4 768.4 169.5 769.6M53.1 687.6L52.4 684.5 55.3 683.1M70.1 666.7L72.1 668.3 71.0 670.7M66.2 683.0L64.2 684.4 62.3 682.8M146.0 772.8L147.5 774.9 145.9 776.9"/><path stroke="#4a7896" d="M134.1 803.1L136.3 803.6 136.3 805.9"/><path stroke="#a8dcf4" d="M61.7 687.8L58.9 687.8 58.3 685.2M80.9 802.4L80.9 799.3 83.9 798.6M171.0 787.3L169.2 785.1 170.9 782.8M150.7 660.4L147.8 661.8 145.7 659.3M55.0 756.0L56.0 753.4 58.8 753.7M51.6 674.0L53.2 675.7 52.0 677.6M141.2 798.0L138.9 799.8 136.5 798.0M111.5 786.9L113.8 785.1 116.1 786.8M123.7 716.5L123.8 713.4 126.8 712.7M112.7 739.2L114.3 736.9 116.9 737.9M56.5 769.7L53.7 770.5 52.2 768.0M142.6 772.8L142.5 770.3 144.8 769.6M158.2 797.4L155.8 795.7 156.9 792.9M151.3 698.7L153.8 700.8 152.4 703.7M90.9 701.6L92.1 704.3 89.8 706.1M115.8 786.6L113.1 784.8 114.2 781.8M120.8 694.0L119.1 692.2 120.5 690.0M157.1 754.9L154.7 754.5 154.4 751.9M174.4 721.3L173.8 718.7 176.2 717.6M95.1 686.0L96.3 683.1 99.4 683.6M168.4 672.1L169.9 674.9 167.6 677.0M80.7 698.7L83.8 698.7 84.5 701.7M104.3 683.5L101.7 682.8 101.7 680.1M59.6 701.3L57.2 699.2 58.7 696.4M67.7 753.6L66.9 756.7 63.7 756.7M171.2 779.9L172.3 782.8 169.7 784.5M165.8 688.1L163.5 687.1 164.0 684.6M119.0 735.8L120.5 737.9 118.7 739.9M130.8 731.9L132.6 733.6 131.4 735.8M155.0 679.3L152.9 681.5 150.4 680.0M133.6 707.7L135.3 705.1 138.2 706.1"/><path stroke="#8ccdee" d="M98.5 704.8L98.9 701.6 102.0 701.3M74.5 752.7L76.7 752.2 77.8 754.2M82.1 782.6L81.8 779.5 84.8 778.5M141.4 732.5L143.4 734.2 142.2 736.6M136.0 784.6L138.5 786.1 137.7 788.8M59.1 676.3L56.7 677.6 54.9 675.6M158.5 756.6L159.8 754.4 162.2 755.1M196.4 730.7L194.6 733.2 191.7 732.1M76.6 739.4L74.8 740.9 72.9 739.5M109.3 739.9L106.6 741.1 104.8 738.8M138.8 685.5L136.5 686.2 135.2 684.1M67.1 724.2L66.1 721.9 68.1 720.3M74.7 710.7L75.8 707.7 79.0 708.0M130.8 750.6L133.3 750.8 133.8 753.2M131.8 808.5L134.3 806.9 136.5 809.0M83.1 815.7L83.1 812.7 86.0 811.9M166.4 753.2L163.8 751.5 164.8 748.6M184.4 702.7L186.5 703.4 186.3 705.7M125.4 699.3L128.3 700.5 127.8 703.6M49.5 755.4L48.8 758.4 45.7 758.4M112.5 748.9L114.0 746.9 116.2 747.9M118.2 793.6L117.5 791.1 119.8 789.9M61.8 739.5L64.7 740.5 64.3 743.5M170.5 810.0L168.6 807.5 170.5 805.0M151.3 728.6L153.5 729.6 153.0 731.9M89.4 669.7L87.9 668.1 89.2 666.2M156.6 722.0L155.2 719.2 157.5 717.2M109.2 672.6L106.6 671.7 106.9 668.9M156.5 691.2L153.6 690.5 153.6 687.5M139.2 699.6L141.8 698.7 143.3 701.0M123.2 774.3L120.4 776.1 118.0 773.8M125.0 745.7L127.2 744.2 129.2 746.0M159.1 694.5L161.5 693.1 163.4 695.0M65.5 694.8L67.6 692.3 70.4 693.7M110.8 792.9L113.6 792.2 115.0 794.7M98.9 751.2L100.7 749.0 103.3 750.2M126.0 729.2L123.7 731.1 121.3 729.3M74.3 761.7L72.4 764.4 69.4 763.2M110.9 805.8L108.0 804.3 108.8 801.1M190.7 772.8L189.8 775.3 187.2 775.1M143.3 722.6L145.1 721.0 147.1 722.3M162.7 711.7L161.0 709.5 162.7 707.2M121.3 740.9L118.5 740.7 118.0 737.9M61.2 803.1L62.9 801.6 64.8 803.0M65.5 774.7L64.4 777.4 61.5 776.9M177.1 725.1L177.4 728.0 174.7 728.9M113.0 725.4L114.9 722.7 118.0 723.8M151.9 807.6L153.8 809.2 152.7 811.4M140.8 663.3L139.9 660.4 142.4 658.8M134.0 733.7L132.8 736.0 130.3 735.3M91.1 704.2L90.7 701.1 93.6 700.0M133.3 666.7L135.0 664.8 137.2 666.1M165.8 730.4L168.2 729.8 169.3 732.0M86.9 684.0L84.1 683.3 84.0 680.4"/><path stroke="#6eb6dc" d="M49.9 751.6L52.0 753.5 50.6 755.9M78.6 689.4L79.2 692.2 76.7 693.4M117.2 684.5L119.5 685.9 118.7 688.5M120.4 750.3L118.3 749.2 118.8 747.0M104.6 702.4L105.5 704.9 103.4 706.4M69.8 762.0L70.4 759.6 72.8 759.5M91.2 728.7L90.1 726.5 92.0 724.9M166.5 684.6L164.1 686.5 161.6 684.7M65.7 684.9L68.0 685.1 68.4 687.5M133.2 731.7L134.0 733.8 132.1 735.1M87.8 682.3L89.2 685.1 86.8 687.2M171.3 692.1L171.0 694.6 168.5 694.8M173.2 702.2L172.6 700.0 174.6 698.8"/><path stroke="#6eb6dc" d="M105.4 783.1L103.0 785.3 100.4 783.5M146.3 754.6L148.9 755.3 148.8 758.0M155.7 761.8L158.5 760.2 160.7 762.5M69.4 710.1L72.1 710.5 72.4 713.2M114.4 756.2L114.1 753.0 117.2 752.0M163.7 728.0L160.9 726.7 161.5 723.6M187.1 723.9L189.4 725.0 188.8 727.5M151.2 803.0L154.0 801.4 156.3 803.7M81.5 785.4L83.9 786.8 83.1 789.4M120.2 747.5L117.0 747.9 115.8 744.9M138.6 671.0L140.8 671.5 140.9 673.8M162.4 710.7L164.3 712.6 162.9 715.0M119.3 694.3L117.0 693.8 117.0 691.5"/><path stroke="#a8dcf4" d="M106.7 678.2L109.1 679.5 108.3 682.2M90.0 724.7L87.9 726.2 85.9 724.5M105.0 767.6L104.0 764.8 106.4 763.2M110.8 707.2L107.7 706.2 108.1 703.0M166.3 680.5L168.0 682.5 166.4 684.7M118.6 746.7L119.7 744.7 121.9 745.3M94.7 664.8L93.7 667.4 90.9 667.1M157.5 716.9L158.9 719.7 156.5 721.7M164.3 698.6L164.2 700.9 161.9 701.3M136.3 786.1L138.1 787.5 137.1 789.5M137.5 777.8L135.7 775.8 137.2 773.6M104.0 779.1L100.7 778.7 100.3 775.4M89.9 739.6L92.4 738.2 94.3 740.2M116.9 738.3L114.4 739.0 113.1 736.8M153.8 714.0L152.8 716.7 150.0 716.3M78.4 667.6L77.1 670.1 74.4 669.4M100.5 707.8L100.5 710.5 97.9 711.2M77.6 776.4L74.9 777.4 73.2 775.0M153.7 700.2L156.6 700.7 156.9 703.7M165.8 703.5L163.5 705.5 161.0 703.8M130.6 692.9L130.8 696.2 127.7 697.2M71.7 708.4L70.2 710.4 67.9 709.4M125.2 749.4L127.4 748.1 129.2 749.8M100.2 758.2L100.6 755.4 103.4 755.1M115.8 736.1L114.9 733.6 117.1 732.3M141.1 683.6L138.6 685.2 136.5 683.1M97.5 703.2L95.0 701.9 95.8 699.1M95.1 737.0L93.0 734.5 94.9 731.9M185.5 703.3L182.8 702.1 183.4 699.2M146.3 690.8L149.1 691.2 149.3 694.0"/><path stroke="#a8dcf4" d="M120.4 768.2L122.2 769.7 121.1 771.8M159.9 695.9L160.1 698.7 157.5 699.6M91.4 781.2L94.0 781.8 93.9 784.4M137.0 811.2L135.1 808.7 137.0 806.2M137.9 764.2L136.8 766.7 134.1 766.1M69.3 719.4L69.6 722.3 66.9 723.3M94.6 712.1L92.2 711.9 91.8 709.5M77.5 670.4L78.5 673.5 75.8 675.1M77.3 737.2L77.3 733.9 80.5 733.1M142.1 754.1L142.3 756.9 139.6 757.8M111.7 747.3L113.8 746.5 115.1 748.4M69.2 718.1L71.2 720.1 69.8 722.6M157.5 719.0L158.5 716.2 161.4 716.6M63.6 776.5L64.0 774.3 66.2 774.2M131.1 796.6L131.9 794.4 134.2 794.7M148.7 681.7L147.3 683.7 145.0 682.8M77.3 717.8L78.2 720.0 76.1 721.4M74.6 753.9L77.0 756.0 75.6 758.8M83.3 695.4L81.8 692.7 84.0 690.7M168.5 713.3L169.6 715.6 167.6 717.2M66.2 670.6L68.7 672.2 67.8 675.0M106.8 769.6L105.1 771.3 103.0 770.1M74.8 780.3L73.8 777.9 75.8 776.2M147.4 724.6L144.5 723.4 145.0 720.2M168.4 707.2L169.0 704.6 171.7 704.6M136.9 743.6L139.2 744.9 138.6 747.5M78.6 740.3L77.6 738.0 79.6 736.5M130.4 739.8L133.3 741.0 132.9 744.1M161.1 688.1L158.5 688.8 157.2 686.4M176.9 751.7L178.8 753.2 177.7 755.4M99.9 796.1L98.2 794.1 99.8 792.0"/><path stroke="#a8dcf4" d="M68.3 690.7L71.3 691.0 71.8 694.0M153.8 717.7L152.2 716.1 153.3 714.2M75.8 771.3L78.7 769.9 80.7 772.3M90.7 743.6L88.4 743.9 87.6 741.7M159.4 679.5L157.0 680.1 155.9 677.9M154.5 727.3L152.2 729.3 149.7 727.5M89.6 748.3L87.7 746.5 89.0 744.2M110.2 737.7L107.9 737.0 108.0 734.6M106.6 762.3L108.7 760.8 110.7 762.5M86.6 768.0L84.5 768.9 83.1 767.1M146.8 728.2L143.7 728.9 142.3 726.1M137.7 763.8L139.5 766.3 137.5 768.6M101.6 729.0L98.7 729.8 97.2 727.2M146.8 721.2L145.2 722.7 143.4 721.5M168.3 766.5L168.2 763.7 170.8 762.9M63.2 734.0L61.0 735.7 58.7 734.0M125.0 762.5L122.5 762.8 121.6 760.5M109.9 732.7L112.1 732.5 112.9 734.6M127.7 691.4L125.2 691.2 124.9 688.7M128.2 689.8L127.0 687.8 128.7 686.2M152.6 741.4L153.9 738.7 156.9 739.3M125.6 785.6L128.6 785.5 129.4 788.4M47.8 770.5L50.2 771.5 49.8 774.1M91.0 739.8L89.0 739.0 89.3 736.8M140.5 714.7L138.5 713.1 139.5 710.8M66.4 667.2L64.1 669.4 61.4 667.8M85.3 683.9L85.0 681.7 87.1 680.8M81.3 773.9L80.2 771.0 82.7 769.2M74.0 713.0L77.1 712.1 78.7 714.9M105.8 691.6L108.4 689.8 110.8 691.8M160.2 795.0L162.6 793.3 164.8 795.2"/><path stroke="#6eb6dc" d="M180.8 705.1L180.8 708.4 177.7 709.1M146.3 717.7L144.8 719.6 142.6 718.6M103.6 795.8L104.4 793.5 106.8 793.7M97.8 753.2L94.9 752.4 95.0 749.4M160.7 737.7L161.1 740.7 158.3 741.7M116.8 700.5L114.5 701.0 113.4 698.8M94.6 799.8L95.6 797.3 98.4 797.6M153.0 762.1L154.1 759.2 157.3 759.5M114.7 715.7L111.5 714.9 111.5 711.6M136.0 732.2L133.8 732.6 133.0 730.5M40.8 732.0L42.4 730.0 44.7 731.1M178.2 728.0L176.2 730.6 173.2 729.3M150.0 728.4L148.9 726.3 150.6 724.6"/><path stroke="#a8dcf4" d="M155.7 703.5L158.6 704.5 158.5 707.5M131.0 747.7L133.1 749.4 132.0 752.0M129.9 786.4L129.9 783.4 132.9 782.8M119.1 736.2L117.4 734.7 118.5 732.7M107.8 774.1L106.1 776.9 103.0 775.8M176.9 718.5L174.9 720.6 172.4 719.1M59.1 799.6L61.0 798.2 62.9 799.7M136.1 736.5L133.8 736.1 133.6 733.8M84.0 769.8L84.5 771.9 82.6 772.9M92.4 791.5L94.6 793.2 93.5 795.7M98.0 773.3L96.2 771.7 97.3 769.6M85.3 707.7L87.5 708.8 87.0 711.2M83.9 703.7L83.7 701.4 85.9 700.6M183.2 774.1L182.3 776.7 179.6 776.4M188.7 783.2L186.4 784.8 184.3 782.9M137.5 742.1L136.4 744.2 134.1 743.7M93.3 685.2L92.4 687.5 89.9 687.1M103.8 729.6L104.3 727.4 106.5 727.3M108.6 788.6L109.5 790.7 107.6 792.1M135.4 744.4L135.5 747.1 132.9 747.8M51.8 777.7L54.0 779.1 53.1 781.6M106.7 713.4L107.9 710.3 111.2 710.7M74.2 781.7L71.5 781.9 70.6 779.2M107.1 692.5L105.4 694.2 103.4 692.9M78.7 771.2L80.7 773.6 78.8 776.1M137.1 695.2L139.8 693.9 141.7 696.2M85.7 753.1L83.8 754.6 81.9 753.2M65.3 768.5L62.8 769.2 61.4 767.0M182.7 677.6L181.1 675.7 182.6 673.8M168.2 672.4L166.1 671.6 166.3 669.4"/><path stroke="#4a7896" d="M158.0 697.4L160.2 697.3 160.8 699.4M89.4 757.0L87.2 757.5 86.1 755.5"/><path stroke="#4a7896" d="M120.2 746.9L118.1 748.2 116.2 746.5"/><path stroke="#8ccdee" d="M137.8 692.1L140.4 691.7 141.4 694.2M86.0 726.0L88.3 724.0 90.8 725.8M191.7 779.6L193.9 782.1 192.0 784.8M92.2 738.8L92.8 735.7 95.9 735.5M56.4 668.6L53.9 669.0 52.9 666.7M89.8 769.0L91.5 771.5 89.5 773.7M80.1 706.9L81.1 703.8 84.4 704.0M105.4 713.5L106.0 716.1 103.6 717.3M100.0 763.0L101.5 760.7 104.1 761.7M41.4 661.9L44.2 661.2 45.6 663.7M52.1 753.8L49.7 755.2 47.8 753.2M104.7 679.9L106.8 681.2 106.0 683.6M133.5 711.6L136.3 711.0 137.6 713.6M91.7 708.7L94.7 709.5 94.7 712.6M168.8 794.1L165.9 793.0 166.2 790.0M115.3 775.3L118.5 774.8 119.7 777.8M119.3 780.3L116.6 779.9 116.4 777.2M137.8 737.9L136.6 735.6 138.5 733.8M141.4 734.1L138.6 732.8 139.2 729.8M108.1 672.0L104.9 671.5 104.7 668.3M172.3 759.0L171.9 761.8 169.1 762.1M124.3 723.0L121.7 722.7 121.4 720.2M112.3 670.4L109.4 670.4 108.6 667.6M66.8 713.1L69.6 712.1 71.2 714.6M87.6 705.9L85.2 707.2 83.4 705.3M155.1 701.7L154.4 699.3 156.5 698.0M148.0 743.4L145.3 743.5 144.5 740.9M160.3 783.5L159.1 781.3 160.9 779.5M120.6 752.5L120.8 755.3 118.1 756.2M86.7 727.3L86.5 730.1 83.7 730.6M177.7 712.6L175.3 713.6 173.8 711.5M170.8 712.3L170.6 715.4 167.6 716.0M84.4 727.6L85.9 724.7 89.0 725.5M156.0 685.9L158.6 685.3 159.8 687.8M149.4 699.9L146.6 698.1 147.6 695.0M100.7 769.4L103.0 770.3 102.7 772.8M92.1 720.3L89.3 718.7 90.2 715.5M44.5 690.9L41.6 690.3 41.4 687.4M117.0 732.3L116.9 729.9 119.1 729.3M146.3 796.9L144.0 796.5 143.9 794.3M89.3 808.1L91.9 809.6 91.2 812.4M136.0 781.6L137.6 784.3 135.4 786.6M184.4 740.6L186.8 741.1 186.9 743.5M93.9 773.4L96.6 774.8 95.8 777.8M194.1 688.1L192.1 689.7 190.0 688.2M76.4 702.5L74.0 700.3 75.5 697.4M95.8 777.5L98.3 777.5 98.8 779.9M86.7 754.8L89.5 755.8 89.2 758.8M142.6 763.5L144.9 764.2 144.8 766.5M109.3 763.2L111.4 761.8 113.3 763.5M103.5 724.1L100.5 724.3 99.7 721.4M179.1 671.1L181.2 672.1 180.7 674.5M88.5 739.1L90.7 737.0 93.3 738.6M167.7 780.5L164.6 781.0 163.3 778.1M72.7 766.6L72.3 763.9 74.8 762.9"/><path stroke="#4a7896" d="M132.2 710.2L134.3 712.6 132.6 715.2M90.8 786.3L89.7 783.3 92.3 781.6"/><path stroke="#6eb6dc" d="M193.6 671.3L195.9 672.0 195.8 674.4M95.5 724.4L96.4 722.1 98.8 722.4M90.3 775.7L92.8 777.0 92.1 779.8M110.2 696.1L107.4 697.3 105.6 694.9M134.1 697.5L135.3 700.0 133.1 701.7M117.2 787.6L119.6 789.3 118.6 792.0M64.5 726.5L63.6 723.7 66.0 722.3M106.2 716.9L105.3 719.8 102.3 719.6M144.5 677.2L142.8 678.8 140.8 677.4M167.1 749.4L165.1 751.2 162.8 749.7M55.1 780.6L54.6 777.4 57.5 776.1M141.2 718.9L141.0 721.8 138.2 722.4M137.2 680.4L140.2 680.3 141.0 683.2M150.9 792.5L153.4 794.2 152.3 797.0"/><path stroke="#a8dcf4" d="M48.0 672.2L46.2 674.9 43.1 674.0M123.4 731.9L125.0 733.5 123.8 735.4M177.0 768.0L176.6 765.6 178.9 764.6M63.1 769.1L61.8 771.4 59.3 770.8M94.3 665.8L93.8 662.9 96.5 661.7M190.4 668.8L188.5 667.0 189.8 664.7M158.5 676.6L160.8 678.7 159.3 681.5M40.2 768.6L42.5 766.6 45.0 768.4M105.7 699.8L103.9 701.1 102.2 699.7M103.7 786.6L103.4 789.5 100.5 789.9M150.8 739.2L148.5 740.8 146.3 738.9M164.3 702.6L162.3 703.9 160.6 702.4M83.8 805.8L81.3 806.7 79.8 804.4M110.2 780.0L109.5 782.6 106.9 782.5M78.9 790.6L76.7 788.7 78.1 786.1M115.5 694.7L114.8 697.1 112.3 697.1M44.2 673.5L46.2 675.5 44.7 678.0M145.6 717.8L143.3 718.2 142.3 716.0M126.7 786.7L128.0 783.7 131.2 784.3M78.5 779.5L78.9 777.2 81.3 777.1M188.2 747.6L185.5 747.9 184.5 745.5M115.7 753.1L114.8 750.1 117.5 748.5M164.2 773.5L165.3 771.4 167.6 772.0M145.9 713.5L143.6 712.2 144.3 709.7M130.2 767.1L131.6 769.6 129.5 771.5M145.1 791.6L147.4 792.8 146.7 795.4M53.9 716.9L53.3 714.5 55.5 713.3M180.4 770.2L178.1 771.6 176.3 769.7M95.6 728.2L98.2 729.3 97.7 732.1M97.9 746.1L97.1 743.5 99.5 742.1M144.3 698.6L142.1 699.6 140.5 697.7"/><path stroke="#8ccdee" d="M90.1 716.7L91.9 714.5 94.4 715.8M65.7 793.6L66.3 791.0 68.9 790.9M76.2 719.9L74.9 721.7 72.8 720.9M64.1 795.5L61.1 794.7 61.2 791.6M179.1 673.5L178.0 676.0 175.3 675.5M156.7 695.8L156.4 693.0 159.0 692.0M122.1 667.8L123.3 665.6 125.8 666.2M184.4 793.7L182.6 792.0 183.7 789.9M102.1 694.7L104.6 693.9 106.1 696.1M151.8 755.8L154.5 757.6 153.5 760.6M175.8 776.3L173.2 775.7 173.1 773.0M108.4 781.6L110.6 783.3 109.5 785.9M184.1 721.0L184.4 718.8 186.6 718.5M157.5 683.7L159.7 685.5 158.4 688.1M129.3 759.6L131.1 761.9 129.3 764.2M133.9 662.9L136.2 663.7 136.0 666.1M59.9 779.8L57.6 777.8 59.1 775.1M169.4 793.4L171.0 795.5 169.4 797.6M169.8 702.3L171.4 703.8 170.3 705.8M92.7 745.8L94.7 746.8 94.2 749.1M168.8 771.9L171.2 770.6 173.1 772.6M116.9 710.7L115.0 709.4 115.9 707.3M154.9 717.5L156.5 715.6 158.8 716.6M99.3 806.3L97.1 807.1 95.7 805.2M117.4 765.3L120.3 765.8 120.5 768.7M119.1 784.4L117.3 785.8 115.5 784.3M154.5 725.2L155.1 728.2 152.5 729.5M164.9 758.2L162.7 756.1 164.2 753.4M131.6 676.1L130.1 673.6 132.2 671.4M188.9 666.3L188.9 669.3 186.0 670.0M91.3 770.9L94.3 770.1 95.8 773.0M115.1 729.3L116.1 726.6 119.0 726.9M188.1 668.1L186.2 666.4 187.5 664.1M87.9 764.0L86.5 761.9 88.1 760.0M79.8 792.7L80.4 789.6 83.6 789.4M179.4 745.6L181.5 748.0 179.7 750.6M176.2 693.1L173.9 692.1 174.2 689.7M136.5 789.6L135.7 787.4 137.5 786.1M78.6 709.5L80.5 711.6 78.8 713.9M98.2 801.9L95.1 802.0 94.1 799.0M154.4 661.4L154.6 663.7 152.4 664.4M181.3 662.3L182.4 665.2 179.8 666.9M117.1 715.7L119.4 714.8 120.9 716.8M125.2 700.2L124.9 702.6 122.4 702.9M99.8 720.2L99.1 723.4 95.8 723.5M121.3 702.0L118.2 701.9 117.6 698.9M97.1 701.8L95.7 699.8 97.3 698.0M68.9 730.3L68.9 732.9 66.5 733.6M93.6 771.9L96.5 773.2 95.9 776.3M138.1 658.8L137.2 661.7 134.2 661.5M84.9 708.7L82.6 707.7 83.0 705.3M79.7 667.6L78.0 670.2 75.1 669.2M113.2 684.8L110.4 683.3 111.1 680.3M120.7 749.3L123.6 748.6 125.0 751.3M87.1 729.5L88.5 727.3 90.9 728.2"/><path stroke="#8ccdee" d="M89.1 682.9L88.1 685.0 85.9 684.6M74.4 784.2L71.9 784.9 70.7 782.5M106.6 747.3L107.2 744.5 110.0 744.4M142.8 701.9L139.7 702.7 138.2 700.0M184.2 783.5L182.3 785.1 180.4 783.6M142.1 716.7L140.7 714.2 142.7 712.2M159.7 748.1L159.4 750.9 156.5 751.3M127.1 693.8L130.1 693.6 131.0 696.4M66.4 790.4L63.8 789.1 64.4 786.3M157.7 781.3L158.0 783.8 155.6 784.7M124.3 699.3L127.4 699.9 127.7 703.0M117.5 739.3L116.0 742.2 112.9 741.5M180.4 688.7L177.4 688.7 176.7 685.9M75.1 702.6L71.9 702.1 71.6 698.8M49.3 668.1L51.3 667.2 52.7 669.0M137.9 772.8L138.5 775.1 136.4 776.2M178.2 753.7L180.2 755.4 179.0 757.9M102.6 732.3L104.7 730.8 106.6 732.5M136.1 790.0L138.7 788.3 141.0 790.5M139.7 770.5L141.9 770.2 142.7 772.3M151.7 734.0L150.4 736.5 147.6 735.9M70.3 697.3L68.0 695.5 69.3 692.9M97.1 763.2L96.7 765.7 94.1 765.8M67.6 788.9L64.5 789.4 63.2 786.6M97.4 716.0L94.6 716.4 93.6 713.8M122.8 798.0L125.5 796.6 127.5 799.0M89.5 705.6L87.6 703.1 89.6 700.7M130.4 769.8L131.2 766.6 134.4 766.5M86.4 696.3L87.3 699.2 84.8 700.8M58.0 661.9L60.2 661.1 61.5 663.1M74.6 714.1L74.6 711.0 77.7 710.3M128.1 725.7L126.2 727.6 123.8 726.2M100.5 729.5L97.8 729.7 97.0 727.2M71.6 748.0L73.0 746.3 75.0 747.2M113.5 758.1L110.4 757.6 110.1 754.5M59.7 733.9L61.7 732.9 63.2 734.5M122.2 664.0L119.8 665.5 117.7 663.5M128.5 682.6L130.2 684.1 129.1 686.1M82.2 731.2L84.6 732.5 83.9 735.1M70.5 714.8L67.4 715.0 66.5 712.2M93.6 767.3L92.3 764.7 94.6 762.8M140.5 675.6L138.0 675.1 137.9 672.5M74.0 748.1L71.1 748.7 69.9 746.0M88.8 694.3L89.7 691.5 92.7 691.7M128.8 774.8L131.5 776.1 130.8 779.0M172.6 764.0L172.2 766.5 169.7 766.8M101.6 700.3L99.1 699.0 99.8 696.3M142.2 747.6L139.7 749.5 137.2 747.5M131.1 805.0L133.4 803.5 135.4 805.4M120.0 776.7L120.3 779.3 117.9 780.2M144.8 724.9L147.9 725.4 148.2 728.4M144.8 685.3L142.7 687.5 140.1 686.0M106.0 690.5L105.6 692.8 103.3 693.0M155.2 751.5L152.8 751.1 152.7 748.7"/><path stroke="#6eb6dc" d="M49.0 669.1L46.0 669.0 45.4 666.1M97.6 752.0L95.9 749.2 98.2 747.0M171.3 752.7L174.6 752.8 175.3 756.0M80.1 745.7L78.7 743.8 80.3 742.1M78.8 680.6L80.5 678.7 82.7 679.9M124.5 683.3L127.5 684.2 127.4 687.3M123.1 718.5L126.2 718.2 127.3 721.2M75.7 661.5L75.4 659.1 77.6 658.2M48.7 685.8L51.2 687.5 50.1 690.3M115.1 672.0L117.6 670.7 119.6 672.9M174.9 684.7L173.2 682.9 174.5 680.8M112.0 802.8L111.1 800.5 113.1 799.0M136.1 754.9L136.6 752.3 139.3 752.2"/><path stroke="#8ccdee" d="M73.6 727.5L71.1 728.6 69.3 726.4M114.2 737.7L115.2 735.7 117.4 736.2M174.6 795.6L176.4 793.7 178.6 795.0M92.5 686.4L94.6 685.6 95.9 687.4M105.8 710.2L106.5 707.2 109.6 707.1M126.8 765.8L126.3 762.8 129.1 761.5M81.0 755.0L82.3 756.9 80.8 758.6M135.8 810.8L136.5 808.4 139.0 808.5M64.0 778.8L65.7 776.0 68.8 777.1M84.7 686.7L82.8 684.4 84.6 682.0M87.5 718.6L84.9 719.1 83.7 716.7M123.5 783.1L124.9 785.8 122.5 787.8M105.1 742.7L106.5 744.9 104.7 746.8M161.1 729.3L158.1 728.4 158.2 725.4M138.0 717.2L137.3 714.0 140.2 712.5M46.7 729.0L46.8 726.4 49.3 726.0M129.3 720.1L129.4 722.6 127.0 723.3M144.6 727.6L141.5 728.7 139.7 726.1M75.2 775.0L73.8 773.0 75.4 771.1M70.4 739.0L71.5 741.0 69.8 742.6M139.0 715.1L136.3 716.2 134.6 713.9M140.5 743.6L143.2 744.1 143.4 746.8M191.6 774.6L193.5 773.3 195.3 774.9M159.7 780.5L162.5 781.9 161.7 785.0M130.3 747.5L131.7 749.9 129.7 751.9M126.9 720.6L126.5 723.1 123.9 723.3M49.1 763.2L50.2 765.5 48.2 767.1M137.5 730.1L135.3 731.4 133.4 729.5M75.5 733.6L76.0 731.3 78.3 731.2M129.5 670.4L131.3 672.0 130.3 674.1M142.8 776.7L143.2 774.0 145.8 773.8M66.3 748.1L68.8 747.8 69.7 750.3M69.1 675.3L68.5 672.2 71.3 670.7M127.3 731.0L124.4 729.6 125.1 726.5M97.9 755.5L100.2 754.0 102.1 755.9M166.2 789.2L168.9 790.4 168.3 793.3M103.8 741.6L105.7 740.1 107.6 741.5M45.1 745.1L47.9 744.8 48.9 747.5M141.3 720.6L142.3 722.9 140.3 724.4M114.0 694.3L112.7 696.8 109.9 696.1M154.2 690.6L156.9 691.3 156.9 694.1M157.3 757.3L154.8 759.2 152.3 757.3M116.5 702.6L119.1 701.2 121.1 703.5M90.7 795.5L93.2 793.5 95.6 795.5M103.6 721.8L101.3 724.0 98.5 722.2M130.1 763.2L132.3 764.6 131.5 767.1M87.2 777.2L89.2 778.6 88.3 780.8M51.4 692.3L49.7 695.1 46.6 694.1M91.2 717.2L92.9 715.2 95.2 716.3M125.2 726.5L123.4 729.0 120.5 727.9M142.3 787.6L141.5 789.8 139.1 789.6M90.2 693.2L89.8 690.1 92.7 689.0M69.0 768.0L71.0 769.6 69.9 772.0M183.0 692.4L182.3 690.1 184.4 688.8"/><path stroke="#8ccdee" d="M149.0 677.8L147.1 679.1 145.3 677.6M50.6 753.0L48.1 753.5 47.0 751.3M132.5 688.3L130.0 686.8 130.8 684.0M136.2 705.4L134.2 706.5 132.6 704.8M112.6 679.4L111.0 682.3 107.9 681.4M153.4 721.8L153.1 719.0 155.7 717.9M161.2 706.6L163.3 704.5 165.8 706.0M122.0 700.3L121.1 697.3 123.8 695.7M89.9 707.7L92.7 709.1 92.1 712.1M112.2 734.8L109.1 733.8 109.3 730.6M63.6 696.9L64.5 698.9 62.7 700.3M129.3 792.7L131.6 790.9 133.8 792.7M128.9 702.9L130.3 700.0 133.5 700.7M123.5 782.8L122.8 780.4 125.0 779.0M101.3 754.4L104.2 754.1 105.3 756.8M108.0 738.7L109.1 736.1 112.0 736.6M158.8 774.1L161.4 773.5 162.6 775.9M108.1 748.4L106.6 750.6 104.2 749.7M153.0 729.9L155.2 731.9 153.8 734.5M165.2 711.1L167.4 711.3 167.7 713.6M152.4 762.0L151.4 759.6 153.5 758.1M164.3 690.3L161.8 691.5 160.0 689.2M142.2 710.5L139.2 711.0 137.9 708.2M171.1 735.1L173.9 734.5 175.2 737.1M165.9 736.0L163.4 736.1 162.6 733.8M77.0 668.5L75.8 671.0 73.1 670.5M99.3 719.3L96.1 719.9 94.7 716.9M116.9 707.7L114.4 706.7 114.7 704.0M165.3 757.9L162.2 759.0 160.4 756.3M163.5 771.8L163.8 774.5 161.3 775.4M79.9 764.5L78.9 766.6 76.7 766.2M170.0 758.1L170.9 755.1 174.0 755.2M156.3 760.1L158.6 760.0 159.3 762.2M84.9 705.1L87.7 706.8 86.6 709.9M122.7 724.9L120.3 723.0 121.6 720.3M104.2 655.5L105.8 657.6 104.1 659.7M75.0 737.7L77.6 737.2 78.7 739.5M164.0 723.9L164.8 726.3 162.6 727.7M138.9 693.7L140.4 695.6 138.8 697.5M110.2 755.0L112.6 755.2 112.9 757.5M146.0 775.3L145.4 772.4 148.0 771.1M84.6 734.4L86.7 736.9 84.8 739.5M142.0 773.9L139.3 773.9 138.6 771.2M51.7 793.0L49.2 792.4 49.2 789.9M166.2 750.7L164.5 749.4 165.4 747.3M132.2 673.7L130.0 673.8 129.3 671.7M77.5 786.3L80.0 787.4 79.5 790.1M152.0 746.6L152.9 744.4 155.2 744.7M110.4 718.9L107.3 717.7 107.7 714.5M62.9 757.7L60.7 756.7 61.2 754.3M110.9 708.2L113.1 710.5 111.3 713.1M64.4 686.2L61.7 685.1 62.2 682.2M77.5 750.7L78.9 753.5 76.5 755.5M48.1 731.5L50.6 732.2 50.5 734.8M131.8 765.4L130.8 768.1 127.9 767.8"/><path stroke="#8ccdee" d="M118.2 778.0L118.1 780.9 115.3 781.4M117.3 706.0L115.7 703.9 117.3 701.9M81.7 728.5L82.9 726.4 85.2 727.0M85.5 784.0L86.8 786.0 85.2 787.7M149.3 792.6L152.3 792.6 153.1 795.5M150.4 735.4L148.4 737.3 146.1 735.9M177.8 780.0L178.9 782.2 177.0 783.8M81.4 742.5L84.1 742.0 85.3 744.4M87.8 689.2L88.6 692.1 86.0 693.6M88.6 721.9L89.2 719.6 91.6 719.7M50.9 739.2L48.0 739.1 47.3 736.2M178.5 748.7L179.3 751.2 177.1 752.5M165.6 766.8L166.9 764.3 169.6 764.9M96.6 789.9L98.3 792.0 96.7 794.1M122.0 750.8L120.1 748.7 121.7 746.4M81.0 801.4L78.5 801.1 78.2 798.6M89.6 703.5L91.1 706.2 88.9 708.3M136.7 751.7L138.8 750.0 141.0 751.6M91.1 758.2L94.2 758.6 94.6 761.6M116.4 690.1L113.6 689.3 113.8 686.4M61.6 747.1L59.7 749.4 57.1 748.1M88.8 669.6L88.3 671.8 86.1 671.8M150.4 796.6L149.5 799.0 147.0 798.6M58.6 666.1L58.0 668.5 55.5 668.4M98.2 781.3L100.9 779.7 103.1 782.0M143.7 679.5L145.4 677.2 148.0 678.3M157.3 733.9L156.0 731.3 158.2 729.4M134.8 691.5L134.8 693.9 132.4 694.4M195.9 786.5L194.4 784.8 195.7 783.0M71.4 789.4L73.1 786.8 76.2 787.8M46.1 747.2L46.2 744.0 49.3 743.3M107.3 758.2L106.4 755.1 109.2 753.5M104.8 728.1L107.3 727.3 108.7 729.5M114.6 776.4L115.1 778.8 112.8 779.9M146.1 742.5L143.5 742.0 143.3 739.3M132.6 696.0L131.2 694.3 132.4 692.5M148.2 816.9L147.0 813.9 149.6 811.9M132.8 772.0L135.6 771.4 136.9 773.9M150.1 743.9L146.9 744.7 145.3 741.9M129.7 789.7L130.9 787.1 133.8 787.6M53.5 708.9L55.6 710.9 54.2 713.5M99.3 687.1L98.4 684.0 101.2 682.5M98.2 790.1L100.4 788.0 103.0 789.6M67.5 794.0L65.0 792.1 66.3 789.3M64.5 751.6L63.5 749.3 65.4 747.7M114.1 730.6L113.4 727.5 116.3 726.0M134.5 803.6L132.1 803.0 132.1 800.6M189.8 678.5L188.2 676.3 189.9 674.3M112.5 702.9L109.6 702.6 109.2 699.7M127.5 778.3L126.0 779.9 124.1 778.8M102.4 797.9L102.5 795.2 105.2 794.6M120.3 774.6L118.4 777.0 115.6 775.7M78.8 768.0L80.9 769.0 80.5 771.3M94.3 782.5L93.1 784.9 90.5 784.3"/><path stroke="#4a7896" d="M97.2 692.0L95.8 689.3 98.1 687.3M125.4 678.2L122.4 677.7 122.2 674.7"/><path stroke="#4a7896" d="M99.3 765.2L100.3 767.5 98.3 769.1M109.3 685.2L106.4 684.9 106.0 682.0"/><path stroke="#4a7896" d="M102.8 746.1L104.3 743.5 107.1 744.2M115.4 742.1L114.0 739.9 115.8 738.0"/><path stroke="#a8dcf4" d="M177.6 757.7L175.9 759.4 173.9 758.1M116.8 762.9L115.0 764.8 112.7 763.5M176.4 694.5L178.3 692.5 180.7 693.9M167.4 751.9L169.3 750.1 171.5 751.6M143.2 684.4L142.3 687.2 139.4 687.0M180.6 792.4L178.6 790.1 180.3 787.7M116.6 748.7L117.2 745.6 120.3 745.3M192.1 680.4L190.7 677.6 193.1 675.6M167.9 716.1L169.8 714.8 171.6 716.4M149.6 779.9L152.6 779.0 154.2 781.8M155.2 703.5L154.3 706.3 151.4 706.1M135.5 785.4L135.5 788.5 132.4 789.3M95.8 770.1L97.3 772.9 95.0 775.0M143.5 697.0L145.7 699.2 144.1 701.8M64.8 733.8L67.4 735.4 66.5 738.3M87.9 676.1L90.9 676.0 91.8 678.9M136.8 776.8L135.3 775.1 136.6 773.2M133.3 756.0L130.8 758.2 128.2 756.3M162.1 667.4L161.1 669.6 158.7 669.2M138.6 731.1L140.9 730.0 142.6 731.9M142.2 697.2L142.2 700.1 139.4 700.8M70.4 746.1L72.1 744.5 74.0 745.7M148.7 694.2L150.8 696.4 149.1 699.0M93.0 712.8L95.3 713.4 95.2 715.7M187.2 709.4L185.7 706.6 188.1 704.5M173.8 801.5L175.0 803.4 173.5 805.1M89.3 746.1L87.8 743.5 90.0 741.4M154.9 727.1L155.1 730.1 152.2 731.0M131.6 675.3L133.5 677.5 131.8 679.9M92.6 771.7L90.2 773.2 88.1 771.3M96.6 744.3L93.8 743.5 93.8 740.7"/><path stroke="#6eb6dc" d="M92.1 715.6L90.6 718.3 87.6 717.6M110.9 708.6L112.6 710.1 111.5 712.1M76.1 798.0L77.5 800.0 75.9 801.9M85.4 729.0L85.1 726.3 87.6 725.4M75.7 756.4L74.2 758.7 71.6 757.8M117.9 750.5L119.6 749.0 121.5 750.2M154.2 748.3L156.1 747.1 157.7 748.7M154.9 710.2L157.8 709.2 159.5 711.8M56.1 774.8L57.6 772.5 60.3 773.4M96.2 670.3L97.3 673.3 94.6 675.1M76.3 680.2L76.6 682.5 74.4 683.4M101.7 766.9L102.0 764.1 104.8 763.8M91.8 758.2L94.0 759.8 92.9 762.2"/></g>
<path stroke="#ec9a9a" stroke-width="1.1" fill="none" d="M128.1 759.4L132.1 759.4M128.1 759.4L125.5 756.3M128.1 759.4L131.9 758.2M145.4 779.2L142.3 776.7M145.4 779.2L149.4 779.2M145.4 779.2L141.6 778.0M98.8 758.4L102.1 760.6M98.8 758.4L95.2 760.2M98.8 758.4L102.5 757.0M73.9 725.2L72.6 729.0M73.9 725.2L70.9 722.5M73.9 725.2L76.3 722.0M96.7 746.8L100.7 747.5M96.7 746.8L97.0 750.8M96.7 746.8L93.2 748.7M138.2 788.6L141.2 786.0M138.2 788.6L134.2 788.4M138.2 788.6L137.9 792.6M161.9 784.2L162.9 780.4M161.9 784.2L159.9 780.8M161.9 784.2L159.2 781.3M106.2 747.1L103.5 750.1M106.2 747.1L105.0 743.3M106.2 747.1L109.0 744.3M94.3 769.3L97.6 771.7M94.3 769.3L97.7 771.4M94.3 769.3L95.8 773.0M92.7 728.6L89.6 731.2M92.7 728.6L96.0 726.3M92.7 728.6L96.5 729.9M167.6 702.4L166.3 706.2M167.6 702.4L163.7 703.2M167.6 702.4L163.8 703.8M129.2 674.4L125.8 672.2M129.2 674.4L133.0 675.4M129.2 674.4L131.3 677.8M91.6 739.1L91.1 735.2M91.6 739.1L95.5 740.0M91.6 739.1L95.5 739.9M108.6 701.0L107.7 697.1M108.6 701.0L110.1 697.3M108.6 701.0L111.9 698.7M183.3 799.9L183.5 803.9M183.3 799.9L179.6 798.3M183.3 799.9L186.0 802.8M125.8 764.5L123.1 761.6M125.8 764.5L129.7 764.1M125.8 764.5L122.9 767.3"/>
<circle cx="135.0" cy="679.0" r="2.6" fill="#8884b6" filter="url(#soft)"/>
<circle cx="165.0" cy="675.0" r="2.6" fill="#8884b6" filter="url(#soft)"/>
<circle cx="90.0" cy="700.0" r="2.6" fill="#8884b6" filter="url(#soft)"/>
<circle cx="148.0" cy="690.0" r="2.6" fill="#8884b6" filter="url(#soft)"/>
<circle cx="70.0" cy="710.0" r="2.6" fill="#8884b6" filter="url(#soft)"/>
<circle cx="125.0" cy="745.0" r="2.6" fill="#8884b6" filter="url(#soft)"/>
<circle cx="160.0" cy="740.0" r="2.6" fill="#8884b6" filter="url(#soft)"/>
<circle cx="180.0" cy="790.0" r="2.6" fill="#8884b6" filter="url(#soft)"/>
<circle cx="100.0" cy="770.0" r="2.6" fill="#8884b6" filter="url(#soft)"/>
<circle cx="60.0" cy="760.0" r="2.6" fill="#8884b6" filter="url(#soft)"/>
<circle cx="150.0" cy="800.0" r="2.6" fill="#8884b6" filter="url(#soft)"/>
<circle cx="85.0" cy="735.0" r="2.6" fill="#8884b6" filter="url(#soft)"/>
<circle cx="110.0" cy="700.0" r="2.6" fill="#8884b6" filter="url(#soft)"/>
<circle cx="170.0" cy="720.0" r="2.6" fill="#8884b6" filter="url(#soft)"/>
<circle cx="140.0" cy="770.0" r="2.6" fill="#8884b6" filter="url(#soft)"/>
<circle cx="95.0" cy="680.0" r="2.6" fill="#8884b6" filter="url(#soft)"/>
<circle cx="175.0" cy="760.0" r="2.6" fill="#8884b6" filter="url(#soft)"/>
<circle cx="123.7" cy="725" r="10" stroke="#111" stroke-width="1.8" stroke-dasharray="6.5 3.5" fill="none"/>
<line x1="120" y1="716" x2="335" y2="664.3" stroke="#111" stroke-width="1.8" stroke-dasharray="6.5 3.5" fill="none"/>
<line x1="120" y1="733.7" x2="322.8" y2="801" stroke="#111" stroke-width="1.8" stroke-dasharray="6.5 3.5" fill="none"/>
<circle cx="354" cy="736.8" r="75" stroke="#111" stroke-width="1.8" stroke-dasharray="6.5 3.5" fill="none"/>
<circle cx="354" cy="736.8" r="73.7" fill="#fff"/>
<path d="M286.4,718.8 L308.0,712.0 L320.1,731.0" stroke="#de8a8a" stroke-width="4.6" stroke-linecap="round" stroke-linejoin="round" fill="none"/>
<path d="M286.4,718.8 L308.0,712.0 L320.1,731.0" stroke="#ee9c9c" stroke-width="3.3" stroke-linecap="round" stroke-linejoin="round" fill="none"/>
<path d="M286.4,718.8 L308.0,712.0 L320.1,731.0" stroke="#ffd8d8" stroke-width="1.0" stroke-linecap="round" stroke-linejoin="round" fill="none" opacity="0.6" transform="translate(-0.4,-0.8)"/>
<path d="M308.0,712.0 L318.8,694.5" stroke="#de8a8a" stroke-width="4.6" stroke-linecap="round" stroke-linejoin="round" fill="none"/>
<path d="M308.0,712.0 L318.8,694.5" stroke="#ee9c9c" stroke-width="3.3" stroke-linecap="round" stroke-linejoin="round" fill="none"/>
<path d="M308.0,712.0 L318.8,694.5" stroke="#ffd8d8" stroke-width="1.0" stroke-linecap="round" stroke-linejoin="round" fill="none" opacity="0.6" transform="translate(-0.4,-0.8)"/>
<path d="M308.0,712.0 L304.0,705.3" stroke="#de8a8a" stroke-width="3.5" stroke-linecap="round" stroke-linejoin="round" fill="none"/>
<path d="M308.0,712.0 L304.0,705.3" stroke="#ee9c9c" stroke-width="2.5" stroke-linecap="round" stroke-linejoin="round" fill="none"/>
<path d="M308.0,712.0 L304.0,705.3" stroke="#ffd8d8" stroke-width="0.8" stroke-linecap="round" stroke-linejoin="round" fill="none" opacity="0.6" transform="translate(-0.4,-0.8)"/>
<circle cx="320.1" cy="731" r="2.8" fill="#ee9c9c"/>
<path d="M341.7,717.4 L345.8,732.3 L362.0,732.8" stroke="#86c6e4" stroke-width="5.2" stroke-linecap="round" stroke-linejoin="round" fill="none"/>
<path d="M341.7,717.4 L345.8,732.3 L362.0,732.8" stroke="#9ad6f0" stroke-width="3.7" stroke-linecap="round" stroke-linejoin="round" fill="none"/>
<path d="M341.7,717.4 L345.8,732.3 L362.0,732.8" stroke="#d8f2ff" stroke-width="1.1" stroke-linecap="round" stroke-linejoin="round" fill="none" opacity="0.6" transform="translate(-0.4,-0.8)"/>
<path d="M299.9,748.5 L312.0,763.3 L305.3,775.5" stroke="#86c6e4" stroke-width="5.2" stroke-linecap="round" stroke-linejoin="round" fill="none"/>
<path d="M299.9,748.5 L312.0,763.3 L305.3,775.5" stroke="#9ad6f0" stroke-width="3.7" stroke-linecap="round" stroke-linejoin="round" fill="none"/>
<path d="M299.9,748.5 L312.0,763.3 L305.3,775.5" stroke="#d8f2ff" stroke-width="1.1" stroke-linecap="round" stroke-linejoin="round" fill="none" opacity="0.6" transform="translate(-0.4,-0.8)"/>
<path d="M304.0,764.7 L316.1,766.0 L326.3,776.8" stroke="#86c6e4" stroke-width="5.2" stroke-linecap="round" stroke-linejoin="round" fill="none"/>
<path d="M304.0,764.7 L316.1,766.0 L326.3,776.8" stroke="#9ad6f0" stroke-width="3.7" stroke-linecap="round" stroke-linejoin="round" fill="none"/>
<path d="M304.0,764.7 L316.1,766.0 L326.3,776.8" stroke="#d8f2ff" stroke-width="1.1" stroke-linecap="round" stroke-linejoin="round" fill="none" opacity="0.6" transform="translate(-0.4,-0.8)"/>
<path d="M353.9,779.5 L349.8,778.5 L349.8,794.4" stroke="#86c6e4" stroke-width="5.2" stroke-linecap="round" stroke-linejoin="round" fill="none"/>
<path d="M353.9,779.5 L349.8,778.5 L349.8,794.4" stroke="#9ad6f0" stroke-width="3.7" stroke-linecap="round" stroke-linejoin="round" fill="none"/>
<path d="M353.9,779.5 L349.8,778.5 L349.8,794.4" stroke="#d8f2ff" stroke-width="1.1" stroke-linecap="round" stroke-linejoin="round" fill="none" opacity="0.6" transform="translate(-0.4,-0.8)"/>
<path d="M367.4,713.4 L353.9,714.7" stroke="#b47cd8" stroke-width="4.6" stroke-linecap="round" stroke-linejoin="round" fill="none"/>
<path d="M367.4,713.4 L353.9,714.7" stroke="#c896e8" stroke-width="3.3" stroke-linecap="round" stroke-linejoin="round" fill="none"/>
<path d="M367.4,713.4 L353.9,714.7" stroke="#f0d8ff" stroke-width="1.0" stroke-linecap="round" stroke-linejoin="round" fill="none" opacity="0.6" transform="translate(-0.4,-0.8)"/>
<path d="M383.6,706.6 L378.2,697.2" stroke="#b47cd8" stroke-width="4.6" stroke-linecap="round" stroke-linejoin="round" fill="none"/>
<path d="M383.6,706.6 L378.2,697.2" stroke="#c896e8" stroke-width="3.3" stroke-linecap="round" stroke-linejoin="round" fill="none"/>
<path d="M383.6,706.6 L378.2,697.2" stroke="#f0d8ff" stroke-width="1.0" stroke-linecap="round" stroke-linejoin="round" fill="none" opacity="0.6" transform="translate(-0.4,-0.8)"/>
<path d="M383.6,706.6 L386.3,695.8" stroke="#b47cd8" stroke-width="4.6" stroke-linecap="round" stroke-linejoin="round" fill="none"/>
<path d="M383.6,706.6 L386.3,695.8" stroke="#c896e8" stroke-width="3.3" stroke-linecap="round" stroke-linejoin="round" fill="none"/>
<path d="M383.6,706.6 L386.3,695.8" stroke="#f0d8ff" stroke-width="1.0" stroke-linecap="round" stroke-linejoin="round" fill="none" opacity="0.6" transform="translate(-0.4,-0.8)"/>
<path d="M401.1,718.8 L416.0,712.0" stroke="#b47cd8" stroke-width="4.6" stroke-linecap="round" stroke-linejoin="round" fill="none"/>
<path d="M401.1,718.8 L416.0,712.0" stroke="#c896e8" stroke-width="3.3" stroke-linecap="round" stroke-linejoin="round" fill="none"/>
<path d="M401.1,718.8 L416.0,712.0" stroke="#f0d8ff" stroke-width="1.0" stroke-linecap="round" stroke-linejoin="round" fill="none" opacity="0.6" transform="translate(-0.4,-0.8)"/>
<path d="M407.9,737.7 L424.0,743.0" stroke="#b47cd8" stroke-width="4.6" stroke-linecap="round" stroke-linejoin="round" fill="none"/>
<path d="M407.9,737.7 L424.0,743.0" stroke="#c896e8" stroke-width="3.3" stroke-linecap="round" stroke-linejoin="round" fill="none"/>
<path d="M407.9,737.7 L424.0,743.0" stroke="#f0d8ff" stroke-width="1.0" stroke-linecap="round" stroke-linejoin="round" fill="none" opacity="0.6" transform="translate(-0.4,-0.8)"/>
<path d="M410.6,725.5 L397.0,732.3" stroke="#b47cd8" stroke-width="4.6" stroke-linecap="round" stroke-linejoin="round" fill="none"/>
<path d="M410.6,725.5 L397.0,732.3" stroke="#c896e8" stroke-width="3.3" stroke-linecap="round" stroke-linejoin="round" fill="none"/>
<path d="M410.6,725.5 L397.0,732.3" stroke="#f0d8ff" stroke-width="1.0" stroke-linecap="round" stroke-linejoin="round" fill="none" opacity="0.6" transform="translate(-0.4,-0.8)"/>
<path d="M389.0,749.8 L387.6,762.0" stroke="#b47cd8" stroke-width="4.6" stroke-linecap="round" stroke-linejoin="round" fill="none"/>
<path d="M389.0,749.8 L387.6,762.0" stroke="#c896e8" stroke-width="3.3" stroke-linecap="round" stroke-linejoin="round" fill="none"/>
<path d="M389.0,749.8 L387.6,762.0" stroke="#f0d8ff" stroke-width="1.0" stroke-linecap="round" stroke-linejoin="round" fill="none" opacity="0.6" transform="translate(-0.4,-0.8)"/>
<path d="M368.7,740.4 L356.6,747.1" stroke="#b47cd8" stroke-width="4.6" stroke-linecap="round" stroke-linejoin="round" fill="none"/>
<path d="M368.7,740.4 L356.6,747.1" stroke="#c896e8" stroke-width="3.3" stroke-linecap="round" stroke-linejoin="round" fill="none"/>
<path d="M368.7,740.4 L356.6,747.1" stroke="#f0d8ff" stroke-width="1.0" stroke-linecap="round" stroke-linejoin="round" fill="none" opacity="0.6" transform="translate(-0.4,-0.8)"/>
<path d="M367.4,713.4 L383.6,706.6 L401.1,718.8 L407.9,737.7 L389.0,749.8 L368.7,740.4 L367.4,713.4" stroke="#b47cd8" stroke-width="5.4" stroke-linecap="round" stroke-linejoin="round" fill="none"/>
<path d="M367.4,713.4 L383.6,706.6 L401.1,718.8 L407.9,737.7 L389.0,749.8 L368.7,740.4 L367.4,713.4" stroke="#c896e8" stroke-width="3.9" stroke-linecap="round" stroke-linejoin="round" fill="none"/>
<path d="M367.4,713.4 L383.6,706.6 L401.1,718.8 L407.9,737.7 L389.0,749.8 L368.7,740.4 L367.4,713.4" stroke="#f0d8ff" stroke-width="1.2" stroke-linecap="round" stroke-linejoin="round" fill="none" opacity="0.6" transform="translate(-0.4,-0.8)"/>
<circle cx="333.10" cy="751.70" r="12.00" fill="url(#b8a8cb65e608a)"/>
<path d="M516.50,589.50 L517.54,589.50 L518.58,589.50 L519.62,589.50 L520.65,589.50 L521.69,589.50 L522.73,589.50 L523.77,589.50 L524.81,589.50 L525.85,589.50 L526.88,589.50 L527.92,589.50 L528.96,589.50 L530.00,589.50 L531.04,589.50 L532.08,589.50 L533.11,589.50 L534.15,589.50 L535.19,589.50 L536.23,589.50 L537.27,589.50 L538.31,589.50 L539.34,589.50 L540.38,589.50 L541.42,589.50 L542.46,589.50 L543.50,589.50 L544.54,589.50 L545.58,589.50 L546.61,589.50 L547.65,589.50 L548.69,589.50 L549.73,589.50 L550.77,589.49 L551.81,589.39 L552.84,588.88 L553.88,586.85 L554.92,581.03 L555.96,569.27 L557.00,553.34 L558.04,541.17 L559.07,539.99 L560.11,544.65 L561.15,552.69 L562.19,562.13 L563.23,571.06 L564.27,578.25 L565.30,583.28 L566.34,586.38 L567.38,588.09 L568.42,588.92 L569.46,589.28 L570.50,589.43 L571.54,589.48 L572.57,589.49 L573.61,589.50 L574.65,589.50 L575.69,589.50 L576.73,589.50 L577.77,589.50 L578.80,589.50" fill="none" stroke="#8ab4de" stroke-width="1.20" />
<path d="M578.80,589.50 C591.78,589.21 604.76,588.63 617.74,588.63 C618.50,588.63 619.25,589.40 620.00,589.40 C624.63,589.40 629.27,587.81 633.90,587.10 C639.27,586.28 644.63,584.80 650.00,584.80 C655.40,584.80 660.80,585.28 666.20,585.50 C673.90,585.82 681.60,586.02 689.30,586.40 C696.53,586.75 703.77,587.33 711.00,587.80" fill="none" stroke="#8ab4de" stroke-width="1.20" />
<path d="M553.00,589.40 C554.33,584.60 555.67,581.65 557.00,575.00 C558.00,570.01 559.00,556.40 560.00,552.00 C561.33,546.13 562.67,540.85 564.00,540.00 C566.00,538.73 568.00,538.05 570.00,538.00 C576.67,537.84 583.33,537.88 590.00,537.80 C599.33,537.69 608.67,537.70 618.00,537.40 C621.73,537.28 625.47,535.20 629.20,532.80 C633.07,530.32 636.93,523.31 640.80,515.50 C643.87,509.30 646.93,497.48 650.00,487.80 C652.33,480.44 654.67,471.79 657.00,464.70 C659.47,457.21 661.93,450.83 664.40,443.90" fill="none" stroke="#8ab4de" stroke-width="1.00" stroke-dasharray="4 1.5 1 1.5"/>
<rect x="516.50" y="443.80" width="194.70" height="145.70" fill="none" stroke="#505050" stroke-width="1.2"/>
<line x1="516.50" y1="589.50" x2="516.50" y2="592.30" stroke="#505050" stroke-width="1"/>
<line x1="555.44" y1="589.50" x2="555.44" y2="592.30" stroke="#505050" stroke-width="1"/>
<line x1="594.38" y1="589.50" x2="594.38" y2="592.30" stroke="#505050" stroke-width="1"/>
<line x1="633.32" y1="589.50" x2="633.32" y2="592.30" stroke="#505050" stroke-width="1"/>
<line x1="672.26" y1="589.50" x2="672.26" y2="592.30" stroke="#505050" stroke-width="1"/>
<line x1="711.20" y1="589.50" x2="711.20" y2="592.30" stroke="#505050" stroke-width="1"/>
<line x1="535.97" y1="589.50" x2="535.97" y2="591.10" stroke="#505050" stroke-width="1"/>
<line x1="574.91" y1="589.50" x2="574.91" y2="591.10" stroke="#505050" stroke-width="1"/>
<line x1="613.85" y1="589.50" x2="613.85" y2="591.10" stroke="#505050" stroke-width="1"/>
<line x1="652.79" y1="589.50" x2="652.79" y2="591.10" stroke="#505050" stroke-width="1"/>
<line x1="691.73" y1="589.50" x2="691.73" y2="591.10" stroke="#505050" stroke-width="1"/>
<line x1="513.70" y1="589.50" x2="516.50" y2="589.50" stroke="#505050" stroke-width="1"/>
<line x1="513.70" y1="560.36" x2="516.50" y2="560.36" stroke="#505050" stroke-width="1"/>
<line x1="513.70" y1="531.22" x2="516.50" y2="531.22" stroke="#505050" stroke-width="1"/>
<line x1="513.70" y1="502.08" x2="516.50" y2="502.08" stroke="#505050" stroke-width="1"/>
<line x1="513.70" y1="472.94" x2="516.50" y2="472.94" stroke="#505050" stroke-width="1"/>
<line x1="513.70" y1="443.80" x2="516.50" y2="443.80" stroke="#505050" stroke-width="1"/>
<line x1="514.90" y1="574.93" x2="516.50" y2="574.93" stroke="#505050" stroke-width="1"/>
<line x1="514.90" y1="545.79" x2="516.50" y2="545.79" stroke="#505050" stroke-width="1"/>
<line x1="514.90" y1="516.65" x2="516.50" y2="516.65" stroke="#505050" stroke-width="1"/>
<line x1="514.90" y1="487.51" x2="516.50" y2="487.51" stroke="#505050" stroke-width="1"/>
<line x1="514.90" y1="458.37" x2="516.50" y2="458.37" stroke="#505050" stroke-width="1"/>
<line x1="711.20" y1="589.50" x2="714.00" y2="589.50" stroke="#505050" stroke-width="1"/>
<line x1="711.20" y1="560.36" x2="714.00" y2="560.36" stroke="#505050" stroke-width="1"/>
<line x1="711.20" y1="531.22" x2="714.00" y2="531.22" stroke="#505050" stroke-width="1"/>
<line x1="711.20" y1="502.08" x2="714.00" y2="502.08" stroke="#505050" stroke-width="1"/>
<line x1="711.20" y1="472.94" x2="714.00" y2="472.94" stroke="#505050" stroke-width="1"/>
<line x1="711.20" y1="443.80" x2="714.00" y2="443.80" stroke="#505050" stroke-width="1"/>
<line x1="711.20" y1="574.93" x2="712.80" y2="574.93" stroke="#505050" stroke-width="1"/>
<line x1="711.20" y1="545.79" x2="712.80" y2="545.79" stroke="#505050" stroke-width="1"/>
<line x1="711.20" y1="516.65" x2="712.80" y2="516.65" stroke="#505050" stroke-width="1"/>
<line x1="711.20" y1="487.51" x2="712.80" y2="487.51" stroke="#505050" stroke-width="1"/>
<line x1="711.20" y1="458.37" x2="712.80" y2="458.37" stroke="#505050" stroke-width="1"/>
<text x="516.50" y="603.00" font-size="10.00" text-anchor="middle" font-weight="bold" fill="#000" >1</text>
<text x="513.00" y="593.10" font-size="10.00" text-anchor="end" font-weight="bold" fill="#000" >0</text>
<text x="715.00" y="593.10" font-size="10.00" text-anchor="start" font-weight="bold" fill="#000" >0</text>
<text x="555.44" y="603.00" font-size="10.00" text-anchor="middle" font-weight="bold" fill="#000" >2</text>
<text x="513.00" y="563.96" font-size="10.00" text-anchor="end" font-weight="bold" fill="#000" >10</text>
<text x="715.00" y="563.96" font-size="10.00" text-anchor="start" font-weight="bold" fill="#000" >3</text>
<text x="594.38" y="603.00" font-size="10.00" text-anchor="middle" font-weight="bold" fill="#000" >3</text>
<text x="513.00" y="534.82" font-size="10.00" text-anchor="end" font-weight="bold" fill="#000" >20</text>
<text x="715.00" y="534.82" font-size="10.00" text-anchor="start" font-weight="bold" fill="#000" >6</text>
<text x="633.32" y="603.00" font-size="10.00" text-anchor="middle" font-weight="bold" fill="#000" >4</text>
<text x="513.00" y="505.68" font-size="10.00" text-anchor="end" font-weight="bold" fill="#000" >30</text>
<text x="715.00" y="505.68" font-size="10.00" text-anchor="start" font-weight="bold" fill="#000" >9</text>
<text x="672.26" y="603.00" font-size="10.00" text-anchor="middle" font-weight="bold" fill="#000" >5</text>
<text x="513.00" y="476.54" font-size="10.00" text-anchor="end" font-weight="bold" fill="#000" >40</text>
<text x="715.00" y="476.54" font-size="10.00" text-anchor="start" font-weight="bold" fill="#000" >12</text>
<text x="711.20" y="603.00" font-size="10.00" text-anchor="middle" font-weight="bold" fill="#000" >6</text>
<text x="513.00" y="447.40" font-size="10.00" text-anchor="end" font-weight="bold" fill="#000" >50</text>
<text x="715.00" y="447.40" font-size="10.00" text-anchor="start" font-weight="bold" fill="#000" >15</text>
<text x="613.85" y="617.00" font-size="13.00" text-anchor="middle" font-weight="bold" fill="#000" >r (Å)</text>
<text x="0.00" y="0.00" font-size="13.00" text-anchor="middle" font-weight="bold" fill="#000" transform="translate(494,516.6) rotate(-90)" >g (r)</text>
<text x="0.00" y="0.00" font-size="13.00" text-anchor="middle" font-weight="bold" fill="#000" transform="translate(743.5,516.6) rotate(-90)" >Coordination number</text>
<text x="462.70" y="435.80" font-size="30.50" text-anchor="start" font-weight="normal" fill="#000" >k)</text>
<text x="520.40" y="456.00" font-size="9.20" text-anchor="start" font-weight="normal" fill="#333" >1 M ZnSO<tspan font-size="6" dy="2">4</tspan><tspan dy="-2"> in H</tspan><tspan font-size="6" dy="2">2</tspan><tspan dy="-2">O</tspan></text>
<line x1="575" y1="471" x2="595" y2="471" stroke="#8ab4de" stroke-width="1.3"/>
<text x="597.00" y="474.30" font-size="9.20" text-anchor="start" font-weight="normal" fill="#333" >Zn<tspan font-size="6" dy="-3.5">2+</tspan><tspan dy="3.5">-O (H</tspan><tspan font-size="6" dy="2">2</tspan><tspan dy="-2">O)</tspan></text>
<path d="M516.50,792.30 L517.41,792.30 L518.32,792.30 L519.23,792.30 L520.13,792.30 L521.04,792.30 L521.95,792.30 L522.86,792.30 L523.77,792.30 L524.68,792.30 L525.59,792.30 L526.49,792.30 L527.40,792.30 L528.31,792.30 L529.22,792.30 L530.13,792.30 L531.04,792.30 L531.95,792.30 L532.85,792.30 L533.76,792.30 L534.67,792.30 L535.58,792.30 L536.49,792.30 L537.40,792.30 L538.31,792.30 L539.22,792.30 L540.12,792.30 L541.03,792.30 L541.94,792.30 L542.85,792.30 L543.76,792.26 L544.67,792.03 L545.58,790.72 L546.48,785.60 L547.39,771.23 L548.30,743.37 L549.21,708.33 L550.12,685.80 L551.03,689.68 L551.94,711.17 L552.84,739.46 L553.75,763.94 L554.66,779.75 L555.57,787.73 L556.48,790.93 L557.39,791.96 L558.30,792.23 L559.20,792.29 L560.11,792.30 L561.02,792.30 L561.93,792.30 L562.84,792.30 L563.75,792.30 L564.66,792.30 L565.56,792.30 L566.47,792.30 L567.38,792.30 L568.29,792.30 L569.20,792.30 L570.11,792.30 L571.02,792.30" fill="none" stroke="#ee98b0" stroke-width="1.20" />
<path d="M516.50,792.30 L517.60,792.30 L518.71,792.30 L519.81,792.30 L520.91,792.30 L522.02,792.30 L523.12,792.30 L524.22,792.30 L525.33,792.30 L526.43,792.30 L527.53,792.30 L528.64,792.30 L529.74,792.30 L530.84,792.30 L531.95,792.30 L533.05,792.30 L534.15,792.30 L535.26,792.30 L536.36,792.30 L537.46,792.30 L538.57,792.30 L539.67,792.30 L540.77,792.30 L541.88,792.30 L542.98,792.30 L544.08,792.30 L545.19,792.30 L546.29,792.30 L547.39,792.30 L548.50,792.30 L549.60,792.30 L550.70,792.28 L551.81,792.17 L552.91,791.45 L554.01,788.44 L555.12,779.67 L556.22,762.53 L557.32,741.72 L558.43,730.37 L559.53,732.49 L560.63,739.85 L561.74,750.47 L562.84,761.97 L563.94,772.30 L565.05,780.30 L566.15,785.76 L567.25,789.06 L568.36,790.84 L569.46,791.70 L570.56,792.08 L571.67,792.22 L572.77,792.28 L573.87,792.29 L574.97,792.30 L576.08,792.30 L577.18,792.30 L578.28,792.30 L579.39,792.30 L580.49,792.30 L581.59,792.30 L582.70,792.30" fill="none" stroke="#8ab4de" stroke-width="1.20" />
<path d="M621.64,792.30 C620.03,792.25 610.61,792.55 612.00,792.00 C613.39,791.45 624.67,789.83 630.00,789.00 C635.33,788.17 639.00,787.25 644.00,787.00 C649.00,786.75 652.33,787.25 660.00,787.50 C667.67,787.75 681.50,788.17 690.00,788.50 C698.50,788.83 707.50,789.33 711.00,789.50" fill="none" stroke="#8ab4de" stroke-width="1.20" />
<path d="M609.96,792.30 C610.64,792.20 611.32,792.11 612.00,792.00 C618.00,791.03 624.00,789.37 630.00,788.50 C634.87,787.80 639.73,786.80 644.60,786.80 C649.73,786.80 654.87,788.78 660.00,789.50 C666.67,790.43 673.33,791.64 680.00,791.80 C690.33,792.05 700.67,792.07 711.00,792.20" fill="none" stroke="#ee98b0" stroke-width="1.20" />
<path d="M553.00,792.00 C554.33,788.00 555.67,784.80 557.00,780.00 C558.33,775.20 559.67,766.64 561.00,762.00 C562.67,756.20 564.33,749.31 566.00,748.00 C567.77,746.61 569.53,745.62 571.30,745.60 C577.53,745.52 583.77,745.54 590.00,745.50 C599.40,745.43 608.80,745.43 618.20,745.20 C621.80,745.11 625.40,742.56 629.00,740.00 C632.67,737.39 636.33,730.96 640.00,725.00 C643.33,719.58 646.67,711.98 650.00,705.00 C653.33,698.02 656.67,691.78 660.00,683.00 C663.67,673.34 667.33,658.73 671.00,646.60" fill="none" stroke="#8ab4de" stroke-width="1.00" stroke-dasharray="4 1.5 1 1.5"/>
<path d="M545.00,792.30 C546.33,790.97 547.67,788.44 549.00,788.30 C551.00,788.10 553.00,788.00 555.00,788.00 C576.00,788.00 597.00,788.00 618.00,788.00 C628.67,788.00 639.33,786.03 650.00,785.00 C660.00,784.03 670.00,782.91 680.00,782.00 C690.33,781.06 700.67,780.27 711.00,779.40" fill="none" stroke="#c0d2ee" stroke-width="1.00" stroke-dasharray="4 1.5 1 1.5"/>
<rect x="516.50" y="646.60" width="194.70" height="145.70" fill="none" stroke="#505050" stroke-width="1.2"/>
<line x1="516.50" y1="792.30" x2="516.50" y2="795.10" stroke="#505050" stroke-width="1"/>
<line x1="555.44" y1="792.30" x2="555.44" y2="795.10" stroke="#505050" stroke-width="1"/>
<line x1="594.38" y1="792.30" x2="594.38" y2="795.10" stroke="#505050" stroke-width="1"/>
<line x1="633.32" y1="792.30" x2="633.32" y2="795.10" stroke="#505050" stroke-width="1"/>
<line x1="672.26" y1="792.30" x2="672.26" y2="795.10" stroke="#505050" stroke-width="1"/>
<line x1="711.20" y1="792.30" x2="711.20" y2="795.10" stroke="#505050" stroke-width="1"/>
<line x1="535.97" y1="792.30" x2="535.97" y2="793.90" stroke="#505050" stroke-width="1"/>
<line x1="574.91" y1="792.30" x2="574.91" y2="793.90" stroke="#505050" stroke-width="1"/>
<line x1="613.85" y1="792.30" x2="613.85" y2="793.90" stroke="#505050" stroke-width="1"/>
<line x1="652.79" y1="792.30" x2="652.79" y2="793.90" stroke="#505050" stroke-width="1"/>
<line x1="691.73" y1="792.30" x2="691.73" y2="793.90" stroke="#505050" stroke-width="1"/>
<line x1="513.70" y1="792.30" x2="516.50" y2="792.30" stroke="#505050" stroke-width="1"/>
<line x1="513.70" y1="763.16" x2="516.50" y2="763.16" stroke="#505050" stroke-width="1"/>
<line x1="513.70" y1="734.02" x2="516.50" y2="734.02" stroke="#505050" stroke-width="1"/>
<line x1="513.70" y1="704.88" x2="516.50" y2="704.88" stroke="#505050" stroke-width="1"/>
<line x1="513.70" y1="675.74" x2="516.50" y2="675.74" stroke="#505050" stroke-width="1"/>
<line x1="513.70" y1="646.60" x2="516.50" y2="646.60" stroke="#505050" stroke-width="1"/>
<line x1="514.90" y1="777.73" x2="516.50" y2="777.73" stroke="#505050" stroke-width="1"/>
<line x1="514.90" y1="748.59" x2="516.50" y2="748.59" stroke="#505050" stroke-width="1"/>
<line x1="514.90" y1="719.45" x2="516.50" y2="719.45" stroke="#505050" stroke-width="1"/>
<line x1="514.90" y1="690.31" x2="516.50" y2="690.31" stroke="#505050" stroke-width="1"/>
<line x1="514.90" y1="661.17" x2="516.50" y2="661.17" stroke="#505050" stroke-width="1"/>
<line x1="711.20" y1="792.30" x2="714.00" y2="792.30" stroke="#505050" stroke-width="1"/>
<line x1="711.20" y1="763.16" x2="714.00" y2="763.16" stroke="#505050" stroke-width="1"/>
<line x1="711.20" y1="734.02" x2="714.00" y2="734.02" stroke="#505050" stroke-width="1"/>
<line x1="711.20" y1="704.88" x2="714.00" y2="704.88" stroke="#505050" stroke-width="1"/>
<line x1="711.20" y1="675.74" x2="714.00" y2="675.74" stroke="#505050" stroke-width="1"/>
<line x1="711.20" y1="646.60" x2="714.00" y2="646.60" stroke="#505050" stroke-width="1"/>
<line x1="711.20" y1="777.73" x2="712.80" y2="777.73" stroke="#505050" stroke-width="1"/>
<line x1="711.20" y1="748.59" x2="712.80" y2="748.59" stroke="#505050" stroke-width="1"/>
<line x1="711.20" y1="719.45" x2="712.80" y2="719.45" stroke="#505050" stroke-width="1"/>
<line x1="711.20" y1="690.31" x2="712.80" y2="690.31" stroke="#505050" stroke-width="1"/>
<line x1="711.20" y1="661.17" x2="712.80" y2="661.17" stroke="#505050" stroke-width="1"/>
<text x="516.50" y="805.80" font-size="10.00" text-anchor="middle" font-weight="bold" fill="#000" >1</text>
<text x="513.00" y="795.90" font-size="10.00" text-anchor="end" font-weight="bold" fill="#000" >0</text>
<text x="715.00" y="795.90" font-size="10.00" text-anchor="start" font-weight="bold" fill="#000" >0</text>
<text x="555.44" y="805.80" font-size="10.00" text-anchor="middle" font-weight="bold" fill="#000" >2</text>
<text x="513.00" y="766.76" font-size="10.00" text-anchor="end" font-weight="bold" fill="#000" >10</text>
<text x="715.00" y="766.76" font-size="10.00" text-anchor="start" font-weight="bold" fill="#000" >3</text>
<text x="594.38" y="805.80" font-size="10.00" text-anchor="middle" font-weight="bold" fill="#000" >3</text>
<text x="513.00" y="737.62" font-size="10.00" text-anchor="end" font-weight="bold" fill="#000" >20</text>
<text x="715.00" y="737.62" font-size="10.00" text-anchor="start" font-weight="bold" fill="#000" >6</text>
<text x="633.32" y="805.80" font-size="10.00" text-anchor="middle" font-weight="bold" fill="#000" >4</text>
<text x="513.00" y="708.48" font-size="10.00" text-anchor="end" font-weight="bold" fill="#000" >30</text>
<text x="715.00" y="708.48" font-size="10.00" text-anchor="start" font-weight="bold" fill="#000" >9</text>
<text x="672.26" y="805.80" font-size="10.00" text-anchor="middle" font-weight="bold" fill="#000" >5</text>
<text x="513.00" y="679.34" font-size="10.00" text-anchor="end" font-weight="bold" fill="#000" >40</text>
<text x="715.00" y="679.34" font-size="10.00" text-anchor="start" font-weight="bold" fill="#000" >12</text>
<text x="711.20" y="805.80" font-size="10.00" text-anchor="middle" font-weight="bold" fill="#000" >6</text>
<text x="513.00" y="650.20" font-size="10.00" text-anchor="end" font-weight="bold" fill="#000" >50</text>
<text x="715.00" y="650.20" font-size="10.00" text-anchor="start" font-weight="bold" fill="#000" >15</text>
<text x="613.85" y="819.00" font-size="13.00" text-anchor="middle" font-weight="bold" fill="#000" >r (Å)</text>
<text x="0.00" y="0.00" font-size="13.00" text-anchor="middle" font-weight="bold" fill="#000" transform="translate(494,719.5) rotate(-90)" >g (r)</text>
<text x="0.00" y="0.00" font-size="13.00" text-anchor="middle" font-weight="bold" fill="#000" transform="translate(743.5,719.5) rotate(-90)" >Coordination number</text>
<text x="471.20" y="636.70" font-size="30.50" text-anchor="start" font-weight="normal" fill="#000" >l)</text>
<text x="521.50" y="659.00" font-size="9.20" text-anchor="start" font-weight="normal" fill="#333" >1 M ZnSO<tspan font-size="6" dy="2">4</tspan><tspan dy="-2"> in H</tspan><tspan font-size="6" dy="2">2</tspan><tspan dy="-2">O + VL</tspan></text>
<line x1="568.4" y1="669.5" x2="589" y2="669.5" stroke="#8ab4de" stroke-width="1.3"/>
<text x="590.40" y="672.80" font-size="9.20" text-anchor="start" font-weight="normal" fill="#333" >Zn<tspan font-size="6" dy="-3.5">2+</tspan><tspan dy="3.5">-O (H</tspan><tspan font-size="6" dy="2">2</tspan><tspan dy="-2">O)</tspan></text>
<line x1="568.4" y1="683.8" x2="589" y2="683.8" stroke="#ee98b0" stroke-width="1.3"/>
<text x="590.40" y="687.10" font-size="9.20" text-anchor="start" font-weight="normal" fill="#333" >Zn<tspan font-size="6" dy="-3.5">2+</tspan><tspan dy="3.5">-O (VL)</tspan></text>
<clipPath id="mclip"><rect x="821.6" y="443.2" width="195.6" height="146.4"/></clipPath>
<g clip-path="url(#mclip)">
<path d="M821.50,562.40 C823.10,556.20 824.70,550.15 826.30,543.80 C827.73,538.11 829.17,529.35 830.60,526.30 C832.43,522.40 834.27,519.10 836.10,518.60 C838.67,517.90 841.23,517.62 843.80,517.50 C848.87,517.26 853.93,517.12 859.00,517.10 C894.00,516.94 929.00,517.05 964.00,516.90 C979.33,516.84 994.67,516.28 1010.00,514.20 C1011.83,513.95 1013.67,513.14 1015.50,511.00 C1016.00,510.42 1016.50,507.33 1017.00,505.50" fill="none" stroke="#ee98b0" stroke-width="1.20" />
<path d="M824.70,590.00 C826.30,577.50 827.90,560.76 829.50,552.50 C830.60,546.82 831.70,541.72 832.80,539.40 C835.00,534.75 837.20,532.50 839.40,530.60 C841.93,528.41 844.47,527.33 847.00,525.80 C847.97,525.22 848.93,525.00 849.90,524.10 C850.77,523.30 851.63,519.01 852.50,518.60 C854.67,517.58 856.83,517.23 859.00,517.10 C875.80,516.12 892.60,516.33 909.40,515.80 C931.27,515.11 953.13,514.75 975.00,513.10 C979.37,512.77 983.73,512.37 988.10,511.00 C990.30,510.31 992.50,506.39 994.70,502.20 C996.90,498.01 999.10,489.32 1001.30,480.30 C1003.10,472.92 1004.90,459.87 1006.70,451.90 C1007.43,448.65 1008.17,446.10 1008.90,443.20" fill="none" stroke="#86b0de" stroke-width="1.20" />
</g>
<rect x="821.60" y="443.20" width="195.60" height="146.40" fill="none" stroke="#505050" stroke-width="1.2"/>
<line x1="858.70" y1="589.60" x2="858.70" y2="592.40" stroke="#505050" stroke-width="1"/>
<line x1="911.53" y1="589.60" x2="911.53" y2="592.40" stroke="#505050" stroke-width="1"/>
<line x1="964.37" y1="589.60" x2="964.37" y2="592.40" stroke="#505050" stroke-width="1"/>
<line x1="1017.20" y1="589.60" x2="1017.20" y2="592.40" stroke="#505050" stroke-width="1"/>
<line x1="832.28" y1="589.60" x2="832.28" y2="591.20" stroke="#505050" stroke-width="1"/>
<line x1="885.12" y1="589.60" x2="885.12" y2="591.20" stroke="#505050" stroke-width="1"/>
<line x1="937.95" y1="589.60" x2="937.95" y2="591.20" stroke="#505050" stroke-width="1"/>
<line x1="990.78" y1="589.60" x2="990.78" y2="591.20" stroke="#505050" stroke-width="1"/>
<line x1="818.80" y1="589.60" x2="821.60" y2="589.60" stroke="#505050" stroke-width="1"/>
<line x1="818.80" y1="565.20" x2="821.60" y2="565.20" stroke="#505050" stroke-width="1"/>
<line x1="818.80" y1="540.80" x2="821.60" y2="540.80" stroke="#505050" stroke-width="1"/>
<line x1="818.80" y1="516.40" x2="821.60" y2="516.40" stroke="#505050" stroke-width="1"/>
<line x1="818.80" y1="492.00" x2="821.60" y2="492.00" stroke="#505050" stroke-width="1"/>
<line x1="818.80" y1="467.60" x2="821.60" y2="467.60" stroke="#505050" stroke-width="1"/>
<line x1="818.80" y1="443.20" x2="821.60" y2="443.20" stroke="#505050" stroke-width="1"/>
<line x1="820.00" y1="577.40" x2="821.60" y2="577.40" stroke="#505050" stroke-width="1"/>
<line x1="820.00" y1="553.00" x2="821.60" y2="553.00" stroke="#505050" stroke-width="1"/>
<line x1="820.00" y1="528.60" x2="821.60" y2="528.60" stroke="#505050" stroke-width="1"/>
<line x1="820.00" y1="504.20" x2="821.60" y2="504.20" stroke="#505050" stroke-width="1"/>
<line x1="820.00" y1="479.80" x2="821.60" y2="479.80" stroke="#505050" stroke-width="1"/>
<line x1="820.00" y1="455.40" x2="821.60" y2="455.40" stroke="#505050" stroke-width="1"/>
<text x="858.70" y="603.10" font-size="10.00" text-anchor="middle" font-weight="bold" fill="#000" >0</text>
<text x="911.53" y="603.10" font-size="10.00" text-anchor="middle" font-weight="bold" fill="#000" >1</text>
<text x="964.37" y="603.10" font-size="10.00" text-anchor="middle" font-weight="bold" fill="#000" >2</text>
<text x="1017.20" y="603.10" font-size="10.00" text-anchor="middle" font-weight="bold" fill="#000" >3</text>
<text x="816.60" y="593.10" font-size="9.60" text-anchor="end" font-weight="bold" fill="#000" >-0.09</text>
<text x="816.60" y="568.70" font-size="9.60" text-anchor="end" font-weight="bold" fill="#000" >-0.06</text>
<text x="816.60" y="544.30" font-size="9.60" text-anchor="end" font-weight="bold" fill="#000" >-0.03</text>
<text x="816.60" y="519.90" font-size="9.60" text-anchor="end" font-weight="bold" fill="#000" >0.00</text>
<text x="816.60" y="495.50" font-size="9.60" text-anchor="end" font-weight="bold" fill="#000" >0.03</text>
<text x="816.60" y="471.10" font-size="9.60" text-anchor="end" font-weight="bold" fill="#000" >0.06</text>
<text x="816.60" y="446.70" font-size="9.60" text-anchor="end" font-weight="bold" fill="#000" >0.09</text>
<text x="0.00" y="0.00" font-size="13.00" text-anchor="middle" font-weight="bold" fill="#000" transform="translate(789,516.4) rotate(-90)">Current (A)</text>
<text x="918.90" y="620.50" font-size="13.00" text-anchor="middle" font-weight="bold" fill="#000" >Potential (V vs Zn/Zn<tspan font-size="8.5" dy="-5">2+</tspan><tspan dy="5">)</tspan></text>
<text x="754.40" y="435.80" font-size="30.50" text-anchor="start" font-weight="normal" fill="#000" >m)</text>
<line x1="827.3" y1="454.7" x2="846" y2="454.7" stroke="#86b0de" stroke-width="1.3"/>
<text x="848.10" y="458.00" font-size="9.20" text-anchor="start" font-weight="normal" fill="#333" >Without VL</text>
<line x1="827.3" y1="466.1" x2="846" y2="466.1" stroke="#ee98b0" stroke-width="1.3"/>
<text x="848.10" y="469.40" font-size="9.20" text-anchor="start" font-weight="normal" fill="#333" >With VL</text>
<text x="762.60" y="636.70" font-size="30.50" text-anchor="start" font-weight="normal" fill="#000" >n)</text>
<rect x="781.5" y="647.2" width="236.6" height="168.3" fill="url(#nframe)"/>
<rect x="781.5" y="647.2" width="236.6" height="3.5" fill="#b4dcf0"/>
<rect x="781.5" y="812.5" width="236.6" height="3" fill="#b4dcf0"/>
<rect x="785.2" y="650.8" width="230.1" height="81.2" fill="url(#n1bg)"/>
<rect x="785.2" y="731.5" width="230.1" height="81.3" fill="url(#n2bg)"/>
<clipPath id="n1c"><rect x="785.2" y="650.8" width="230.1" height="80.7"/></clipPath>
<clipPath id="n2c"><rect x="785.2" y="731.5" width="230.1" height="81.3"/></clipPath>
<g clip-path="url(#n1c)">
<path d="M833.9,705.4 A82,82 0 0 1 966.7,705.4 C958,718 945,726 928,728 L872,728 C855,726 842,718 833.9,705.4 Z" fill="#050505"/>
<ellipse cx="902" cy="697" rx="10" ry="8" fill="#808080" opacity="0.75" filter="url(#blur1)"/>
<ellipse cx="901" cy="719" rx="9" ry="5" fill="#707070" opacity="0.6" filter="url(#blur1)"/>
<circle cx="900.3" cy="753.5" r="82" fill="none" stroke="#7a4ac8" stroke-width="0.9"/>
<path d="M833.9,705.4 L865.6,651 M966.7,705.4 L935.8,651 M833.9,705.4 L966.7,705.4" stroke="#a82020" stroke-width="1"/>
</g>
<text x="862.00" y="692.30" font-size="22.50" text-anchor="start" font-weight="normal" fill="#fff" >62.71 <tspan font-size="16" dy="-6.5">o</tspan></text>
<g clip-path="url(#n2c)">
<ellipse cx="906.4" cy="797" rx="59.8" ry="43.5" fill="#050505"/>
<ellipse cx="904.4" cy="801" rx="10" ry="10" fill="#c8c8c8" opacity="0.85" filter="url(#blur1)"/>
<ellipse cx="906.4" cy="797" rx="59.8" ry="43.5" fill="none" stroke="#7a4ac8" stroke-width="0.9"/>
<path d="M846.7,796.6 L856,736.5 M966.1,794.2 L950.4,736.5 M846.7,796.6 L966.1,794.2" stroke="#a82020" stroke-width="1"/>
</g>
<text x="865.20" y="770.10" font-size="22.50" text-anchor="start" font-weight="normal" fill="#fff" >80.95 <tspan font-size="16" dy="-6.5">o</tspan></text>
</svg></body></html>
